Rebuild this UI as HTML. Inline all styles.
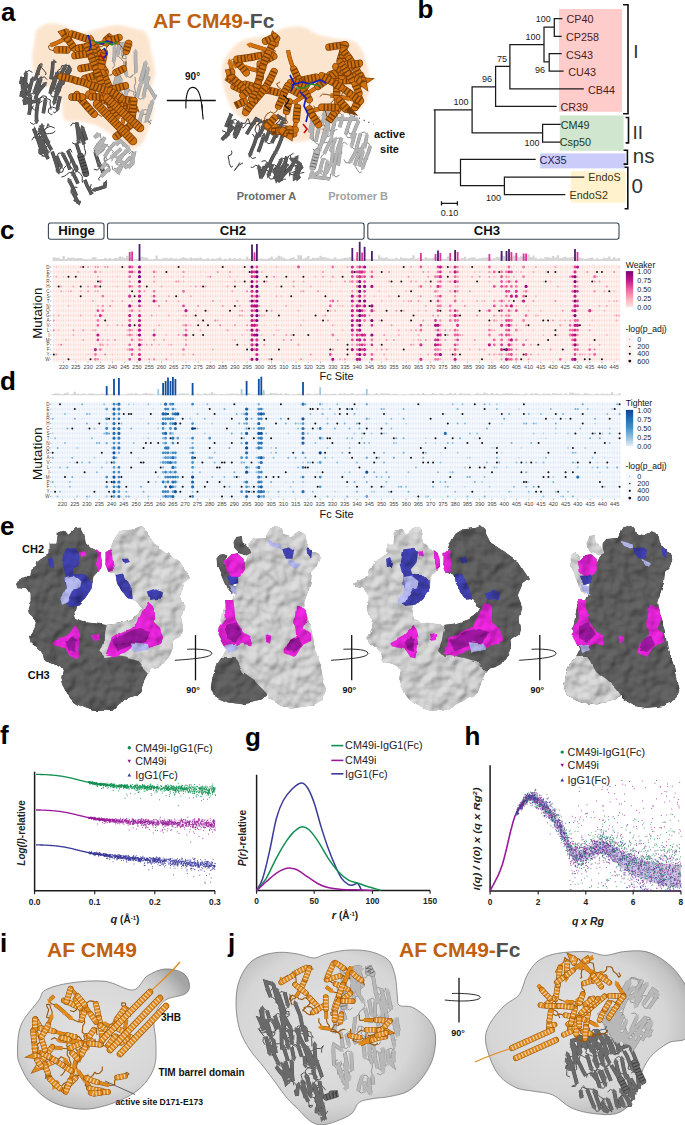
<!DOCTYPE html>
<html><head><meta charset="utf-8"><style>
html,body{margin:0;padding:0;background:#fff;}
body{width:685px;height:1125px;overflow:hidden;}
svg{display:block;}
text{font-family:"Liberation Sans", sans-serif;}
</style></head><body>
<svg width="685" height="1125" viewBox="0 0 685 1125">
<rect width="685" height="1125" fill="#fff"/>
<filter id="soft" x="-10%" y="-10%" width="120%" height="120%"><feGaussianBlur stdDeviation="1.6"/></filter>
<path d="M37.0 30.0C39.0 27.3 42.8 24.5 47.0 23.7C51.2 22.9 56.2 23.6 62.0 25.0C67.8 26.4 75.8 31.8 82.0 32.4C88.2 33.0 93.2 29.8 99.0 28.6C104.8 27.4 110.9 25.0 116.7 25.0C122.5 25.0 129.1 27.2 134.0 28.6C138.9 30.0 143.5 29.7 146.4 33.6C149.3 37.5 150.0 45.8 151.4 52.2C152.8 58.6 155.0 65.8 155.0 72.0C155.0 78.2 151.6 83.3 151.4 89.5C151.2 95.7 154.4 103.1 154.0 109.3C153.6 115.5 151.1 120.9 149.0 126.7C146.9 132.5 144.8 140.3 141.5 144.0C138.2 147.7 133.1 149.8 129.0 149.0C124.9 148.2 121.7 142.7 116.7 139.0C111.8 135.3 105.1 129.6 99.3 126.7C93.5 123.8 87.8 123.0 82.0 121.7C76.2 120.5 68.2 123.3 64.5 119.2C60.8 115.1 64.2 103.6 59.6 97.0C55.1 90.4 41.8 85.7 37.2 79.5C32.7 73.3 32.7 66.3 32.3 59.7C31.9 53.1 33.9 44.8 34.7 39.8C35.5 34.8 35.0 32.7 37.0 30.0Z" fill="#fce5cf" filter="url(#soft)"/>
<path d="M55.9 96.5 52.1 96.9 50.1 93.6M55.4 76.4 59.1 75.5 61.6 78.4M56.6 73.1 58.6 69.8 60.5 69.1M60.5 69.1 61.9 65.6 63.8 65.5 63.9 69.0 65.9 69.3M27.5 99.6 27.0 103.4 23.5 104.7M40.8 77.8 44.5 76.8 47.1 79.6M39.7 98.4 42.7 95.8 46.3 96.4 46.7 98.4M46.7 98.4 50.4 99.9 50.0 103.9 50.8 107.8 51.0 109.8M63.0 77.6 60.2 80.5 58.6 84.1M28.3 111.4 28.1 111.1 31.6 109.2 33.4 105.6M42.4 101.1 39.1 103.0 38.0 101.4M38.0 101.4 36.2 98.0 36.7 94.1M57.2 110.0 54.9 113.0 53.2 111.9M39.3 75.0 38.6 71.4 40.4 67.9 39.7 64.1 40.0 66.0M65.3 80.2 61.6 80.9 59.2 77.9M65.6 65.5 69.4 65.3 71.3 68.7M22.1 81.1 25.9 80.9 27.8 84.2M32.2 104.1 31.4 100.3 27.9 98.4 24.6 96.3M25.9 72.4 29.1 70.4 32.4 72.4M38.2 67.4 40.1 63.9 42.2 63.9M42.2 63.9 41.5 67.5 43.8 70.1 46.1 73.1 45.4 75.0M58.0 77.9 55.3 80.3 53.9 83.9 54.9 87.7 55.1 89.7M63.2 75.0 61.2 71.8 57.4 72.2M52.6 89.6 55.0 92.5 58.8 91.6M30.1 94.9 33.3 92.7 36.6 94.6M52.4 114.2 51.3 114.7 48.2 112.3 48.9 108.4M48.9 108.4 52.1 106.9 55.5 108.2M59.9 91.7 60.7 88.0 62.3 84.5M69.8 70.1 66.5 72.0 63.3 70.0M32.5 78.3 36.1 77.1 38.9 79.7M45.5 99.4 42.6 96.9 39.1 98.4M36.7 122.1 33.6 124.4 30.2 122.6M35.0 110.6 32.3 107.8 30.4 107.1" fill="none" stroke="#3a3a3a" stroke-width="1.0" stroke-linejoin="round"/>
<path d="M63.5 78.0 61.3 83.6 59.1 89.2 56.8 94.7 56.8 94.7M50.1 93.6 51.6 87.8 53.6 82.1 54.8 78.3M21.9 77.2 22.2 83.1 22.8 89.1 22.8 89.1M23.2 91.1 21.1 96.7 21.5 94.3 25.9 98.3 25.9 98.3M35.3 99.1 37.2 93.4 38.5 87.6 39.8 81.7 40.3 79.8M58.6 84.1 57.3 90.0 56.0 95.8 54.5 101.6 54.5 101.6M36.7 94.1 40.2 89.2 44.2 84.7 44.2 84.7M60.1 96.3 58.7 102.1 57.5 108.0 57.5 108.0M40.0 66.0 37.9 71.6 36.0 77.3 36.0 77.3M70.6 69.4 67.6 74.7 66.0 78.3M59.2 77.9 61.9 72.6 64.6 67.2 64.6 67.2M22.2 76.9 21.0 82.8 21.1 82.9M27.8 84.2 24.9 89.4 22.0 94.6 22.3 94.8M24.6 96.3 25.2 90.4 25.4 84.4 25.7 78.4 25.9 74.4M24.0 99.3 24.8 102.9 30.8 101.9 36.7 101.1 36.7 101.1M56.8 89.7 59.1 84.1 61.6 78.7 62.4 76.8M57.4 72.2 55.8 78.0 54.2 83.8 53.2 87.7M29.0 114.8 30.0 108.9 30.1 102.9 30.2 96.9 30.2 96.9M62.3 84.5 64.4 78.9 66.4 73.3 69.1 67.9 69.8 68.1M50.9 79.3 51.9 73.4 52.6 67.5 52.9 61.5 52.9 61.5M27.7 95.7 29.5 89.9 31.0 84.2 32.1 80.3M38.9 79.7 36.8 85.3 34.9 91.0 34.9 91.0M43.3 113.2 44.3 107.3 45.2 101.4 45.2 101.4M39.1 98.4 37.6 104.2 36.8 110.2 36.4 116.2 36.6 120.2" fill="none" stroke="#3a3a3a" stroke-width="3.6"/>
<path d="M63.5 78.0 61.3 83.6 59.1 89.2 56.8 94.7 56.8 94.7M50.1 93.6 51.6 87.8 53.6 82.1 54.8 78.3M21.9 77.2 22.2 83.1 22.8 89.1 22.8 89.1M23.2 91.1 21.1 96.7 21.5 94.3 25.9 98.3 25.9 98.3M35.3 99.1 37.2 93.4 38.5 87.6 39.8 81.7 40.3 79.8M58.6 84.1 57.3 90.0 56.0 95.8 54.5 101.6 54.5 101.6M36.7 94.1 40.2 89.2 44.2 84.7 44.2 84.7M60.1 96.3 58.7 102.1 57.5 108.0 57.5 108.0M40.0 66.0 37.9 71.6 36.0 77.3 36.0 77.3M70.6 69.4 67.6 74.7 66.0 78.3M59.2 77.9 61.9 72.6 64.6 67.2 64.6 67.2M22.2 76.9 21.0 82.8 21.1 82.9M27.8 84.2 24.9 89.4 22.0 94.6 22.3 94.8M24.6 96.3 25.2 90.4 25.4 84.4 25.7 78.4 25.9 74.4M24.0 99.3 24.8 102.9 30.8 101.9 36.7 101.1 36.7 101.1M56.8 89.7 59.1 84.1 61.6 78.7 62.4 76.8M57.4 72.2 55.8 78.0 54.2 83.8 53.2 87.7M29.0 114.8 30.0 108.9 30.1 102.9 30.2 96.9 30.2 96.9M62.3 84.5 64.4 78.9 66.4 73.3 69.1 67.9 69.8 68.1M50.9 79.3 51.9 73.4 52.6 67.5 52.9 61.5 52.9 61.5M27.7 95.7 29.5 89.9 31.0 84.2 32.1 80.3M38.9 79.7 36.8 85.3 34.9 91.0 34.9 91.0M43.3 113.2 44.3 107.3 45.2 101.4 45.2 101.4M39.1 98.4 37.6 104.2 36.8 110.2 36.4 116.2 36.6 120.2" fill="none" stroke="#5a5a5a" stroke-width="2.8"/>
<path d="M54.4 93.5L59.2 95.9L54.9 98.5ZM57.3 79.2L52.2 77.5L56.1 74.3ZM20.2 89.6L25.5 88.7L23.6 93.3ZM24.3 100.4L27.6 96.3L29.2 101.0ZM42.8 80.5L37.7 79.1L41.4 75.7ZM51.9 100.9L57.1 102.3L53.4 105.7ZM46.0 86.6L42.3 82.8L47.2 81.8ZM54.9 107.6L60.1 108.4L56.8 112.2ZM33.5 76.5L38.5 78.2L34.7 81.4ZM63.5 77.4L68.5 79.3L64.6 82.3ZM66.9 68.5L62.3 65.9L66.7 63.5ZM23.5 84.1L18.8 81.6L23.1 79.1ZM24.4 96.4L20.2 93.2L24.9 91.5ZM28.5 74.4L23.2 74.4L25.9 70.1ZM37.4 103.7L36.1 98.6L40.8 100.1ZM64.8 78.0L60.0 75.7L64.2 73.0ZM50.7 86.8L55.8 88.5L51.9 91.7ZM32.8 96.8L27.5 97.0L30.0 92.6ZM67.1 68.0L72.5 68.1L69.8 72.3ZM52.4 64.1L53.5 58.9L57.1 62.3ZM34.7 80.9L29.5 79.7L33.0 76.1ZM32.4 90.2L37.4 91.9L33.6 95.1ZM47.8 101.8L42.5 101.0L45.8 97.2ZM33.9 120.3L39.2 120.0L36.8 124.4Z" fill="#5a5a5a"/>
<path d="M34.4 126.6 35.4 130.0 38.2 132.6 39.7 136.1M39.4 150.6 41.0 147.2 44.9 147.1M55.4 131.1 52.9 133.0 49.5 133.6 45.7 133.9M45.7 133.9 44.5 130.1 46.8 127.4M46.8 127.4 48.1 123.7 48.6 124.2 49.1 126.1M71.8 190.5 73.6 187.2 77.4 187.4M80.9 142.9 77.9 142.1 76.3 143.2M72.4 173.0 74.0 169.6 77.9 169.4M54.7 128.1 51.1 126.5 49.1 126.7M49.1 126.7 45.7 128.5 43.1 131.0M48.8 143.6 46.8 146.8 43.0 146.5M62.5 153.3 58.7 153.0 56.7 156.2M61.4 167.2 59.3 170.4 55.5 170.0M58.6 172.6 62.6 172.0 63.8 168.3 66.5 165.4M71.1 160.7 73.7 163.6 77.2 165.5 78.1 169.4 77.2 171.2M77.2 171.2 80.2 173.4 82.3 176.7 82.2 180.7 82.6 182.7M40.0 144.9 37.8 142.0 36.4 138.4 39.4 136.8M47.4 153.0 45.4 156.2 41.6 155.9M61.4 177.1 64.7 176.0 66.3 174.8M66.3 174.8 69.5 172.4 73.4 173.1 72.9 169.6M72.9 169.6 70.8 166.9 69.3 165.5M69.3 165.5 70.6 161.7 70.6 159.7M77.8 156.9 79.9 155.6 83.6 157.1 84.8 155.4M84.8 155.4 85.7 152.1 84.4 148.3 84.1 144.4M76.5 123.7 72.7 123.1 70.5 126.2M72.0 152.4 70.2 148.9 67.7 150.5M76.5 170.6 74.1 173.6 70.3 172.8M37.7 137.3 33.9 137.0 31.8 140.2M37.8 139.8 35.6 137.0 37.5 134.4M37.5 134.4 41.1 133.1 44.5 133.1 44.3 131.1M104.0 183.7 105.4 187.4 105.8 184.4 106.4 180.5 105.4 182.3M93.3 190.3 90.4 187.8 91.2 184.1M95.0 153.0 94.2 150.2 95.1 152.0M100.0 167.2 97.5 170.1 93.8 169.2M103.6 172.9 100.9 175.7 98.6 178.7 99.4 180.5M41.6 151.2 41.8 155.2 43.6 156.1M34.7 136.5 36.7 139.8 40.4 138.5 42.1 139.6M45.2 151.2 48.8 152.5 51.5 149.9M39.3 129.3 40.9 125.8 44.7 125.8M78.6 142.4 75.5 144.5 72.1 142.7" fill="none" stroke="#3a3a3a" stroke-width="1.0" stroke-linejoin="round"/>
<path d="M39.7 136.1 40.4 142.1 41.0 148.1 41.5 154.0 40.4 152.3M74.3 199.1 78.5 202.2 80.3 203.1 80.3 203.1M78.3 202.9 75.6 197.5 72.7 192.3 72.7 192.3M76.3 143.2 78.1 148.9 80.0 154.6 80.0 154.6M78.0 183.6 75.5 178.2 73.6 174.7M43.1 131.0 41.2 125.3 41.0 125.3M41.3 127.3 43.5 132.9 46.1 138.3 47.9 141.8M86.5 140.1 84.6 134.4 82.7 128.7 82.7 128.7M69.9 169.6 67.9 164.0 65.2 158.6 63.4 155.1M56.7 156.2 58.9 161.8 60.6 165.4M52.2 151.6 54.1 157.3 56.0 163.0 57.7 168.7 58.1 170.7M39.4 136.8 42.0 142.2 44.8 147.6 46.5 151.2M76.4 195.7 74.0 190.2 71.5 184.8 69.6 181.3M84.1 144.4 82.3 138.6 80.2 133.0 77.9 127.5 77.2 125.6M67.7 150.5 70.1 156.0 72.8 161.3 75.1 166.9 75.8 168.7M48.2 158.9 45.5 153.6 42.9 148.1 40.2 142.8 38.6 139.1M105.4 182.3 104.8 186.7 99.1 188.5 95.2 189.6M95.1 152.0 96.9 157.7 98.6 163.4 99.3 165.3M96.4 156.5 98.4 162.1 101.1 167.5 102.7 171.2M33.6 128.6 35.8 134.2 37.9 139.8 39.8 145.5 41.0 149.3M42.1 139.6 43.7 145.4 44.8 149.2M51.5 149.9 48.4 144.7 45.3 139.6 42.3 134.4 40.3 130.9M84.8 179.9 87.0 185.5 89.8 190.8 91.7 194.3M76.7 122.5 77.4 128.5 78.2 134.4 78.6 140.4 78.6 140.4" fill="none" stroke="#3a3a3a" stroke-width="3.6"/>
<path d="M39.7 136.1 40.4 142.1 41.0 148.1 41.5 154.0 40.4 152.3M74.3 199.1 78.5 202.2 80.3 203.1 80.3 203.1M78.3 202.9 75.6 197.5 72.7 192.3 72.7 192.3M76.3 143.2 78.1 148.9 80.0 154.6 80.0 154.6M78.0 183.6 75.5 178.2 73.6 174.7M43.1 131.0 41.2 125.3 41.0 125.3M41.3 127.3 43.5 132.9 46.1 138.3 47.9 141.8M86.5 140.1 84.6 134.4 82.7 128.7 82.7 128.7M69.9 169.6 67.9 164.0 65.2 158.6 63.4 155.1M56.7 156.2 58.9 161.8 60.6 165.4M52.2 151.6 54.1 157.3 56.0 163.0 57.7 168.7 58.1 170.7M39.4 136.8 42.0 142.2 44.8 147.6 46.5 151.2M76.4 195.7 74.0 190.2 71.5 184.8 69.6 181.3M84.1 144.4 82.3 138.6 80.2 133.0 77.9 127.5 77.2 125.6M67.7 150.5 70.1 156.0 72.8 161.3 75.1 166.9 75.8 168.7M48.2 158.9 45.5 153.6 42.9 148.1 40.2 142.8 38.6 139.1M105.4 182.3 104.8 186.7 99.1 188.5 95.2 189.6M95.1 152.0 96.9 157.7 98.6 163.4 99.3 165.3M96.4 156.5 98.4 162.1 101.1 167.5 102.7 171.2M33.6 128.6 35.8 134.2 37.9 139.8 39.8 145.5 41.0 149.3M42.1 139.6 43.7 145.4 44.8 149.2M51.5 149.9 48.4 144.7 45.3 139.6 42.3 134.4 40.3 130.9M84.8 179.9 87.0 185.5 89.8 190.8 91.7 194.3M76.7 122.5 77.4 128.5 78.2 134.4 78.6 140.4 78.6 140.4" fill="none" stroke="#5a5a5a" stroke-width="2.8"/>
<path d="M42.7 150.9L38.2 153.8L38.2 148.8ZM80.7 200.5L79.9 205.8L76.1 202.5ZM75.0 191.0L70.4 193.5L70.7 188.5ZM77.5 155.5L82.5 153.7L81.5 158.6ZM75.8 173.2L71.3 176.2L71.2 171.2ZM38.4 125.7L43.6 124.9L41.6 129.5ZM45.6 143.0L50.3 140.6L49.9 145.6ZM85.2 127.9L80.2 129.6L81.3 124.7ZM65.8 153.9L61.0 156.3L61.5 151.3ZM58.2 166.6L63.0 164.3L62.4 169.3ZM55.5 171.4L60.7 169.9L59.2 174.7ZM44.1 152.4L48.9 150.0L48.4 155.0ZM72.0 180.0L67.3 182.5L67.7 177.5ZM79.7 124.6L74.8 126.6L75.6 121.7ZM73.3 169.6L78.3 167.8L77.2 172.7ZM41.0 138.0L36.2 140.3L36.7 135.3ZM94.4 187.1L96.1 192.1L91.2 191.0ZM96.8 166.1L101.9 164.5L100.7 169.3ZM100.4 172.4L105.1 170.0L104.6 174.9ZM38.5 150.1L43.5 148.5L42.3 153.3ZM42.2 149.7L47.4 148.7L45.6 153.4ZM42.6 129.5L38.1 132.4L38.1 127.4ZM94.1 193.1L89.4 195.4L89.9 190.5ZM75.9 140.5L81.2 140.3L78.7 144.6Z" fill="#5a5a5a"/>
<defs><path id="h1" d="M80.7 156.5 82.5 162.2 84.3 167.9 85.8 173.7" fill="none"/></defs>
<use href="#h1" stroke="#3a3a3a" stroke-width="6.7" stroke-linecap="round"/>
<use href="#h1" stroke="#5a5a5a" stroke-width="5.5" stroke-linecap="round"/>
<use href="#h1" stroke="#000" stroke-width="5.5" stroke-dasharray="0.9 2.3" stroke-linecap="butt" opacity="0.45"/>
<path d="M121.0 88.3 119.6 92.1 118.0 95.7 116.4 95.7M119.1 73.8 116.1 71.5 112.6 73.1M132.6 103.9 131.2 100.5 127.6 99.3 124.6 96.7 123.3 95.2M123.3 95.2 121.5 91.7 117.8 91.3 115.8 91.8M126.6 92.0 130.1 90.5 133.9 91.7 133.8 95.0M133.8 95.0 136.1 98.2 135.7 101.4 135.3 105.3 133.4 106.0M143.6 97.7 140.2 99.3 137.1 97.0M140.9 83.5 144.6 82.7 147.0 85.7M135.0 97.2 135.8 93.6 135.1 90.2 134.3 86.3M134.3 86.3 135.7 82.5 135.2 78.9 135.1 76.9M126.7 108.0 123.3 106.3 120.3 108.6M126.3 51.4 125.9 55.2 126.1 59.1M126.1 59.1 122.2 58.1 122.7 56.1M143.6 122.2 147.6 121.6 151.1 123.3 149.4 124.3M121.7 80.1 120.8 76.4 117.1 75.5M130.3 77.8 133.1 75.3 135.7 72.7M142.6 114.4 146.6 114.2 148.5 110.7 149.0 108.9M112.2 68.7 114.7 65.7 113.5 62.2M114.6 46.3 116.2 43.2 115.0 46.9 113.8 48.5M117.5 55.6 120.6 58.1 123.0 61.1 124.9 62.0M126.3 75.9 129.8 77.4 132.7 74.9M151.8 120.1 148.5 121.9 146.4 119.2M119.6 106.2 121.7 109.4 125.5 108.9M125.6 104.1 124.5 100.2 124.6 96.3 122.6 93.6M133.2 121.5 136.2 123.9 139.6 122.3M142.4 110.6 146.0 109.5 148.7 112.2" fill="none" stroke="#8a8a8a" stroke-width="1.0" stroke-linejoin="round"/>
<path d="M116.4 95.7 117.0 89.7 117.9 83.8 118.6 77.8 118.9 75.8M148.9 76.4 147.1 82.1 145.4 87.9 144.0 93.7 143.8 95.7M137.1 97.0 138.6 91.2 140.2 85.4 140.2 85.4M140.3 81.4 141.8 75.6 143.6 69.9 145.2 64.1 145.2 64.1M145.8 62.2 144.5 68.0 143.1 73.9 141.6 79.7 141.1 81.6M130.9 116.1 129.0 121.8 127.8 115.9 126.9 110.0 126.9 110.0M122.7 56.1 122.6 50.1 121.9 44.2 125.5 43.3 129.3 44.6M155.8 94.4 154.6 96.7 151.6 91.5 148.3 86.5 146.0 83.2M144.9 81.6 146.3 75.7 147.7 69.9 147.7 69.9M113.5 84.6 114.7 87.3 118.9 83.0 120.2 81.5M117.1 75.5 115.3 81.2 113.9 87.1 113.6 89.1M135.7 72.7 135.8 66.7 135.5 60.7 135.5 54.7 135.6 52.7M113.5 62.2 114.4 56.3 114.5 50.3 114.5 48.3M146.3 121.6 148.2 115.9 150.2 110.2 151.7 104.4 152.1 102.5M120.0 41.9 118.9 47.8 117.8 53.7 117.8 53.7M124.9 62.0 125.2 67.9 126.0 73.9 126.0 73.9M146.4 119.2 148.1 113.5 149.7 107.7 150.3 105.8M128.6 88.4 125.9 93.7 123.0 99.0 120.4 104.4 120.4 104.4M125.5 108.9 125.5 102.9 125.7 96.9 125.7 90.9 125.9 86.9M136.1 105.8 134.9 111.6 133.8 117.5 133.4 119.5M139.6 122.3 140.8 116.4 141.9 112.5" fill="none" stroke="#8a8a8a" stroke-width="3.6"/>
<path d="M116.4 95.7 117.0 89.7 117.9 83.8 118.6 77.8 118.9 75.8M148.9 76.4 147.1 82.1 145.4 87.9 144.0 93.7 143.8 95.7M137.1 97.0 138.6 91.2 140.2 85.4 140.2 85.4M140.3 81.4 141.8 75.6 143.6 69.9 145.2 64.1 145.2 64.1M145.8 62.2 144.5 68.0 143.1 73.9 141.6 79.7 141.1 81.6M130.9 116.1 129.0 121.8 127.8 115.9 126.9 110.0 126.9 110.0M122.7 56.1 122.6 50.1 121.9 44.2 125.5 43.3 129.3 44.6M155.8 94.4 154.6 96.7 151.6 91.5 148.3 86.5 146.0 83.2M144.9 81.6 146.3 75.7 147.7 69.9 147.7 69.9M113.5 84.6 114.7 87.3 118.9 83.0 120.2 81.5M117.1 75.5 115.3 81.2 113.9 87.1 113.6 89.1M135.7 72.7 135.8 66.7 135.5 60.7 135.5 54.7 135.6 52.7M113.5 62.2 114.4 56.3 114.5 50.3 114.5 48.3M146.3 121.6 148.2 115.9 150.2 110.2 151.7 104.4 152.1 102.5M120.0 41.9 118.9 47.8 117.8 53.7 117.8 53.7M124.9 62.0 125.2 67.9 126.0 73.9 126.0 73.9M146.4 119.2 148.1 113.5 149.7 107.7 150.3 105.8M128.6 88.4 125.9 93.7 123.0 99.0 120.4 104.4 120.4 104.4M125.5 108.9 125.5 102.9 125.7 96.9 125.7 90.9 125.9 86.9M136.1 105.8 134.9 111.6 133.8 117.5 133.4 119.5M139.6 122.3 140.8 116.4 141.9 112.5" fill="none" stroke="#b4b4b4" stroke-width="2.8"/>
<path d="M121.5 76.1L116.2 75.5L119.4 71.6ZM141.2 95.4L146.5 96.0L143.4 99.9ZM142.7 86.3L137.7 84.5L141.6 81.4ZM147.8 64.8L142.6 63.3L146.4 60.0ZM138.6 81.0L143.7 82.2L140.2 85.7ZM129.6 109.7L124.3 110.2L126.5 105.8ZM128.3 47.1L130.2 42.1L133.2 46.2ZM148.2 81.7L143.8 84.7L143.6 79.7ZM150.3 70.6L145.1 69.2L148.8 65.8ZM122.1 83.4L118.4 79.6L123.2 78.5ZM115.9 87.7L111.3 90.4L111.5 85.4ZM138.2 52.8L132.9 52.7L135.6 48.5ZM117.2 48.4L111.9 48.2L114.7 44.1ZM154.7 103.1L149.5 101.8L153.2 98.4ZM115.2 53.3L120.4 54.0L117.2 57.9ZM123.4 74.3L128.7 73.5L126.6 78.1ZM152.8 106.7L147.8 104.9L151.7 101.8ZM118.0 103.3L122.8 105.5L118.6 108.2ZM128.6 87.0L123.2 86.9L126.0 82.7ZM130.8 119.2L136.1 119.8L132.9 123.7ZM144.5 113.2L139.3 111.9L142.9 108.4Z" fill="#b4b4b4"/>
<path d="M99.1 147.8 95.5 149.3 94.3 153.1 96.3 149.7 94.7 148.5M94.7 148.5 96.3 145.0 97.1 143.2M133.0 161.6 129.7 160.5 126.3 162.1 125.0 163.6M125.0 163.6 121.3 164.8 117.3 165.0 115.9 163.5M127.3 149.6 125.8 146.1 122.0 145.8M97.1 144.1 101.0 143.7 105.0 144.1M105.0 144.1 107.8 145.9 110.4 149.0 113.4 151.5 112.2 153.1M129.0 154.1 131.7 151.2 133.1 151.6 131.5 155.3 130.4 157.0M116.1 170.8 112.5 169.4 112.1 165.6M128.9 148.6 128.2 152.3 124.6 153.4M109.3 167.5 107.7 163.9 104.5 161.8 104.1 158.1 106.0 157.3M106.0 157.3 107.2 160.0 104.1 160.7 104.5 156.8M133.7 161.9 132.6 158.2 128.8 157.6M98.1 161.3 98.7 163.3 101.8 165.8M101.8 165.8 105.8 165.7 109.3 166.6 110.0 170.3 109.4 172.2M131.3 161.5 128.0 159.6 124.8 161.7M119.0 172.2 117.6 168.6 113.8 168.3M116.3 156.7 112.6 157.6 111.8 161.3M104.9 164.3 108.6 164.9 109.8 168.5M105.2 172.3 104.3 168.6 100.6 167.7M108.1 144.2 104.8 146.2 104.2 149.9 101.7 152.7 99.7 152.8M99.7 152.8 96.0 153.8 95.3 153.4 97.1 151.6M110.7 157.9 107.5 159.9 104.3 162.2 103.1 163.8M99.5 134.4 100.2 134.4 101.1 138.3 101.8 140.2" fill="none" stroke="#8a8a8a" stroke-width="1.0" stroke-linejoin="round"/>
<path d="M104.9 137.2 102.0 142.5 100.1 146.0M115.9 163.5 119.8 158.9 123.6 154.4 126.1 151.2M130.4 157.0 126.5 161.5 122.1 165.6 117.6 169.6 117.6 169.6M116.2 145.2 120.0 140.6 124.5 144.5 127.4 147.2M105.7 144.9 101.7 149.3 97.4 153.6 96.5 151.0 96.7 149.0M104.5 156.8 107.7 151.7 111.2 146.8 113.9 143.9M133.5 161.7 132.3 163.3 128.3 167.8 132.4 163.4 132.4 163.4M131.7 154.7 134.1 153.8 132.8 159.7 131.3 165.5 131.3 163.5M124.8 161.7 121.4 166.6 118.7 172.0 117.8 173.8M129.5 165.1 125.9 166.9 121.9 162.4 117.7 158.1 117.7 158.1M102.3 167.4 101.0 168.9 103.6 165.8M109.8 168.5 105.3 172.5 101.1 176.8 103.7 173.7M121.3 148.7 116.8 152.6 112.3 156.6 112.3 156.6M98.6 133.3 94.4 137.6 97.8 135.4M101.8 140.2 98.1 144.9 94.7 149.8 99.0 145.6 100.5 144.3M119.0 157.7 123.7 153.9 128.4 150.1 129.7 148.5 129.7 148.5" fill="none" stroke="#8a8a8a" stroke-width="3.6"/>
<path d="M104.9 137.2 102.0 142.5 100.1 146.0M115.9 163.5 119.8 158.9 123.6 154.4 126.1 151.2M130.4 157.0 126.5 161.5 122.1 165.6 117.6 169.6 117.6 169.6M116.2 145.2 120.0 140.6 124.5 144.5 127.4 147.2M105.7 144.9 101.7 149.3 97.4 153.6 96.5 151.0 96.7 149.0M104.5 156.8 107.7 151.7 111.2 146.8 113.9 143.9M133.5 161.7 132.3 163.3 128.3 167.8 132.4 163.4 132.4 163.4M131.7 154.7 134.1 153.8 132.8 159.7 131.3 165.5 131.3 163.5M124.8 161.7 121.4 166.6 118.7 172.0 117.8 173.8M129.5 165.1 125.9 166.9 121.9 162.4 117.7 158.1 117.7 158.1M102.3 167.4 101.0 168.9 103.6 165.8M109.8 168.5 105.3 172.5 101.1 176.8 103.7 173.7M121.3 148.7 116.8 152.6 112.3 156.6 112.3 156.6M98.6 133.3 94.4 137.6 97.8 135.4M101.8 140.2 98.1 144.9 94.7 149.8 99.0 145.6 100.5 144.3M119.0 157.7 123.7 153.9 128.4 150.1 129.7 148.5 129.7 148.5" fill="none" stroke="#b4b4b4" stroke-width="2.8"/>
<path d="M97.8 144.7L102.4 147.3L98.0 149.7ZM128.3 152.8L124.0 149.7L128.6 147.8ZM116.0 167.5L119.3 171.7L114.3 172.2ZM125.7 149.2L129.2 145.2L130.6 150.1ZM99.3 149.4L94.0 148.7L97.2 144.8ZM115.7 145.8L112.0 142.0L116.9 140.9ZM134.4 165.1L130.4 161.6L135.2 160.2ZM134.0 163.4L128.7 163.6L131.2 159.3ZM120.0 175.4L115.7 172.2L120.3 170.4ZM119.6 156.2L115.9 160.0L114.7 155.1ZM105.6 167.5L101.6 164.1L106.3 162.6ZM105.6 175.6L101.9 171.8L106.7 170.7ZM110.6 154.6L114.0 158.7L109.0 159.3ZM99.1 137.7L96.4 133.2L101.4 133.2ZM102.2 146.4L98.8 142.3L103.8 141.6ZM128.5 146.1L130.8 150.9L125.9 150.3Z" fill="#b4b4b4"/>
<path d="M66.2 32.3 69.9 33.4 71.8 34.0M87.1 38.9 90.8 40.1 93.8 42.5 95.4 43.6M95.4 43.6 97.1 46.8 101.1 46.8 104.5 45.1M104.5 45.1 104.9 41.3 106.4 39.9M109.7 37.2 113.3 38.6 117.3 38.6 120.9 36.9 119.0 37.5M78.5 48.2 77.1 52.0 76.7 55.9 74.5 59.0M116.1 136.5 115.5 135.6 117.8 132.4 120.1 131.4M127.4 108.5 129.3 105.3 132.5 106.7 136.2 105.3M74.6 56.3 75.4 53.1 73.0 50.1 69.0 50.2 67.0 50.0M57.0 49.9 53.1 50.6 49.4 49.4 48.4 46.0 50.3 45.4M64.7 38.6 68.4 37.8 66.9 34.2M66.9 34.2 68.4 32.6 70.3 35.5 71.6 39.0M94.2 114.1 98.1 114.3 101.4 116.4M101.4 116.4 104.8 114.2 108.8 114.8 110.7 115.2M110.7 115.2 114.0 114.3 115.6 113.1M115.6 113.1 115.5 109.1 114.9 105.2M114.9 105.2 115.1 101.9 114.1 98.0M114.1 98.0 110.7 95.9 106.8 96.4 104.1 99.0 104.8 100.9M138.9 112.5 138.4 109.7 134.5 109.2M89.0 94.1 88.6 91.8 92.4 92.5 92.7 90.5M126.0 60.5 125.8 64.5 125.1 67.9 123.3 68.9M116.1 72.4 112.4 73.4 111.4 75.1M111.4 75.1 107.6 75.0 105.2 71.7M95.3 54.4 92.8 53.2 90.8 53.4M94.6 65.9 96.3 62.3 98.0 61.2M98.0 61.2 99.2 57.8 99.2 53.8 98.2 52.1M92.8 43.7 90.7 41.1 90.6 37.1 89.1 35.8M84.9 78.6 86.1 81.8 87.2 85.6 89.3 88.9 90.7 90.4M90.7 90.4 94.7 90.4 98.4 91.8 102.2 92.0M122.1 57.4 124.0 54.0 126.4 51.1M128.5 43.4 128.3 46.8 126.6 47.8M126.6 47.8 122.8 48.7 120.5 45.4 119.1 44.0M107.5 41.5 107.7 45.5 105.9 49.0 104.3 52.6M55.4 76.4 59.3 76.4 61.3 76.7M105.3 90.1 108.8 89.8 110.5 90.9" fill="none" stroke="#7e3c00" stroke-width="0.9" stroke-linejoin="round"/>
<path d="M109.5 40.5 103.7 42.2 98.0 43.8 92.1 45.2 92.1 45.2M120.1 131.4 121.7 125.6 123.4 119.8 123.4 119.8M124.1 118.0 126.4 112.4 126.9 110.5M50.3 45.4 55.9 43.3 61.3 40.7 63.0 39.6M104.5 76.1 102.7 70.4 101.2 64.5 100.7 62.6M89.1 35.8 92.0 39.0 93.1 44.9 93.2 46.9M82.0 97.0 88.0 96.7 89.9 96.8M119.1 44.0 114.8 39.8 110.1 36.1 108.4 39.7" fill="none" stroke="#7e3c00" stroke-width="4.2"/>
<path d="M109.5 40.5 103.7 42.2 98.0 43.8 92.1 45.2 92.1 45.2M120.1 131.4 121.7 125.6 123.4 119.8 123.4 119.8M124.1 118.0 126.4 112.4 126.9 110.5M50.3 45.4 55.9 43.3 61.3 40.7 63.0 39.6M104.5 76.1 102.7 70.4 101.2 64.5 100.7 62.6M89.1 35.8 92.0 39.0 93.1 44.9 93.2 46.9M82.0 97.0 88.0 96.7 89.9 96.8M119.1 44.0 114.8 39.8 110.1 36.1 108.4 39.7" fill="none" stroke="#d0700e" stroke-width="3.4"/>
<path d="M91.5 42.1L92.8 48.4L87.5 46.2ZM126.4 121.0L120.4 118.7L125.1 115.4ZM130.0 111.3L123.8 109.7L128.1 105.9ZM64.7 42.4L61.3 36.9L67.0 37.1ZM103.9 61.9L97.6 63.3L99.7 58.0ZM90.0 47.2L96.4 46.6L93.7 51.6ZM89.9 100.0L90.0 93.6L94.7 97.0ZM105.4 38.3L111.3 41.0L106.4 43.9Z" fill="#d0700e"/>
<defs><path id="h2" d="M74.0 47.8 70.5 42.9 66.9 38.1" fill="none"/></defs>
<use href="#h2" stroke="#7e3c00" stroke-width="7.4" stroke-linecap="round"/>
<use href="#h2" stroke="#d0700e" stroke-width="6.2" stroke-linecap="round"/>
<use href="#h2" stroke="#000" stroke-width="6.2" stroke-dasharray="1.4 2.2" stroke-linecap="butt" opacity="0.45"/>
<defs><path id="h3" d="M66.9 38.1 63.4 33.3 66.2 32.3" fill="none"/></defs>
<use href="#h3" stroke="#7e3c00" stroke-width="7.4" stroke-linecap="round"/>
<use href="#h3" stroke="#d0700e" stroke-width="6.2" stroke-linecap="round"/>
<use href="#h3" stroke="#000" stroke-width="6.2" stroke-dasharray="1.4 2.2" stroke-linecap="butt" opacity="0.45"/>
<defs><path id="h4" d="M71.8 34.0 77.5 35.8 83.2 37.7 87.1 38.9" fill="none"/></defs>
<use href="#h4" stroke="#7e3c00" stroke-width="7.4" stroke-linecap="round"/>
<use href="#h4" stroke="#d0700e" stroke-width="6.2" stroke-linecap="round"/>
<use href="#h4" stroke="#000" stroke-width="6.2" stroke-dasharray="1.4 2.2" stroke-linecap="butt" opacity="0.45"/>
<defs><path id="h5" d="M106.4 39.9 110.9 36.0 107.6 41.0 106.6 42.8" fill="none"/></defs>
<use href="#h5" stroke="#7e3c00" stroke-width="7.4" stroke-linecap="round"/>
<use href="#h5" stroke="#d0700e" stroke-width="6.2" stroke-linecap="round"/>
<use href="#h5" stroke="#000" stroke-width="6.2" stroke-dasharray="1.4 2.2" stroke-linecap="butt" opacity="0.45"/>
<defs><path id="h6" d="M119.0 37.5 113.3 39.4 109.5 40.5" fill="none"/></defs>
<use href="#h6" stroke="#7e3c00" stroke-width="7.4" stroke-linecap="round"/>
<use href="#h6" stroke="#d0700e" stroke-width="6.2" stroke-linecap="round"/>
<use href="#h6" stroke="#000" stroke-width="6.2" stroke-dasharray="1.4 2.2" stroke-linecap="butt" opacity="0.45"/>
<defs><path id="h7" d="M90.2 45.6 84.3 47.0 78.5 48.2" fill="none"/></defs>
<use href="#h7" stroke="#7e3c00" stroke-width="7.4" stroke-linecap="round"/>
<use href="#h7" stroke="#d0700e" stroke-width="6.2" stroke-linecap="round"/>
<use href="#h7" stroke="#000" stroke-width="6.2" stroke-dasharray="1.4 2.2" stroke-linecap="butt" opacity="0.45"/>
<defs><path id="h8" d="M131.8 124.1 127.2 127.9 125.6 129.2" fill="none"/></defs>
<use href="#h8" stroke="#7e3c00" stroke-width="7.4" stroke-linecap="round"/>
<use href="#h8" stroke="#d0700e" stroke-width="6.2" stroke-linecap="round"/>
<use href="#h8" stroke="#000" stroke-width="6.2" stroke-dasharray="1.4 2.2" stroke-linecap="butt" opacity="0.45"/>
<defs><path id="h9" d="M125.6 129.2 120.9 132.8 116.1 136.5" fill="none"/></defs>
<use href="#h9" stroke="#7e3c00" stroke-width="7.4" stroke-linecap="round"/>
<use href="#h9" stroke="#d0700e" stroke-width="6.2" stroke-linecap="round"/>
<use href="#h9" stroke="#000" stroke-width="6.2" stroke-dasharray="1.4 2.2" stroke-linecap="butt" opacity="0.45"/>
<defs><path id="h10" d="M67.0 50.0 61.0 49.7 57.0 49.9" fill="none"/></defs>
<use href="#h10" stroke="#7e3c00" stroke-width="7.4" stroke-linecap="round"/>
<use href="#h10" stroke="#d0700e" stroke-width="6.2" stroke-linecap="round"/>
<use href="#h10" stroke="#000" stroke-width="6.2" stroke-dasharray="1.4 2.2" stroke-linecap="butt" opacity="0.45"/>
<defs><path id="h11" d="M76.8 94.7 80.8 99.2 84.7 103.7 87.4 106.7" fill="none"/></defs>
<use href="#h11" stroke="#7e3c00" stroke-width="7.4" stroke-linecap="round"/>
<use href="#h11" stroke="#d0700e" stroke-width="6.2" stroke-linecap="round"/>
<use href="#h11" stroke="#000" stroke-width="6.2" stroke-dasharray="1.4 2.2" stroke-linecap="butt" opacity="0.45"/>
<defs><path id="h12" d="M87.4 106.7 91.4 111.2 94.2 114.1" fill="none"/></defs>
<use href="#h12" stroke="#7e3c00" stroke-width="7.4" stroke-linecap="round"/>
<use href="#h12" stroke="#d0700e" stroke-width="6.2" stroke-linecap="round"/>
<use href="#h12" stroke="#000" stroke-width="6.2" stroke-dasharray="1.4 2.2" stroke-linecap="butt" opacity="0.45"/>
<defs><path id="h13" d="M134.5 109.2 128.6 107.8 122.9 106.0" fill="none"/></defs>
<use href="#h13" stroke="#7e3c00" stroke-width="7.4" stroke-linecap="round"/>
<use href="#h13" stroke="#d0700e" stroke-width="6.2" stroke-linecap="round"/>
<use href="#h13" stroke="#000" stroke-width="6.2" stroke-dasharray="1.4 2.2" stroke-linecap="butt" opacity="0.45"/>
<defs><path id="h14" d="M122.9 106.0 117.1 104.5 111.3 103.0 109.4 102.3" fill="none"/></defs>
<use href="#h14" stroke="#7e3c00" stroke-width="7.4" stroke-linecap="round"/>
<use href="#h14" stroke="#d0700e" stroke-width="6.2" stroke-linecap="round"/>
<use href="#h14" stroke="#000" stroke-width="6.2" stroke-dasharray="1.4 2.2" stroke-linecap="butt" opacity="0.45"/>
<defs><path id="h15" d="M109.4 102.3 103.9 100.1 98.3 97.7" fill="none"/></defs>
<use href="#h15" stroke="#7e3c00" stroke-width="7.4" stroke-linecap="round"/>
<use href="#h15" stroke="#d0700e" stroke-width="6.2" stroke-linecap="round"/>
<use href="#h15" stroke="#000" stroke-width="6.2" stroke-dasharray="1.4 2.2" stroke-linecap="butt" opacity="0.45"/>
<defs><path id="h16" d="M98.3 97.7 92.8 95.5 89.0 94.1" fill="none"/></defs>
<use href="#h16" stroke="#7e3c00" stroke-width="7.4" stroke-linecap="round"/>
<use href="#h16" stroke="#d0700e" stroke-width="6.2" stroke-linecap="round"/>
<use href="#h16" stroke="#000" stroke-width="6.2" stroke-dasharray="1.4 2.2" stroke-linecap="butt" opacity="0.45"/>
<defs><path id="h17" d="M92.7 90.5 94.1 84.7 94.9 80.8" fill="none"/></defs>
<use href="#h17" stroke="#7e3c00" stroke-width="7.4" stroke-linecap="round"/>
<use href="#h17" stroke="#d0700e" stroke-width="6.2" stroke-linecap="round"/>
<use href="#h17" stroke="#000" stroke-width="6.2" stroke-dasharray="1.4 2.2" stroke-linecap="butt" opacity="0.45"/>
<defs><path id="h18" d="M123.3 68.9 117.9 71.5 116.1 72.4" fill="none"/></defs>
<use href="#h18" stroke="#7e3c00" stroke-width="7.4" stroke-linecap="round"/>
<use href="#h18" stroke="#d0700e" stroke-width="6.2" stroke-linecap="round"/>
<use href="#h18" stroke="#000" stroke-width="6.2" stroke-dasharray="1.4 2.2" stroke-linecap="butt" opacity="0.45"/>
<defs><path id="h19" d="M105.2 71.7 102.0 66.7 100.9 65.0" fill="none"/></defs>
<use href="#h19" stroke="#7e3c00" stroke-width="7.4" stroke-linecap="round"/>
<use href="#h19" stroke="#d0700e" stroke-width="6.2" stroke-linecap="round"/>
<use href="#h19" stroke="#000" stroke-width="6.2" stroke-dasharray="1.4 2.2" stroke-linecap="butt" opacity="0.45"/>
<defs><path id="h20" d="M100.9 65.0 97.9 59.8 95.3 54.4" fill="none"/></defs>
<use href="#h20" stroke="#7e3c00" stroke-width="7.4" stroke-linecap="round"/>
<use href="#h20" stroke="#d0700e" stroke-width="6.2" stroke-linecap="round"/>
<use href="#h20" stroke="#000" stroke-width="6.2" stroke-dasharray="1.4 2.2" stroke-linecap="butt" opacity="0.45"/>
<defs><path id="h21" d="M90.8 53.4 84.9 54.1 78.9 55.0 75.0 55.6" fill="none"/></defs>
<use href="#h21" stroke="#7e3c00" stroke-width="7.4" stroke-linecap="round"/>
<use href="#h21" stroke="#d0700e" stroke-width="6.2" stroke-linecap="round"/>
<use href="#h21" stroke="#000" stroke-width="6.2" stroke-dasharray="1.4 2.2" stroke-linecap="butt" opacity="0.45"/>
<defs><path id="h22" d="M127.4 113.4 123.6 108.7 120.1 103.9" fill="none"/></defs>
<use href="#h22" stroke="#7e3c00" stroke-width="7.4" stroke-linecap="round"/>
<use href="#h22" stroke="#d0700e" stroke-width="6.2" stroke-linecap="round"/>
<use href="#h22" stroke="#000" stroke-width="6.2" stroke-dasharray="1.4 2.2" stroke-linecap="butt" opacity="0.45"/>
<defs><path id="h23" d="M120.1 103.9 116.7 98.9 113.3 94.0 111.3 90.5" fill="none"/></defs>
<use href="#h23" stroke="#7e3c00" stroke-width="7.4" stroke-linecap="round"/>
<use href="#h23" stroke="#d0700e" stroke-width="6.2" stroke-linecap="round"/>
<use href="#h23" stroke="#000" stroke-width="6.2" stroke-dasharray="1.4 2.2" stroke-linecap="butt" opacity="0.45"/>
<defs><path id="h24" d="M111.3 90.5 108.4 85.3 106.0 79.8 104.5 76.1" fill="none"/></defs>
<use href="#h24" stroke="#7e3c00" stroke-width="7.4" stroke-linecap="round"/>
<use href="#h24" stroke="#d0700e" stroke-width="6.2" stroke-linecap="round"/>
<use href="#h24" stroke="#000" stroke-width="6.2" stroke-dasharray="1.4 2.2" stroke-linecap="butt" opacity="0.45"/>
<defs><path id="h25" d="M100.3 60.6 98.8 54.8 97.5 51.0" fill="none"/></defs>
<use href="#h25" stroke="#7e3c00" stroke-width="7.4" stroke-linecap="round"/>
<use href="#h25" stroke="#d0700e" stroke-width="6.2" stroke-linecap="round"/>
<use href="#h25" stroke="#000" stroke-width="6.2" stroke-dasharray="1.4 2.2" stroke-linecap="butt" opacity="0.45"/>
<defs><path id="h26" d="M80.9 68.5 86.8 67.5 92.7 66.4 94.6 65.9" fill="none"/></defs>
<use href="#h26" stroke="#7e3c00" stroke-width="7.4" stroke-linecap="round"/>
<use href="#h26" stroke="#d0700e" stroke-width="6.2" stroke-linecap="round"/>
<use href="#h26" stroke="#000" stroke-width="6.2" stroke-dasharray="1.4 2.2" stroke-linecap="butt" opacity="0.45"/>
<defs><path id="h27" d="M98.2 52.1 95.0 47.0 92.8 43.7" fill="none"/></defs>
<use href="#h27" stroke="#7e3c00" stroke-width="7.4" stroke-linecap="round"/>
<use href="#h27" stroke="#d0700e" stroke-width="6.2" stroke-linecap="round"/>
<use href="#h27" stroke="#000" stroke-width="6.2" stroke-dasharray="1.4 2.2" stroke-linecap="butt" opacity="0.45"/>
<defs><path id="h28" d="M93.4 48.9 94.3 54.8 95.6 60.6" fill="none"/></defs>
<use href="#h28" stroke="#7e3c00" stroke-width="7.4" stroke-linecap="round"/>
<use href="#h28" stroke="#d0700e" stroke-width="6.2" stroke-linecap="round"/>
<use href="#h28" stroke="#000" stroke-width="6.2" stroke-dasharray="1.4 2.2" stroke-linecap="butt" opacity="0.45"/>
<defs><path id="h29" d="M72.0 97.0 78.0 97.2 82.0 97.0" fill="none"/></defs>
<use href="#h29" stroke="#7e3c00" stroke-width="7.4" stroke-linecap="round"/>
<use href="#h29" stroke="#d0700e" stroke-width="6.2" stroke-linecap="round"/>
<use href="#h29" stroke="#000" stroke-width="6.2" stroke-dasharray="1.4 2.2" stroke-linecap="butt" opacity="0.45"/>
<defs><path id="h30" d="M91.9 96.9 97.9 96.9 103.9 97.0" fill="none"/></defs>
<use href="#h30" stroke="#7e3c00" stroke-width="7.4" stroke-linecap="round"/>
<use href="#h30" stroke="#d0700e" stroke-width="6.2" stroke-linecap="round"/>
<use href="#h30" stroke="#000" stroke-width="6.2" stroke-dasharray="1.4 2.2" stroke-linecap="butt" opacity="0.45"/>
<defs><path id="h31" d="M103.9 97.0 109.9 97.7 115.9 98.4 117.8 98.7" fill="none"/></defs>
<use href="#h31" stroke="#7e3c00" stroke-width="7.4" stroke-linecap="round"/>
<use href="#h31" stroke="#d0700e" stroke-width="6.2" stroke-linecap="round"/>
<use href="#h31" stroke="#000" stroke-width="6.2" stroke-dasharray="1.4 2.2" stroke-linecap="butt" opacity="0.45"/>
<defs><path id="h32" d="M117.8 98.7 123.8 99.4 129.7 100.2 133.7 100.7" fill="none"/></defs>
<use href="#h32" stroke="#7e3c00" stroke-width="7.4" stroke-linecap="round"/>
<use href="#h32" stroke="#d0700e" stroke-width="6.2" stroke-linecap="round"/>
<use href="#h32" stroke="#000" stroke-width="6.2" stroke-dasharray="1.4 2.2" stroke-linecap="butt" opacity="0.45"/>
<defs><path id="h33" d="M133.7 100.7 133.2 106.7 132.5 112.6 132.3 116.6" fill="none"/></defs>
<use href="#h33" stroke="#7e3c00" stroke-width="7.4" stroke-linecap="round"/>
<use href="#h33" stroke="#d0700e" stroke-width="6.2" stroke-linecap="round"/>
<use href="#h33" stroke="#000" stroke-width="6.2" stroke-dasharray="1.4 2.2" stroke-linecap="butt" opacity="0.45"/>
<defs><path id="h34" d="M101.9 72.6 96.3 74.8 94.4 75.5" fill="none"/></defs>
<use href="#h34" stroke="#7e3c00" stroke-width="7.4" stroke-linecap="round"/>
<use href="#h34" stroke="#d0700e" stroke-width="6.2" stroke-linecap="round"/>
<use href="#h34" stroke="#000" stroke-width="6.2" stroke-dasharray="1.4 2.2" stroke-linecap="butt" opacity="0.45"/>
<defs><path id="h35" d="M94.4 75.5 88.7 77.3 84.9 78.6" fill="none"/></defs>
<use href="#h35" stroke="#7e3c00" stroke-width="7.4" stroke-linecap="round"/>
<use href="#h35" stroke="#d0700e" stroke-width="6.2" stroke-linecap="round"/>
<use href="#h35" stroke="#000" stroke-width="6.2" stroke-dasharray="1.4 2.2" stroke-linecap="butt" opacity="0.45"/>
<defs><path id="h36" d="M102.2 92.0 108.0 90.5 113.8 88.9 115.7 88.3" fill="none"/></defs>
<use href="#h36" stroke="#7e3c00" stroke-width="7.4" stroke-linecap="round"/>
<use href="#h36" stroke="#d0700e" stroke-width="6.2" stroke-linecap="round"/>
<use href="#h36" stroke="#000" stroke-width="6.2" stroke-dasharray="1.4 2.2" stroke-linecap="butt" opacity="0.45"/>
<defs><path id="h37" d="M115.7 88.3 121.5 86.7 125.4 85.8" fill="none"/></defs>
<use href="#h37" stroke="#7e3c00" stroke-width="7.4" stroke-linecap="round"/>
<use href="#h37" stroke="#d0700e" stroke-width="6.2" stroke-linecap="round"/>
<use href="#h37" stroke="#000" stroke-width="6.2" stroke-dasharray="1.4 2.2" stroke-linecap="butt" opacity="0.45"/>
<defs><path id="h38" d="M87.2 46.5 89.6 52.0 91.7 57.6" fill="none"/></defs>
<use href="#h38" stroke="#7e3c00" stroke-width="7.4" stroke-linecap="round"/>
<use href="#h38" stroke="#d0700e" stroke-width="6.2" stroke-linecap="round"/>
<use href="#h38" stroke="#000" stroke-width="6.2" stroke-dasharray="1.4 2.2" stroke-linecap="butt" opacity="0.45"/>
<defs><path id="h39" d="M91.7 57.6 93.8 63.2 96.0 68.8" fill="none"/></defs>
<use href="#h39" stroke="#7e3c00" stroke-width="7.4" stroke-linecap="round"/>
<use href="#h39" stroke="#d0700e" stroke-width="6.2" stroke-linecap="round"/>
<use href="#h39" stroke="#000" stroke-width="6.2" stroke-dasharray="1.4 2.2" stroke-linecap="butt" opacity="0.45"/>
<defs><path id="h40" d="M96.0 68.8 98.1 74.4 100.3 80.0" fill="none"/></defs>
<use href="#h40" stroke="#7e3c00" stroke-width="7.4" stroke-linecap="round"/>
<use href="#h40" stroke="#d0700e" stroke-width="6.2" stroke-linecap="round"/>
<use href="#h40" stroke="#000" stroke-width="6.2" stroke-dasharray="1.4 2.2" stroke-linecap="butt" opacity="0.45"/>
<defs><path id="h41" d="M100.3 80.0 102.2 85.7 104.3 91.3 106.0 94.9" fill="none"/></defs>
<use href="#h41" stroke="#7e3c00" stroke-width="7.4" stroke-linecap="round"/>
<use href="#h41" stroke="#d0700e" stroke-width="6.2" stroke-linecap="round"/>
<use href="#h41" stroke="#000" stroke-width="6.2" stroke-dasharray="1.4 2.2" stroke-linecap="butt" opacity="0.45"/>
<defs><path id="h42" d="M106.0 94.9 108.5 100.4 110.9 105.9" fill="none"/></defs>
<use href="#h42" stroke="#7e3c00" stroke-width="7.4" stroke-linecap="round"/>
<use href="#h42" stroke="#d0700e" stroke-width="6.2" stroke-linecap="round"/>
<use href="#h42" stroke="#000" stroke-width="6.2" stroke-dasharray="1.4 2.2" stroke-linecap="butt" opacity="0.45"/>
<defs><path id="h43" d="M110.9 105.9 113.6 111.2 116.8 116.3" fill="none"/></defs>
<use href="#h43" stroke="#7e3c00" stroke-width="7.4" stroke-linecap="round"/>
<use href="#h43" stroke="#d0700e" stroke-width="6.2" stroke-linecap="round"/>
<use href="#h43" stroke="#000" stroke-width="6.2" stroke-dasharray="1.4 2.2" stroke-linecap="butt" opacity="0.45"/>
<defs><path id="h44" d="M126.4 51.1 128.0 45.3 128.5 43.4" fill="none"/></defs>
<use href="#h44" stroke="#7e3c00" stroke-width="7.4" stroke-linecap="round"/>
<use href="#h44" stroke="#d0700e" stroke-width="6.2" stroke-linecap="round"/>
<use href="#h44" stroke="#000" stroke-width="6.2" stroke-dasharray="1.4 2.2" stroke-linecap="butt" opacity="0.45"/>
<defs><path id="h45" d="M104.3 52.6 103.1 58.5 101.8 64.3 101.4 66.3" fill="none"/></defs>
<use href="#h45" stroke="#7e3c00" stroke-width="7.4" stroke-linecap="round"/>
<use href="#h45" stroke="#d0700e" stroke-width="6.2" stroke-linecap="round"/>
<use href="#h45" stroke="#000" stroke-width="6.2" stroke-dasharray="1.4 2.2" stroke-linecap="butt" opacity="0.45"/>
<defs><path id="h46" d="M61.3 76.7 67.2 78.0 73.0 79.5 76.8 80.7" fill="none"/></defs>
<use href="#h46" stroke="#7e3c00" stroke-width="7.4" stroke-linecap="round"/>
<use href="#h46" stroke="#d0700e" stroke-width="6.2" stroke-linecap="round"/>
<use href="#h46" stroke="#000" stroke-width="6.2" stroke-dasharray="1.4 2.2" stroke-linecap="butt" opacity="0.45"/>
<defs><path id="h47" d="M76.8 80.7 82.6 82.3 88.3 84.1 90.2 84.7" fill="none"/></defs>
<use href="#h47" stroke="#7e3c00" stroke-width="7.4" stroke-linecap="round"/>
<use href="#h47" stroke="#d0700e" stroke-width="6.2" stroke-linecap="round"/>
<use href="#h47" stroke="#000" stroke-width="6.2" stroke-dasharray="1.4 2.2" stroke-linecap="butt" opacity="0.45"/>
<defs><path id="h48" d="M90.2 84.7 95.9 86.7 101.5 88.8 105.3 90.1" fill="none"/></defs>
<use href="#h48" stroke="#7e3c00" stroke-width="7.4" stroke-linecap="round"/>
<use href="#h48" stroke="#d0700e" stroke-width="6.2" stroke-linecap="round"/>
<use href="#h48" stroke="#000" stroke-width="6.2" stroke-dasharray="1.4 2.2" stroke-linecap="butt" opacity="0.45"/>
<defs><path id="h49" d="M110.5 90.9 115.6 94.0 120.6 97.4" fill="none"/></defs>
<use href="#h49" stroke="#7e3c00" stroke-width="7.4" stroke-linecap="round"/>
<use href="#h49" stroke="#d0700e" stroke-width="6.2" stroke-linecap="round"/>
<use href="#h49" stroke="#000" stroke-width="6.2" stroke-dasharray="1.4 2.2" stroke-linecap="butt" opacity="0.45"/>
<line x1="97" y1="104" x2="133" y2="141" stroke="#7e3c00" stroke-width="8.5" stroke-linecap="round"/>
<line x1="97" y1="104" x2="133" y2="141" stroke="#d0700e" stroke-width="7" stroke-linecap="round"/>
<line x1="97" y1="104" x2="133" y2="141" stroke="#000" stroke-width="7" stroke-dasharray="0.9 2.2" opacity="0.45"/>
<line x1="107" y1="98" x2="140" y2="128" stroke="#7e3c00" stroke-width="8.5" stroke-linecap="round"/>
<line x1="107" y1="98" x2="140" y2="128" stroke="#d0700e" stroke-width="7" stroke-linecap="round"/>
<line x1="107" y1="98" x2="140" y2="128" stroke="#000" stroke-width="7" stroke-dasharray="0.9 2.2" opacity="0.45"/>
<path d="M88 35l3 10l-2 6M96 42l6 2l5-3l6 2M104 48l3 6l-4 5" fill="none" stroke="#1520c0" stroke-width="1.6" />
<path d="M92 40l5 3l8-1l7 3l6-3" fill="none" stroke="#2a8a2a" stroke-width="1.4" />
<path d="M100 54l4 6" fill="none" stroke="#c01010" stroke-width="1.6" />
<text x="192.6" y="79.5" font-size="10" font-weight="bold" fill="#111" text-anchor="middle" >90°</text>
<line x1="166.8" y1="100.6" x2="215.8" y2="100.6" stroke="#111" stroke-width="1.5" />
<path d="M185.9 108.4C185.5 96 187.5 87.4 192.7 87.4C198 87.4 200.5 95 201.6 104L203.2 119.5" fill="none" stroke="#111" stroke-width="1.1" />
<polygon points="201.2,104.0 203.2,119.5 202.6,104.5" fill="#111" />
<path d="M222.2 67.2C223.1 60.3 226.8 55.1 230.5 50.5C234.2 45.9 237.9 41.9 244.4 39.4C250.9 36.9 262.8 37.1 269.3 35.3C275.8 33.4 277.6 29.7 283.2 28.3C288.8 26.9 297.1 26.0 302.6 26.9C308.2 27.8 311.4 32.0 316.5 33.9C321.6 35.8 326.6 36.6 333.1 38.0C339.6 39.4 349.8 38.3 355.3 42.2C360.9 46.1 364.1 53.8 366.4 61.6C368.7 69.5 370.1 81.4 369.2 89.3C368.3 97.2 365.1 104.6 360.9 108.8C356.7 113.0 349.3 111.5 344.2 114.3C339.1 117.1 335.0 121.7 330.4 125.4C325.8 129.1 322.1 133.7 316.5 136.5C310.9 139.3 304.0 142.0 297.1 142.0C290.2 142.0 281.8 139.3 274.9 136.5C268.0 133.7 262.0 129.1 255.5 125.4C249.0 121.7 241.2 119.8 236.1 114.3C231.0 108.8 227.3 99.9 225.0 92.1C222.7 84.2 221.3 74.1 222.2 67.2Z" fill="#fce5cf" filter="url(#soft)"/>
<path d="M264.2 134.9 261.7 132.1 258.0 133.0M249.7 155.6 252.2 158.5 255.9 157.6M258.7 131.6 259.8 127.7 258.4 124.0 260.8 121.6 262.8 122.1M278.4 133.3 277.6 137.1 274.0 138.1M294.3 175.1 290.5 174.4 289.5 170.7M285.0 120.1 285.2 123.1 281.5 123.7 279.7 124.7M279.7 124.7 276.0 123.8 278.9 121.5 280.7 118.0 281.7 116.2M239.9 162.4 237.8 165.7 235.6 169.0 234.5 170.6M234.5 170.6 236.7 167.4 239.6 164.8 243.0 162.9M241.4 123.7 245.3 123.2 247.1 119.6 247.9 118.5 248.9 120.2M248.9 120.2 249.6 124.1 253.1 125.9 254.7 122.4 256.3 121.3M296.9 174.4 299.2 177.6 299.2 177.2 298.4 173.4 300.4 173.2M300.4 173.2 304.3 172.4 304.3 172.4M260.8 128.1 262.5 124.6 265.0 121.8 268.3 119.5M258.3 136.9 254.5 137.2 252.5 134.0M291.4 172.8 294.9 171.3 298.7 171.7M290.8 158.9 290.4 155.2 293.6 153.1M239.8 121.7 239.9 125.4 242.6 128.1 244.3 127.0M244.3 127.0 246.5 123.7 248.5 123.5M248.5 123.5 252.5 122.9 254.3 123.8M254.3 123.8 256.8 121.1 256.0 117.5 254.8 119.1M254.8 119.1 254.8 122.7 255.2 124.7M268.3 175.0 268.3 171.1 265.5 169.5 264.2 170.9M267.6 163.7 265.4 160.6 261.6 161.3M238.2 122.3 235.7 119.4 232.0 120.4M268.7 126.0 270.9 124.9 274.3 126.4 278.2 126.9M278.2 126.9 281.9 126.2 284.7 125.7 288.5 126.5M288.5 126.5 284.8 127.5 284.4 129.5M260.4 134.4 256.8 133.8 255.0 130.2 255.9 126.8 256.8 125.1M256.8 125.1 260.3 123.1 261.6 121.6M261.6 121.6 265.2 120.8 269.0 119.7M262.9 166.2 266.8 166.5 268.7 167.2M284.2 130.4 287.9 129.5 290.4 132.4M296.2 169.4 296.0 165.5 292.1 166.4 288.5 167.7M288.5 167.7 286.7 170.3 289.5 172.7 289.6 176.4M285.4 166.7 284.0 170.3 282.1 170.7M282.1 170.7 278.1 171.0 277.9 167.1 274.7 164.9M274.7 164.9 271.2 164.7 267.5 163.2M268.2 176.1 270.4 179.2 274.2 178.5M284.8 164.0 288.6 164.6 289.7 168.3M276.2 180.5 276.6 176.7 280.1 175.3M232.9 166.0 231.2 167.3 229.4 163.8 228.9 160.0M228.9 160.0 228.0 156.1 231.2 154.8 231.9 152.5 231.4 150.6M289.6 155.1 287.2 158.3 285.8 162.0 287.0 163.6M280.3 175.9 282.1 179.2 285.9 179.2M281.0 175.7 277.3 176.5 274.9 173.6M281.4 159.0 285.2 158.3 287.4 161.4M273.6 169.9 275.6 166.7 279.4 167.0M276.8 178.7 279.5 181.4 283.1 180.1M230.1 115.6 230.9 119.5 233.7 122.3 234.3 124.2M258.8 166.5 255.8 165.1 252.7 167.5 250.8 167.1M226.3 135.6 225.7 131.9 222.0 130.7M265.6 140.8 268.0 143.7 271.8 142.9M282.8 121.6 281.1 118.2 277.2 118.3" fill="none" stroke="#3a3a3a" stroke-width="1.0" stroke-linejoin="round"/>
<path d="M258.3 151.9 260.4 146.3 262.3 140.6 263.6 136.8M258.0 133.0 256.0 138.7 254.1 144.4 251.8 149.9 250.4 153.7M262.8 122.1 266.5 122.7 271.1 126.5 275.5 130.6 277.0 132.0M302.3 166.2 298.3 170.7 295.6 173.7M289.5 170.7 292.1 165.3 295.1 160.1 296.1 158.4M274.6 118.7 278.0 116.2 283.2 119.2 283.2 119.2M234.6 138.1 237.5 132.9 239.8 127.4 240.6 125.5M268.3 119.5 267.2 121.2 264.2 126.4 261.1 131.6 259.2 135.1M298.7 171.7 300.9 166.2 298.0 162.5 292.6 159.8 292.6 159.8M264.2 170.9 261.8 176.5 262.8 174.7 265.2 169.2 266.9 165.6M234.3 135.7 235.9 129.9 237.6 124.2 237.6 124.2M232.0 120.4 230.0 126.0 228.6 131.9 228.1 133.8M269.0 119.7 270.4 121.9 271.1 127.9 271.7 131.9M246.6 134.2 249.6 129.1 252.9 124.1 256.2 119.0 259.7 120.9M268.7 167.2 270.6 161.5 273.2 156.1 275.3 152.6M276.3 150.9 278.8 145.5 281.0 139.9 282.9 134.2 283.6 132.3M272.3 164.8 270.4 170.5 268.9 174.2M274.2 178.5 277.8 173.7 281.0 168.7 283.5 165.5M289.7 168.3 285.6 172.6 281.7 177.2 277.8 181.7 277.8 181.7M287.0 163.6 284.2 168.9 281.3 174.2 281.3 174.2M286.9 156.6 285.1 162.3 283.7 168.2 281.7 173.8 281.7 173.8M274.9 173.6 277.2 168.1 279.9 162.7 280.7 160.9M283.5 172.0 280.6 177.3 278.0 178.9 275.4 173.5 274.5 171.7M279.4 167.0 278.1 172.9 277.2 176.8M225.9 126.9 228.2 121.3 230.5 115.8 231.3 113.9M299.8 176.1 298.0 177.8 297.4 171.8 297.1 169.8M296.9 167.8 300.1 162.8 299.6 166.8M299.4 168.7 297.0 174.2 295.0 177.7M264.3 166.7 262.3 172.4 261.0 178.2 260.0 172.3 259.3 168.4M233.8 126.3 230.0 130.9 226.0 135.3 221.8 139.7 224.8 136.9M270.6 127.7 268.3 133.2 266.3 138.9 266.3 138.9M271.8 142.9 274.4 137.5 277.2 132.2 279.9 126.8 281.8 123.3" fill="none" stroke="#3a3a3a" stroke-width="3.6"/>
<path d="M258.3 151.9 260.4 146.3 262.3 140.6 263.6 136.8M258.0 133.0 256.0 138.7 254.1 144.4 251.8 149.9 250.4 153.7M262.8 122.1 266.5 122.7 271.1 126.5 275.5 130.6 277.0 132.0M302.3 166.2 298.3 170.7 295.6 173.7M289.5 170.7 292.1 165.3 295.1 160.1 296.1 158.4M274.6 118.7 278.0 116.2 283.2 119.2 283.2 119.2M234.6 138.1 237.5 132.9 239.8 127.4 240.6 125.5M268.3 119.5 267.2 121.2 264.2 126.4 261.1 131.6 259.2 135.1M298.7 171.7 300.9 166.2 298.0 162.5 292.6 159.8 292.6 159.8M264.2 170.9 261.8 176.5 262.8 174.7 265.2 169.2 266.9 165.6M234.3 135.7 235.9 129.9 237.6 124.2 237.6 124.2M232.0 120.4 230.0 126.0 228.6 131.9 228.1 133.8M269.0 119.7 270.4 121.9 271.1 127.9 271.7 131.9M246.6 134.2 249.6 129.1 252.9 124.1 256.2 119.0 259.7 120.9M268.7 167.2 270.6 161.5 273.2 156.1 275.3 152.6M276.3 150.9 278.8 145.5 281.0 139.9 282.9 134.2 283.6 132.3M272.3 164.8 270.4 170.5 268.9 174.2M274.2 178.5 277.8 173.7 281.0 168.7 283.5 165.5M289.7 168.3 285.6 172.6 281.7 177.2 277.8 181.7 277.8 181.7M287.0 163.6 284.2 168.9 281.3 174.2 281.3 174.2M286.9 156.6 285.1 162.3 283.7 168.2 281.7 173.8 281.7 173.8M274.9 173.6 277.2 168.1 279.9 162.7 280.7 160.9M283.5 172.0 280.6 177.3 278.0 178.9 275.4 173.5 274.5 171.7M279.4 167.0 278.1 172.9 277.2 176.8M225.9 126.9 228.2 121.3 230.5 115.8 231.3 113.9M299.8 176.1 298.0 177.8 297.4 171.8 297.1 169.8M296.9 167.8 300.1 162.8 299.6 166.8M299.4 168.7 297.0 174.2 295.0 177.7M264.3 166.7 262.3 172.4 261.0 178.2 260.0 172.3 259.3 168.4M233.8 126.3 230.0 130.9 226.0 135.3 221.8 139.7 224.8 136.9M270.6 127.7 268.3 133.2 266.3 138.9 266.3 138.9M271.8 142.9 274.4 137.5 277.2 132.2 279.9 126.8 281.8 123.3" fill="none" stroke="#5a5a5a" stroke-width="2.8"/>
<path d="M266.2 137.6L261.1 136.1L264.9 132.8ZM247.8 152.8L252.9 154.5L249.0 157.7ZM275.1 133.9L278.8 130.0L280.0 134.9ZM293.7 171.8L297.6 175.5L292.7 176.8ZM298.3 159.9L294.0 156.9L298.6 154.9ZM282.0 121.6L284.4 116.9L287.0 121.2ZM243.1 126.6L238.1 124.5L242.2 121.6ZM256.8 133.9L261.6 136.3L257.3 138.9ZM293.8 157.4L291.5 162.2L288.8 158.0ZM269.4 166.6L264.4 164.6L268.5 161.6ZM240.2 124.9L235.1 123.4L238.9 120.1ZM225.5 133.1L230.6 134.5L226.9 137.9ZM269.1 132.4L274.3 131.3L272.6 136.0ZM258.4 123.2L261.1 118.6L263.4 123.1ZM277.5 154.0L273.0 151.3L277.5 149.0ZM286.1 133.1L281.1 131.5L284.9 128.3ZM266.4 173.2L271.4 175.2L267.3 178.2ZM285.5 167.3L281.5 163.8L286.3 162.3ZM279.4 179.6L276.1 183.8L274.4 179.1ZM279.0 172.8L283.6 175.5L279.2 177.8ZM279.1 173.0L284.2 174.7L280.3 177.8ZM283.1 161.8L278.2 159.9L282.2 156.9ZM276.9 170.5L272.1 172.9L272.6 167.9ZM274.6 176.2L279.8 177.4L276.3 180.9ZM229.1 112.5L233.5 115.4L228.9 117.5ZM299.7 169.5L294.4 170.1L296.6 165.6ZM296.9 166.5L302.2 167.1L299.1 171.0ZM292.7 176.4L297.4 179.1L292.9 181.4ZM261.9 167.8L256.7 169.0L258.3 164.3ZM226.5 139.0L223.0 134.9L228.0 134.2ZM263.8 138.0L268.8 139.7L264.9 142.9ZM284.1 124.7L279.5 122.0L284.0 119.7Z" fill="#5a5a5a"/>
<path d="M320.6 158.4 322.5 154.9 324.1 153.7M332.2 137.7 332.9 134.4 334.3 130.7 337.3 129.2M336.8 153.0 333.2 154.2 330.5 151.5M335.7 138.5 339.4 138.0 341.6 141.1M316.1 132.7 317.0 136.3 315.9 140.2 312.4 140.4 311.2 138.7M313.1 122.8 315.5 120.3 316.3 116.5 319.8 117.5M324.4 121.2 320.7 122.2 318.2 119.3M349.1 127.1 347.9 130.9 349.9 134.2 353.4 132.2 355.2 133.0M351.5 146.5 354.2 149.2 357.9 147.9M319.3 126.3 323.0 125.2 325.6 127.9M319.1 151.0 315.3 151.8 312.9 148.8M342.8 115.7 340.1 113.0 336.5 114.1M331.2 135.4 327.6 136.6 324.9 133.9M361.6 171.9 359.4 172.7 357.3 169.6 355.1 166.3M355.1 166.3 355.3 162.3 355.1 160.4M355.1 160.4 358.2 158.1 359.5 156.5M359.5 156.5 362.7 158.8 366.6 160.0 368.0 158.6M321.4 171.0 324.7 173.0 324.4 176.8M327.5 161.1 324.8 158.5 321.2 159.7M341.1 143.8 344.6 142.3 347.5 144.7M363.4 150.9 361.1 147.9 357.4 148.6M349.7 162.6 345.9 162.8 344.0 159.4M318.7 148.7 319.4 144.9 315.9 143.0 313.3 140.5M313.3 140.5 313.3 136.5 311.5 133.0 309.6 132.4M351.5 137.4 347.7 137.7 345.7 134.5M341.7 153.9 341.6 150.2 337.8 151.4 336.8 153.1M333.0 174.7 336.1 176.9 339.5 175.1M367.1 134.4 364.1 131.9 360.6 133.4M355.9 150.8 358.6 153.5 362.3 152.2M330.5 173.6 330.5 177.2 329.9 179.1M327.5 132.3 325.6 129.0 321.8 129.3M319.3 145.3 321.7 142.8 325.6 142.7 327.5 142.2M327.5 142.2 331.2 141.6 335.2 141.6M333.3 122.1 332.3 118.5 331.4 114.8M331.4 114.8 331.4 110.8 330.3 107.4 330.5 106.4 332.4 105.7M326.1 128.8 329.1 131.2 332.6 129.6M353.8 131.0 355.9 127.8 358.1 124.5 358.9 120.6 357.5 119.2M335.6 119.1 333.6 122.4 335.6 125.6M314.1 129.7 312.1 127.4 311.5 124.1 315.1 125.5M364.4 143.3 368.2 142.9 370.3 146.1M325.8 116.8 325.1 120.7 321.4 121.1M321.4 121.1 318.6 118.6 315.1 116.8 316.9 115.8M319.7 172.3 322.6 174.9 326.1 173.4M328.6 126.3 324.7 125.8 322.5 122.5M330.3 106.1 331.3 109.8 328.4 112.4" fill="none" stroke="#8a8a8a" stroke-width="1.0" stroke-linejoin="round"/>
<path d="M324.1 153.7 326.8 148.3 329.4 143.0 331.2 139.4M341.8 137.8 339.5 143.3 337.8 149.1 337.3 151.0M330.5 151.5 332.7 145.9 334.8 140.3 334.8 140.3M311.2 138.7 312.1 132.8 312.7 126.8 312.9 124.8M323.1 116.4 325.5 111.0 328.0 105.5 328.0 105.5M329.9 106.2 327.9 111.9 325.7 117.5 325.0 119.3M355.2 133.0 353.6 138.8 352.0 144.5 352.0 144.5M315.8 141.9 317.1 136.0 318.4 130.2 318.8 128.2M325.6 127.9 323.9 133.7 322.3 139.4 320.8 145.2 319.7 149.1M328.4 131.0 328.3 125.0 327.7 119.0 326.6 113.1 326.3 111.1M339.6 127.3 341.4 121.6 342.3 117.7M336.5 114.1 335.0 119.9 333.7 125.7 332.1 131.5 331.7 133.5M312.6 170.8 310.8 176.5 316.1 173.8 319.6 171.9M324.4 176.8 323.8 178.7 325.3 172.9 326.3 167.0 327.1 163.1M338.1 165.6 339.1 159.7 339.8 153.7 340.5 147.8 340.8 145.8M359.1 166.3 360.5 160.5 362.1 154.7 362.7 152.8M357.4 148.6 354.6 153.9 351.7 159.2 350.7 160.9M309.6 132.4 310.9 126.6 312.3 120.7 312.3 120.7M358.7 120.9 356.2 126.3 354.0 131.9 352.4 135.6M345.7 134.5 347.3 128.7 349.3 123.0 351.3 117.4 351.9 115.5M336.8 153.1 335.6 158.9 334.3 164.8 333.4 170.7 333.1 172.7M364.4 148.1 365.6 142.2 366.8 136.4 366.8 136.4M360.6 133.4 358.9 139.2 357.3 145.0 356.4 148.9M329.9 179.1 324.0 178.1 318.1 177.4 312.1 176.6 311.2 174.5M317.0 151.7 319.8 146.3 322.9 141.2 325.7 135.9 326.6 134.1M332.4 105.7 330.5 111.4 328.5 117.1 327.0 122.8 326.4 126.8M357.5 119.2 351.5 119.2 345.5 119.2 339.6 119.1 337.6 119.1M354.7 165.2 356.5 159.4 359.1 154.0 361.8 148.7 363.5 145.1M370.3 146.1 368.5 151.8 366.3 157.4 364.2 163.0 363.0 166.8M323.2 158.8 321.4 164.5 320.1 170.4 320.1 170.4M326.1 173.4 328.7 168.0 330.5 164.4M331.3 162.6 332.3 156.7 332.6 150.7 332.7 146.7M322.5 122.5 324.4 116.9 326.5 111.3 328.4 105.6 328.4 105.6" fill="none" stroke="#8a8a8a" stroke-width="3.6"/>
<path d="M324.1 153.7 326.8 148.3 329.4 143.0 331.2 139.4M341.8 137.8 339.5 143.3 337.8 149.1 337.3 151.0M330.5 151.5 332.7 145.9 334.8 140.3 334.8 140.3M311.2 138.7 312.1 132.8 312.7 126.8 312.9 124.8M323.1 116.4 325.5 111.0 328.0 105.5 328.0 105.5M329.9 106.2 327.9 111.9 325.7 117.5 325.0 119.3M355.2 133.0 353.6 138.8 352.0 144.5 352.0 144.5M315.8 141.9 317.1 136.0 318.4 130.2 318.8 128.2M325.6 127.9 323.9 133.7 322.3 139.4 320.8 145.2 319.7 149.1M328.4 131.0 328.3 125.0 327.7 119.0 326.6 113.1 326.3 111.1M339.6 127.3 341.4 121.6 342.3 117.7M336.5 114.1 335.0 119.9 333.7 125.7 332.1 131.5 331.7 133.5M312.6 170.8 310.8 176.5 316.1 173.8 319.6 171.9M324.4 176.8 323.8 178.7 325.3 172.9 326.3 167.0 327.1 163.1M338.1 165.6 339.1 159.7 339.8 153.7 340.5 147.8 340.8 145.8M359.1 166.3 360.5 160.5 362.1 154.7 362.7 152.8M357.4 148.6 354.6 153.9 351.7 159.2 350.7 160.9M309.6 132.4 310.9 126.6 312.3 120.7 312.3 120.7M358.7 120.9 356.2 126.3 354.0 131.9 352.4 135.6M345.7 134.5 347.3 128.7 349.3 123.0 351.3 117.4 351.9 115.5M336.8 153.1 335.6 158.9 334.3 164.8 333.4 170.7 333.1 172.7M364.4 148.1 365.6 142.2 366.8 136.4 366.8 136.4M360.6 133.4 358.9 139.2 357.3 145.0 356.4 148.9M329.9 179.1 324.0 178.1 318.1 177.4 312.1 176.6 311.2 174.5M317.0 151.7 319.8 146.3 322.9 141.2 325.7 135.9 326.6 134.1M332.4 105.7 330.5 111.4 328.5 117.1 327.0 122.8 326.4 126.8M357.5 119.2 351.5 119.2 345.5 119.2 339.6 119.1 337.6 119.1M354.7 165.2 356.5 159.4 359.1 154.0 361.8 148.7 363.5 145.1M370.3 146.1 368.5 151.8 366.3 157.4 364.2 163.0 363.0 166.8M323.2 158.8 321.4 164.5 320.1 170.4 320.1 170.4M326.1 173.4 328.7 168.0 330.5 164.4M331.3 162.6 332.3 156.7 332.6 150.7 332.7 146.7M322.5 122.5 324.4 116.9 326.5 111.3 328.4 105.6 328.4 105.6" fill="none" stroke="#b4b4b4" stroke-width="2.8"/>
<path d="M333.5 140.7L328.9 138.1L333.4 135.7ZM334.7 150.4L339.9 151.6L336.3 155.2ZM337.3 141.4L332.4 139.2L336.6 136.4ZM315.6 125.0L310.3 124.6L313.2 120.6ZM327.0 108.0L329.0 103.0L332.0 107.1ZM322.4 118.5L327.5 120.1L323.7 123.4ZM349.4 143.9L354.6 145.1L351.0 148.7ZM321.4 128.9L316.3 127.6L319.9 124.1ZM317.2 148.2L322.2 150.0L318.3 153.1ZM328.9 110.8L323.6 111.4L325.8 106.9ZM344.8 118.4L339.7 117.0L343.3 113.6ZM329.1 132.8L334.3 134.1L330.7 137.6ZM320.8 174.3L318.4 169.6L323.4 170.0ZM329.7 163.7L324.5 162.5L328.0 159.0ZM343.5 146.1L338.2 145.4L341.4 141.6ZM365.2 153.8L360.2 151.8L364.2 148.9ZM348.4 159.6L353.0 162.2L348.6 164.6ZM314.8 121.5L309.8 119.9L313.6 116.7ZM350.0 134.4L354.8 136.8L350.5 139.4ZM349.3 114.9L354.5 116.0L351.0 119.6ZM330.5 172.6L335.8 172.9L332.9 176.9ZM369.4 136.7L364.1 136.0L367.4 132.2ZM353.8 148.3L358.9 149.4L355.4 153.0ZM313.5 175.9L308.9 173.2L313.3 170.9ZM328.9 135.4L324.2 132.9L328.6 130.4ZM323.7 126.5L329.0 127.1L325.8 131.0ZM337.5 116.5L337.6 121.8L333.3 119.2ZM365.9 146.2L361.1 143.9L365.3 141.3ZM360.5 165.9L365.5 167.7L361.5 170.8ZM317.4 169.9L322.7 170.8L319.3 174.5ZM332.9 165.6L328.1 163.3L332.3 160.6ZM335.4 146.8L330.1 146.6L332.9 142.5ZM327.6 108.1L329.2 103.0L332.4 106.8Z" fill="#b4b4b4"/>
<defs><path id="h50" d="M312.8 167.1 314.3 161.3 316.0 155.5 317.0 151.7" fill="none"/></defs>
<use href="#h50" stroke="#8a8a8a" stroke-width="6.7" stroke-linecap="round"/>
<use href="#h50" stroke="#b4b4b4" stroke-width="5.5" stroke-linecap="round"/>
<use href="#h50" stroke="#000" stroke-width="5.5" stroke-dasharray="0.9 2.3" stroke-linecap="butt" opacity="0.45"/>
<path d="M302.1 84.9 299.0 85.9 295.9 85.8 294.2 86.8M294.2 86.8 292.0 89.9 288.7 92.1M288.7 92.1 285.5 90.5 281.6 89.5M281.6 89.5 278.4 87.2 276.6 83.9 280.1 81.9M342.9 92.2 341.2 95.7 339.4 96.6M339.4 96.6 340.8 100.3 343.6 102.7 342.2 104.2M329.4 119.6 329.5 119.2 326.7 116.4 326.1 112.9M326.1 112.9 324.5 109.2 322.9 108.0M322.9 108.0 319.2 107.8 315.3 108.4 313.6 105.6M233.8 75.1 233.2 79.0 236.0 81.9M245.6 94.7 246.7 92.8 245.0 91.8M234.2 86.5 233.4 82.9 233.2 80.9M229.7 61.2 232.4 59.4 236.3 60.2 237.5 61.8M336.9 72.7 335.1 75.9 337.4 79.1 340.1 80.8 342.1 80.7M357.3 85.4 353.7 84.4 352.1 86.9 355.6 88.6 357.4 89.5M357.4 89.5 360.4 86.9 363.0 83.9 363.2 80.0M288.3 87.9 285.4 90.7 282.0 92.2 278.2 92.6M260.2 64.0 263.2 61.9 264.9 60.9M273.7 56.2 274.0 52.5 275.6 51.3M275.6 51.3 272.3 49.3 271.9 45.6M274.9 43.8 278.6 43.1 278.1 39.9 276.5 38.6M285.2 108.4 287.5 105.1 289.6 104.3 293.3 103.2M337.0 71.7 339.9 68.9 340.8 67.1M340.8 67.1 344.6 65.9 348.5 65.0 349.9 61.3 350.7 59.4M319.7 96.7 322.6 94.1 326.6 94.4 330.5 95.3M359.1 98.2 361.5 95.5 358.9 93.1M321.7 75.8 318.0 76.7 316.1 77.2M334.7 102.5 335.0 98.6 336.8 95.0 337.4 91.2M337.4 91.2 336.7 87.3 336.4 83.4 337.5 81.6 339.4 82.0M339.4 82.0 342.5 80.0 341.8 76.2M347.2 45.2 348.1 48.0 345.0 47.5 341.1 47.1M309.1 99.6 310.1 103.4 308.7 107.2 309.4 109.0M339.1 50.9 342.3 49.0 343.5 50.6M234.5 65.3 233.1 62.0 235.1 59.4 237.1 59.2M270.6 53.4 269.8 51.2 266.1 49.7M245.7 112.4 244.6 112.5 242.9 109.1 244.5 105.5M244.5 105.5 247.2 103.0 251.2 103.4 255.2 103.3 257.2 103.4M359.4 63.3 361.1 65.5 359.3 69.1 360.9 72.7M365.5 81.6 361.7 82.7 357.7 82.6M357.7 82.6 354.0 81.9 351.2 79.1M325.4 107.4 329.2 108.4 331.0 106.6 331.3 102.6M331.3 102.6 333.7 99.9 335.5 96.9 335.1 95.0M335.1 95.0 336.5 98.3 339.6 100.5M299.2 113.0 296.9 116.2 296.5 118.2M268.7 127.2 271.8 124.9 274.8 127.4M267.6 125.5 264.5 123.2 264.4 123.1 264.5 121.1M264.5 121.1 264.9 117.2 267.1 113.9 270.5 111.9M270.5 111.9 273.8 113.4 276.7 111.2 277.8 107.8 278.7 106.0M287.7 85.9 288.9 82.1 292.8 81.1 294.7 81.6M282.5 122.8 286.0 123.6 287.6 122.5M287.6 122.5 285.9 119.2 285.8 115.2 286.6 111.3M288.9 101.6 292.8 101.0 296.6 101.6 297.7 105.5 297.5 107.5M296.3 119.4 296.3 123.3 293.6 126.0 289.8 127.2 289.7 129.2M243.0 95.6 241.1 98.6 238.8 101.7 237.0 104.8M244.4 101.7 245.5 97.9 246.3 95.6 245.5 91.7M245.5 91.7 243.6 88.2 242.2 86.8" fill="none" stroke="#7e3c00" stroke-width="0.9" stroke-linejoin="round"/>
<path d="M340.2 60.2 339.0 66.1 338.1 72.0 338.1 72.0M336.5 95.9 336.4 101.9 336.1 107.9 336.1 107.9M330.2 74.7 324.4 76.3 318.6 77.9 313.0 80.0 313.0 80.0M236.0 81.9 239.9 86.5 243.5 91.3 244.5 93.0M233.2 80.9 232.4 74.9 231.7 69.0 230.3 63.1 230.3 63.1M245.3 84.2 239.6 82.4 234.1 80.0 234.1 80.0M293.3 103.2 298.2 99.8 303.1 96.4 306.4 94.1M308.1 93.0 313.1 89.7 316.4 87.4M330.5 95.3 336.4 96.2 342.3 97.3 348.2 98.4 348.2 98.4M350.2 98.7 356.0 100.1 358.0 100.6M342.9 54.2 343.0 48.2 345.3 44.6 345.3 44.6M288.0 50.2 289.2 56.1 290.9 61.8 293.0 67.4 293.0 67.4M257.8 70.7 252.0 69.2 246.2 67.6 246.2 67.6M244.3 67.1 238.4 66.0 236.4 65.7M266.1 49.7 260.4 48.0 254.6 46.2 250.8 45.1M360.9 72.7 363.5 78.1 364.5 79.8M313.8 110.3 319.6 108.9 323.5 107.9M345.7 108.9 339.8 107.8 337.8 107.6M296.5 118.2 295.4 124.1 294.4 130.0 294.0 131.9M278.5 41.0 274.8 36.3 274.9 39.0 273.3 42.7" fill="none" stroke="#7e3c00" stroke-width="4.2"/>
<path d="M340.2 60.2 339.0 66.1 338.1 72.0 338.1 72.0M336.5 95.9 336.4 101.9 336.1 107.9 336.1 107.9M330.2 74.7 324.4 76.3 318.6 77.9 313.0 80.0 313.0 80.0M236.0 81.9 239.9 86.5 243.5 91.3 244.5 93.0M233.2 80.9 232.4 74.9 231.7 69.0 230.3 63.1 230.3 63.1M245.3 84.2 239.6 82.4 234.1 80.0 234.1 80.0M293.3 103.2 298.2 99.8 303.1 96.4 306.4 94.1M308.1 93.0 313.1 89.7 316.4 87.4M330.5 95.3 336.4 96.2 342.3 97.3 348.2 98.4 348.2 98.4M350.2 98.7 356.0 100.1 358.0 100.6M342.9 54.2 343.0 48.2 345.3 44.6 345.3 44.6M288.0 50.2 289.2 56.1 290.9 61.8 293.0 67.4 293.0 67.4M257.8 70.7 252.0 69.2 246.2 67.6 246.2 67.6M244.3 67.1 238.4 66.0 236.4 65.7M266.1 49.7 260.4 48.0 254.6 46.2 250.8 45.1M360.9 72.7 363.5 78.1 364.5 79.8M313.8 110.3 319.6 108.9 323.5 107.9M345.7 108.9 339.8 107.8 337.8 107.6M296.5 118.2 295.4 124.1 294.4 130.0 294.0 131.9M278.5 41.0 274.8 36.3 274.9 39.0 273.3 42.7" fill="none" stroke="#d0700e" stroke-width="3.4"/>
<path d="M334.8 71.9L341.3 72.1L337.9 76.7ZM332.9 107.6L339.4 108.2L335.7 112.6ZM311.8 77.1L314.3 83.0L308.7 81.9ZM241.8 94.6L247.3 91.3L247.0 97.0ZM233.4 62.2L227.2 64.0L229.0 58.6ZM235.3 77.0L232.9 83.0L229.7 78.2ZM308.3 96.8L304.6 91.5L310.3 91.4ZM318.2 90.1L314.6 84.7L320.3 84.8ZM347.7 101.6L348.7 95.2L352.9 99.2ZM357.4 103.8L358.5 97.4L362.6 101.4ZM344.4 47.8L346.1 41.5L349.8 45.9ZM290.1 68.7L296.0 66.2L294.8 71.8ZM247.1 64.5L245.4 70.8L241.7 66.5ZM237.1 62.5L235.8 68.9L231.8 64.7ZM251.4 42.0L250.1 48.3L246.2 44.2ZM361.7 81.4L367.4 78.3L366.8 84.0ZM324.4 111.1L322.7 104.8L328.1 106.7ZM338.1 104.4L337.6 110.8L333.1 107.3ZM290.8 131.3L297.1 132.6L293.0 136.5ZM270.4 41.3L276.2 44.1L271.3 47.0Z" fill="#d0700e"/>
<defs><path id="h51" d="M329.0 47.1 335.0 46.2 340.9 45.4 344.9 44.9" fill="none"/></defs>
<use href="#h51" stroke="#7e3c00" stroke-width="7.4" stroke-linecap="round"/>
<use href="#h51" stroke="#d0700e" stroke-width="6.2" stroke-linecap="round"/>
<use href="#h51" stroke="#000" stroke-width="6.2" stroke-dasharray="1.4 2.2" stroke-linecap="butt" opacity="0.45"/>
<defs><path id="h52" d="M344.9 44.9 343.2 50.6 341.4 56.4 340.2 60.2" fill="none"/></defs>
<use href="#h52" stroke="#7e3c00" stroke-width="7.4" stroke-linecap="round"/>
<use href="#h52" stroke="#d0700e" stroke-width="6.2" stroke-linecap="round"/>
<use href="#h52" stroke="#000" stroke-width="6.2" stroke-dasharray="1.4 2.2" stroke-linecap="butt" opacity="0.45"/>
<defs><path id="h53" d="M338.0 74.0 337.6 80.0 337.2 83.9" fill="none"/></defs>
<use href="#h53" stroke="#7e3c00" stroke-width="7.4" stroke-linecap="round"/>
<use href="#h53" stroke="#d0700e" stroke-width="6.2" stroke-linecap="round"/>
<use href="#h53" stroke="#000" stroke-width="6.2" stroke-dasharray="1.4 2.2" stroke-linecap="butt" opacity="0.45"/>
<defs><path id="h54" d="M337.2 83.9 336.8 89.9 336.5 95.9" fill="none"/></defs>
<use href="#h54" stroke="#7e3c00" stroke-width="7.4" stroke-linecap="round"/>
<use href="#h54" stroke="#d0700e" stroke-width="6.2" stroke-linecap="round"/>
<use href="#h54" stroke="#000" stroke-width="6.2" stroke-dasharray="1.4 2.2" stroke-linecap="butt" opacity="0.45"/>
<defs><path id="h55" d="M352.7 66.3 347.1 68.6 341.6 70.9 337.8 72.2" fill="none"/></defs>
<use href="#h55" stroke="#7e3c00" stroke-width="7.4" stroke-linecap="round"/>
<use href="#h55" stroke="#d0700e" stroke-width="6.2" stroke-linecap="round"/>
<use href="#h55" stroke="#000" stroke-width="6.2" stroke-dasharray="1.4 2.2" stroke-linecap="butt" opacity="0.45"/>
<defs><path id="h56" d="M337.8 72.2 332.1 74.1 330.2 74.7" fill="none"/></defs>
<use href="#h56" stroke="#7e3c00" stroke-width="7.4" stroke-linecap="round"/>
<use href="#h56" stroke="#d0700e" stroke-width="6.2" stroke-linecap="round"/>
<use href="#h56" stroke="#000" stroke-width="6.2" stroke-dasharray="1.4 2.2" stroke-linecap="butt" opacity="0.45"/>
<defs><path id="h57" d="M311.2 80.8 305.7 83.2 302.1 84.9" fill="none"/></defs>
<use href="#h57" stroke="#7e3c00" stroke-width="7.4" stroke-linecap="round"/>
<use href="#h57" stroke="#d0700e" stroke-width="6.2" stroke-linecap="round"/>
<use href="#h57" stroke="#000" stroke-width="6.2" stroke-dasharray="1.4 2.2" stroke-linecap="butt" opacity="0.45"/>
<defs><path id="h58" d="M342.2 104.2 338.1 108.6 334.3 113.2 333.1 114.8" fill="none"/></defs>
<use href="#h58" stroke="#7e3c00" stroke-width="7.4" stroke-linecap="round"/>
<use href="#h58" stroke="#d0700e" stroke-width="6.2" stroke-linecap="round"/>
<use href="#h58" stroke="#000" stroke-width="6.2" stroke-dasharray="1.4 2.2" stroke-linecap="butt" opacity="0.45"/>
<defs><path id="h59" d="M333.1 114.8 329.6 119.7 328.4 121.3 329.4 119.6" fill="none"/></defs>
<use href="#h59" stroke="#7e3c00" stroke-width="7.4" stroke-linecap="round"/>
<use href="#h59" stroke="#d0700e" stroke-width="6.2" stroke-linecap="round"/>
<use href="#h59" stroke="#000" stroke-width="6.2" stroke-dasharray="1.4 2.2" stroke-linecap="butt" opacity="0.45"/>
<defs><path id="h60" d="M245.0 91.8 239.6 89.0 234.2 86.5" fill="none"/></defs>
<use href="#h60" stroke="#7e3c00" stroke-width="7.4" stroke-linecap="round"/>
<use href="#h60" stroke="#d0700e" stroke-width="6.2" stroke-linecap="round"/>
<use href="#h60" stroke="#000" stroke-width="6.2" stroke-dasharray="1.4 2.2" stroke-linecap="butt" opacity="0.45"/>
<defs><path id="h61" d="M237.5 61.8 241.3 66.5 245.1 71.1 246.2 72.8" fill="none"/></defs>
<use href="#h61" stroke="#7e3c00" stroke-width="7.4" stroke-linecap="round"/>
<use href="#h61" stroke="#d0700e" stroke-width="6.2" stroke-linecap="round"/>
<use href="#h61" stroke="#000" stroke-width="6.2" stroke-dasharray="1.4 2.2" stroke-linecap="butt" opacity="0.45"/>
<defs><path id="h62" d="M342.1 80.7 348.1 80.5 354.1 80.4 358.0 80.6" fill="none"/></defs>
<use href="#h62" stroke="#7e3c00" stroke-width="7.4" stroke-linecap="round"/>
<use href="#h62" stroke="#d0700e" stroke-width="6.2" stroke-linecap="round"/>
<use href="#h62" stroke="#000" stroke-width="6.2" stroke-dasharray="1.4 2.2" stroke-linecap="butt" opacity="0.45"/>
<defs><path id="h63" d="M358.0 80.6 364.0 81.1 359.0 84.4 357.3 85.4" fill="none"/></defs>
<use href="#h63" stroke="#7e3c00" stroke-width="7.4" stroke-linecap="round"/>
<use href="#h63" stroke="#d0700e" stroke-width="6.2" stroke-linecap="round"/>
<use href="#h63" stroke="#000" stroke-width="6.2" stroke-dasharray="1.4 2.2" stroke-linecap="butt" opacity="0.45"/>
<defs><path id="h64" d="M298.8 93.7 293.6 90.7 288.3 87.9" fill="none"/></defs>
<use href="#h64" stroke="#7e3c00" stroke-width="7.4" stroke-linecap="round"/>
<use href="#h64" stroke="#d0700e" stroke-width="6.2" stroke-linecap="round"/>
<use href="#h64" stroke="#000" stroke-width="6.2" stroke-dasharray="1.4 2.2" stroke-linecap="butt" opacity="0.45"/>
<defs><path id="h65" d="M278.2 92.6 272.4 91.1 266.5 89.9" fill="none"/></defs>
<use href="#h65" stroke="#7e3c00" stroke-width="7.4" stroke-linecap="round"/>
<use href="#h65" stroke="#d0700e" stroke-width="6.2" stroke-linecap="round"/>
<use href="#h65" stroke="#000" stroke-width="6.2" stroke-dasharray="1.4 2.2" stroke-linecap="butt" opacity="0.45"/>
<defs><path id="h66" d="M266.5 89.9 260.7 88.6 256.8 87.5" fill="none"/></defs>
<use href="#h66" stroke="#7e3c00" stroke-width="7.4" stroke-linecap="round"/>
<use href="#h66" stroke="#d0700e" stroke-width="6.2" stroke-linecap="round"/>
<use href="#h66" stroke="#000" stroke-width="6.2" stroke-dasharray="1.4 2.2" stroke-linecap="butt" opacity="0.45"/>
<defs><path id="h67" d="M256.8 87.5 251.1 85.8 245.3 84.2" fill="none"/></defs>
<use href="#h67" stroke="#7e3c00" stroke-width="7.4" stroke-linecap="round"/>
<use href="#h67" stroke="#d0700e" stroke-width="6.2" stroke-linecap="round"/>
<use href="#h67" stroke="#000" stroke-width="6.2" stroke-dasharray="1.4 2.2" stroke-linecap="butt" opacity="0.45"/>
<defs><path id="h68" d="M232.3 79.2 226.7 76.9 231.6 80.4 234.9 82.6" fill="none"/></defs>
<use href="#h68" stroke="#7e3c00" stroke-width="7.4" stroke-linecap="round"/>
<use href="#h68" stroke="#d0700e" stroke-width="6.2" stroke-linecap="round"/>
<use href="#h68" stroke="#000" stroke-width="6.2" stroke-dasharray="1.4 2.2" stroke-linecap="butt" opacity="0.45"/>
<defs><path id="h69" d="M260.1 77.9 260.2 71.9 260.3 65.9 260.2 64.0" fill="none"/></defs>
<use href="#h69" stroke="#7e3c00" stroke-width="7.4" stroke-linecap="round"/>
<use href="#h69" stroke="#d0700e" stroke-width="6.2" stroke-linecap="round"/>
<use href="#h69" stroke="#000" stroke-width="6.2" stroke-dasharray="1.4 2.2" stroke-linecap="butt" opacity="0.45"/>
<defs><path id="h70" d="M264.9 60.9 270.2 58.1 273.7 56.2" fill="none"/></defs>
<use href="#h70" stroke="#7e3c00" stroke-width="7.4" stroke-linecap="round"/>
<use href="#h70" stroke="#d0700e" stroke-width="6.2" stroke-linecap="round"/>
<use href="#h70" stroke="#000" stroke-width="6.2" stroke-dasharray="1.4 2.2" stroke-linecap="butt" opacity="0.45"/>
<defs><path id="h71" d="M271.9 45.6 273.4 39.8 274.6 41.8 274.9 43.8" fill="none"/></defs>
<use href="#h71" stroke="#7e3c00" stroke-width="7.4" stroke-linecap="round"/>
<use href="#h71" stroke="#d0700e" stroke-width="6.2" stroke-linecap="round"/>
<use href="#h71" stroke="#000" stroke-width="6.2" stroke-dasharray="1.4 2.2" stroke-linecap="butt" opacity="0.45"/>
<defs><path id="h72" d="M276.5 38.6 274.5 36.8 269.1 39.5 265.5 41.2" fill="none"/></defs>
<use href="#h72" stroke="#7e3c00" stroke-width="7.4" stroke-linecap="round"/>
<use href="#h72" stroke="#d0700e" stroke-width="6.2" stroke-linecap="round"/>
<use href="#h72" stroke="#000" stroke-width="6.2" stroke-dasharray="1.4 2.2" stroke-linecap="butt" opacity="0.45"/>
<defs><path id="h73" d="M318.1 86.3 322.9 82.8 327.7 79.2" fill="none"/></defs>
<use href="#h73" stroke="#7e3c00" stroke-width="7.4" stroke-linecap="round"/>
<use href="#h73" stroke="#d0700e" stroke-width="6.2" stroke-linecap="round"/>
<use href="#h73" stroke="#000" stroke-width="6.2" stroke-dasharray="1.4 2.2" stroke-linecap="butt" opacity="0.45"/>
<defs><path id="h74" d="M327.7 79.2 332.4 75.5 337.0 71.7" fill="none"/></defs>
<use href="#h74" stroke="#7e3c00" stroke-width="7.4" stroke-linecap="round"/>
<use href="#h74" stroke="#d0700e" stroke-width="6.2" stroke-linecap="round"/>
<use href="#h74" stroke="#000" stroke-width="6.2" stroke-dasharray="1.4 2.2" stroke-linecap="butt" opacity="0.45"/>
<defs><path id="h75" d="M359.9 100.9 356.3 105.8 355.1 107.4" fill="none"/></defs>
<use href="#h75" stroke="#7e3c00" stroke-width="7.4" stroke-linecap="round"/>
<use href="#h75" stroke="#d0700e" stroke-width="6.2" stroke-linecap="round"/>
<use href="#h75" stroke="#000" stroke-width="6.2" stroke-dasharray="1.4 2.2" stroke-linecap="butt" opacity="0.45"/>
<defs><path id="h76" d="M355.1 107.4 357.4 101.8 359.1 98.2" fill="none"/></defs>
<use href="#h76" stroke="#7e3c00" stroke-width="7.4" stroke-linecap="round"/>
<use href="#h76" stroke="#d0700e" stroke-width="6.2" stroke-linecap="round"/>
<use href="#h76" stroke="#000" stroke-width="6.2" stroke-dasharray="1.4 2.2" stroke-linecap="butt" opacity="0.45"/>
<defs><path id="h77" d="M358.9 93.1 356.7 87.5 355.2 83.8" fill="none"/></defs>
<use href="#h77" stroke="#7e3c00" stroke-width="7.4" stroke-linecap="round"/>
<use href="#h77" stroke="#d0700e" stroke-width="6.2" stroke-linecap="round"/>
<use href="#h77" stroke="#000" stroke-width="6.2" stroke-dasharray="1.4 2.2" stroke-linecap="butt" opacity="0.45"/>
<defs><path id="h78" d="M360.3 100.9 355.3 97.5 350.5 93.9 348.9 92.7" fill="none"/></defs>
<use href="#h78" stroke="#7e3c00" stroke-width="7.4" stroke-linecap="round"/>
<use href="#h78" stroke="#d0700e" stroke-width="6.2" stroke-linecap="round"/>
<use href="#h78" stroke="#000" stroke-width="6.2" stroke-dasharray="1.4 2.2" stroke-linecap="butt" opacity="0.45"/>
<defs><path id="h79" d="M348.9 92.7 344.0 89.3 340.7 87.0" fill="none"/></defs>
<use href="#h79" stroke="#7e3c00" stroke-width="7.4" stroke-linecap="round"/>
<use href="#h79" stroke="#d0700e" stroke-width="6.2" stroke-linecap="round"/>
<use href="#h79" stroke="#000" stroke-width="6.2" stroke-dasharray="1.4 2.2" stroke-linecap="butt" opacity="0.45"/>
<defs><path id="h80" d="M340.7 87.0 335.6 83.8 330.4 80.8" fill="none"/></defs>
<use href="#h80" stroke="#7e3c00" stroke-width="7.4" stroke-linecap="round"/>
<use href="#h80" stroke="#d0700e" stroke-width="6.2" stroke-linecap="round"/>
<use href="#h80" stroke="#000" stroke-width="6.2" stroke-dasharray="1.4 2.2" stroke-linecap="butt" opacity="0.45"/>
<defs><path id="h81" d="M330.4 80.8 325.2 77.8 321.7 75.8" fill="none"/></defs>
<use href="#h81" stroke="#7e3c00" stroke-width="7.4" stroke-linecap="round"/>
<use href="#h81" stroke="#d0700e" stroke-width="6.2" stroke-linecap="round"/>
<use href="#h81" stroke="#000" stroke-width="6.2" stroke-dasharray="1.4 2.2" stroke-linecap="butt" opacity="0.45"/>
<defs><path id="h82" d="M316.1 77.2 310.2 78.4 304.3 79.6 300.4 80.3" fill="none"/></defs>
<use href="#h82" stroke="#7e3c00" stroke-width="7.4" stroke-linecap="round"/>
<use href="#h82" stroke="#d0700e" stroke-width="6.2" stroke-linecap="round"/>
<use href="#h82" stroke="#000" stroke-width="6.2" stroke-dasharray="1.4 2.2" stroke-linecap="butt" opacity="0.45"/>
<defs><path id="h83" d="M300.4 80.3 294.6 81.7 290.7 82.5" fill="none"/></defs>
<use href="#h83" stroke="#7e3c00" stroke-width="7.4" stroke-linecap="round"/>
<use href="#h83" stroke="#d0700e" stroke-width="6.2" stroke-linecap="round"/>
<use href="#h83" stroke="#000" stroke-width="6.2" stroke-dasharray="1.4 2.2" stroke-linecap="butt" opacity="0.45"/>
<defs><path id="h84" d="M341.8 76.2 342.0 70.2 342.1 66.2" fill="none"/></defs>
<use href="#h84" stroke="#7e3c00" stroke-width="7.4" stroke-linecap="round"/>
<use href="#h84" stroke="#d0700e" stroke-width="6.2" stroke-linecap="round"/>
<use href="#h84" stroke="#000" stroke-width="6.2" stroke-dasharray="1.4 2.2" stroke-linecap="butt" opacity="0.45"/>
<defs><path id="h85" d="M342.1 66.2 342.5 60.2 342.9 54.2" fill="none"/></defs>
<use href="#h85" stroke="#7e3c00" stroke-width="7.4" stroke-linecap="round"/>
<use href="#h85" stroke="#d0700e" stroke-width="6.2" stroke-linecap="round"/>
<use href="#h85" stroke="#000" stroke-width="6.2" stroke-dasharray="1.4 2.2" stroke-linecap="butt" opacity="0.45"/>
<defs><path id="h86" d="M293.8 69.3 296.3 74.7 298.8 80.2 299.7 82.0" fill="none"/></defs>
<use href="#h86" stroke="#7e3c00" stroke-width="7.4" stroke-linecap="round"/>
<use href="#h86" stroke="#d0700e" stroke-width="6.2" stroke-linecap="round"/>
<use href="#h86" stroke="#000" stroke-width="6.2" stroke-dasharray="1.4 2.2" stroke-linecap="butt" opacity="0.45"/>
<defs><path id="h87" d="M299.7 82.0 302.4 87.3 304.2 90.9" fill="none"/></defs>
<use href="#h87" stroke="#7e3c00" stroke-width="7.4" stroke-linecap="round"/>
<use href="#h87" stroke="#d0700e" stroke-width="6.2" stroke-linecap="round"/>
<use href="#h87" stroke="#000" stroke-width="6.2" stroke-dasharray="1.4 2.2" stroke-linecap="butt" opacity="0.45"/>
<defs><path id="h88" d="M304.2 90.9 307.2 96.1 309.1 99.6" fill="none"/></defs>
<use href="#h88" stroke="#7e3c00" stroke-width="7.4" stroke-linecap="round"/>
<use href="#h88" stroke="#d0700e" stroke-width="6.2" stroke-linecap="round"/>
<use href="#h88" stroke="#000" stroke-width="6.2" stroke-dasharray="1.4 2.2" stroke-linecap="butt" opacity="0.45"/>
<defs><path id="h89" d="M309.4 109.0 312.0 114.5 313.0 116.2" fill="none"/></defs>
<use href="#h89" stroke="#7e3c00" stroke-width="7.4" stroke-linecap="round"/>
<use href="#h89" stroke="#d0700e" stroke-width="6.2" stroke-linecap="round"/>
<use href="#h89" stroke="#000" stroke-width="6.2" stroke-dasharray="1.4 2.2" stroke-linecap="butt" opacity="0.45"/>
<defs><path id="h90" d="M313.0 116.2 316.3 121.2 318.5 124.5" fill="none"/></defs>
<use href="#h90" stroke="#7e3c00" stroke-width="7.4" stroke-linecap="round"/>
<use href="#h90" stroke="#d0700e" stroke-width="6.2" stroke-linecap="round"/>
<use href="#h90" stroke="#000" stroke-width="6.2" stroke-dasharray="1.4 2.2" stroke-linecap="butt" opacity="0.45"/>
<defs><path id="h91" d="M343.5 50.6 347.1 55.4 349.4 58.7" fill="none"/></defs>
<use href="#h91" stroke="#7e3c00" stroke-width="7.4" stroke-linecap="round"/>
<use href="#h91" stroke="#d0700e" stroke-width="6.2" stroke-linecap="round"/>
<use href="#h91" stroke="#000" stroke-width="6.2" stroke-dasharray="1.4 2.2" stroke-linecap="butt" opacity="0.45"/>
<defs><path id="h92" d="M349.4 58.7 352.8 63.7 354.8 67.1" fill="none"/></defs>
<use href="#h92" stroke="#7e3c00" stroke-width="7.4" stroke-linecap="round"/>
<use href="#h92" stroke="#d0700e" stroke-width="6.2" stroke-linecap="round"/>
<use href="#h92" stroke="#000" stroke-width="6.2" stroke-dasharray="1.4 2.2" stroke-linecap="butt" opacity="0.45"/>
<defs><path id="h93" d="M354.8 67.1 357.8 72.3 360.7 77.5 362.7 81.0" fill="none"/></defs>
<use href="#h93" stroke="#7e3c00" stroke-width="7.4" stroke-linecap="round"/>
<use href="#h93" stroke="#d0700e" stroke-width="6.2" stroke-linecap="round"/>
<use href="#h93" stroke="#000" stroke-width="6.2" stroke-dasharray="1.4 2.2" stroke-linecap="butt" opacity="0.45"/>
<defs><path id="h94" d="M362.7 81.0 363.1 83.3 358.3 79.7" fill="none"/></defs>
<use href="#h94" stroke="#7e3c00" stroke-width="7.4" stroke-linecap="round"/>
<use href="#h94" stroke="#d0700e" stroke-width="6.2" stroke-linecap="round"/>
<use href="#h94" stroke="#000" stroke-width="6.2" stroke-dasharray="1.4 2.2" stroke-linecap="butt" opacity="0.45"/>
<defs><path id="h95" d="M358.3 79.7 353.3 76.4 348.1 73.4" fill="none"/></defs>
<use href="#h95" stroke="#7e3c00" stroke-width="7.4" stroke-linecap="round"/>
<use href="#h95" stroke="#d0700e" stroke-width="6.2" stroke-linecap="round"/>
<use href="#h95" stroke="#000" stroke-width="6.2" stroke-dasharray="1.4 2.2" stroke-linecap="butt" opacity="0.45"/>
<defs><path id="h96" d="M348.1 73.4 342.9 70.5 337.7 67.5 335.9 66.6" fill="none"/></defs>
<use href="#h96" stroke="#7e3c00" stroke-width="7.4" stroke-linecap="round"/>
<use href="#h96" stroke="#d0700e" stroke-width="6.2" stroke-linecap="round"/>
<use href="#h96" stroke="#000" stroke-width="6.2" stroke-dasharray="1.4 2.2" stroke-linecap="butt" opacity="0.45"/>
<defs><path id="h97" d="M237.1 59.2 243.1 58.5 249.0 57.7 251.0 57.4" fill="none"/></defs>
<use href="#h97" stroke="#7e3c00" stroke-width="7.4" stroke-linecap="round"/>
<use href="#h97" stroke="#d0700e" stroke-width="6.2" stroke-linecap="round"/>
<use href="#h97" stroke="#000" stroke-width="6.2" stroke-dasharray="1.4 2.2" stroke-linecap="butt" opacity="0.45"/>
<defs><path id="h98" d="M251.0 57.4 256.9 56.2 260.8 55.6" fill="none"/></defs>
<use href="#h98" stroke="#7e3c00" stroke-width="7.4" stroke-linecap="round"/>
<use href="#h98" stroke="#d0700e" stroke-width="6.2" stroke-linecap="round"/>
<use href="#h98" stroke="#000" stroke-width="6.2" stroke-dasharray="1.4 2.2" stroke-linecap="butt" opacity="0.45"/>
<defs><path id="h99" d="M260.8 55.6 266.7 54.4 270.6 53.4" fill="none"/></defs>
<use href="#h99" stroke="#7e3c00" stroke-width="7.4" stroke-linecap="round"/>
<use href="#h99" stroke="#d0700e" stroke-width="6.2" stroke-linecap="round"/>
<use href="#h99" stroke="#000" stroke-width="6.2" stroke-dasharray="1.4 2.2" stroke-linecap="butt" opacity="0.45"/>
<defs><path id="h100" d="M274.0 71.5 271.4 76.9 269.6 80.5" fill="none"/></defs>
<use href="#h100" stroke="#7e3c00" stroke-width="7.4" stroke-linecap="round"/>
<use href="#h100" stroke="#d0700e" stroke-width="6.2" stroke-linecap="round"/>
<use href="#h100" stroke="#000" stroke-width="6.2" stroke-dasharray="1.4 2.2" stroke-linecap="butt" opacity="0.45"/>
<defs><path id="h101" d="M269.6 80.5 266.6 85.7 264.4 89.0" fill="none"/></defs>
<use href="#h101" stroke="#7e3c00" stroke-width="7.4" stroke-linecap="round"/>
<use href="#h101" stroke="#d0700e" stroke-width="6.2" stroke-linecap="round"/>
<use href="#h101" stroke="#000" stroke-width="6.2" stroke-dasharray="1.4 2.2" stroke-linecap="butt" opacity="0.45"/>
<defs><path id="h102" d="M264.4 89.0 260.7 93.7 256.7 98.2 254.0 101.2" fill="none"/></defs>
<use href="#h102" stroke="#7e3c00" stroke-width="7.4" stroke-linecap="round"/>
<use href="#h102" stroke="#d0700e" stroke-width="6.2" stroke-linecap="round"/>
<use href="#h102" stroke="#000" stroke-width="6.2" stroke-dasharray="1.4 2.2" stroke-linecap="butt" opacity="0.45"/>
<defs><path id="h103" d="M254.0 101.2 250.3 105.9 246.8 110.8 245.7 112.4" fill="none"/></defs>
<use href="#h103" stroke="#7e3c00" stroke-width="7.4" stroke-linecap="round"/>
<use href="#h103" stroke="#d0700e" stroke-width="6.2" stroke-linecap="round"/>
<use href="#h103" stroke="#000" stroke-width="6.2" stroke-dasharray="1.4 2.2" stroke-linecap="butt" opacity="0.45"/>
<defs><path id="h104" d="M343.6 65.3 349.5 64.6 355.5 63.8 359.4 63.3" fill="none"/></defs>
<use href="#h104" stroke="#7e3c00" stroke-width="7.4" stroke-linecap="round"/>
<use href="#h104" stroke="#d0700e" stroke-width="6.2" stroke-linecap="round"/>
<use href="#h104" stroke="#000" stroke-width="6.2" stroke-dasharray="1.4 2.2" stroke-linecap="butt" opacity="0.45"/>
<defs><path id="h105" d="M351.2 79.1 348.0 74.0 347.0 72.3" fill="none"/></defs>
<use href="#h105" stroke="#7e3c00" stroke-width="7.4" stroke-linecap="round"/>
<use href="#h105" stroke="#d0700e" stroke-width="6.2" stroke-linecap="round"/>
<use href="#h105" stroke="#000" stroke-width="6.2" stroke-dasharray="1.4 2.2" stroke-linecap="butt" opacity="0.45"/>
<defs><path id="h106" d="M347.0 72.3 343.7 67.3 340.4 62.3" fill="none"/></defs>
<use href="#h106" stroke="#7e3c00" stroke-width="7.4" stroke-linecap="round"/>
<use href="#h106" stroke="#d0700e" stroke-width="6.2" stroke-linecap="round"/>
<use href="#h106" stroke="#000" stroke-width="6.2" stroke-dasharray="1.4 2.2" stroke-linecap="butt" opacity="0.45"/>
<defs><path id="h107" d="M339.6 100.5 343.7 105.0 347.6 109.4 345.7 108.9" fill="none"/></defs>
<use href="#h107" stroke="#7e3c00" stroke-width="7.4" stroke-linecap="round"/>
<use href="#h107" stroke="#d0700e" stroke-width="6.2" stroke-linecap="round"/>
<use href="#h107" stroke="#000" stroke-width="6.2" stroke-dasharray="1.4 2.2" stroke-linecap="butt" opacity="0.45"/>
<defs><path id="h108" d="M335.8 107.5 329.8 107.3 323.8 107.3 321.8 107.3" fill="none"/></defs>
<use href="#h108" stroke="#7e3c00" stroke-width="7.4" stroke-linecap="round"/>
<use href="#h108" stroke="#d0700e" stroke-width="6.2" stroke-linecap="round"/>
<use href="#h108" stroke="#000" stroke-width="6.2" stroke-dasharray="1.4 2.2" stroke-linecap="butt" opacity="0.45"/>
<defs><path id="h109" d="M293.6 133.9 289.4 134.6 283.8 132.5" fill="none"/></defs>
<use href="#h109" stroke="#7e3c00" stroke-width="7.4" stroke-linecap="round"/>
<use href="#h109" stroke="#d0700e" stroke-width="6.2" stroke-linecap="round"/>
<use href="#h109" stroke="#000" stroke-width="6.2" stroke-dasharray="1.4 2.2" stroke-linecap="butt" opacity="0.45"/>
<defs><path id="h110" d="M283.8 132.5 278.2 130.2 272.5 128.3 268.7 127.2" fill="none"/></defs>
<use href="#h110" stroke="#7e3c00" stroke-width="7.4" stroke-linecap="round"/>
<use href="#h110" stroke="#d0700e" stroke-width="6.2" stroke-linecap="round"/>
<use href="#h110" stroke="#000" stroke-width="6.2" stroke-dasharray="1.4 2.2" stroke-linecap="butt" opacity="0.45"/>
<defs><path id="h111" d="M274.8 127.4 275.2 131.1 281.2 130.6" fill="none"/></defs>
<use href="#h111" stroke="#7e3c00" stroke-width="7.4" stroke-linecap="round"/>
<use href="#h111" stroke="#d0700e" stroke-width="6.2" stroke-linecap="round"/>
<use href="#h111" stroke="#000" stroke-width="6.2" stroke-dasharray="1.4 2.2" stroke-linecap="butt" opacity="0.45"/>
<defs><path id="h112" d="M281.2 130.6 287.1 130.2 293.1 129.7 295.1 129.6" fill="none"/></defs>
<use href="#h112" stroke="#7e3c00" stroke-width="7.4" stroke-linecap="round"/>
<use href="#h112" stroke="#d0700e" stroke-width="6.2" stroke-linecap="round"/>
<use href="#h112" stroke="#000" stroke-width="6.2" stroke-dasharray="1.4 2.2" stroke-linecap="butt" opacity="0.45"/>
<defs><path id="h113" d="M274.3 118.1 270.3 122.6 267.6 125.5" fill="none"/></defs>
<use href="#h113" stroke="#7e3c00" stroke-width="7.4" stroke-linecap="round"/>
<use href="#h113" stroke="#d0700e" stroke-width="6.2" stroke-linecap="round"/>
<use href="#h113" stroke="#000" stroke-width="6.2" stroke-dasharray="1.4 2.2" stroke-linecap="butt" opacity="0.45"/>
<defs><path id="h114" d="M278.7 106.0 281.2 100.5 283.3 94.9 284.1 93.1" fill="none"/></defs>
<use href="#h114" stroke="#7e3c00" stroke-width="7.4" stroke-linecap="round"/>
<use href="#h114" stroke="#d0700e" stroke-width="6.2" stroke-linecap="round"/>
<use href="#h114" stroke="#000" stroke-width="6.2" stroke-dasharray="1.4 2.2" stroke-linecap="butt" opacity="0.45"/>
<defs><path id="h115" d="M284.1 93.1 286.8 87.7 287.7 85.9" fill="none"/></defs>
<use href="#h115" stroke="#7e3c00" stroke-width="7.4" stroke-linecap="round"/>
<use href="#h115" stroke="#d0700e" stroke-width="6.2" stroke-linecap="round"/>
<use href="#h115" stroke="#000" stroke-width="6.2" stroke-dasharray="1.4 2.2" stroke-linecap="butt" opacity="0.45"/>
<defs><path id="h116" d="M294.7 81.6 300.4 83.4 306.1 85.5" fill="none"/></defs>
<use href="#h116" stroke="#7e3c00" stroke-width="7.4" stroke-linecap="round"/>
<use href="#h116" stroke="#d0700e" stroke-width="6.2" stroke-linecap="round"/>
<use href="#h116" stroke="#000" stroke-width="6.2" stroke-dasharray="1.4 2.2" stroke-linecap="butt" opacity="0.45"/>
<defs><path id="h117" d="M286.6 111.3 287.9 105.5 288.9 101.6" fill="none"/></defs>
<use href="#h117" stroke="#7e3c00" stroke-width="7.4" stroke-linecap="round"/>
<use href="#h117" stroke="#d0700e" stroke-width="6.2" stroke-linecap="round"/>
<use href="#h117" stroke="#000" stroke-width="6.2" stroke-dasharray="1.4 2.2" stroke-linecap="butt" opacity="0.45"/>
<defs><path id="h118" d="M297.5 107.5 296.8 113.4 296.3 119.4" fill="none"/></defs>
<use href="#h118" stroke="#7e3c00" stroke-width="7.4" stroke-linecap="round"/>
<use href="#h118" stroke="#d0700e" stroke-width="6.2" stroke-linecap="round"/>
<use href="#h118" stroke="#000" stroke-width="6.2" stroke-dasharray="1.4 2.2" stroke-linecap="butt" opacity="0.45"/>
<defs><path id="h119" d="M289.7 129.2 289.3 135.1 284.2 131.9 282.6 130.8" fill="none"/></defs>
<use href="#h119" stroke="#7e3c00" stroke-width="7.4" stroke-linecap="round"/>
<use href="#h119" stroke="#d0700e" stroke-width="6.2" stroke-linecap="round"/>
<use href="#h119" stroke="#000" stroke-width="6.2" stroke-dasharray="1.4 2.2" stroke-linecap="butt" opacity="0.45"/>
<defs><path id="h120" d="M272.5 44.5 269.9 49.9 268.1 53.5" fill="none"/></defs>
<use href="#h120" stroke="#7e3c00" stroke-width="7.4" stroke-linecap="round"/>
<use href="#h120" stroke="#d0700e" stroke-width="6.2" stroke-linecap="round"/>
<use href="#h120" stroke="#000" stroke-width="6.2" stroke-dasharray="1.4 2.2" stroke-linecap="butt" opacity="0.45"/>
<defs><path id="h121" d="M268.1 53.5 265.5 58.9 263.4 64.6 262.4 68.4" fill="none"/></defs>
<use href="#h121" stroke="#7e3c00" stroke-width="7.4" stroke-linecap="round"/>
<use href="#h121" stroke="#d0700e" stroke-width="6.2" stroke-linecap="round"/>
<use href="#h121" stroke="#000" stroke-width="6.2" stroke-dasharray="1.4 2.2" stroke-linecap="butt" opacity="0.45"/>
<defs><path id="h122" d="M262.4 68.4 260.4 74.1 258.8 79.9 257.8 83.7" fill="none"/></defs>
<use href="#h122" stroke="#7e3c00" stroke-width="7.4" stroke-linecap="round"/>
<use href="#h122" stroke="#d0700e" stroke-width="6.2" stroke-linecap="round"/>
<use href="#h122" stroke="#000" stroke-width="6.2" stroke-dasharray="1.4 2.2" stroke-linecap="butt" opacity="0.45"/>
<defs><path id="h123" d="M257.8 83.7 255.7 89.4 253.4 94.9 251.7 98.5" fill="none"/></defs>
<use href="#h123" stroke="#7e3c00" stroke-width="7.4" stroke-linecap="round"/>
<use href="#h123" stroke="#d0700e" stroke-width="6.2" stroke-linecap="round"/>
<use href="#h123" stroke="#000" stroke-width="6.2" stroke-dasharray="1.4 2.2" stroke-linecap="butt" opacity="0.45"/>
<defs><path id="h124" d="M250.6 89.1 246.0 93.0 243.0 95.6" fill="none"/></defs>
<use href="#h124" stroke="#7e3c00" stroke-width="7.4" stroke-linecap="round"/>
<use href="#h124" stroke="#d0700e" stroke-width="6.2" stroke-linecap="round"/>
<use href="#h124" stroke="#000" stroke-width="6.2" stroke-dasharray="1.4 2.2" stroke-linecap="butt" opacity="0.45"/>
<defs><path id="h125" d="M237.0 104.8 235.3 105.7 240.7 103.2 244.4 101.7" fill="none"/></defs>
<use href="#h125" stroke="#7e3c00" stroke-width="7.4" stroke-linecap="round"/>
<use href="#h125" stroke="#d0700e" stroke-width="6.2" stroke-linecap="round"/>
<use href="#h125" stroke="#000" stroke-width="6.2" stroke-dasharray="1.4 2.2" stroke-linecap="butt" opacity="0.45"/>
<defs><path id="h126" d="M242.2 86.8 237.7 82.8 233.4 78.6 230.6 75.7" fill="none"/></defs>
<use href="#h126" stroke="#7e3c00" stroke-width="7.4" stroke-linecap="round"/>
<use href="#h126" stroke="#d0700e" stroke-width="6.2" stroke-linecap="round"/>
<use href="#h126" stroke="#000" stroke-width="6.2" stroke-dasharray="1.4 2.2" stroke-linecap="butt" opacity="0.45"/>
<defs><path id="h127" d="M230.6 75.7 229.6 72.6 231.6 72.2" fill="none"/></defs>
<use href="#h127" stroke="#7e3c00" stroke-width="7.4" stroke-linecap="round"/>
<use href="#h127" stroke="#d0700e" stroke-width="6.2" stroke-linecap="round"/>
<use href="#h127" stroke="#000" stroke-width="6.2" stroke-dasharray="1.4 2.2" stroke-linecap="butt" opacity="0.45"/>
<path d="M290 75l4 8l-3 8M292 85l10-3l8 2l10-4l6 3M300 92l6 6l-2 8l4 8l-2 8" fill="none" stroke="#1520c0" stroke-width="1.7" />
<path d="M296 88l8 0l7 -4l10 2" fill="none" stroke="#2a8a2a" stroke-width="1.6" />
<path d="M303 124l4 5l-3 4" fill="none" stroke="#c01010" stroke-width="1.6" />
<path d="M283 95l6 5l-4 6l5 4" fill="none" stroke="#111" stroke-width="1.2" />
<text x="266.5" y="200.3" font-size="11" font-weight="bold" fill="#6a6a6a" text-anchor="middle" >Protomer A</text>
<text x="358.1" y="200.3" font-size="11" font-weight="bold" fill="#a2a2a2" text-anchor="middle" >Protomer B</text>
<path d="M344.5 111.8L373.4 124.3" fill="none" stroke="#555" stroke-width="1.3" stroke-dasharray="1.2 4"/>
<text x="389.5" y="138.4" font-size="11" font-weight="bold" fill="#111" text-anchor="middle" >active</text>
<text x="389.5" y="152.6" font-size="11" font-weight="bold" fill="#111" text-anchor="middle" >site</text>
<text x="153" y="28" font-size="21" font-weight="bold" fill="#c0600c">AF CM49-<tspan fill="#505050">Fc</tspan></text>
<rect x="559.00" y="9.00" width="63.00" height="102.80" fill="#ffcccc" />
<rect x="559.80" y="115.50" width="63.80" height="35.30" fill="#d0e6ce" />
<rect x="540.20" y="153.40" width="85.40" height="15.00" fill="#ccccfa" />
<rect x="570.90" y="171.20" width="54.70" height="31.50" fill="#fff2cc" />
<path d="M434.9 109.8L434.9 172.8 M434.3 109.8L472.1 109.8 M472.1 86.9L472.1 132.9 M472.1 132.9L542.6 132.9 M542.6 124.3L542.6 142.1 M542.6 124.3L560.0 124.3 M542.6 142.1L560.0 142.1 M472.1 86.9L495.6 86.9 M495.6 66.4L495.6 106.3 M495.6 106.3L556.0 106.3 M495.6 66.4L509.9 66.4 M509.9 44.6L509.9 88.9 M509.9 88.9L583.2 88.9 M509.9 44.6L544.0 44.6 M544.0 27.2L544.0 61.9 M544.0 27.2L554.3 27.2 M554.3 18.6L554.3 36.4 M554.3 18.6L561.8 18.6 M554.3 36.4L561.0 36.4 M544.0 61.9L549.2 61.9 M549.2 53.5L549.2 71.1 M549.2 53.5L561.0 53.5 M549.2 71.1L563.0 71.1 M434.3 172.8L460.5 172.8 M460.5 159.5L460.5 185.6 M460.5 159.4L535.1 159.4 M460.5 185.6L504.4 185.6 M504.4 177.0L504.4 194.6 M504.4 177.0L583.7 177.0 M504.4 194.6L564.7 194.6" fill="none" stroke="#1a1a1a" stroke-width="1.25" stroke-linecap="square"/>
<path d="M441.5 203.4L457.4 203.4M441.5 201.2L441.5 205.6M457.4 201.2L457.4 205.6" fill="none" stroke="#1a1a1a" stroke-width="1.3" />
<text x="449.5" y="216.3" font-size="9" font-weight="normal" fill="#222" text-anchor="middle" >0.10</text>
<text x="550.8" y="22.2" font-size="9" font-weight="normal" fill="#1a1a1a" text-anchor="end" >100</text>
<text x="540.6" y="39.6" font-size="9" font-weight="normal" fill="#1a1a1a" text-anchor="end" >100</text>
<text x="506.9" y="62.1" font-size="9" font-weight="normal" fill="#1a1a1a" text-anchor="end" >75</text>
<text x="545.0" y="72.7" font-size="9" font-weight="normal" fill="#1a1a1a" text-anchor="end" >96</text>
<text x="492.0" y="81.5" font-size="9" font-weight="normal" fill="#1a1a1a" text-anchor="end" >96</text>
<text x="468.6" y="104.6" font-size="9" font-weight="normal" fill="#1a1a1a" text-anchor="end" >100</text>
<text x="539.6" y="145.9" font-size="9" font-weight="normal" fill="#1a1a1a" text-anchor="end" >100</text>
<text x="501.0" y="200.5" font-size="9" font-weight="normal" fill="#1a1a1a" text-anchor="end" >100</text>
<text x="566.5" y="23.4" font-size="10.8" font-weight="normal" fill="#4a1c1c" text-anchor="start" >CP40</text>
<text x="566.0" y="40.9" font-size="10.8" font-weight="normal" fill="#4a1c1c" text-anchor="start" >CP258</text>
<text x="566.0" y="58.5" font-size="10.8" font-weight="normal" fill="#4a1c1c" text-anchor="start" >CS43</text>
<text x="568.3" y="75.9" font-size="10.8" font-weight="normal" fill="#4a1c1c" text-anchor="start" >CU43</text>
<text x="588.0" y="93.9" font-size="10.8" font-weight="normal" fill="#4a1c1c" text-anchor="start" >CB44</text>
<text x="560.5" y="110.9" font-size="10.8" font-weight="normal" fill="#4a1c1c" text-anchor="start" >CR39</text>
<text x="560.8" y="128.9" font-size="10.8" font-weight="normal" fill="#1c3a1c" text-anchor="start" >CM49</text>
<text x="559.8" y="146.2" font-size="10.8" font-weight="normal" fill="#1c3a1c" text-anchor="start" >Csp50</text>
<text x="539.6" y="163.8" font-size="10.8" font-weight="normal" fill="#1e1e55" text-anchor="start" >CX35</text>
<text x="588.2" y="181.1" font-size="10.8" font-weight="normal" fill="#3d3418" text-anchor="start" >EndoS</text>
<text x="569.5" y="198.7" font-size="10.8" font-weight="normal" fill="#3d3418" text-anchor="start" >EndoS2</text>
<path d="M623.1 4.7L628.0 4.7L628.0 113.8L623.1 113.8M625.6 117.5L628.5 117.5L628.5 142.9L625.6 142.9M623.6 150.3L627.4 150.3L627.4 164.1L623.6 164.1M624.6 167.3L627.8 167.3L627.8 208.8L624.6 208.8" fill="none" stroke="#111" stroke-width="1.6" />
<text x="633.3" y="58.0" font-size="19" font-weight="normal" fill="#333" text-anchor="start" >I</text>
<text x="632.5" y="139.0" font-size="19" font-weight="normal" fill="#333" text-anchor="start" >II</text>
<text x="632.8" y="163.0" font-size="20.5" font-weight="normal" fill="#333" text-anchor="start" >ns</text>
<text x="631.5" y="192.6" font-size="20.5" font-weight="normal" fill="#333" text-anchor="start" >0</text>
<rect x="48.4" y="223.0" width="55.6" height="16.3" rx="2.2" fill="#fff" stroke="#3a4752" stroke-width="1.1"/>
<text x="76.5" y="234.7" font-size="13.2" font-weight="bold" fill="#111" text-anchor="middle" >Hinge</text>
<rect x="107.5" y="223.0" width="256.6" height="16.3" rx="2.2" fill="#fff" stroke="#3a4752" stroke-width="1.1"/>
<text x="233.0" y="234.7" font-size="13.2" font-weight="bold" fill="#111" text-anchor="middle" >CH2</text>
<rect x="367.8" y="223.0" width="251.2" height="16.3" rx="2.2" fill="#fff" stroke="#3a4752" stroke-width="1.1"/>
<text x="487.0" y="234.7" font-size="13.2" font-weight="bold" fill="#111" text-anchor="middle" >CH3</text>
<rect x="51.50" y="263.80" width="569.00" height="98.74" fill="#ffffff" />
<pattern id="tilec" x="52.588" y="264.570" width="2.447" height="4.86" patternUnits="userSpaceOnUse"><rect x="0.35" y="0.3" width="1.747" height="4.26" fill="#fde4df"/><circle cx="1.224" cy="2.43" r="0.5" fill="#f9cdc6"/></pattern>
<rect x="52.59" y="264.57" width="567.70" height="97.20" fill="url(#tilec)" />
<path d="M56.3 267.0h0M63.6 276.7h0M66.0 339.9h0M68.5 291.3h0M88.1 354.5h0M105.2 330.2h0M112.5 354.5h0M117.4 276.7h0M137.0 330.2h0M151.7 296.2h0M156.6 271.9h0M156.6 315.6h0M178.6 310.7h0M190.8 286.4h0M200.6 286.4h0M208.0 310.7h0M220.2 301.0h0M222.7 315.6h0M232.4 339.9h0M237.3 276.7h0M239.8 281.6h0M244.7 344.8h0M249.6 339.9h0M249.6 359.3h0M264.3 325.3h0M276.5 276.7h0M276.5 325.3h0M278.9 330.2h0M323.0 315.6h0M332.8 354.5h0M337.7 305.9h0M340.1 291.3h0M340.1 305.9h0M352.3 286.4h0M354.8 301.0h0M367.0 344.8h0M367.0 349.6h0M371.9 267.0h0M374.4 354.5h0M391.5 286.4h0M391.5 301.0h0M406.2 330.2h0M411.1 271.9h0M413.5 339.9h0M420.9 301.0h0M428.2 267.0h0M428.2 325.3h0M445.3 349.6h0M450.2 354.5h0M474.7 344.8h0M496.7 315.6h0M496.7 354.5h0M501.6 291.3h0M516.3 271.9h0M521.2 330.2h0M533.4 330.2h0M543.2 281.6h0M543.2 330.2h0M543.2 349.6h0M545.7 271.9h0M555.4 315.6h0M614.2 315.6h0M619.1 267.0h0" stroke="#fabec6" stroke-width="1.6" stroke-linecap="round"/>
<path d="M58.7 349.6h0M66.0 291.3h0M68.5 339.9h0M78.3 354.5h0M112.5 281.6h0M112.5 305.9h0M115.0 344.8h0M122.3 310.7h0M144.4 330.2h0M154.1 310.7h0M171.3 276.7h0M181.1 310.7h0M190.8 281.6h0M195.7 291.3h0M200.6 271.9h0M203.1 296.2h0M220.2 281.6h0M234.9 344.8h0M259.4 335.0h0M298.5 286.4h0M301.0 305.9h0M303.4 267.0h0M315.6 359.3h0M323.0 291.3h0M332.8 291.3h0M335.2 325.3h0M337.7 354.5h0M340.1 271.9h0M374.4 276.7h0M374.4 330.2h0M379.3 339.9h0M381.7 310.7h0M393.9 354.5h0M396.4 349.6h0M416.0 315.6h0M433.1 301.0h0M467.4 276.7h0M474.7 296.2h0M474.7 320.5h0M479.6 315.6h0M489.4 296.2h0M499.2 330.2h0M513.8 335.0h0M535.9 344.8h0M572.6 267.0h0M582.4 267.0h0M587.3 310.7h0M594.6 335.0h0M616.6 359.3h0" stroke="#fcd2d3" stroke-width="1.6" stroke-linecap="round"/>
<path d="M53.8 315.6h0M58.7 330.2h0M58.7 344.8h0M68.5 305.9h0M102.8 315.6h0M117.4 286.4h0M127.2 330.2h0M132.1 301.0h0M141.9 305.9h0M159.0 344.8h0M166.4 335.0h0M168.8 344.8h0M171.3 354.5h0M178.6 320.5h0M183.5 281.6h0M190.8 325.3h0M193.3 315.6h0M195.7 310.7h0M198.2 320.5h0M208.0 276.7h0M230.0 276.7h0M239.8 310.7h0M242.2 335.0h0M249.6 330.2h0M261.8 335.0h0M276.5 267.0h0M276.5 286.4h0M276.5 330.2h0M281.4 296.2h0M303.4 320.5h0M315.6 276.7h0M330.3 281.6h0M342.6 305.9h0M342.6 330.2h0M362.1 354.5h0M369.5 320.5h0M374.4 296.2h0M376.8 349.6h0M379.3 291.3h0M379.3 320.5h0M381.7 301.0h0M389.1 296.2h0M403.7 301.0h0M406.2 291.3h0M418.4 286.4h0M418.4 296.2h0M418.4 310.7h0M420.9 354.5h0M447.8 281.6h0M450.2 267.0h0M462.5 267.0h0M462.5 301.0h0M469.8 349.6h0M474.7 271.9h0M479.6 271.9h0M482.0 301.0h0M489.4 291.3h0M516.3 344.8h0M521.2 301.0h0M526.1 305.9h0M535.9 296.2h0M538.3 315.6h0M538.3 354.5h0M540.8 310.7h0M543.2 335.0h0M550.6 281.6h0M557.9 335.0h0M560.3 320.5h0M584.8 354.5h0M589.7 325.3h0M592.2 310.7h0M592.2 320.5h0M604.4 310.7h0M606.8 335.0h0M609.3 301.0h0M614.2 291.3h0M614.2 301.0h0" stroke="#fabec6" stroke-width="2.0" stroke-linecap="round"/>
<path d="M53.8 320.5h0M56.3 354.5h0M73.4 330.2h0M80.7 267.0h0M83.2 330.2h0M88.1 286.4h0M88.1 291.3h0M95.4 267.0h0M105.2 267.0h0M107.6 267.0h0M110.1 305.9h0M115.0 339.9h0M117.4 325.3h0M132.1 330.2h0M141.9 339.9h0M141.9 344.8h0M144.4 291.3h0M149.2 359.3h0M151.7 315.6h0M151.7 344.8h0M154.1 276.7h0M156.6 301.0h0M166.4 301.0h0M166.4 359.3h0M176.2 281.6h0M178.6 281.6h0M178.6 335.0h0M193.3 354.5h0M195.7 286.4h0M198.2 305.9h0M205.5 286.4h0M212.9 301.0h0M217.8 271.9h0M222.7 305.9h0M227.5 330.2h0M230.0 271.9h0M234.9 325.3h0M237.3 301.0h0M239.8 315.6h0M242.2 310.7h0M247.1 325.3h0M249.6 301.0h0M259.4 296.2h0M259.4 305.9h0M264.3 344.8h0M266.7 281.6h0M269.1 359.3h0M271.6 310.7h0M274.0 276.7h0M283.8 339.9h0M286.3 335.0h0M293.6 281.6h0M293.6 286.4h0M301.0 359.3h0M303.4 291.3h0M310.7 354.5h0M318.1 291.3h0M323.0 271.9h0M323.0 276.7h0M325.4 315.6h0M327.9 320.5h0M337.7 301.0h0M337.7 339.9h0M345.0 281.6h0M345.0 359.3h0M349.9 281.6h0M369.5 315.6h0M381.7 349.6h0M384.2 335.0h0M386.6 339.9h0M386.6 349.6h0M389.1 271.9h0M391.5 325.3h0M393.9 339.9h0M396.4 310.7h0M408.6 276.7h0M411.1 281.6h0M411.1 301.0h0M411.1 344.8h0M416.0 330.2h0M418.4 301.0h0M420.9 296.2h0M423.3 271.9h0M423.3 320.5h0M425.8 339.9h0M428.2 276.7h0M430.7 286.4h0M433.1 315.6h0M445.3 339.9h0M447.8 335.0h0M460.0 335.0h0M464.9 305.9h0M469.8 291.3h0M474.7 339.9h0M477.1 315.6h0M479.6 276.7h0M489.4 276.7h0M489.4 354.5h0M499.2 335.0h0M499.2 354.5h0M501.6 359.3h0M504.1 286.4h0M516.3 349.6h0M526.1 339.9h0M528.5 359.3h0M531.0 354.5h0M533.4 301.0h0M550.6 349.6h0M553.0 320.5h0M555.4 267.0h0M555.4 301.0h0M562.8 310.7h0M570.1 320.5h0M572.6 301.0h0M579.9 354.5h0M587.3 271.9h0M589.7 330.2h0M594.6 281.6h0M599.5 281.6h0M606.8 286.4h0M614.2 271.9h0M616.6 315.6h0" stroke="#f691b1" stroke-width="2.0" stroke-linecap="round"/>
<path d="M53.8 330.2h0M61.2 344.8h0M105.2 354.5h0M159.0 305.9h0M210.4 276.7h0M215.3 320.5h0M220.2 325.3h0M247.1 291.3h0M259.4 315.6h0M291.2 339.9h0M330.3 301.0h0M445.3 330.2h0M594.6 349.6h0" stroke="#f379a8" stroke-width="2.0" stroke-linecap="round"/>
<path d="M56.3 276.7h0M58.7 315.6h0M61.2 286.4h0M61.2 291.3h0M70.9 291.3h0M73.4 286.4h0M73.4 335.0h0M78.3 271.9h0M80.7 291.3h0M80.7 315.6h0M83.2 339.9h0M88.1 267.0h0M93.0 301.0h0M93.0 330.2h0M95.4 291.3h0M97.9 276.7h0M97.9 291.3h0M107.6 325.3h0M107.6 339.9h0M107.6 344.8h0M112.5 301.0h0M122.3 301.0h0M122.3 325.3h0M127.2 335.0h0M127.2 349.6h0M132.1 305.9h0M134.6 271.9h0M137.0 335.0h0M146.8 344.8h0M159.0 325.3h0M161.5 286.4h0M163.9 339.9h0M168.8 296.2h0M168.8 315.6h0M171.3 344.8h0M178.6 301.0h0M183.5 276.7h0M190.8 296.2h0M200.6 330.2h0M212.9 349.6h0M217.8 320.5h0M227.5 286.4h0M232.4 291.3h0M234.9 281.6h0M234.9 339.9h0M239.8 305.9h0M242.2 315.6h0M247.1 330.2h0M259.4 310.7h0M259.4 330.2h0M261.8 271.9h0M261.8 315.6h0M264.3 315.6h0M274.0 335.0h0M276.5 296.2h0M286.3 305.9h0M291.2 335.0h0M298.5 310.7h0M301.0 291.3h0M301.0 325.3h0M303.4 281.6h0M310.7 286.4h0M330.3 310.7h0M332.8 325.3h0M335.2 310.7h0M340.1 359.3h0M347.5 267.0h0M374.4 310.7h0M384.2 354.5h0M386.6 359.3h0M389.1 281.6h0M398.8 330.2h0M398.8 335.0h0M403.7 310.7h0M408.6 301.0h0M411.1 267.0h0M411.1 330.2h0M413.5 344.8h0M416.0 281.6h0M418.4 335.0h0M418.4 339.9h0M420.9 339.9h0M425.8 281.6h0M425.8 305.9h0M425.8 310.7h0M428.2 271.9h0M428.2 354.5h0M442.9 267.0h0M452.7 315.6h0M462.5 335.0h0M472.2 276.7h0M477.1 301.0h0M479.6 349.6h0M484.5 301.0h0M484.5 349.6h0M486.9 310.7h0M491.8 330.2h0M494.3 330.2h0M496.7 320.5h0M499.2 301.0h0M501.6 320.5h0M504.1 301.0h0M511.4 335.0h0M513.8 276.7h0M516.3 305.9h0M516.3 325.3h0M516.3 354.5h0M521.2 271.9h0M523.6 291.3h0M528.5 310.7h0M531.0 344.8h0M533.4 271.9h0M535.9 267.0h0M535.9 315.6h0M557.9 286.4h0M565.2 320.5h0M572.6 315.6h0M577.5 276.7h0M582.4 354.5h0M589.7 344.8h0M597.0 276.7h0M599.5 305.9h0M599.5 344.8h0M604.4 291.3h0M606.8 305.9h0M616.6 301.0h0M616.6 320.5h0M619.1 315.6h0" stroke="#f9aab9" stroke-width="2.0" stroke-linecap="round"/>
<path d="M95.4 315.6h0M95.4 330.2h0M97.9 267.0h0M97.9 286.4h0M102.8 344.8h0M129.7 310.7h0M132.1 335.0h0M154.1 281.6h0M154.1 330.2h0M154.1 339.9h0M183.5 325.3h0M186.0 315.6h0M186.0 339.9h0M254.5 344.8h0M298.5 344.8h0M332.8 276.7h0M352.3 344.8h0M357.2 291.3h0M357.2 301.0h0M362.1 305.9h0M435.5 330.2h0M440.4 339.9h0M450.2 291.3h0M455.1 286.4h0M455.1 339.9h0M457.6 276.7h0M457.6 286.4h0M457.6 349.6h0M494.3 354.5h0M509.0 276.7h0M526.1 325.3h0M560.3 325.3h0M589.7 354.5h0" stroke="#f9aab9" stroke-width="2.4" stroke-linecap="round"/>
<path d="M97.9 305.9h0M100.3 271.9h0M102.8 339.9h0M183.5 315.6h0M183.5 354.5h0M362.1 325.3h0M435.5 296.2h0M438.0 291.3h0M440.4 301.0h0M440.4 330.2h0M440.4 359.3h0M450.2 330.2h0M450.2 349.6h0M489.4 281.6h0M489.4 325.3h0M494.3 276.7h0M509.0 305.9h0M511.4 281.6h0M511.4 310.7h0M577.5 310.7h0" stroke="#fabec6" stroke-width="2.4" stroke-linecap="round"/>
<path d="M97.9 359.3h0M100.3 344.8h0M102.8 305.9h0M129.7 281.6h0M132.1 286.4h0M139.5 310.7h0M154.1 359.3h0M183.5 271.9h0M183.5 335.0h0M186.0 344.8h0M254.5 296.2h0M332.8 349.6h0M352.3 291.3h0M357.2 267.0h0M357.2 296.2h0M357.2 315.6h0M357.2 325.3h0M362.1 267.0h0M364.6 310.7h0M438.0 281.6h0M438.0 296.2h0M438.0 315.6h0M440.4 320.5h0M440.4 325.3h0M440.4 349.6h0M450.2 271.9h0M450.2 281.6h0M450.2 315.6h0M455.1 296.2h0M457.6 267.0h0M457.6 291.3h0M457.6 310.7h0M457.6 330.2h0M457.6 344.8h0M489.4 271.9h0M494.3 301.0h0M494.3 315.6h0M494.3 320.5h0M501.6 305.9h0M501.6 315.6h0M501.6 354.5h0M506.5 276.7h0M506.5 281.6h0M506.5 354.5h0M509.0 301.0h0M511.4 325.3h0M570.1 276.7h0M572.6 344.8h0M577.5 281.6h0M577.5 286.4h0M577.5 335.0h0M594.6 291.3h0" stroke="#f691b1" stroke-width="2.4" stroke-linecap="round"/>
<path d="M95.4 271.9h0M95.4 354.5h0M95.4 359.3h0M97.9 320.5h0M100.3 349.6h0M102.8 296.2h0M102.8 310.7h0M129.7 330.2h0M129.7 335.0h0M129.7 349.6h0M132.1 310.7h0M132.1 339.9h0M139.5 349.6h0M154.1 271.9h0M154.1 291.3h0M183.5 349.6h0M186.0 325.3h0M186.0 330.2h0M254.5 349.6h0M332.8 267.0h0M332.8 335.0h0M352.3 281.6h0M357.2 281.6h0M357.2 286.4h0M357.2 344.8h0M362.1 276.7h0M364.6 296.2h0M364.6 320.5h0M371.9 271.9h0M371.9 339.9h0M435.5 276.7h0M435.5 291.3h0M435.5 359.3h0M438.0 271.9h0M438.0 276.7h0M438.0 305.9h0M438.0 349.6h0M438.0 354.5h0M438.0 359.3h0M440.4 286.4h0M440.4 305.9h0M450.2 305.9h0M450.2 310.7h0M450.2 320.5h0M457.6 271.9h0M457.6 281.6h0M457.6 315.6h0M457.6 320.5h0M489.4 330.2h0M489.4 335.0h0M501.6 271.9h0M506.5 271.9h0M506.5 296.2h0M509.0 315.6h0M509.0 339.9h0M509.0 354.5h0M511.4 320.5h0M516.3 286.4h0M516.3 330.2h0M516.3 339.9h0M516.3 359.3h0M523.6 267.0h0M523.6 276.7h0M523.6 320.5h0M526.1 291.3h0M570.1 330.2h0M570.1 335.0h0M577.5 344.8h0" stroke="#f379a8" stroke-width="2.8" stroke-linecap="round"/>
<path d="M95.4 286.4h0M97.9 325.3h0M100.3 281.6h0M129.7 276.7h0M129.7 286.4h0M129.7 320.5h0M129.7 344.8h0M132.1 267.0h0M132.1 354.5h0M139.5 339.9h0M183.5 291.3h0M254.5 301.0h0M254.5 310.7h0M254.5 320.5h0M330.3 305.9h0M332.8 301.0h0M352.3 305.9h0M352.3 335.0h0M357.2 276.7h0M357.2 349.6h0M357.2 354.5h0M359.7 335.0h0M364.6 271.9h0M364.6 344.8h0M371.9 354.5h0M420.9 267.0h0M420.9 286.4h0M420.9 330.2h0M435.5 349.6h0M440.4 281.6h0M440.4 344.8h0M455.1 276.7h0M455.1 301.0h0M455.1 320.5h0M455.1 330.2h0M455.1 335.0h0M455.1 354.5h0M457.6 335.0h0M489.4 267.0h0M494.3 271.9h0M494.3 339.9h0M494.3 344.8h0M501.6 301.0h0M501.6 335.0h0M501.6 339.9h0M506.5 286.4h0M506.5 305.9h0M506.5 325.3h0M506.5 330.2h0M509.0 267.0h0M509.0 310.7h0M509.0 335.0h0M509.0 359.3h0M511.4 286.4h0M511.4 349.6h0M511.4 359.3h0M523.6 296.2h0M526.1 315.6h0M560.3 359.3h0M570.1 325.3h0M572.6 291.3h0M572.6 330.2h0M572.6 339.9h0M575.0 320.5h0M577.5 320.5h0M577.5 330.2h0M577.5 349.6h0M589.7 349.6h0M594.6 276.7h0M594.6 354.5h0" stroke="#f060a0" stroke-width="2.8" stroke-linecap="round"/>
<path d="M97.9 310.7h0M97.9 339.9h0M129.7 271.9h0M129.7 359.3h0M132.1 271.9h0M132.1 349.6h0M139.5 286.4h0M139.5 291.3h0M154.1 296.2h0M183.5 305.9h0M254.5 276.7h0M256.9 267.0h0M256.9 281.6h0M256.9 325.3h0M298.5 267.0h0M330.3 354.5h0M352.3 276.7h0M352.3 339.9h0M357.2 271.9h0M357.2 330.2h0M359.7 344.8h0M362.1 349.6h0M364.6 276.7h0M364.6 281.6h0M371.9 276.7h0M371.9 359.3h0M420.9 325.3h0M435.5 354.5h0M438.0 267.0h0M438.0 301.0h0M438.0 310.7h0M438.0 330.2h0M440.4 296.2h0M455.1 344.8h0M455.1 349.6h0M457.6 339.9h0M489.4 310.7h0M494.3 286.4h0M494.3 305.9h0M501.6 276.7h0M501.6 281.6h0M501.6 286.4h0M501.6 310.7h0M506.5 320.5h0M506.5 335.0h0M509.0 281.6h0M509.0 291.3h0M509.0 320.5h0M509.0 330.2h0M509.0 349.6h0M511.4 271.9h0M511.4 354.5h0M516.3 281.6h0M516.3 310.7h0M523.6 344.8h0M526.1 354.5h0M572.6 310.7h0M575.0 267.0h0M575.0 349.6h0M575.0 354.5h0M577.5 301.0h0" stroke="#e04799" stroke-width="2.8" stroke-linecap="round"/>
<path d="M129.7 267.0h0M139.5 305.9h0M252.0 276.7h0M252.0 296.2h0M252.0 310.7h0M252.0 335.0h0M254.5 271.9h0M357.2 310.7h0M357.2 339.9h0M359.7 267.0h0M359.7 305.9h0M362.1 310.7h0M362.1 315.6h0M362.1 344.8h0M364.6 291.3h0M364.6 339.9h0M371.9 325.3h0M371.9 344.8h0M435.5 320.5h0M435.5 339.9h0M438.0 339.9h0M438.0 344.8h0M440.4 271.9h0M440.4 335.0h0M455.1 291.3h0M455.1 310.7h0M501.6 344.8h0M506.5 291.3h0M509.0 271.9h0M572.6 276.7h0M575.0 286.4h0M575.0 330.2h0M577.5 291.3h0M577.5 305.9h0" stroke="#d02f91" stroke-width="2.8" stroke-linecap="round"/>
<path d="M506.5 315.6h0M511.4 344.8h0" stroke="#f691b1" stroke-width="2.8" stroke-linecap="round"/>
<path d="M95.4 349.6h0M97.9 335.0h0M129.7 315.6h0M139.5 296.2h0M139.5 315.6h0M139.5 320.5h0M139.5 325.3h0M139.5 330.2h0M154.1 301.0h0M154.1 335.0h0M186.0 310.7h0M252.0 271.9h0M252.0 305.9h0M252.0 320.5h0M252.0 325.3h0M254.5 325.3h0M256.9 330.2h0M256.9 349.6h0M352.3 296.2h0M352.3 301.0h0M352.3 310.7h0M352.3 325.3h0M352.3 330.2h0M357.2 305.9h0M357.2 320.5h0M357.2 359.3h0M359.7 296.2h0M359.7 339.9h0M359.7 359.3h0M362.1 335.0h0M364.6 305.9h0M364.6 349.6h0M435.5 344.8h0M440.4 267.0h0M455.1 271.9h0M455.1 281.6h0M455.1 315.6h0M455.1 359.3h0M489.4 344.8h0M506.5 359.3h0M509.0 325.3h0M511.4 296.2h0M511.4 305.9h0M511.4 339.9h0M516.3 296.2h0M523.6 301.0h0M575.0 296.2h0M575.0 305.9h0M575.0 325.3h0M575.0 339.9h0M577.5 267.0h0M577.5 325.3h0" stroke="#c0168a" stroke-width="3.2" stroke-linecap="round"/>
<path d="M100.3 315.6h0M129.7 296.2h0M139.5 354.5h0M186.0 335.0h0M252.0 291.3h0M252.0 344.8h0M256.9 339.9h0M256.9 354.5h0M352.3 267.0h0M352.3 271.9h0M352.3 315.6h0M357.2 335.0h0M359.7 271.9h0M359.7 276.7h0M362.1 271.9h0M364.6 315.6h0M364.6 335.0h0M364.6 354.5h0M371.9 310.7h0M420.9 344.8h0M420.9 359.3h0M438.0 286.4h0M440.4 276.7h0M455.1 267.0h0M457.6 325.3h0M501.6 325.3h0M501.6 349.6h0M509.0 344.8h0M516.3 291.3h0M572.6 335.0h0M572.6 359.3h0M575.0 271.9h0M589.7 310.7h0" stroke="#d02f91" stroke-width="3.2" stroke-linecap="round"/>
<path d="M129.7 305.9h0M129.7 325.3h0M139.5 267.0h0M139.5 344.8h0M139.5 359.3h0M252.0 315.6h0M252.0 339.9h0M252.0 359.3h0M254.5 305.9h0M254.5 335.0h0M256.9 296.2h0M256.9 305.9h0M332.8 359.3h0M352.3 320.5h0M352.3 349.6h0M359.7 320.5h0M359.7 330.2h0M364.6 267.0h0M371.9 286.4h0M435.5 325.3h0M438.0 325.3h0M438.0 335.0h0M575.0 310.7h0M575.0 335.0h0" stroke="#a90f84" stroke-width="3.2" stroke-linecap="round"/>
<path d="M139.5 271.9h0M139.5 335.0h0M252.0 281.6h0M252.0 330.2h0M256.9 291.3h0M256.9 301.0h0M256.9 359.3h0M359.7 281.6h0M359.7 349.6h0M359.7 354.5h0M364.6 286.4h0M364.6 301.0h0M371.9 305.9h0M371.9 335.0h0M440.4 354.5h0M506.5 349.6h0M526.1 286.4h0M575.0 276.7h0M575.0 291.3h0M575.0 344.8h0M575.0 359.3h0" stroke="#91087d" stroke-width="3.2" stroke-linecap="round"/>
<path d="M139.5 276.7h0M139.5 281.6h0M139.5 301.0h0M252.0 267.0h0M252.0 286.4h0M252.0 301.0h0M252.0 349.6h0M256.9 271.9h0M256.9 276.7h0M256.9 286.4h0M256.9 310.7h0M256.9 315.6h0M256.9 320.5h0M256.9 335.0h0M256.9 344.8h0M359.7 286.4h0M359.7 291.3h0M359.7 301.0h0M359.7 310.7h0M359.7 315.6h0M359.7 325.3h0M371.9 320.5h0M575.0 281.6h0M575.0 301.0h0M575.0 315.6h0" stroke="#7a0177" stroke-width="3.2" stroke-linecap="round"/>
<path d="M53.8 354.5h0M58.7 286.4h0M68.5 276.7h0M68.5 359.3h0M75.8 276.7h0M80.7 286.4h0M80.7 296.2h0M83.2 267.0h0M90.5 359.3h0M97.9 281.6h0M100.3 286.4h0M105.2 320.5h0M122.3 267.0h0M132.1 291.3h0M134.6 296.2h0M134.6 325.3h0M146.8 286.4h0M166.4 271.9h0M176.2 296.2h0M178.6 267.0h0M193.3 335.0h0M195.7 315.6h0M198.2 325.3h0M203.1 286.4h0M203.1 320.5h0M203.1 335.0h0M205.5 310.7h0M208.0 325.3h0M222.7 267.0h0M230.0 310.7h0M234.9 286.4h0M234.9 305.9h0M237.3 344.8h0M244.7 267.0h0M244.7 281.6h0M247.1 349.6h0M249.6 271.9h0M264.3 281.6h0M264.3 339.9h0M266.7 276.7h0M266.7 310.7h0M271.6 359.3h0M278.9 315.6h0M278.9 349.6h0M281.4 286.4h0M286.3 276.7h0M291.2 296.2h0M293.6 335.0h0M303.4 276.7h0M308.3 335.0h0M315.6 315.6h0M323.0 320.5h0M325.4 296.2h0M327.9 310.7h0M330.3 349.6h0M342.6 276.7h0M347.5 344.8h0M347.5 349.6h0M347.5 354.5h0M354.8 271.9h0M369.5 305.9h0M381.7 271.9h0M381.7 320.5h0M381.7 344.8h0M386.6 310.7h0M391.5 281.6h0M398.8 296.2h0M401.3 281.6h0M401.3 310.7h0M403.7 267.0h0M403.7 349.6h0M411.1 291.3h0M411.1 320.5h0M413.5 315.6h0M430.7 281.6h0M430.7 301.0h0M440.4 310.7h0M445.3 335.0h0M447.8 267.0h0M447.8 276.7h0M452.7 354.5h0M460.0 315.6h0M460.0 354.5h0M472.2 267.0h0M477.1 281.6h0M479.6 310.7h0M482.0 359.3h0M489.4 320.5h0M499.2 271.9h0M499.2 310.7h0M504.1 349.6h0M513.8 301.0h0M521.2 359.3h0M523.6 354.5h0M526.1 296.2h0M528.5 325.3h0M538.3 344.8h0M543.2 320.5h0M545.7 281.6h0M548.1 271.9h0M548.1 320.5h0M548.1 339.9h0M555.4 271.9h0M555.4 330.2h0M555.4 335.0h0M562.8 349.6h0M579.9 325.3h0M584.8 359.3h0M589.7 359.3h0M592.2 281.6h0M594.6 339.9h0M597.0 271.9h0M601.9 271.9h0M601.9 359.3h0M609.3 291.3h0" stroke="#111" stroke-width="2.0" stroke-linecap="round"/>
<path d="M53.81 260.90V257.35M56.26 260.90V257.70M58.71 260.90V257.72M61.15 260.90V258.98M63.60 260.90V256.12M66.05 260.90V259.12M68.49 260.90V257.47M70.94 260.90V257.66M73.39 260.90V257.73M75.84 260.90V258.22M78.28 260.90V257.89M80.73 260.90V257.99M83.18 260.90V258.89M85.62 260.90V259.08M88.07 260.90V259.16M90.52 260.90V259.03M92.96 260.90V257.34M95.41 260.90V257.19M97.86 260.90V259.18M100.31 260.90V259.08M102.75 260.90V259.10M105.20 260.90V258.03M107.65 260.90V258.74M110.09 260.90V258.25M112.54 260.90V259.12M114.99 260.90V258.08M117.43 260.90V258.00M119.88 260.90V256.55M122.33 260.90V256.88M124.78 260.90V258.07M127.22 260.90V255.84M129.67 260.90V258.19M132.12 260.90V257.33M134.56 260.90V259.13M137.01 260.90V259.34M139.46 260.90V257.65M141.90 260.90V256.78M144.35 260.90V257.62M146.80 260.90V257.45M149.25 260.90V259.18M151.69 260.90V259.37M154.14 260.90V258.96M156.59 260.90V255.44M159.03 260.90V258.96M161.48 260.90V258.66M163.93 260.90V258.22M166.37 260.90V257.80M168.82 260.90V258.45M171.27 260.90V257.72M173.72 260.90V258.43M176.16 260.90V258.42M178.61 260.90V259.06M181.06 260.90V258.08M183.50 260.90V257.31M185.95 260.90V258.05M188.40 260.90V258.83M190.84 260.90V257.59M193.29 260.90V258.21M195.74 260.90V257.92M198.19 260.90V258.30M200.63 260.90V257.60M203.08 260.90V259.05M205.53 260.90V259.06M207.97 260.90V258.37M210.42 260.90V259.18M212.87 260.90V258.41M215.31 260.90V259.03M217.76 260.90V258.21M220.21 260.90V257.40M222.66 260.90V259.21M225.10 260.90V258.83M227.55 260.90V259.24M230.00 260.90V258.02M232.44 260.90V258.92M234.89 260.90V258.24M237.34 260.90V258.88M239.78 260.90V257.89M242.23 260.90V259.16M244.68 260.90V259.35M247.12 260.90V256.74M249.57 260.90V258.68M252.02 260.90V259.05M254.47 260.90V256.37M256.91 260.90V259.25M259.36 260.90V258.72M261.81 260.90V258.48M264.25 260.90V258.71M266.70 260.90V259.06M269.15 260.90V257.95M271.60 260.90V256.45M274.04 260.90V258.77M276.49 260.90V257.62M278.94 260.90V255.65M281.38 260.90V256.58M283.83 260.90V257.65M286.28 260.90V259.03M288.72 260.90V258.95M291.17 260.90V257.94M293.62 260.90V257.36M296.06 260.90V258.95M298.51 260.90V255.21M300.96 260.90V255.23M303.41 260.90V258.74M305.85 260.90V257.74M308.30 260.90V256.03M310.75 260.90V259.09M313.19 260.90V257.77M315.64 260.90V258.05M318.09 260.90V257.66M320.54 260.90V255.64M322.98 260.90V257.28M325.43 260.90V257.32M327.88 260.90V258.06M330.32 260.90V258.64M332.77 260.90V258.84M335.22 260.90V257.30M337.66 260.90V258.99M340.11 260.90V259.06M342.56 260.90V258.35M345.01 260.90V257.75M347.45 260.90V257.71M349.90 260.90V257.28M352.35 260.90V257.71M354.79 260.90V258.90M357.24 260.90V257.81M359.69 260.90V259.11M362.13 260.90V259.27M364.58 260.90V258.65M367.03 260.90V259.05M369.48 260.90V258.83M371.92 260.90V258.16M374.37 260.90V259.00M376.82 260.90V259.29M379.26 260.90V255.33M381.71 260.90V257.53M384.16 260.90V257.92M386.60 260.90V257.35M389.05 260.90V258.63M391.50 260.90V258.84M393.95 260.90V258.64M396.39 260.90V257.65M398.84 260.90V259.01M401.29 260.90V257.32M403.73 260.90V258.23M406.18 260.90V257.89M408.63 260.90V258.60M411.07 260.90V258.09M413.52 260.90V255.35M415.97 260.90V259.06M418.42 260.90V257.67M420.86 260.90V259.19M423.31 260.90V258.96M425.76 260.90V257.18M428.20 260.90V258.23M430.65 260.90V258.24M433.10 260.90V257.64M435.54 260.90V257.37M437.99 260.90V258.41M440.44 260.90V258.90M442.89 260.90V258.81M445.33 260.90V258.86M447.78 260.90V256.39M450.23 260.90V258.48M452.67 260.90V259.13M455.12 260.90V259.37M457.57 260.90V259.31M460.01 260.90V258.38M462.46 260.90V257.92M464.91 260.90V256.69M467.36 260.90V258.82M469.80 260.90V257.70M472.25 260.90V257.15M474.70 260.90V257.38M477.14 260.90V258.98M479.59 260.90V258.36M482.04 260.90V257.71M484.48 260.90V257.65M486.93 260.90V257.46M489.38 260.90V257.87M491.83 260.90V258.84M494.27 260.90V258.33M496.72 260.90V256.85M499.17 260.90V257.57M501.61 260.90V254.81M504.06 260.90V255.92M506.51 260.90V258.96M508.95 260.90V254.91M511.40 260.90V256.92M513.85 260.90V255.84M516.29 260.90V255.63M518.74 260.90V257.34M521.19 260.90V256.31M523.64 260.90V256.63M526.08 260.90V256.44M528.53 260.90V254.21M530.98 260.90V257.19M533.42 260.90V255.59M535.87 260.90V257.68M538.32 260.90V259.01M540.76 260.90V258.28M543.21 260.90V258.66M545.66 260.90V257.08M548.11 260.90V257.30M550.55 260.90V257.76M553.00 260.90V256.10M555.45 260.90V257.44M557.89 260.90V255.16M560.34 260.90V258.12M562.79 260.90V257.42M565.24 260.90V256.72M567.68 260.90V257.83M570.13 260.90V257.48M572.58 260.90V256.74M575.02 260.90V257.84M577.47 260.90V258.91M579.92 260.90V257.80M582.36 260.90V258.24M584.81 260.90V258.91M587.26 260.90V258.39M589.71 260.90V258.02M592.15 260.90V257.47M594.60 260.90V259.16M597.05 260.90V258.21M599.49 260.90V259.13M601.94 260.90V258.91M604.39 260.90V257.75M606.83 260.90V258.25M609.28 260.90V256.51M611.73 260.90V258.97M614.18 260.90V257.35M616.62 260.90V258.72M619.07 260.90V258.02" fill="none" stroke="#d4d4d4" stroke-width="2.3" />
<line x1="129.7" y1="260.9" x2="129.7" y2="252.0" stroke="#e0339b" stroke-width="1.8" />
<line x1="132.1" y1="260.9" x2="132.1" y2="251.5" stroke="#e0339b" stroke-width="1.8" />
<line x1="139.5" y1="260.9" x2="139.5" y2="244.0" stroke="#4b1d6b" stroke-width="1.8" />
<line x1="252.0" y1="260.9" x2="252.0" y2="244.4" stroke="#4b1d6b" stroke-width="1.8" />
<line x1="254.5" y1="260.9" x2="254.5" y2="252.3" stroke="#e0339b" stroke-width="1.8" />
<line x1="256.9" y1="260.9" x2="256.9" y2="243.9" stroke="#4b1d6b" stroke-width="1.8" />
<line x1="352.3" y1="260.9" x2="352.3" y2="248.0" stroke="#4b1d6b" stroke-width="1.8" />
<line x1="357.2" y1="260.9" x2="357.2" y2="252.2" stroke="#e0339b" stroke-width="1.8" />
<line x1="359.7" y1="260.9" x2="359.7" y2="241.8" stroke="#4b1d6b" stroke-width="1.8" />
<line x1="362.1" y1="260.9" x2="362.1" y2="252.5" stroke="#e0339b" stroke-width="1.8" />
<line x1="364.6" y1="260.9" x2="364.6" y2="246.8" stroke="#4b1d6b" stroke-width="1.8" />
<line x1="371.9" y1="260.9" x2="371.9" y2="251.0" stroke="#4b1d6b" stroke-width="1.8" />
<line x1="420.9" y1="260.9" x2="420.9" y2="253.1" stroke="#e0339b" stroke-width="1.8" />
<line x1="435.5" y1="260.9" x2="435.5" y2="254.0" stroke="#e0339b" stroke-width="1.8" />
<line x1="438.0" y1="260.9" x2="438.0" y2="250.5" stroke="#4b1d6b" stroke-width="1.8" />
<line x1="440.4" y1="260.9" x2="440.4" y2="253.0" stroke="#e0339b" stroke-width="1.8" />
<line x1="450.2" y1="260.9" x2="450.2" y2="253.0" stroke="#e0339b" stroke-width="1.8" />
<line x1="455.1" y1="260.9" x2="455.1" y2="250.0" stroke="#4b1d6b" stroke-width="1.8" />
<line x1="457.6" y1="260.9" x2="457.6" y2="252.0" stroke="#e0339b" stroke-width="1.8" />
<line x1="489.4" y1="260.9" x2="489.4" y2="254.0" stroke="#e0339b" stroke-width="1.8" />
<line x1="501.6" y1="260.9" x2="501.6" y2="251.0" stroke="#4b1d6b" stroke-width="1.8" />
<line x1="506.5" y1="260.9" x2="506.5" y2="251.0" stroke="#4b1d6b" stroke-width="1.8" />
<line x1="509.0" y1="260.9" x2="509.0" y2="249.1" stroke="#4b1d6b" stroke-width="1.8" />
<line x1="511.4" y1="260.9" x2="511.4" y2="252.0" stroke="#e0339b" stroke-width="1.8" />
<line x1="516.3" y1="260.9" x2="516.3" y2="253.0" stroke="#e0339b" stroke-width="1.8" />
<line x1="523.6" y1="260.9" x2="523.6" y2="253.5" stroke="#e0339b" stroke-width="1.8" />
<line x1="526.1" y1="260.9" x2="526.1" y2="253.5" stroke="#e0339b" stroke-width="1.8" />
<line x1="575.0" y1="260.9" x2="575.0" y2="249.1" stroke="#4b1d6b" stroke-width="1.8" />
<line x1="577.5" y1="260.9" x2="577.5" y2="252.0" stroke="#e0339b" stroke-width="1.8" />
<path d="M63.60 361.54V363.14M75.84 361.54V363.14M88.07 361.54V363.14M100.31 361.54V363.14M112.54 361.54V363.14M124.78 361.54V363.14M137.01 361.54V363.14M149.25 361.54V363.14M161.48 361.54V363.14M173.72 361.54V363.14M185.95 361.54V363.14M198.19 361.54V363.14M210.42 361.54V363.14M222.66 361.54V363.14M234.89 361.54V363.14M247.12 361.54V363.14M259.36 361.54V363.14M271.60 361.54V363.14M283.83 361.54V363.14M296.06 361.54V363.14M308.30 361.54V363.14M320.54 361.54V363.14M332.77 361.54V363.14M345.01 361.54V363.14M357.24 361.54V363.14M369.48 361.54V363.14M381.71 361.54V363.14M393.95 361.54V363.14M406.18 361.54V363.14M418.42 361.54V363.14M430.65 361.54V363.14M442.89 361.54V363.14M455.12 361.54V363.14M467.36 361.54V363.14M479.59 361.54V363.14M491.83 361.54V363.14M504.06 361.54V363.14M516.29 361.54V363.14M528.53 361.54V363.14M540.76 361.54V363.14M553.00 361.54V363.14M565.24 361.54V363.14M577.47 361.54V363.14M589.71 361.54V363.14M601.94 361.54V363.14M614.18 361.54V363.14" fill="none" stroke="#777" stroke-width="0.5" />
<text x="63.6" y="368.6" font-size="5.6" font-weight="normal" fill="#444" text-anchor="middle" >220</text>
<text x="75.8" y="368.6" font-size="5.6" font-weight="normal" fill="#444" text-anchor="middle" >225</text>
<text x="88.1" y="368.6" font-size="5.6" font-weight="normal" fill="#444" text-anchor="middle" >230</text>
<text x="100.3" y="368.6" font-size="5.6" font-weight="normal" fill="#444" text-anchor="middle" >235</text>
<text x="112.5" y="368.6" font-size="5.6" font-weight="normal" fill="#444" text-anchor="middle" >240</text>
<text x="124.8" y="368.6" font-size="5.6" font-weight="normal" fill="#444" text-anchor="middle" >245</text>
<text x="137.0" y="368.6" font-size="5.6" font-weight="normal" fill="#444" text-anchor="middle" >250</text>
<text x="149.2" y="368.6" font-size="5.6" font-weight="normal" fill="#444" text-anchor="middle" >255</text>
<text x="161.5" y="368.6" font-size="5.6" font-weight="normal" fill="#444" text-anchor="middle" >260</text>
<text x="173.7" y="368.6" font-size="5.6" font-weight="normal" fill="#444" text-anchor="middle" >265</text>
<text x="186.0" y="368.6" font-size="5.6" font-weight="normal" fill="#444" text-anchor="middle" >270</text>
<text x="198.2" y="368.6" font-size="5.6" font-weight="normal" fill="#444" text-anchor="middle" >275</text>
<text x="210.4" y="368.6" font-size="5.6" font-weight="normal" fill="#444" text-anchor="middle" >280</text>
<text x="222.7" y="368.6" font-size="5.6" font-weight="normal" fill="#444" text-anchor="middle" >285</text>
<text x="234.9" y="368.6" font-size="5.6" font-weight="normal" fill="#444" text-anchor="middle" >290</text>
<text x="247.1" y="368.6" font-size="5.6" font-weight="normal" fill="#444" text-anchor="middle" >295</text>
<text x="259.4" y="368.6" font-size="5.6" font-weight="normal" fill="#444" text-anchor="middle" >300</text>
<text x="271.6" y="368.6" font-size="5.6" font-weight="normal" fill="#444" text-anchor="middle" >305</text>
<text x="283.8" y="368.6" font-size="5.6" font-weight="normal" fill="#444" text-anchor="middle" >310</text>
<text x="296.1" y="368.6" font-size="5.6" font-weight="normal" fill="#444" text-anchor="middle" >315</text>
<text x="308.3" y="368.6" font-size="5.6" font-weight="normal" fill="#444" text-anchor="middle" >320</text>
<text x="320.5" y="368.6" font-size="5.6" font-weight="normal" fill="#444" text-anchor="middle" >325</text>
<text x="332.8" y="368.6" font-size="5.6" font-weight="normal" fill="#444" text-anchor="middle" >330</text>
<text x="345.0" y="368.6" font-size="5.6" font-weight="normal" fill="#444" text-anchor="middle" >335</text>
<text x="357.2" y="368.6" font-size="5.6" font-weight="normal" fill="#444" text-anchor="middle" >340</text>
<text x="369.5" y="368.6" font-size="5.6" font-weight="normal" fill="#444" text-anchor="middle" >345</text>
<text x="381.7" y="368.6" font-size="5.6" font-weight="normal" fill="#444" text-anchor="middle" >350</text>
<text x="393.9" y="368.6" font-size="5.6" font-weight="normal" fill="#444" text-anchor="middle" >355</text>
<text x="406.2" y="368.6" font-size="5.6" font-weight="normal" fill="#444" text-anchor="middle" >360</text>
<text x="418.4" y="368.6" font-size="5.6" font-weight="normal" fill="#444" text-anchor="middle" >365</text>
<text x="430.7" y="368.6" font-size="5.6" font-weight="normal" fill="#444" text-anchor="middle" >370</text>
<text x="442.9" y="368.6" font-size="5.6" font-weight="normal" fill="#444" text-anchor="middle" >375</text>
<text x="455.1" y="368.6" font-size="5.6" font-weight="normal" fill="#444" text-anchor="middle" >380</text>
<text x="467.4" y="368.6" font-size="5.6" font-weight="normal" fill="#444" text-anchor="middle" >385</text>
<text x="479.6" y="368.6" font-size="5.6" font-weight="normal" fill="#444" text-anchor="middle" >390</text>
<text x="491.8" y="368.6" font-size="5.6" font-weight="normal" fill="#444" text-anchor="middle" >395</text>
<text x="504.1" y="368.6" font-size="5.6" font-weight="normal" fill="#444" text-anchor="middle" >400</text>
<text x="516.3" y="368.6" font-size="5.6" font-weight="normal" fill="#444" text-anchor="middle" >405</text>
<text x="528.5" y="368.6" font-size="5.6" font-weight="normal" fill="#444" text-anchor="middle" >410</text>
<text x="540.8" y="368.6" font-size="5.6" font-weight="normal" fill="#444" text-anchor="middle" >415</text>
<text x="553.0" y="368.6" font-size="5.6" font-weight="normal" fill="#444" text-anchor="middle" >420</text>
<text x="565.2" y="368.6" font-size="5.6" font-weight="normal" fill="#444" text-anchor="middle" >425</text>
<text x="577.5" y="368.6" font-size="5.6" font-weight="normal" fill="#444" text-anchor="middle" >430</text>
<text x="589.7" y="368.6" font-size="5.6" font-weight="normal" fill="#444" text-anchor="middle" >435</text>
<text x="601.9" y="368.6" font-size="5.6" font-weight="normal" fill="#444" text-anchor="middle" >440</text>
<text x="614.2" y="368.6" font-size="5.6" font-weight="normal" fill="#444" text-anchor="middle" >445</text>
<text x="49.6" y="268.6" font-size="4.6" font-weight="normal" fill="#444" text-anchor="end" >D</text>
<text x="49.6" y="273.5" font-size="4.6" font-weight="normal" fill="#444" text-anchor="end" >E</text>
<text x="49.6" y="278.3" font-size="4.6" font-weight="normal" fill="#444" text-anchor="end" >K</text>
<text x="49.6" y="283.2" font-size="4.6" font-weight="normal" fill="#444" text-anchor="end" >R</text>
<text x="49.6" y="288.0" font-size="4.6" font-weight="normal" fill="#444" text-anchor="end" >H</text>
<text x="49.6" y="292.9" font-size="4.6" font-weight="normal" fill="#444" text-anchor="end" >C</text>
<text x="49.6" y="297.8" font-size="4.6" font-weight="normal" fill="#444" text-anchor="end" >S</text>
<text x="49.6" y="302.6" font-size="4.6" font-weight="normal" fill="#444" text-anchor="end" >T</text>
<text x="49.6" y="307.5" font-size="4.6" font-weight="normal" fill="#444" text-anchor="end" >N</text>
<text x="49.6" y="312.3" font-size="4.6" font-weight="normal" fill="#444" text-anchor="end" >Q</text>
<text x="49.6" y="317.2" font-size="4.6" font-weight="normal" fill="#444" text-anchor="end" >G</text>
<text x="49.6" y="322.1" font-size="4.6" font-weight="normal" fill="#444" text-anchor="end" >A</text>
<text x="49.6" y="326.9" font-size="4.6" font-weight="normal" fill="#444" text-anchor="end" >V</text>
<text x="49.6" y="331.8" font-size="4.6" font-weight="normal" fill="#444" text-anchor="end" >L</text>
<text x="49.6" y="336.6" font-size="4.6" font-weight="normal" fill="#444" text-anchor="end" >I</text>
<text x="49.6" y="341.5" font-size="4.6" font-weight="normal" fill="#444" text-anchor="end" >M</text>
<text x="49.6" y="346.4" font-size="4.6" font-weight="normal" fill="#444" text-anchor="end" >P</text>
<text x="49.6" y="351.2" font-size="4.6" font-weight="normal" fill="#444" text-anchor="end" >F</text>
<text x="49.6" y="356.1" font-size="4.6" font-weight="normal" fill="#444" text-anchor="end" >Y</text>
<text x="49.6" y="360.9" font-size="4.6" font-weight="normal" fill="#444" text-anchor="end" >W</text>
<path d="M50.0 267.00H51.3M50.0 271.86H51.3M50.0 276.72H51.3M50.0 281.58H51.3M50.0 286.44H51.3M50.0 291.30H51.3M50.0 296.16H51.3M50.0 301.02H51.3M50.0 305.88H51.3M50.0 310.74H51.3M50.0 315.60H51.3M50.0 320.46H51.3M50.0 325.32H51.3M50.0 330.18H51.3M50.0 335.04H51.3M50.0 339.90H51.3M50.0 344.76H51.3M50.0 349.62H51.3M50.0 354.48H51.3M50.0 359.34H51.3" fill="none" stroke="#666" stroke-width="0.5" />
<text x="336.6" y="379.6" font-size="11" font-weight="normal" fill="#111" text-anchor="middle" >Fc Site</text>
<text transform="translate(42.2,313.2) rotate(-90)" font-size="13" fill="#111" text-anchor="middle" textLength="51" lengthAdjust="spacingAndGlyphs">Mutation</text>
<text x="625.8" y="267.5" font-size="8.6" font-weight="normal" fill="#111" text-anchor="start" >Weaker</text>
<linearGradient id="lgc" x1="0" y1="1" x2="0" y2="0"><stop offset="0" stop-color="#fde6e0"/><stop offset="0.25" stop-color="#f9aab9"/><stop offset="0.5" stop-color="#f060a0"/><stop offset="0.75" stop-color="#c0168a"/><stop offset="1" stop-color="#7a0177"/></linearGradient>
<rect x="625.90" y="271.10" width="7.30" height="36.20" fill="url(#lgc)" />
<text x="637.2" y="273.7" font-size="7.2" font-weight="normal" fill="#222" text-anchor="start" >1.00</text>
<text x="637.2" y="282.8" font-size="7.2" font-weight="normal" fill="#222" text-anchor="start" >0.75</text>
<text x="637.2" y="291.9" font-size="7.2" font-weight="normal" fill="#222" text-anchor="start" >0.50</text>
<text x="637.2" y="301.0" font-size="7.2" font-weight="normal" fill="#222" text-anchor="start" >0.25</text>
<text x="637.2" y="310.1" font-size="7.2" font-weight="normal" fill="#222" text-anchor="start" >0.00</text>
<text x="625.6" y="331.7" font-size="8.6" font-weight="normal" fill="#111" text-anchor="start" >-log(p_adj)</text>
<rect x="626.00" y="335.30" width="7.30" height="29.80" fill="#fdf3f3" />
<circle cx="629.8" cy="339.2" r="0.35" fill="#111"/>
<text x="637.2" y="341.7" font-size="7.2" font-weight="normal" fill="#222" text-anchor="start" >0</text>
<circle cx="629.8" cy="346.5" r="0.8" fill="#111"/>
<text x="637.2" y="349.0" font-size="7.2" font-weight="normal" fill="#222" text-anchor="start" >200</text>
<circle cx="629.8" cy="353.8" r="1.1" fill="#111"/>
<text x="637.2" y="356.3" font-size="7.2" font-weight="normal" fill="#222" text-anchor="start" >400</text>
<circle cx="629.8" cy="361.1" r="1.4" fill="#111"/>
<text x="637.2" y="363.6" font-size="7.2" font-weight="normal" fill="#222" text-anchor="start" >600</text>
<rect x="51.50" y="401.00" width="569.00" height="98.74" fill="#ffffff" />
<pattern id="tiled" x="51.457" y="401.770" width="2.454" height="4.86" patternUnits="userSpaceOnUse"><rect x="0.35" y="0.3" width="1.754" height="4.26" fill="#e8f0fa"/><circle cx="1.227" cy="2.43" r="0.5" fill="#d2e2f3"/></pattern>
<rect x="51.46" y="401.77" width="569.33" height="97.20" fill="url(#tiled)" />
<path d="M52.7 433.4h0M55.1 486.8h0M69.9 462.5h0M74.8 462.5h0M109.1 482.0h0M111.6 447.9h0M133.7 404.2h0M138.6 457.7h0M148.4 433.4h0M158.2 423.6h0M160.7 404.2h0M177.8 482.0h0M190.1 438.2h0M195.0 452.8h0M249.0 409.1h0M251.5 428.5h0M263.7 409.1h0M271.1 447.9h0M278.5 496.5h0M285.8 491.7h0M288.3 433.4h0M300.5 477.1h0M317.7 472.2h0M322.6 404.2h0M332.4 457.7h0M334.9 491.7h0M344.7 472.2h0M347.2 486.8h0M349.6 443.1h0M357.0 409.1h0M386.4 433.4h0M406.1 423.6h0M425.7 438.2h0M435.5 443.1h0M440.4 452.8h0M465.0 486.8h0M467.4 457.7h0M474.8 438.2h0M492.0 447.9h0M501.8 423.6h0M501.8 452.8h0M506.7 467.4h0M511.6 491.7h0M518.9 409.1h0M518.9 457.7h0M521.4 447.9h0M528.8 482.0h0M543.5 433.4h0M545.9 438.2h0M553.3 418.8h0M555.8 433.4h0M560.7 496.5h0M565.6 418.8h0M575.4 462.5h0M595.0 423.6h0M597.5 462.5h0M599.9 472.2h0" stroke="#aacee9" stroke-width="1.6" stroke-linecap="round"/>
<path d="M82.1 418.8h0M82.1 477.1h0M87.0 428.5h0M106.7 413.9h0M138.6 462.5h0M141.0 418.8h0M143.5 438.2h0M153.3 409.1h0M165.6 428.5h0M168.0 404.2h0M187.7 438.2h0M195.0 467.4h0M197.5 462.5h0M219.6 462.5h0M244.1 428.5h0M244.1 496.5h0M251.5 486.8h0M253.9 423.6h0M256.4 491.7h0M271.1 486.8h0M285.8 482.0h0M300.5 418.8h0M303.0 486.8h0M305.4 428.5h0M334.9 496.5h0M347.2 457.7h0M354.5 496.5h0M364.3 447.9h0M366.8 423.6h0M374.2 486.8h0M398.7 413.9h0M398.7 452.8h0M406.1 477.1h0M445.3 413.9h0M445.3 491.7h0M484.6 491.7h0M492.0 418.8h0M492.0 491.7h0M494.4 447.9h0M499.3 491.7h0M511.6 496.5h0M541.0 438.2h0M543.5 457.7h0M575.4 491.7h0M604.8 457.7h0" stroke="#c8def0" stroke-width="1.6" stroke-linecap="round"/>
<path d="M52.7 418.8h0M55.1 438.2h0M57.6 496.5h0M60.0 467.4h0M60.0 491.7h0M65.0 413.9h0M65.0 443.1h0M69.9 482.0h0M69.9 486.8h0M82.1 462.5h0M89.5 413.9h0M91.9 438.2h0M94.4 428.5h0M96.9 472.2h0M101.8 467.4h0M104.2 404.2h0M104.2 433.4h0M116.5 486.8h0M121.4 423.6h0M133.7 443.1h0M148.4 404.2h0M148.4 423.6h0M148.4 496.5h0M160.7 462.5h0M190.1 447.9h0M190.1 452.8h0M192.6 472.2h0M192.6 491.7h0M197.5 413.9h0M197.5 428.5h0M199.9 472.2h0M204.8 418.8h0M207.3 404.2h0M212.2 457.7h0M212.2 477.1h0M214.6 452.8h0M224.5 477.1h0M244.1 438.2h0M244.1 482.0h0M249.0 467.4h0M251.5 491.7h0M256.4 447.9h0M256.4 457.7h0M256.4 472.2h0M266.2 433.4h0M273.5 457.7h0M293.2 482.0h0M298.1 428.5h0M298.1 467.4h0M307.9 433.4h0M310.4 413.9h0M310.4 462.5h0M312.8 491.7h0M315.3 443.1h0M327.5 496.5h0M330.0 409.1h0M337.3 404.2h0M337.3 462.5h0M342.3 452.8h0M347.2 438.2h0M349.6 447.9h0M349.6 472.2h0M352.1 438.2h0M361.9 433.4h0M364.3 477.1h0M369.2 443.1h0M379.1 457.7h0M381.5 477.1h0M384.0 409.1h0M384.0 452.8h0M386.4 423.6h0M386.4 482.0h0M388.9 491.7h0M391.3 418.8h0M391.3 428.5h0M393.8 443.1h0M398.7 486.8h0M406.1 486.8h0M408.5 472.2h0M415.9 467.4h0M425.7 443.1h0M428.1 496.5h0M438.0 472.2h0M440.4 462.5h0M440.4 482.0h0M447.8 486.8h0M447.8 496.5h0M452.7 404.2h0M452.7 443.1h0M455.1 491.7h0M462.5 404.2h0M465.0 423.6h0M467.4 496.5h0M469.9 433.4h0M477.2 433.4h0M484.6 477.1h0M487.0 462.5h0M494.4 467.4h0M496.9 409.1h0M509.1 491.7h0M514.0 486.8h0M516.5 462.5h0M523.9 423.6h0M526.3 462.5h0M526.3 486.8h0M528.8 413.9h0M528.8 491.7h0M541.0 413.9h0M543.5 462.5h0M543.5 496.5h0M545.9 457.7h0M550.8 409.1h0M555.8 491.7h0M563.1 496.5h0M568.0 491.7h0M575.4 452.8h0M580.3 428.5h0M587.7 409.1h0M592.6 457.7h0M607.3 413.9h0M609.7 443.1h0" stroke="#8cbee1" stroke-width="2.0" stroke-linecap="round"/>
<path d="M52.7 457.7h0M52.7 482.0h0M57.6 447.9h0M67.4 428.5h0M67.4 467.4h0M72.3 457.7h0M72.3 477.1h0M74.8 418.8h0M82.1 404.2h0M87.0 413.9h0M87.0 423.6h0M87.0 496.5h0M89.5 462.5h0M96.9 443.1h0M99.3 443.1h0M116.5 404.2h0M116.5 457.7h0M126.3 491.7h0M126.3 496.5h0M128.8 496.5h0M131.2 428.5h0M141.0 486.8h0M143.5 491.7h0M214.6 462.5h0M224.5 409.1h0M229.4 447.9h0M229.4 486.8h0M231.8 433.4h0M234.3 472.2h0M234.3 477.1h0M236.7 413.9h0M239.2 423.6h0M244.1 413.9h0M244.1 423.6h0M244.1 462.5h0M249.0 486.8h0M251.5 418.8h0M253.9 428.5h0M256.4 467.4h0M258.8 462.5h0M271.1 482.0h0M276.0 447.9h0M276.0 452.8h0M278.5 491.7h0M280.9 418.8h0M285.8 423.6h0M288.3 457.7h0M293.2 491.7h0M295.6 423.6h0M295.6 457.7h0M305.4 404.2h0M305.4 457.7h0M307.9 462.5h0M325.1 457.7h0M327.5 423.6h0M334.9 428.5h0M344.7 423.6h0M347.2 496.5h0M349.6 409.1h0M349.6 428.5h0M354.5 413.9h0M354.5 482.0h0M357.0 423.6h0M357.0 462.5h0M357.0 491.7h0M359.4 428.5h0M364.3 443.1h0M366.8 482.0h0M374.2 472.2h0M376.6 477.1h0M381.5 409.1h0M384.0 462.5h0M386.4 472.2h0M388.9 477.1h0M396.2 438.2h0M401.2 486.8h0M403.6 409.1h0M403.6 418.8h0M403.6 438.2h0M403.6 452.8h0M408.5 491.7h0M423.2 457.7h0M425.7 452.8h0M433.1 486.8h0M445.3 482.0h0M447.8 443.1h0M452.7 472.2h0M457.6 409.1h0M457.6 423.6h0M460.0 438.2h0M467.4 477.1h0M469.9 477.1h0M474.8 482.0h0M484.6 404.2h0M484.6 496.5h0M487.0 428.5h0M496.9 457.7h0M499.3 462.5h0M504.2 418.8h0M509.1 413.9h0M511.6 443.1h0M526.3 423.6h0M526.3 472.2h0M531.2 443.1h0M533.7 423.6h0M533.7 486.8h0M553.3 482.0h0M555.8 423.6h0M563.1 413.9h0M572.9 452.8h0M572.9 462.5h0M572.9 496.5h0M575.4 409.1h0M577.8 409.1h0M590.1 438.2h0M595.0 418.8h0M595.0 433.4h0M597.5 467.4h0M599.9 438.2h0M607.3 467.4h0M609.7 433.4h0M617.1 404.2h0M617.1 467.4h0M619.6 413.9h0" stroke="#75afd9" stroke-width="2.0" stroke-linecap="round"/>
<path d="M77.2 447.9h0M77.2 496.5h0M89.5 496.5h0M94.4 457.7h0M128.8 404.2h0M148.4 438.2h0M155.8 482.0h0M158.2 428.5h0M158.2 477.1h0M175.4 418.8h0M190.1 418.8h0M204.8 433.4h0M212.2 423.6h0M239.2 477.1h0M241.6 413.9h0M249.0 472.2h0M268.6 491.7h0M271.1 452.8h0M290.7 486.8h0M298.1 423.6h0M300.5 423.6h0M303.0 462.5h0M317.7 428.5h0M317.7 462.5h0M322.6 409.1h0M327.5 418.8h0M327.5 447.9h0M334.9 413.9h0M354.5 433.4h0M361.9 438.2h0M369.2 418.8h0M371.7 433.4h0M371.7 491.7h0M374.2 491.7h0M384.0 433.4h0M384.0 486.8h0M396.2 443.1h0M425.7 496.5h0M445.3 486.8h0M450.2 472.2h0M457.6 452.8h0M465.0 467.4h0M469.9 457.7h0M482.1 482.0h0M489.5 404.2h0M489.5 486.8h0M496.9 404.2h0M496.9 467.4h0M533.7 433.4h0M536.1 423.6h0M536.1 462.5h0M553.3 477.1h0M555.8 428.5h0M568.0 433.4h0M568.0 447.9h0M585.2 447.9h0M592.6 467.4h0M602.4 433.4h0M604.8 486.8h0M609.7 428.5h0M612.2 409.1h0" stroke="#aacee9" stroke-width="2.0" stroke-linecap="round"/>
<path d="M109.1 433.4h0M393.8 457.7h0M582.7 404.2h0" stroke="#5da0d0" stroke-width="2.0" stroke-linecap="round"/>
<path d="M106.7 423.6h0M106.7 462.5h0M106.7 496.5h0M163.1 457.7h0M168.0 472.2h0M175.4 409.1h0M303.0 482.0h0M322.6 438.2h0M577.8 467.4h0" stroke="#aacee9" stroke-width="2.4" stroke-linecap="round"/>
<path d="M106.7 443.1h0M118.9 452.8h0M163.1 472.2h0M172.9 462.5h0M175.4 467.4h0M192.6 443.1h0M241.6 443.1h0M246.6 428.5h0M258.8 404.2h0M261.3 477.1h0M261.3 496.5h0M263.7 457.7h0M320.2 404.2h0M366.8 404.2h0M366.8 418.8h0M366.8 457.7h0" stroke="#75afd9" stroke-width="2.4" stroke-linecap="round"/>
<path d="M163.1 438.2h0M163.1 443.1h0M163.1 467.4h0M163.1 496.5h0M165.6 482.0h0M170.5 452.8h0M172.9 433.4h0M172.9 472.2h0M175.4 486.8h0M209.7 457.7h0M241.6 433.4h0M241.6 462.5h0M322.6 413.9h0" stroke="#8cbee1" stroke-width="2.4" stroke-linecap="round"/>
<path d="M106.7 409.1h0M106.7 433.4h0M106.7 486.8h0M114.0 462.5h0M114.0 467.4h0M114.0 496.5h0M163.1 462.5h0M165.6 462.5h0M168.0 457.7h0M168.0 496.5h0M170.5 423.6h0M170.5 433.4h0M170.5 457.7h0M170.5 496.5h0M172.9 491.7h0M175.4 462.5h0M177.8 438.2h0M177.8 477.1h0M192.6 447.9h0M246.6 423.6h0M258.8 472.2h0M263.7 428.5h0M263.7 496.5h0M320.2 462.5h0M320.2 486.8h0M366.8 496.5h0" stroke="#5da0d0" stroke-width="2.8" stroke-linecap="round"/>
<path d="M106.7 418.8h0M114.0 404.2h0M114.0 418.8h0M114.0 472.2h0M114.0 486.8h0M118.9 467.4h0M118.9 477.1h0M163.1 491.7h0M165.6 472.2h0M165.6 491.7h0M168.0 418.8h0M168.0 452.8h0M168.0 462.5h0M168.0 477.1h0M168.0 482.0h0M170.5 477.1h0M172.9 404.2h0M172.9 413.9h0M172.9 423.6h0M172.9 486.8h0M175.4 452.8h0M175.4 472.2h0M175.4 482.0h0M192.6 404.2h0M192.6 438.2h0M192.6 496.5h0M241.6 491.7h0M246.6 457.7h0M246.6 467.4h0M258.8 418.8h0M258.8 428.5h0M258.8 438.2h0M258.8 457.7h0M261.3 409.1h0M261.3 418.8h0M261.3 428.5h0M261.3 472.2h0M261.3 482.0h0M263.7 491.7h0M303.0 477.1h0M320.2 438.2h0M320.2 477.1h0" stroke="#3a85c1" stroke-width="2.8" stroke-linecap="round"/>
<path d="M106.7 428.5h0M118.9 418.8h0M163.1 482.0h0M165.6 409.1h0M165.6 486.8h0M165.6 496.5h0M170.5 418.8h0M172.9 477.1h0M175.4 477.1h0M192.6 452.8h0M246.6 491.7h0M263.7 413.9h0M303.0 467.4h0M320.2 428.5h0" stroke="#2f7abb" stroke-width="2.8" stroke-linecap="round"/>
<path d="M106.7 477.1h0M114.0 443.1h0M118.9 413.9h0M118.9 443.1h0M118.9 472.2h0M118.9 491.7h0M163.1 418.8h0M163.1 428.5h0M163.1 433.4h0M163.1 452.8h0M165.6 418.8h0M165.6 423.6h0M165.6 438.2h0M165.6 443.1h0M165.6 452.8h0M165.6 457.7h0M165.6 477.1h0M168.0 409.1h0M168.0 491.7h0M170.5 404.2h0M170.5 428.5h0M170.5 472.2h0M172.9 409.1h0M172.9 418.8h0M172.9 443.1h0M172.9 452.8h0M192.6 423.6h0M192.6 462.5h0M192.6 467.4h0M209.7 438.2h0M241.6 457.7h0M246.6 486.8h0M258.8 409.1h0M258.8 486.8h0M261.3 447.9h0M303.0 423.6h0M303.0 452.8h0" stroke="#4691c8" stroke-width="2.8" stroke-linecap="round"/>
<path d="M175.4 457.7h0" stroke="#75afd9" stroke-width="2.8" stroke-linecap="round"/>
<path d="M114.0 409.1h0M114.0 491.7h0M118.9 433.4h0M163.1 413.9h0M165.6 433.4h0M172.9 496.5h0M192.6 482.0h0M246.6 409.1h0M246.6 433.4h0M246.6 443.1h0M258.8 423.6h0M258.8 496.5h0M261.3 457.7h0M261.3 486.8h0M303.0 438.2h0M303.0 443.1h0" stroke="#1b61aa" stroke-width="3.2" stroke-linecap="round"/>
<path d="M114.0 413.9h0M114.0 423.6h0M114.0 428.5h0M114.0 433.4h0M114.0 438.2h0M114.0 457.7h0M118.9 404.2h0M118.9 428.5h0M118.9 447.9h0M118.9 486.8h0M163.1 423.6h0M165.6 404.2h0M165.6 413.9h0M170.5 462.5h0M172.9 457.7h0M172.9 467.4h0M172.9 482.0h0M175.4 413.9h0M175.4 428.5h0M192.6 486.8h0M246.6 413.9h0M246.6 418.8h0M246.6 452.8h0M246.6 496.5h0M258.8 467.4h0M261.3 443.1h0M261.3 462.5h0M261.3 491.7h0M303.0 428.5h0M303.0 491.7h0M445.3 433.4h0M577.8 477.1h0" stroke="#236eb4" stroke-width="3.2" stroke-linecap="round"/>
<path d="M114.0 447.9h0M118.9 409.1h0M118.9 438.2h0M118.9 482.0h0M118.9 496.5h0M165.6 447.9h0M168.0 447.9h0M172.9 438.2h0M192.6 457.7h0M246.6 482.0h0M258.8 413.9h0M258.8 443.1h0M258.8 447.9h0M258.8 477.1h0M258.8 482.0h0M258.8 491.7h0M261.3 438.2h0M303.0 404.2h0M303.0 433.4h0" stroke="#2f7abb" stroke-width="3.2" stroke-linecap="round"/>
<path d="M114.0 452.8h0M114.0 477.1h0M114.0 482.0h0M175.4 491.7h0M177.8 413.9h0M246.6 472.2h0M258.8 433.4h0M261.3 413.9h0M261.3 433.4h0M303.0 418.8h0M366.8 472.2h0" stroke="#1253a0" stroke-width="3.2" stroke-linecap="round"/>
<path d="M170.5 486.8h0M175.4 423.6h0M192.6 428.5h0M192.6 477.1h0M246.6 447.9h0M320.2 452.8h0" stroke="#0a4696" stroke-width="3.2" stroke-linecap="round"/>
<path d="M52.7 452.8h0M55.1 491.7h0M60.0 404.2h0M65.0 477.1h0M72.3 428.5h0M74.8 409.1h0M77.2 462.5h0M84.6 472.2h0M89.5 428.5h0M94.4 491.7h0M99.3 423.6h0M101.8 452.8h0M106.7 482.0h0M109.1 418.8h0M109.1 491.7h0M111.6 462.5h0M111.6 482.0h0M111.6 496.5h0M118.9 423.6h0M121.4 477.1h0M123.8 413.9h0M126.3 486.8h0M128.8 413.9h0M131.2 413.9h0M131.2 452.8h0M131.2 467.4h0M141.0 462.5h0M143.5 447.9h0M143.5 462.5h0M145.9 443.1h0M148.4 482.0h0M150.8 413.9h0M150.8 443.1h0M155.8 472.2h0M158.2 443.1h0M160.7 467.4h0M168.0 413.9h0M170.5 438.2h0M177.8 443.1h0M180.3 423.6h0M180.3 491.7h0M182.7 418.8h0M182.7 477.1h0M182.7 486.8h0M190.1 496.5h0M195.0 428.5h0M195.0 457.7h0M197.5 491.7h0M202.4 462.5h0M204.8 486.8h0M207.3 482.0h0M209.7 409.1h0M209.7 447.9h0M214.6 413.9h0M214.6 443.1h0M217.1 467.4h0M219.6 467.4h0M219.6 482.0h0M222.0 462.5h0M222.0 496.5h0M224.5 462.5h0M224.5 486.8h0M226.9 428.5h0M231.8 418.8h0M231.8 443.1h0M231.8 462.5h0M231.8 496.5h0M234.3 404.2h0M236.7 477.1h0M241.6 438.2h0M241.6 486.8h0M249.0 428.5h0M249.0 491.7h0M251.5 462.5h0M253.9 438.2h0M253.9 486.8h0M253.9 491.7h0M266.2 418.8h0M266.2 477.1h0M271.1 438.2h0M273.5 477.1h0M276.0 423.6h0M278.5 477.1h0M280.9 404.2h0M285.8 472.2h0M288.3 418.8h0M293.2 452.8h0M305.4 467.4h0M307.9 467.4h0M310.4 409.1h0M312.8 409.1h0M312.8 428.5h0M312.8 462.5h0M315.3 423.6h0M315.3 477.1h0M315.3 496.5h0M317.7 409.1h0M317.7 486.8h0M322.6 472.2h0M325.1 452.8h0M327.5 438.2h0M330.0 438.2h0M332.4 443.1h0M337.3 423.6h0M339.8 409.1h0M339.8 413.9h0M342.3 477.1h0M347.2 409.1h0M347.2 413.9h0M347.2 482.0h0M349.6 452.8h0M352.1 409.1h0M352.1 457.7h0M354.5 404.2h0M357.0 486.8h0M359.4 423.6h0M359.4 443.1h0M359.4 467.4h0M364.3 433.4h0M366.8 428.5h0M371.7 486.8h0M374.2 452.8h0M374.2 462.5h0M376.6 457.7h0M381.5 428.5h0M381.5 433.4h0M381.5 486.8h0M384.0 413.9h0M391.3 491.7h0M393.8 438.2h0M411.0 457.7h0M418.3 404.2h0M418.3 496.5h0M420.8 447.9h0M423.2 452.8h0M423.2 462.5h0M428.1 462.5h0M430.6 418.8h0M433.1 462.5h0M433.1 482.0h0M435.5 438.2h0M442.9 413.9h0M445.3 447.9h0M447.8 423.6h0M450.2 477.1h0M452.7 438.2h0M462.5 413.9h0M467.4 443.1h0M469.9 467.4h0M472.3 491.7h0M474.8 404.2h0M479.7 438.2h0M479.7 467.4h0M482.1 443.1h0M484.6 409.1h0M484.6 467.4h0M489.5 423.6h0M492.0 472.2h0M496.9 447.9h0M496.9 452.8h0M496.9 462.5h0M501.8 413.9h0M521.4 462.5h0M521.4 472.2h0M523.9 404.2h0M523.9 413.9h0M523.9 482.0h0M526.3 482.0h0M531.2 462.5h0M536.1 491.7h0M538.6 443.1h0M538.6 486.8h0M541.0 491.7h0M543.5 477.1h0M545.9 418.8h0M548.4 452.8h0M548.4 472.2h0M548.4 477.1h0M555.8 413.9h0M558.2 491.7h0M560.7 418.8h0M565.6 472.2h0M565.6 477.1h0M570.5 418.8h0M572.9 447.9h0M572.9 472.2h0M575.4 433.4h0M577.8 462.5h0M582.7 413.9h0M582.7 423.6h0M590.1 462.5h0M592.6 433.4h0M595.0 452.8h0M599.9 433.4h0M599.9 482.0h0M602.4 486.8h0M604.8 443.1h0M607.3 462.5h0M609.7 418.8h0M614.7 409.1h0M619.6 404.2h0M619.6 433.4h0M619.6 438.2h0M619.6 486.8h0" stroke="#111" stroke-width="2.0" stroke-linecap="round"/>
<path d="M52.68 395.30V394.12M55.14 395.30V393.40M57.59 395.30V393.37M60.05 395.30V394.02M62.50 395.30V393.96M64.95 395.30V393.16M67.41 395.30V392.55M69.86 395.30V394.50M72.32 395.30V393.91M74.77 395.30V391.77M77.22 395.30V393.84M79.68 395.30V394.02M82.13 395.30V393.67M84.59 395.30V393.40M87.04 395.30V394.28M89.49 395.30V393.42M91.95 395.30V393.51M94.40 395.30V393.86M96.86 395.30V393.94M99.31 395.30V394.08M101.76 395.30V393.45M104.22 395.30V394.00M106.67 395.30V394.45M109.13 395.30V393.66M111.58 395.30V393.63M114.03 395.30V392.62M116.49 395.30V394.01M118.94 395.30V394.41M121.40 395.30V394.34M123.85 395.30V394.46M126.30 395.30V394.00M128.76 395.30V393.49M131.21 395.30V393.56M133.67 395.30V393.71M136.12 395.30V393.26M138.57 395.30V394.10M141.03 395.30V394.18M143.48 395.30V393.45M145.94 395.30V392.95M148.39 395.30V393.45M150.84 395.30V393.47M153.30 395.30V393.67M155.75 395.30V394.45M158.21 395.30V393.40M160.66 395.30V393.74M163.11 395.30V394.09M165.57 395.30V393.83M168.02 395.30V393.31M170.48 395.30V394.08M172.93 395.30V394.11M175.38 395.30V394.15M177.84 395.30V394.27M180.29 395.30V393.39M182.75 395.30V393.32M185.20 395.30V393.55M187.65 395.30V393.55M190.11 395.30V394.45M192.56 395.30V393.18M195.02 395.30V394.42M197.47 395.30V393.54M199.92 395.30V394.34M202.38 395.30V394.16M204.83 395.30V393.30M207.29 395.30V393.94M209.74 395.30V393.42M212.19 395.30V392.16M214.65 395.30V393.69M217.10 395.30V394.14M219.56 395.30V394.28M222.01 395.30V393.89M224.46 395.30V394.30M226.92 395.30V393.80M229.37 395.30V393.85M231.83 395.30V393.45M234.28 395.30V393.72M236.73 395.30V393.61M239.19 395.30V393.93M241.64 395.30V394.01M244.10 395.30V393.44M246.55 395.30V393.68M249.00 395.30V393.34M251.46 395.30V394.16M253.91 395.30V394.50M256.37 395.30V394.13M258.82 395.30V393.60M261.27 395.30V393.10M263.73 395.30V392.33M266.18 395.30V393.89M268.64 395.30V394.05M271.09 395.30V393.09M273.54 395.30V393.35M276.00 395.30V393.32M278.45 395.30V393.84M280.91 395.30V393.48M283.36 395.30V394.32M285.81 395.30V393.32M288.27 395.30V393.72M290.72 395.30V394.47M293.18 395.30V394.13M295.63 395.30V394.16M298.08 395.30V393.68M300.54 395.30V393.61M302.99 395.30V394.32M305.45 395.30V394.25M307.90 395.30V393.50M310.35 395.30V393.75M312.81 395.30V394.27M315.26 395.30V393.75M317.72 395.30V393.53M320.17 395.30V394.39M322.62 395.30V394.26M325.08 395.30V393.75M327.53 395.30V394.08M329.99 395.30V394.02M332.44 395.30V393.74M334.89 395.30V393.77M337.35 395.30V394.43M339.80 395.30V393.54M342.26 395.30V393.77M344.71 395.30V393.33M347.16 395.30V394.02M349.62 395.30V394.10M352.07 395.30V393.10M354.53 395.30V394.27M356.98 395.30V394.00M359.43 395.30V394.12M361.89 395.30V393.80M364.34 395.30V393.54M366.80 395.30V393.68M369.25 395.30V393.66M371.70 395.30V394.16M374.16 395.30V394.02M376.61 395.30V393.37M379.07 395.30V394.32M381.52 395.30V393.23M383.97 395.30V393.52M386.43 395.30V393.50M388.88 395.30V393.40M391.34 395.30V394.22M393.79 395.30V393.68M396.24 395.30V393.88M398.70 395.30V394.35M401.15 395.30V394.40M403.61 395.30V393.98M406.06 395.30V394.25M408.51 395.30V394.28M410.97 395.30V393.73M413.42 395.30V393.75M415.88 395.30V394.15M418.33 395.30V393.51M420.78 395.30V394.27M423.24 395.30V393.12M425.69 395.30V394.07M428.15 395.30V394.18M430.60 395.30V394.09M433.05 395.30V392.91M435.51 395.30V393.87M437.96 395.30V394.20M440.42 395.30V393.31M442.87 395.30V393.72M445.32 395.30V394.17M447.78 395.30V393.79M450.23 395.30V392.94M452.69 395.30V394.05M455.14 395.30V393.34M457.59 395.30V394.43M460.05 395.30V393.35M462.50 395.30V393.49M464.96 395.30V393.80M467.41 395.30V393.49M469.86 395.30V393.73M472.32 395.30V394.39M474.77 395.30V394.13M477.23 395.30V393.30M479.68 395.30V393.80M482.13 395.30V394.06M484.59 395.30V392.47M487.04 395.30V393.44M489.50 395.30V394.30M491.95 395.30V393.09M494.40 395.30V394.03M496.86 395.30V393.57M499.31 395.30V394.03M501.77 395.30V393.97M504.22 395.30V393.62M506.67 395.30V393.31M509.13 395.30V393.87M511.58 395.30V393.32M514.04 395.30V393.98M516.49 395.30V393.84M518.94 395.30V394.11M521.40 395.30V394.29M523.85 395.30V394.02M526.31 395.30V393.59M528.76 395.30V394.49M531.21 395.30V393.55M533.67 395.30V393.76M536.12 395.30V393.33M538.58 395.30V394.04M541.03 395.30V394.38M543.48 395.30V393.58M545.94 395.30V393.90M548.39 395.30V393.53M550.85 395.30V394.27M553.30 395.30V393.30M555.75 395.30V393.32M558.21 395.30V393.87M560.66 395.30V393.60M563.12 395.30V394.41M565.57 395.30V393.36M568.02 395.30V394.42M570.48 395.30V392.47M572.93 395.30V392.83M575.39 395.30V393.51M577.84 395.30V393.57M580.29 395.30V394.23M582.75 395.30V394.36M585.20 395.30V393.37M587.66 395.30V393.55M590.11 395.30V394.06M592.56 395.30V394.50M595.02 395.30V393.94M597.47 395.30V393.48M599.93 395.30V394.27M602.38 395.30V393.55M604.83 395.30V393.91M607.29 395.30V393.82M609.74 395.30V393.93M612.20 395.30V392.22M614.65 395.30V394.49M617.10 395.30V394.43M619.56 395.30V393.34" fill="none" stroke="#d4d4d4" stroke-width="2.3" />
<line x1="106.7" y1="395.3" x2="106.7" y2="386.1" stroke="#1150a0" stroke-width="1.8" />
<line x1="114.0" y1="395.3" x2="114.0" y2="378.7" stroke="#1150a0" stroke-width="1.8" />
<line x1="118.9" y1="395.3" x2="118.9" y2="377.9" stroke="#1150a0" stroke-width="1.8" />
<line x1="158.2" y1="395.3" x2="158.2" y2="389.0" stroke="#9ecae1" stroke-width="1.8" />
<line x1="163.1" y1="395.3" x2="163.1" y2="383.0" stroke="#1150a0" stroke-width="1.8" />
<line x1="165.6" y1="395.3" x2="165.6" y2="381.0" stroke="#1150a0" stroke-width="1.8" />
<line x1="168.0" y1="395.3" x2="168.0" y2="377.5" stroke="#1150a0" stroke-width="1.8" />
<line x1="170.5" y1="395.3" x2="170.5" y2="381.0" stroke="#1150a0" stroke-width="1.8" />
<line x1="172.9" y1="395.3" x2="172.9" y2="377.0" stroke="#1150a0" stroke-width="1.8" />
<line x1="175.4" y1="395.3" x2="175.4" y2="379.0" stroke="#1150a0" stroke-width="1.8" />
<line x1="192.6" y1="395.3" x2="192.6" y2="383.0" stroke="#1150a0" stroke-width="1.8" />
<line x1="241.6" y1="395.3" x2="241.6" y2="389.0" stroke="#9ecae1" stroke-width="1.8" />
<line x1="246.6" y1="395.3" x2="246.6" y2="380.9" stroke="#1150a0" stroke-width="1.8" />
<line x1="258.8" y1="395.3" x2="258.8" y2="378.8" stroke="#1150a0" stroke-width="1.8" />
<line x1="261.3" y1="395.3" x2="261.3" y2="376.7" stroke="#1150a0" stroke-width="1.8" />
<line x1="263.7" y1="395.3" x2="263.7" y2="390.0" stroke="#9ecae1" stroke-width="1.8" />
<line x1="303.0" y1="395.3" x2="303.0" y2="381.9" stroke="#1150a0" stroke-width="1.8" />
<line x1="320.2" y1="395.3" x2="320.2" y2="387.2" stroke="#9ecae1" stroke-width="1.8" />
<line x1="366.8" y1="395.3" x2="366.8" y2="389.0" stroke="#9ecae1" stroke-width="1.8" />
<path d="M62.50 498.74V500.34M74.77 498.74V500.34M87.04 498.74V500.34M99.31 498.74V500.34M111.58 498.74V500.34M123.85 498.74V500.34M136.12 498.74V500.34M148.39 498.74V500.34M160.66 498.74V500.34M172.93 498.74V500.34M185.20 498.74V500.34M197.47 498.74V500.34M209.74 498.74V500.34M222.01 498.74V500.34M234.28 498.74V500.34M246.55 498.74V500.34M258.82 498.74V500.34M271.09 498.74V500.34M283.36 498.74V500.34M295.63 498.74V500.34M307.90 498.74V500.34M320.17 498.74V500.34M332.44 498.74V500.34M344.71 498.74V500.34M356.98 498.74V500.34M369.25 498.74V500.34M381.52 498.74V500.34M393.79 498.74V500.34M406.06 498.74V500.34M418.33 498.74V500.34M430.60 498.74V500.34M442.87 498.74V500.34M455.14 498.74V500.34M467.41 498.74V500.34M479.68 498.74V500.34M491.95 498.74V500.34M504.22 498.74V500.34M516.49 498.74V500.34M528.76 498.74V500.34M541.03 498.74V500.34M553.30 498.74V500.34M565.57 498.74V500.34M577.84 498.74V500.34M590.11 498.74V500.34M602.38 498.74V500.34M614.65 498.74V500.34" fill="none" stroke="#777" stroke-width="0.5" />
<text x="62.5" y="505.8" font-size="5.6" font-weight="normal" fill="#444" text-anchor="middle" >220</text>
<text x="74.8" y="505.8" font-size="5.6" font-weight="normal" fill="#444" text-anchor="middle" >225</text>
<text x="87.0" y="505.8" font-size="5.6" font-weight="normal" fill="#444" text-anchor="middle" >230</text>
<text x="99.3" y="505.8" font-size="5.6" font-weight="normal" fill="#444" text-anchor="middle" >235</text>
<text x="111.6" y="505.8" font-size="5.6" font-weight="normal" fill="#444" text-anchor="middle" >240</text>
<text x="123.8" y="505.8" font-size="5.6" font-weight="normal" fill="#444" text-anchor="middle" >245</text>
<text x="136.1" y="505.8" font-size="5.6" font-weight="normal" fill="#444" text-anchor="middle" >250</text>
<text x="148.4" y="505.8" font-size="5.6" font-weight="normal" fill="#444" text-anchor="middle" >255</text>
<text x="160.7" y="505.8" font-size="5.6" font-weight="normal" fill="#444" text-anchor="middle" >260</text>
<text x="172.9" y="505.8" font-size="5.6" font-weight="normal" fill="#444" text-anchor="middle" >265</text>
<text x="185.2" y="505.8" font-size="5.6" font-weight="normal" fill="#444" text-anchor="middle" >270</text>
<text x="197.5" y="505.8" font-size="5.6" font-weight="normal" fill="#444" text-anchor="middle" >275</text>
<text x="209.7" y="505.8" font-size="5.6" font-weight="normal" fill="#444" text-anchor="middle" >280</text>
<text x="222.0" y="505.8" font-size="5.6" font-weight="normal" fill="#444" text-anchor="middle" >285</text>
<text x="234.3" y="505.8" font-size="5.6" font-weight="normal" fill="#444" text-anchor="middle" >290</text>
<text x="246.6" y="505.8" font-size="5.6" font-weight="normal" fill="#444" text-anchor="middle" >295</text>
<text x="258.8" y="505.8" font-size="5.6" font-weight="normal" fill="#444" text-anchor="middle" >300</text>
<text x="271.1" y="505.8" font-size="5.6" font-weight="normal" fill="#444" text-anchor="middle" >305</text>
<text x="283.4" y="505.8" font-size="5.6" font-weight="normal" fill="#444" text-anchor="middle" >310</text>
<text x="295.6" y="505.8" font-size="5.6" font-weight="normal" fill="#444" text-anchor="middle" >315</text>
<text x="307.9" y="505.8" font-size="5.6" font-weight="normal" fill="#444" text-anchor="middle" >320</text>
<text x="320.2" y="505.8" font-size="5.6" font-weight="normal" fill="#444" text-anchor="middle" >325</text>
<text x="332.4" y="505.8" font-size="5.6" font-weight="normal" fill="#444" text-anchor="middle" >330</text>
<text x="344.7" y="505.8" font-size="5.6" font-weight="normal" fill="#444" text-anchor="middle" >335</text>
<text x="357.0" y="505.8" font-size="5.6" font-weight="normal" fill="#444" text-anchor="middle" >340</text>
<text x="369.2" y="505.8" font-size="5.6" font-weight="normal" fill="#444" text-anchor="middle" >345</text>
<text x="381.5" y="505.8" font-size="5.6" font-weight="normal" fill="#444" text-anchor="middle" >350</text>
<text x="393.8" y="505.8" font-size="5.6" font-weight="normal" fill="#444" text-anchor="middle" >355</text>
<text x="406.1" y="505.8" font-size="5.6" font-weight="normal" fill="#444" text-anchor="middle" >360</text>
<text x="418.3" y="505.8" font-size="5.6" font-weight="normal" fill="#444" text-anchor="middle" >365</text>
<text x="430.6" y="505.8" font-size="5.6" font-weight="normal" fill="#444" text-anchor="middle" >370</text>
<text x="442.9" y="505.8" font-size="5.6" font-weight="normal" fill="#444" text-anchor="middle" >375</text>
<text x="455.1" y="505.8" font-size="5.6" font-weight="normal" fill="#444" text-anchor="middle" >380</text>
<text x="467.4" y="505.8" font-size="5.6" font-weight="normal" fill="#444" text-anchor="middle" >385</text>
<text x="479.7" y="505.8" font-size="5.6" font-weight="normal" fill="#444" text-anchor="middle" >390</text>
<text x="492.0" y="505.8" font-size="5.6" font-weight="normal" fill="#444" text-anchor="middle" >395</text>
<text x="504.2" y="505.8" font-size="5.6" font-weight="normal" fill="#444" text-anchor="middle" >400</text>
<text x="516.5" y="505.8" font-size="5.6" font-weight="normal" fill="#444" text-anchor="middle" >405</text>
<text x="528.8" y="505.8" font-size="5.6" font-weight="normal" fill="#444" text-anchor="middle" >410</text>
<text x="541.0" y="505.8" font-size="5.6" font-weight="normal" fill="#444" text-anchor="middle" >415</text>
<text x="553.3" y="505.8" font-size="5.6" font-weight="normal" fill="#444" text-anchor="middle" >420</text>
<text x="565.6" y="505.8" font-size="5.6" font-weight="normal" fill="#444" text-anchor="middle" >425</text>
<text x="577.8" y="505.8" font-size="5.6" font-weight="normal" fill="#444" text-anchor="middle" >430</text>
<text x="590.1" y="505.8" font-size="5.6" font-weight="normal" fill="#444" text-anchor="middle" >435</text>
<text x="602.4" y="505.8" font-size="5.6" font-weight="normal" fill="#444" text-anchor="middle" >440</text>
<text x="614.7" y="505.8" font-size="5.6" font-weight="normal" fill="#444" text-anchor="middle" >445</text>
<text x="49.6" y="405.8" font-size="4.6" font-weight="normal" fill="#444" text-anchor="end" >D</text>
<text x="49.6" y="410.7" font-size="4.6" font-weight="normal" fill="#444" text-anchor="end" >E</text>
<text x="49.6" y="415.5" font-size="4.6" font-weight="normal" fill="#444" text-anchor="end" >K</text>
<text x="49.6" y="420.4" font-size="4.6" font-weight="normal" fill="#444" text-anchor="end" >R</text>
<text x="49.6" y="425.2" font-size="4.6" font-weight="normal" fill="#444" text-anchor="end" >H</text>
<text x="49.6" y="430.1" font-size="4.6" font-weight="normal" fill="#444" text-anchor="end" >C</text>
<text x="49.6" y="435.0" font-size="4.6" font-weight="normal" fill="#444" text-anchor="end" >S</text>
<text x="49.6" y="439.8" font-size="4.6" font-weight="normal" fill="#444" text-anchor="end" >T</text>
<text x="49.6" y="444.7" font-size="4.6" font-weight="normal" fill="#444" text-anchor="end" >N</text>
<text x="49.6" y="449.5" font-size="4.6" font-weight="normal" fill="#444" text-anchor="end" >Q</text>
<text x="49.6" y="454.4" font-size="4.6" font-weight="normal" fill="#444" text-anchor="end" >G</text>
<text x="49.6" y="459.3" font-size="4.6" font-weight="normal" fill="#444" text-anchor="end" >A</text>
<text x="49.6" y="464.1" font-size="4.6" font-weight="normal" fill="#444" text-anchor="end" >V</text>
<text x="49.6" y="469.0" font-size="4.6" font-weight="normal" fill="#444" text-anchor="end" >L</text>
<text x="49.6" y="473.8" font-size="4.6" font-weight="normal" fill="#444" text-anchor="end" >I</text>
<text x="49.6" y="478.7" font-size="4.6" font-weight="normal" fill="#444" text-anchor="end" >M</text>
<text x="49.6" y="483.6" font-size="4.6" font-weight="normal" fill="#444" text-anchor="end" >P</text>
<text x="49.6" y="488.4" font-size="4.6" font-weight="normal" fill="#444" text-anchor="end" >F</text>
<text x="49.6" y="493.3" font-size="4.6" font-weight="normal" fill="#444" text-anchor="end" >Y</text>
<text x="49.6" y="498.1" font-size="4.6" font-weight="normal" fill="#444" text-anchor="end" >W</text>
<path d="M50.0 404.20H51.3M50.0 409.06H51.3M50.0 413.92H51.3M50.0 418.78H51.3M50.0 423.64H51.3M50.0 428.50H51.3M50.0 433.36H51.3M50.0 438.22H51.3M50.0 443.08H51.3M50.0 447.94H51.3M50.0 452.80H51.3M50.0 457.66H51.3M50.0 462.52H51.3M50.0 467.38H51.3M50.0 472.24H51.3M50.0 477.10H51.3M50.0 481.96H51.3M50.0 486.82H51.3M50.0 491.68H51.3M50.0 496.54H51.3" fill="none" stroke="#666" stroke-width="0.5" />
<text x="336.6" y="518.1" font-size="11" font-weight="normal" fill="#111" text-anchor="middle" >Fc Site</text>
<text transform="translate(42.2,453.7) rotate(-90)" font-size="13" fill="#111" text-anchor="middle" textLength="53" lengthAdjust="spacingAndGlyphs">Mutation</text>
<text x="625.8" y="406.3" font-size="8.6" font-weight="normal" fill="#111" text-anchor="start" >Tighter</text>
<linearGradient id="lgd" x1="0" y1="1" x2="0" y2="0"><stop offset="0" stop-color="#e6eef8"/><stop offset="0.25" stop-color="#8cbee1"/><stop offset="0.5" stop-color="#4691c8"/><stop offset="0.75" stop-color="#236eb4"/><stop offset="1" stop-color="#0a4696"/></linearGradient>
<rect x="625.90" y="409.90" width="7.30" height="36.20" fill="url(#lgd)" />
<text x="637.2" y="412.5" font-size="7.2" font-weight="normal" fill="#222" text-anchor="start" >1.00</text>
<text x="637.2" y="421.6" font-size="7.2" font-weight="normal" fill="#222" text-anchor="start" >0.75</text>
<text x="637.2" y="430.7" font-size="7.2" font-weight="normal" fill="#222" text-anchor="start" >0.50</text>
<text x="637.2" y="439.8" font-size="7.2" font-weight="normal" fill="#222" text-anchor="start" >0.25</text>
<text x="637.2" y="448.9" font-size="7.2" font-weight="normal" fill="#222" text-anchor="start" >0.00</text>
<text x="625.6" y="468.7" font-size="8.6" font-weight="normal" fill="#111" text-anchor="start" >-log(p_adj)</text>
<rect x="626.00" y="472.30" width="7.30" height="29.80" fill="#f5f8fc" />
<circle cx="629.8" cy="476.2" r="0.35" fill="#111"/>
<text x="637.2" y="478.7" font-size="7.2" font-weight="normal" fill="#222" text-anchor="start" >0</text>
<circle cx="629.8" cy="483.5" r="0.8" fill="#111"/>
<text x="637.2" y="486.0" font-size="7.2" font-weight="normal" fill="#222" text-anchor="start" >200</text>
<circle cx="629.8" cy="490.8" r="1.1" fill="#111"/>
<text x="637.2" y="493.3" font-size="7.2" font-weight="normal" fill="#222" text-anchor="start" >400</text>
<circle cx="629.8" cy="498.1" r="1.4" fill="#111"/>
<text x="637.2" y="500.6" font-size="7.2" font-weight="normal" fill="#222" text-anchor="start" >600</text>
<filter id="bump3" x="-5%" y="-5%" width="110%" height="110%">
<feTurbulence type="fractalNoise" baseFrequency="0.075" numOctaves="2" seed="3" result="n"/>
<feDisplacementMap in="SourceGraphic" in2="n" scale="4.5" xChannelSelector="R" yChannelSelector="G" result="d"/>
<feDiffuseLighting in="n" surfaceScale="3.5" lighting-color="#fff" result="l"><feDistantLight azimuth="235" elevation="55"/></feDiffuseLighting>
<feComposite in="d" in2="l" operator="arithmetic" k1="1.25" k2="0" k3="0" k4="0" result="lit"/>
<feComposite in="lit" in2="d" operator="in"/>
</filter>
<g filter="url(#bump3)">
<polygon points="56.7,531.7 64.0,529.5 68.4,534.6 75.7,528.0 81.5,527.3 84.5,533.1 85.9,541.9 91.8,547.7 97.6,550.7 100.5,558.0 101.6,566.3 97.0,573.0 93.6,576.5 92.1,586.7 83.4,598.4 76.1,605.7 74.6,613.0 76.1,618.8 83.4,621.8 96.5,623.2 106.7,624.7 118.4,623.2 130.1,619.6 138.0,640.0 148.2,673.0 143.8,681.8 140.9,690.5 136.5,696.4 129.2,699.3 117.5,705.1 111.7,711.0 91.8,711.0 83.0,708.0 74.2,702.2 66.9,693.4 64.0,687.6 61.1,678.8 62.6,670.1 53.8,664.2 45.0,661.3 43.6,655.5 39.2,649.6 30.4,643.8 29.0,636.5 33.4,629.2 34.8,620.4 29.0,614.6 27.5,608.8 30.4,600.0 30.4,594.5 26.1,588.6 17.3,587.2 15.8,582.8 21.7,578.4 29.0,575.5 30.4,569.6 34.8,566.7 36.3,562.3 42.1,558.0 49.4,553.6 49.4,543.4 55.3,543.4" fill="#5b5b5b" />
<polygon points="105.3,564.8 107.7,553.5 112.0,542.0 117.3,532.7 122.1,529.5 136.6,527.8 141.4,525.4 146.2,529.5 152.6,542.3 167.1,552.0 180.0,561.6 189.6,576.0 191.2,579.2 184.7,584.0 180.0,595.3 181.8,600.0 184.7,607.3 181.8,617.5 183.2,629.2 181.8,635.0 173.0,640.9 173.0,648.2 170.0,655.5 164.2,664.2 158.4,667.2 151.1,668.6 148.2,673.0 143.8,668.6 138.0,661.3 129.2,658.4 114.6,655.5 105.8,657.0 100.0,651.0 104.0,640.0 106.7,624.7 118.4,623.2 130.1,619.6 138.8,613.0 141.8,608.6 135.9,601.3 128.6,598.4 122.8,591.1 116.9,582.3 115.5,575.0 109.6,572.1" fill="#c9c9c9" />
<polygon points="65.5,549.2 75.7,547.7 80.1,553.6 78.6,562.3 72.8,569.6 74.2,574.0 84.5,574.0 91.8,581.3 91.8,588.6 85.9,597.4 78.6,604.7 68.4,606.1 62.6,601.8 68.4,593.0 65.5,584.2 65.5,575.5 62.6,563.8 64.0,555.0" fill="#3c3ca8" />
<polygon points="48.0,559.0 52.0,557.0 55.0,563.0 53.8,567.0 49.0,566.0" fill="#3c3ca8" />
<polygon points="65.5,577.0 74.2,575.5 81.5,581.3 80.1,587.2 74.2,588.6 71.3,594.5 68.4,601.8 61.1,604.7 59.6,600.3 66.9,588.6" fill="#aaaee2" />
<polygon points="96.1,549.0 100.0,552.0 102.0,560.0 101.6,568.0 98.0,572.6 96.0,565.0" fill="#dd22d0" />
<polygon points="80.0,552.0 85.0,551.0 86.0,556.0 81.0,557.0" fill="#dd22d0" />
<polygon points="105.3,551.7 111.1,550.2 112.6,559.0 114.0,570.7 108.2,572.1 105.3,564.8" fill="#dd22d0" />
<polygon points="115.5,575.0 122.8,573.6 127.2,580.9 131.5,588.2 133.0,598.4 128.6,599.9 122.8,592.6 116.9,583.8" fill="#3c3ca8" />
<polygon points="121.3,558.0 128.0,557.5 130.0,562.0 124.0,563.4" fill="#3c3ca8" />
<polygon points="147.6,592.6 156.4,589.6 162.0,592.6 161.0,598.4 150.5,599.9" fill="#3c3ca8" />
<polygon points="52.3,642.3 65.5,635.0 71.3,629.2 75.7,624.8 78.6,633.6 80.1,643.8 78.6,658.4 71.3,656.9 65.5,648.2 53.8,645.3" fill="#dd22d0" />
<polygon points="66.0,643.0 72.0,636.0 77.0,640.0 76.0,652.0 70.0,650.0" fill="#96189a" />
<polygon points="148.2,601.5 154.0,607.3 154.0,621.9 159.9,627.7 164.2,638.0 161.3,643.8 148.2,648.2 136.5,646.7 126.3,652.6 116.0,657.0 105.8,654.0 111.7,638.0 119.0,633.6 135.0,626.3 140.9,614.6" fill="#dd22d0" />
<polygon points="112.0,641.0 125.0,633.0 140.0,629.0 150.0,632.0 146.0,642.0 130.0,646.0 118.0,651.0" fill="#96189a" />
<polygon points="130.7,642.3 146.7,643.8 148.2,649.6 133.6,652.6" fill="#aaaee2" />
<polygon points="92.0,635.0 99.0,634.0 99.0,639.0 93.0,640.0" fill="#dd22d0" />
</g>
<filter id="bump5" x="-5%" y="-5%" width="110%" height="110%">
<feTurbulence type="fractalNoise" baseFrequency="0.075" numOctaves="2" seed="5" result="n"/>
<feDisplacementMap in="SourceGraphic" in2="n" scale="4.5" xChannelSelector="R" yChannelSelector="G" result="d"/>
<feDiffuseLighting in="n" surfaceScale="3.5" lighting-color="#fff" result="l"><feDistantLight azimuth="235" elevation="55"/></feDiffuseLighting>
<feComposite in="d" in2="l" operator="arithmetic" k1="1.25" k2="0" k3="0" k4="0" result="lit"/>
<feComposite in="lit" in2="d" operator="in"/>
</filter>
<g filter="url(#bump5)">
<polygon points="249.4,543.5 253.2,538.7 264.6,537.8 270.3,528.3 276.0,525.4 281.7,528.3 283.6,534.0 291.2,535.9 298.8,531.1 305.4,534.0 307.3,543.5 312.1,551.1 317.8,553.0 320.6,558.7 317.8,566.2 312.1,571.9 311.1,583.3 308.3,590.9 304.5,602.3 305.0,610.0 307.5,617.1 311.3,628.5 313.2,638.0 315.1,649.3 320.8,664.5 322.7,675.9 326.5,691.1 322.7,700.6 309.4,706.3 294.2,708.2 280.9,706.3 269.5,698.7 267.6,694.9 262.0,700.6 243.0,704.4 227.8,702.5 214.5,696.8 210.7,687.3 212.6,675.9 216.4,664.5 222.1,656.9 225.9,649.3 222.1,638.0 218.3,628.5 220.2,626.6 224.0,605.0 232.0,600.0 235.2,590.9 239.0,571.9 245.7,558.7 249.4,550.0" fill="#c9c9c9" />
<polygon points="222.1,656.9 235.4,656.9 243.0,672.1 254.3,679.7 263.8,689.2 267.6,694.9 262.0,700.6 243.0,704.4 227.8,702.5 214.5,696.8 210.7,687.3 212.6,675.9 216.4,664.5" fill="#5b5b5b" />
<polygon points="233.3,543.5 236.2,536.8 241.9,535.9 242.8,543.5 249.4,547.3 251.3,553.0 245.7,555.8 238.1,553.0 234.3,549.2" fill="#5b5b5b" />
<polygon points="217.2,555.8 221.0,553.0 226.7,555.8 224.8,562.4 228.6,571.9 234.3,577.6 232.4,594.7 228.6,590.9 222.9,577.6 218.1,566.2" fill="#5b5b5b" />
<polygon points="224.8,560.5 230.5,554.9 238.1,553.9 243.8,558.7 243.8,570.0 240.0,575.7 232.4,577.6 226.7,571.9" fill="#dd22d0" />
<polygon points="226.7,575.7 238.1,575.7 238.1,583.3 230.5,585.2" fill="#3c3ca8" />
<polygon points="228.6,585.2 236.2,586.0 236.2,594.7 231.0,592.0" fill="#aaaee2" />
<polygon points="280.9,549.2 288.5,547.3 294.2,551.1 292.3,558.7 286.6,558.7 282.8,554.9" fill="#3c3ca8" />
<polygon points="307.5,547.3 313.2,549.2 312.2,558.7 308.4,554.9" fill="#3c3ca8" />
<polygon points="267.6,539.7 280.9,543.5 280.9,549.2 269.5,545.4" fill="#aaaee2" />
<polygon points="288.5,558.7 299.9,564.3 296.1,568.1 290.4,564.3" fill="#aaaee2" />
<polygon points="224.0,600.0 233.5,600.0 235.4,619.0 243.0,632.3 251.5,636.1 250.5,645.5 243.0,643.7 237.3,645.5 229.7,649.3 224.0,645.5 218.3,634.2 220.2,626.6 225.9,619.0" fill="#dd22d0" />
<polygon points="226.0,625.0 236.0,622.0 242.0,634.0 234.0,642.0 226.0,638.0" fill="#96189a" />
<polygon points="225.9,645.0 235.0,643.7 237.3,650.0 228.0,653.1" fill="#aaaee2" />
<polygon points="296.1,605.7 305.6,607.6 307.5,619.0 303.7,628.5 311.3,634.2 311.3,641.8 299.9,647.5 294.2,656.9 284.7,653.1 284.7,647.5 290.4,641.8 296.1,634.2 294.2,622.8" fill="#dd22d0" />
<polygon points="290.0,640.0 298.0,636.0 302.0,645.0 294.0,652.0 287.0,650.0" fill="#96189a" />
<polygon points="265.7,634.2 271.4,636.0 270.0,643.7 266.0,642.0" fill="#dd22d0" />
</g>
<filter id="bump7" x="-5%" y="-5%" width="110%" height="110%">
<feTurbulence type="fractalNoise" baseFrequency="0.075" numOctaves="2" seed="7" result="n"/>
<feDisplacementMap in="SourceGraphic" in2="n" scale="4.5" xChannelSelector="R" yChannelSelector="G" result="d"/>
<feDiffuseLighting in="n" surfaceScale="3.5" lighting-color="#fff" result="l"><feDistantLight azimuth="235" elevation="55"/></feDiffuseLighting>
<feComposite in="d" in2="l" operator="arithmetic" k1="1.25" k2="0" k3="0" k4="0" result="lit"/>
<feComposite in="lit" in2="d" operator="in"/>
</filter>
<g filter="url(#bump7)">
<polygon points="394.7,531.7 402.0,529.5 406.4,534.6 413.7,528.0 419.5,527.3 422.5,533.1 423.9,541.9 429.8,547.7 435.6,550.7 438.5,558.0 439.6,566.3 435.0,573.0 431.6,576.5 430.1,586.7 421.4,598.4 414.1,605.7 412.6,613.0 414.1,618.8 421.4,621.8 434.5,623.2 444.7,624.7 456.4,623.2 468.1,619.6 476.0,640.0 486.2,673.0 481.8,681.8 478.9,690.5 474.5,696.4 467.2,699.3 455.5,705.1 449.7,711.0 429.8,711.0 421.0,708.0 412.2,702.2 404.9,693.4 402.0,687.6 399.1,678.8 400.6,670.1 391.8,664.2 383.0,661.3 381.6,655.5 377.2,649.6 368.4,643.8 367.0,636.5 371.4,629.2 372.8,620.4 367.0,614.6 365.5,608.8 368.4,600.0 368.4,594.5 364.1,588.6 355.3,587.2 353.8,582.8 359.7,578.4 367.0,575.5 368.4,569.6 372.8,566.7 374.3,562.3 380.1,558.0 387.4,553.6 387.4,543.4 393.3,543.4" fill="#c9c9c9" />
<polygon points="443.3,564.8 445.7,553.5 450.0,542.0 455.3,532.7 460.1,529.5 474.6,527.8 479.4,525.4 484.2,529.5 490.6,542.3 505.1,552.0 518.0,561.6 527.6,576.0 529.2,579.2 522.7,584.0 518.0,595.3 519.8,600.0 522.7,607.3 519.8,617.5 521.2,629.2 519.8,635.0 511.0,640.9 511.0,648.2 508.0,655.5 502.2,664.2 496.4,667.2 489.1,668.6 486.2,673.0 481.8,668.6 476.0,661.3 467.2,658.4 452.6,655.5 443.8,657.0 438.0,651.0 442.0,640.0 444.7,624.7 456.4,623.2 468.1,619.6 476.8,613.0 479.8,608.6 473.9,601.3 466.6,598.4 460.8,591.1 454.9,582.3 453.5,575.0 447.6,572.1" fill="#5b5b5b" />
<polygon points="403.5,549.2 413.7,547.7 418.1,553.6 416.6,562.3 410.8,569.6 412.2,574.0 422.5,574.0 429.8,581.3 429.8,588.6 423.9,597.4 416.6,604.7 406.4,606.1 400.6,601.8 406.4,593.0 403.5,584.2 403.5,575.5 400.6,563.8 402.0,555.0" fill="#3c3ca8" />
<polygon points="386.0,559.0 390.0,557.0 393.0,563.0 391.8,567.0 387.0,566.0" fill="#3c3ca8" />
<polygon points="403.5,577.0 412.2,575.5 419.5,581.3 418.1,587.2 412.2,588.6 409.3,594.5 406.4,601.8 399.1,604.7 397.6,600.3 404.9,588.6" fill="#aaaee2" />
<polygon points="434.1,549.0 438.0,552.0 440.0,560.0 439.6,568.0 436.0,572.6 434.0,565.0" fill="#dd22d0" />
<polygon points="418.0,552.0 423.0,551.0 424.0,556.0 419.0,557.0" fill="#dd22d0" />
<polygon points="443.3,551.7 449.1,550.2 450.6,559.0 452.0,570.7 446.2,572.1 443.3,564.8" fill="#dd22d0" />
<polygon points="453.5,575.0 460.8,573.6 465.2,580.9 469.5,588.2 471.0,598.4 466.6,599.9 460.8,592.6 454.9,583.8" fill="#3c3ca8" />
<polygon points="459.3,558.0 466.0,557.5 468.0,562.0 462.0,563.4" fill="#3c3ca8" />
<polygon points="485.6,592.6 494.4,589.6 500.0,592.6 499.0,598.4 488.5,599.9" fill="#3c3ca8" />
<polygon points="390.3,642.3 403.5,635.0 409.3,629.2 413.7,624.8 416.6,633.6 418.1,643.8 416.6,658.4 409.3,656.9 403.5,648.2 391.8,645.3" fill="#dd22d0" />
<polygon points="404.0,643.0 410.0,636.0 415.0,640.0 414.0,652.0 408.0,650.0" fill="#96189a" />
<polygon points="486.2,601.5 492.0,607.3 492.0,621.9 497.9,627.7 502.2,638.0 499.3,643.8 486.2,648.2 474.5,646.7 464.3,652.6 454.0,657.0 443.8,654.0 449.7,638.0 457.0,633.6 473.0,626.3 478.9,614.6" fill="#dd22d0" />
<polygon points="450.0,641.0 463.0,633.0 478.0,629.0 488.0,632.0 484.0,642.0 468.0,646.0 456.0,651.0" fill="#96189a" />
<polygon points="468.7,642.3 484.7,643.8 486.2,649.6 471.6,652.6" fill="#aaaee2" />
<polygon points="430.0,635.0 437.0,634.0 437.0,639.0 431.0,640.0" fill="#dd22d0" />
</g>
<filter id="bump9" x="-5%" y="-5%" width="110%" height="110%">
<feTurbulence type="fractalNoise" baseFrequency="0.075" numOctaves="2" seed="9" result="n"/>
<feDisplacementMap in="SourceGraphic" in2="n" scale="4.5" xChannelSelector="R" yChannelSelector="G" result="d"/>
<feDiffuseLighting in="n" surfaceScale="3.5" lighting-color="#fff" result="l"><feDistantLight azimuth="235" elevation="55"/></feDiffuseLighting>
<feComposite in="d" in2="l" operator="arithmetic" k1="1.25" k2="0" k3="0" k4="0" result="lit"/>
<feComposite in="lit" in2="d" operator="in"/>
</filter>
<g filter="url(#bump9)">
<polygon points="602.4,543.5 606.2,538.7 617.6,537.8 623.3,528.3 629.0,525.4 634.7,528.3 636.6,534.0 644.2,535.9 651.8,531.1 658.4,534.0 660.3,543.5 665.1,551.1 670.8,553.0 673.6,558.7 670.8,566.2 665.1,571.9 664.1,583.3 661.3,590.9 657.5,602.3 658.0,610.0 660.5,617.1 664.3,628.5 666.2,638.0 668.1,649.3 673.8,664.5 675.7,675.9 679.5,691.1 675.7,700.6 662.4,706.3 647.2,708.2 633.9,706.3 622.5,698.7 620.6,694.9 615.0,700.6 596.0,704.4 580.8,702.5 567.5,696.8 563.7,687.3 565.6,675.9 569.4,664.5 575.1,656.9 578.9,649.3 575.1,638.0 571.3,628.5 573.2,626.6 577.0,605.0 585.0,600.0 588.2,590.9 592.0,571.9 598.7,558.7 602.4,550.0" fill="#5b5b5b" />
<polygon points="575.1,656.9 588.4,656.9 596.0,672.1 607.3,679.7 616.8,689.2 620.6,694.9 615.0,700.6 596.0,704.4 580.8,702.5 567.5,696.8 563.7,687.3 565.6,675.9 569.4,664.5" fill="#c9c9c9" />
<polygon points="586.3,543.5 589.2,536.8 594.9,535.9 595.8,543.5 602.4,547.3 604.3,553.0 598.7,555.8 591.1,553.0 587.3,549.2" fill="#c9c9c9" />
<polygon points="570.2,555.8 574.0,553.0 579.7,555.8 577.8,562.4 581.6,571.9 587.3,577.6 585.4,594.7 581.6,590.9 575.9,577.6 571.1,566.2" fill="#c9c9c9" />
<polygon points="577.8,560.5 583.5,554.9 591.1,553.9 596.8,558.7 596.8,570.0 593.0,575.7 585.4,577.6 579.7,571.9" fill="#dd22d0" />
<polygon points="579.7,575.7 591.1,575.7 591.1,583.3 583.5,585.2" fill="#3c3ca8" />
<polygon points="581.6,585.2 589.2,586.0 589.2,594.7 584.0,592.0" fill="#aaaee2" />
<polygon points="633.9,549.2 641.5,547.3 647.2,551.1 645.3,558.7 639.6,558.7 635.8,554.9" fill="#3c3ca8" />
<polygon points="660.5,547.3 666.2,549.2 665.2,558.7 661.4,554.9" fill="#3c3ca8" />
<polygon points="620.6,539.7 633.9,543.5 633.9,549.2 622.5,545.4" fill="#aaaee2" />
<polygon points="641.5,558.7 652.9,564.3 649.1,568.1 643.4,564.3" fill="#aaaee2" />
<polygon points="577.0,600.0 586.5,600.0 588.4,619.0 596.0,632.3 604.5,636.1 603.5,645.5 596.0,643.7 590.3,645.5 582.7,649.3 577.0,645.5 571.3,634.2 573.2,626.6 578.9,619.0" fill="#dd22d0" />
<polygon points="579.0,625.0 589.0,622.0 595.0,634.0 587.0,642.0 579.0,638.0" fill="#96189a" />
<polygon points="578.9,645.0 588.0,643.7 590.3,650.0 581.0,653.1" fill="#aaaee2" />
<polygon points="649.1,605.7 658.6,607.6 660.5,619.0 656.7,628.5 664.3,634.2 664.3,641.8 652.9,647.5 647.2,656.9 637.7,653.1 637.7,647.5 643.4,641.8 649.1,634.2 647.2,622.8" fill="#dd22d0" />
<polygon points="643.0,640.0 651.0,636.0 655.0,645.0 647.0,652.0 640.0,650.0" fill="#96189a" />
<polygon points="618.7,634.2 624.4,636.0 623.0,643.7 619.0,642.0" fill="#dd22d0" />
</g>
<line x1="195.5" y1="635.1" x2="195.5" y2="680.3" stroke="#111" stroke-width="1.3" />
<path d="M187.2 649.3C199.5 648.5 212.5 650 211.7 653.7C210.5 657.5 195.5 658.8 174.9 660.3" fill="none" stroke="#111" stroke-width="0.9" />
<text x="193.1" y="692.8" font-size="9" font-weight="bold" fill="#111" text-anchor="middle" >90°</text>
<line x1="351.7" y1="635.1" x2="351.7" y2="680.3" stroke="#111" stroke-width="1.3" />
<path d="M343.4 649.3C355.7 648.5 368.7 650 367.9 653.7C366.7 657.5 351.7 658.8 331.1 660.3" fill="none" stroke="#111" stroke-width="0.9" />
<text x="349.3" y="692.8" font-size="9" font-weight="bold" fill="#111" text-anchor="middle" >90°</text>
<line x1="539.8" y1="635.1" x2="539.8" y2="680.3" stroke="#111" stroke-width="1.3" />
<path d="M531.5 649.3C543.8 648.5 556.8 650 556.0 653.7C554.8 657.5 539.8 658.8 519.2 660.3" fill="none" stroke="#111" stroke-width="0.9" />
<text x="537.4" y="692.8" font-size="9" font-weight="bold" fill="#111" text-anchor="middle" >90°</text>
<text x="22.0" y="553.3" font-size="11" font-weight="bold" fill="#111" text-anchor="start" >CH2</text>
<text x="27.7" y="679.0" font-size="11" font-weight="bold" fill="#111" text-anchor="start" >CH3</text>
<path d="M34.6 771.8V890.8H215" fill="none" stroke="#1a1a1a" stroke-width="1.5" />
<path d="M34.6 890.8V894.1999999999999M94.7 890.8V894.1999999999999M154.8 890.8V894.1999999999999M214.9 890.8V894.1999999999999" fill="none" stroke="#1a1a1a" stroke-width="1.1" />
<text x="34.6" y="904.9" font-size="8.4" font-weight="bold" fill="#222" text-anchor="middle" >0.0</text>
<text x="94.7" y="904.9" font-size="8.4" font-weight="bold" fill="#222" text-anchor="middle" >0.1</text>
<text x="154.8" y="904.9" font-size="8.4" font-weight="bold" fill="#222" text-anchor="middle" >0.2</text>
<text x="214.9" y="904.9" font-size="8.4" font-weight="bold" fill="#222" text-anchor="middle" >0.3</text>
<text x="125" y="923" font-size="10" font-weight="bold" text-anchor="middle" fill="#222"><tspan font-style="italic" font-size="11">q</tspan> (Å<tspan font-size="6" dy="-3.5">-1</tspan><tspan dy="3.5">)</tspan></text>
<text transform="translate(25.4,832.9) rotate(-90)" font-size="10.4" font-weight="bold" text-anchor="middle" fill="#222" textLength="65.5" lengthAdjust="spacingAndGlyphs"><tspan font-style="italic">Log(I)</tspan>-relative</text>
<circle cx="129.3" cy="747.8" r="1.7" fill="#109050"/>
<text x="135.2" y="751.6" font-size="10.8" font-weight="normal" fill="#222" text-anchor="start" >CM49i-IgG1(Fc)</text>
<polygon points="127.5,759.7 131.1,759.7 129.3,763.0" fill="#9a1a9a" />
<text x="135.2" y="765.0" font-size="10.8" font-weight="normal" fill="#222" text-anchor="start" >CM49i</text>
<polygon points="127.5,776.5 131.1,776.5 129.3,773.2" fill="#3a3a9a" />
<text x="135.2" y="778.8" font-size="10.8" font-weight="normal" fill="#222" text-anchor="start" >IgG1(Fc)</text>
<path d="M36.0 774.3L36.5 774.4L37.0 774.4L37.5 774.4L38.0 774.4L38.5 774.4L39.0 774.4L39.5 774.4L40.0 774.4L40.5 774.5L41.0 774.5L41.5 774.5L42.0 774.5L42.5 774.5L43.0 774.6L43.5 774.6L44.0 774.6L44.5 774.6L45.0 774.6L45.5 774.7L46.0 774.7L46.5 774.7L47.0 774.7L47.5 774.8L48.0 774.8L48.5 774.8L49.0 774.9L49.5 774.9L50.0 774.9L50.5 775.0L51.0 775.0L51.5 775.0L52.0 775.1L52.5 775.1L53.0 775.2L53.5 775.2L54.0 775.3L54.5 775.3L55.0 775.4L55.5 775.4L56.0 775.5L56.5 775.5L57.0 775.6L57.5 775.6L58.0 775.7L58.5 775.8L59.0 775.8L59.5 775.9L60.0 776.0L60.5 776.0L61.0 776.1L61.5 776.2L62.0 776.3L62.5 776.3L63.0 776.4L63.5 776.5L64.0 776.6L64.5 776.7L65.0 776.8L65.5 776.9L66.0 777.0L66.5 777.1L67.0 777.2L67.5 777.3L68.0 777.4L68.5 777.5L69.0 777.6L69.5 777.7L70.0 777.8L70.5 777.9L71.0 778.0L71.5 778.2L72.0 778.3L72.5 778.4L73.0 778.5L73.5 778.7L74.0 778.8L74.5 778.9L75.0 779.0L75.5 779.2L76.0 779.3L76.5 779.4L77.0 779.5L77.5 779.7L78.0 779.8L78.5 779.9L79.0 780.1L79.5 780.2L80.0 780.3L80.5 780.4L81.0 780.6L81.5 780.7L82.0 780.8L82.5 780.9L83.0 781.1L83.5 781.2L84.0 781.3L84.5 781.4L85.0 781.6L85.5 781.7L86.0 781.8L86.5 781.9L87.0 782.0L87.5 782.1L88.0 782.2L88.5 782.3L89.0 782.4L89.5 782.5L90.0 782.6L90.5 782.7L91.0 782.8L91.5 782.9L92.0 783.0L92.5 783.1L93.0 783.2L93.5 783.3L94.0 783.3L94.5 783.4L95.0 783.5L95.5 783.6L96.0 783.6L96.5 783.7L97.0 783.8L97.5 783.8L98.0 783.9L98.5 784.0L99.0 784.0L99.5 784.1L100.0 784.1L100.5 784.2L101.0 784.3L101.5 784.4L102.0 784.4L102.5 784.5L103.0 784.6L103.5 784.6L104.0 784.7L104.5 784.8L105.0 784.8L105.5 784.9L106.0 784.9L106.5 785.0L107.0 785.0L107.5 785.1L108.0 785.1L108.5 785.2L109.0 785.2L109.5 785.3L110.0 785.3L110.5 785.4" fill="none" stroke="#109050" stroke-width="1.3" />
<path d="M167.1 788.3h.8M182.0 785.5h.8M91.7 781.6h.8M202.4 791.1h.8M147.6 787.6h.8M89.7 783.2h.8M123.5 787.9h.8M189.2 787.6h.8M166.4 788.5h.8M114.6 785.8h.8M212.8 791.8h.8M156.5 787.0h.8M114.0 787.0h.8M201.5 788.6h.8M133.9 789.0h.8M126.3 786.4h.8M130.9 786.7h.8M192.0 787.6h.8M177.5 790.3h.8M183.2 789.1h.8M90.3 782.8h.8M89.2 783.1h.8M113.0 787.6h.8M206.1 792.1h.8M154.6 787.4h.8M101.7 784.4h.8M92.7 782.1h.8M99.6 783.6h.8M131.2 788.1h.8M157.2 787.4h.8M97.9 784.4h.8M175.5 790.0h.8M213.3 788.0h.8M163.4 787.9h.8M145.9 787.0h.8M92.2 783.1h.8M194.5 792.0h.8M168.1 790.5h.8M101.5 784.0h.8M125.4 786.7h.8M214.9 794.6h.8M150.0 784.4h.8M148.8 787.2h.8M135.9 788.2h.8M209.9 788.3h.8M99.3 783.5h.8M187.3 790.6h.8M186.4 787.8h.8M172.3 788.7h.8M123.7 785.3h.8M185.8 788.6h.8M170.5 787.2h.8M89.5 782.1h.8M146.8 787.2h.8M170.2 789.0h.8M181.7 787.3h.8M132.5 788.2h.8M212.0 786.2h.8M153.8 786.9h.8M207.0 789.9h.8M175.8 788.2h.8M187.1 786.0h.8M172.5 786.4h.8M168.9 789.7h.8M91.5 783.2h.8M115.8 786.7h.8M168.1 790.4h.8M94.9 783.7h.8M128.3 788.8h.8M147.1 786.1h.8M118.2 786.9h.8M88.1 781.9h.8M102.6 784.8h.8M135.5 789.8h.8M157.2 786.9h.8M192.0 791.9h.8M191.2 788.2h.8M163.7 787.0h.8M209.6 793.5h.8M201.5 796.6h.8M166.1 789.8h.8M167.9 789.8h.8M116.7 785.3h.8M211.5 785.8h.8M163.7 791.2h.8M212.6 787.8h.8M213.0 790.5h.8M124.4 785.9h.8M144.3 787.5h.8M187.3 789.5h.8M122.8 786.1h.8M187.3 789.3h.8M213.6 792.4h.8M165.2 785.9h.8M182.4 789.5h.8M184.6 788.4h.8M125.7 787.8h.8M147.0 786.0h.8M92.6 783.8h.8M145.9 790.0h.8M89.8 782.0h.8M142.3 785.4h.8M149.2 786.6h.8M137.0 785.1h.8M125.6 787.8h.8M96.4 784.2h.8M124.4 785.0h.8M203.7 791.7h.8M151.2 789.0h.8M107.5 785.8h.8M117.2 786.7h.8M91.2 782.0h.8M212.3 794.3h.8M194.9 790.2h.8M178.5 791.6h.8M125.1 787.0h.8M140.6 786.9h.8M167.0 789.2h.8M97.1 786.1h.8M199.6 788.1h.8M142.8 786.6h.8M207.2 793.1h.8M95.1 783.4h.8M152.2 786.9h.8M158.5 787.1h.8M120.3 785.6h.8M153.7 788.6h.8M181.6 790.1h.8M178.6 788.5h.8M99.6 783.9h.8M163.4 788.5h.8M129.1 789.0h.8M91.7 782.9h.8M208.9 789.4h.8M116.3 787.8h.8M192.2 793.3h.8M167.3 787.6h.8M165.9 789.4h.8M137.0 788.6h.8M190.2 792.4h.8M196.2 786.7h.8M182.0 788.8h.8M100.3 784.9h.8M200.9 787.5h.8M147.7 789.1h.8M147.1 787.7h.8M135.6 787.6h.8M199.8 790.8h.8M108.5 785.7h.8M117.9 785.7h.8M134.9 787.0h.8M175.3 787.8h.8M103.0 783.8h.8M125.0 785.6h.8M113.5 784.5h.8M138.9 787.7h.8M134.3 786.4h.8M181.0 791.1h.8M108.7 785.3h.8M170.0 791.2h.8M211.9 791.2h.8M140.1 798.4h.8M153.9 786.4h.8M99.9 785.5h.8M206.8 792.4h.8M138.5 787.7h.8M126.9 795.8h.8M110.8 786.0h.8M139.1 786.6h.8M101.7 784.3h.8M205.0 786.3h.8M90.2 782.1h.8M149.8 786.4h.8M180.2 788.2h.8M127.1 784.6h.8M102.7 785.0h.8M99.1 784.2h.8M104.5 783.4h.8M142.4 787.9h.8M119.2 789.1h.8M113.4 787.7h.8M141.4 786.4h.8M201.8 793.5h.8M184.5 787.2h.8M171.2 787.7h.8M180.5 788.5h.8M136.6 786.1h.8M96.4 783.9h.8M124.3 787.4h.8M91.5 783.0h.8M197.2 791.2h.8M165.7 788.6h.8M130.0 793.3h.8M180.3 790.8h.8M178.1 788.7h.8M207.2 790.5h.8M204.2 788.9h.8M143.1 785.2h.8M155.6 788.9h.8M163.7 790.7h.8M94.6 784.1h.8M92.2 782.5h.8M137.9 786.4h.8M123.2 786.7h.8M183.4 791.6h.8M132.7 786.9h.8M195.9 795.9h.8M138.9 788.7h.8M92.8 784.0h.8M100.5 783.9h.8M189.2 785.0h.8M174.7 790.4h.8M135.8 790.5h.8M111.5 785.4h.8M128.3 787.6h.8M148.5 787.8h.8M138.7 789.5h.8M176.0 788.4h.8M156.2 788.4h.8M174.3 787.0h.8M124.1 786.8h.8M161.7 788.5h.8M178.7 787.4h.8M178.9 793.3h.8M209.5 786.7h.8M175.3 790.4h.8M114.5 784.5h.8M201.8 790.4h.8M138.0 792.4h.8M170.9 789.3h.8M203.6 788.3h.8M175.5 787.6h.8M178.8 786.1h.8M126.8 788.2h.8M167.0 789.3h.8M185.3 788.5h.8M96.0 782.6h.8M180.5 787.5h.8M142.0 784.4h.8M123.7 785.9h.8M210.8 790.5h.8M159.4 788.5h.8M111.4 785.9h.8M175.7 791.1h.8M95.8 782.4h.8M128.4 786.8h.8M169.9 789.7h.8M194.8 788.9h.8M100.8 785.3h.8M107.3 784.8h.8M181.5 788.4h.8M190.1 788.3h.8M167.4 784.6h.8M101.1 784.5h.8M135.6 787.3h.8M174.4 788.7h.8M157.0 787.3h.8M102.9 784.0h.8M150.9 786.9h.8M208.0 793.8h.8M125.6 787.3h.8M148.8 786.2h.8M136.5 788.7h.8M151.3 786.9h.8M125.6 784.6h.8M195.7 789.0h.8M118.2 786.0h.8M97.3 783.8h.8M213.0 791.5h.8M137.1 787.6h.8M191.0 789.7h.8M90.1 782.1h.8M146.2 789.6h.8M115.8 786.8h.8M98.8 783.9h.8M209.3 797.6h.8M137.9 787.3h.8M202.6 787.5h.8M168.8 788.9h.8M140.5 787.3h.8M192.9 791.3h.8M184.0 788.2h.8M106.8 785.2h.8M214.3 787.9h.8M141.5 787.1h.8M172.6 790.7h.8M109.5 785.0h.8M202.0 790.2h.8M113.0 787.3h.8M164.1 788.7h.8M118.0 791.0h.8M111.5 784.9h.8M135.4 787.4h.8M107.3 782.9h.8M99.4 783.9h.8M169.7 787.3h.8M161.9 789.3h.8M118.6 785.3h.8M180.9 788.4h.8M149.1 787.6h.8M141.2 787.1h.8M165.5 788.5h.8M92.9 783.0h.8M131.9 787.8h.8M171.2 788.8h.8M135.0 785.0h.8M208.6 789.5h.8M126.3 794.0h.8M145.0 787.3h.8M205.4 787.2h.8M158.1 788.4h.8M150.8 787.0h.8M114.3 785.7h.8M131.4 788.7h.8M123.0 788.5h.8M182.1 788.8h.8M137.4 789.5h.8M119.2 785.9h.8M202.0 794.6h.8M105.4 786.1h.8M89.2 783.3h.8M198.7 790.5h.8M179.6 788.4h.8M165.7 789.1h.8M96.1 785.2h.8M99.8 784.8h.8M201.3 790.9h.8M96.8 783.0h.8M183.8 786.1h.8M125.9 788.3h.8M202.5 790.0h.8M107.7 785.3h.8M114.1 787.0h.8M142.0 787.7h.8M170.6 789.0h.8M175.3 789.7h.8M160.8 788.9h.8M150.7 787.3h.8M202.3 786.8h.8M187.6 788.3h.8M125.3 787.1h.8M201.0 791.0h.8M167.9 785.7h.8M185.8 785.3h.8M101.1 783.4h.8M94.3 782.5h.8M136.8 785.7h.8M139.9 785.6h.8M100.2 785.2h.8M198.4 792.6h.8M207.8 791.6h.8M201.8 788.9h.8M116.7 787.8h.8M101.7 784.2h.8M206.5 792.6h.8M185.6 788.5h.8M156.2 792.0h.8M143.6 789.4h.8M158.0 789.7h.8M153.4 787.5h.8M136.5 785.1h.8M191.0 785.9h.8M105.7 786.6h.8M144.3 788.5h.8M160.9 786.8h.8M120.5 786.2h.8M184.3 788.3h.8M176.3 788.2h.8M101.0 784.7h.8M99.4 784.1h.8M166.7 789.0h.8M101.4 784.0h.8M120.0 785.9h.8M103.5 784.8h.8M130.7 785.3h.8M199.0 788.1h.8M123.8 785.3h.8M141.3 789.6h.8M212.0 792.8h.8M180.5 796.0h.8M196.3 789.0h.8M141.4 788.3h.8M180.9 786.5h.8M178.4 786.3h.8M150.8 787.9h.8M194.3 793.6h.8M103.2 784.4h.8M211.7 791.4h.8M170.7 787.5h.8M169.9 793.1h.8M171.4 786.0h.8M143.2 786.2h.8M181.4 787.2h.8M144.5 788.7h.8M95.8 783.5h.8M95.2 784.8h.8M146.2 786.8h.8M190.0 788.1h.8M189.0 789.7h.8M166.0 786.0h.8M196.1 789.3h.8M213.7 790.1h.8M96.4 783.5h.8M99.3 784.3h.8M88.4 781.9h.8M137.4 787.5h.8M209.1 793.1h.8M139.1 785.9h.8M139.9 788.6h.8M176.1 789.1h.8M174.7 789.0h.8M188.7 785.2h.8M171.8 786.6h.8M144.3 785.0h.8M129.6 786.7h.8M112.4 786.9h.8M194.7 789.0h.8M134.0 787.3h.8M124.6 787.0h.8M101.3 788.5h.8M193.9 787.9h.8M205.4 793.3h.8M95.4 782.7h.8M190.0 787.3h.8M204.7 787.8h.8M142.2 786.2h.8M192.5 789.8h.8M97.0 784.3h.8M115.9 788.1h.8M180.7 787.6h.8M186.9 790.3h.8M174.1 795.2h.8M169.4 794.6h.8M153.2 786.2h.8M123.3 786.6h.8M97.0 783.6h.8M99.5 783.6h.8M206.3 789.8h.8M208.0 794.1h.8M174.6 789.8h.8M100.5 784.6h.8M145.5 786.5h.8M95.4 783.6h.8M192.4 791.3h.8M132.0 784.5h.8M145.3 787.3h.8M166.1 786.9h.8M143.8 788.2h.8M126.9 785.5h.8M110.3 786.2h.8M181.2 789.9h.8M203.0 799.2h.8M124.1 787.1h.8M92.3 782.7h.8M176.1 789.1h.8M196.4 791.4h.8M110.5 784.4h.8M128.6 786.2h.8M135.1 786.5h.8M207.7 792.4h.8M214.6 789.6h.8M182.9 788.8h.8M110.0 784.4h.8M206.3 788.6h.8M143.5 788.0h.8M145.7 787.4h.8M171.7 789.1h.8M151.4 786.2h.8M186.9 788.1h.8M131.0 786.2h.8M93.8 783.1h.8M122.7 786.0h.8M213.6 790.3h.8M116.1 785.6h.8M112.4 785.6h.8M127.6 786.6h.8M214.4 791.4h.8M204.9 792.2h.8M109.5 784.0h.8M96.3 784.1h.8M89.3 783.2h.8M195.9 791.8h.8M203.8 787.0h.8M136.7 787.4h.8M121.0 786.1h.8M119.4 784.4h.8M194.3 793.6h.8M163.2 787.5h.8M168.6 790.1h.8M188.4 792.6h.8M162.2 788.2h.8M117.0 786.0h.8M172.4 787.4h.8M114.2 785.3h.8M103.1 783.6h.8M149.9 786.4h.8M167.9 788.2h.8M147.2 787.0h.8M100.1 784.1h.8M154.3 786.4h.8M126.4 785.1h.8M127.6 786.0h.8M147.7 785.9h.8M144.7 786.2h.8M112.7 790.5h.8M151.3 787.6h.8M108.5 785.4h.8M203.5 791.9h.8M167.4 789.8h.8M201.7 791.8h.8M120.7 785.0h.8M172.7 788.9h.8M148.6 785.2h.8M165.8 795.5h.8M130.0 786.7h.8M134.7 785.7h.8M205.5 787.9h.8M178.1 788.5h.8M166.8 787.3h.8M150.5 786.6h.8M179.7 789.2h.8M144.3 785.8h.8M213.9 788.7h.8M98.7 784.9h.8M170.8 785.5h.8M106.6 784.7h.8M166.2 787.0h.8M193.2 797.8h.8M208.2 792.6h.8M130.4 786.9h.8M169.0 786.3h.8M178.7 791.1h.8M171.5 788.2h.8M94.2 783.9h.8M93.4 783.1h.8M205.9 789.8h.8M118.7 786.9h.8M160.2 789.6h.8M120.9 785.5h.8M88.0 782.4h.8M185.6 790.0h.8M133.0 786.9h.8M148.8 788.8h.8M154.5 787.8h.8M101.4 784.7h.8M185.3 785.2h.8M208.2 795.2h.8M88.4 782.0h.8M213.6 789.6h.8M88.8 781.6h.8M147.1 790.2h.8M213.4 787.5h.8M126.7 787.5h.8M145.6 788.2h.8M208.4 788.2h.8M119.0 786.2h.8M101.2 784.5h.8M154.5 793.1h.8M173.4 786.9h.8M91.7 782.9h.8M139.5 789.1h.8M117.7 786.1h.8M150.6 788.4h.8M96.7 786.4h.8M125.0 785.5h.8M93.8 784.4h.8M94.4 782.5h.8M194.3 788.4h.8M96.1 783.4h.8M111.0 783.7h.8M150.5 788.7h.8M105.0 786.3h.8M200.5 788.4h.8M212.5 787.9h.8M206.7 795.0h.8M97.3 783.6h.8M174.5 794.5h.8M109.7 786.0h.8M153.6 787.0h.8M208.3 791.6h.8M183.5 789.6h.8M100.1 784.1h.8M181.9 789.1h.8M179.7 786.3h.8M112.7 786.8h.8M208.9 792.4h.8M123.4 786.0h.8M150.5 789.2h.8M93.9 784.4h.8M116.1 785.3h.8M126.4 785.7h.8M151.9 785.5h.8M208.2 790.5h.8M188.5 792.0h.8M188.3 788.1h.8M112.6 785.8h.8M175.3 792.0h.8M90.9 782.6h.8M173.8 787.2h.8M177.0 789.9h.8M161.8 793.1h.8M124.5 787.5h.8M105.6 784.2h.8M124.5 785.1h.8M121.7 785.1h.8M212.2 788.9h.8M171.3 786.9h.8M97.6 784.5h.8M212.2 792.4h.8M196.3 792.3h.8M147.8 787.4h.8M184.5 788.3h.8M154.9 787.5h.8M157.5 786.2h.8M104.6 784.2h.8M132.4 788.3h.8M185.0 791.9h.8M104.7 784.8h.8M176.4 787.5h.8M88.3 781.5h.8M213.0 788.1h.8M180.8 786.6h.8M117.3 786.4h.8M165.1 790.3h.8M170.7 787.3h.8M139.8 787.0h.8M92.7 784.0h.8M133.6 786.2h.8M191.7 786.6h.8M132.6 786.9h.8M201.0 800.4h.8M199.6 788.8h.8M190.5 784.6h.8M172.4 787.8h.8M213.8 789.1h.8M174.8 792.2h.8M112.2 785.1h.8M151.3 787.8h.8M134.8 785.8h.8M112.4 787.1h.8M121.7 785.0h.8M202.9 788.6h.8M209.5 789.3h.8M107.0 788.1h.8M88.2 782.0h.8M97.3 784.2h.8M173.8 787.7h.8M188.2 791.8h.8M169.0 789.4h.8M102.5 788.0h.8M201.6 786.4h.8M135.8 785.4h.8M185.1 788.6h.8M134.2 785.6h.8M146.8 788.6h.8M110.5 787.8h.8M180.7 787.3h.8M122.7 787.1h.8M113.9 785.9h.8M201.6 792.7h.8M204.4 789.9h.8M128.1 787.6h.8M134.0 788.6h.8M111.4 783.4h.8M109.2 785.3h.8M174.3 790.4h.8M124.9 786.4h.8M143.7 791.2h.8M186.1 789.0h.8M196.7 794.5h.8M206.0 788.3h.8M200.3 787.1h.8M184.2 789.7h.8M200.2 796.6h.8M122.1 785.4h.8M88.7 782.6h.8M201.4 793.2h.8M164.6 787.5h.8M188.3 787.0h.8M158.1 788.5h.8M127.1 785.9h.8M215.0 788.0h.8M208.7 791.1h.8M193.0 789.8h.8M120.6 786.8h.8M106.2 785.3h.8M112.5 786.2h.8M193.8 792.2h.8M199.5 789.3h.8M141.7 785.1h.8M137.8 788.3h.8M168.1 789.2h.8M188.2 792.0h.8M119.7 785.3h.8M205.5 791.9h.8M123.3 785.6h.8M137.8 792.5h.8M202.1 786.1h.8M136.9 785.5h.8M156.6 787.2h.8M113.1 784.0h.8M129.8 787.5h.8M168.0 787.1h.8M139.7 786.8h.8M199.6 787.9h.8M172.7 790.3h.8M119.4 786.6h.8M121.0 785.9h.8M145.3 787.5h.8M92.9 783.5h.8M181.8 788.2h.8M212.7 791.6h.8M177.8 783.6h.8M201.6 794.8h.8M104.7 783.7h.8M99.2 784.4h.8M205.3 789.6h.8M213.6 789.7h.8M178.8 786.4h.8M151.4 795.3h.8M178.1 792.6h.8M106.8 786.0h.8M146.8 788.8h.8M184.9 789.8h.8M150.3 785.3h.8M147.1 786.8h.8M189.8 791.5h.8M173.2 789.4h.8M207.4 793.4h.8M147.2 786.5h.8M197.2 786.6h.8M189.2 786.2h.8M111.2 785.8h.8M201.5 787.1h.8M173.6 790.3h.8M157.4 787.9h.8M155.8 790.3h.8M174.8 788.1h.8M134.8 786.4h.8M137.3 786.0h.8M125.7 786.9h.8M199.1 791.6h.8M140.9 787.4h.8M119.0 788.1h.8M151.2 788.4h.8M103.2 785.0h.8M164.8 787.1h.8M173.1 792.6h.8M184.5 787.0h.8M175.9 792.0h.8M177.2 788.9h.8M134.8 785.8h.8M92.7 783.0h.8M198.6 791.7h.8M101.2 785.0h.8M145.5 787.6h.8M153.1 790.4h.8M208.9 790.1h.8M187.5 788.4h.8M183.1 789.1h.8M113.6 785.2h.8M182.9 789.8h.8M181.2 787.5h.8M144.5 788.1h.8M200.7 789.8h.8M119.1 786.4h.8M205.4 792.5h.8M194.9 787.1h.8M103.9 784.7h.8M196.8 786.4h.8M186.0 787.3h.8M183.4 787.7h.8M205.4 789.8h.8M92.1 781.9h.8M150.5 784.0h.8M168.1 786.9h.8M200.6 788.1h.8M180.1 788.7h.8M121.9 785.6h.8M208.7 790.8h.8M139.4 792.0h.8M178.1 791.4h.8M164.1 789.6h.8M187.4 791.9h.8M160.8 789.4h.8M97.2 786.0h.8M159.4 787.4h.8M198.3 788.2h.8M211.3 788.4h.8M107.3 785.6h.8M176.2 786.3h.8M182.7 789.6h.8M202.7 793.7h.8M179.8 788.1h.8M157.4 787.0h.8M97.0 784.4h.8M118.2 786.4h.8M90.8 783.2h.8M95.0 784.0h.8M142.5 786.4h.8M95.1 783.4h.8M178.3 788.8h.8M110.6 783.7h.8M103.0 785.6h.8M197.9 787.9h.8M166.9 790.5h.8M149.1 786.9h.8M212.0 792.9h.8M152.6 788.4h.8M173.1 786.6h.8M115.0 786.8h.8M133.8 788.3h.8M146.0 787.1h.8M151.9 786.1h.8M174.7 790.1h.8M177.6 787.3h.8M149.6 789.4h.8M89.9 783.0h.8M191.1 791.1h.8M190.4 790.8h.8M105.6 784.8h.8M112.1 785.3h.8M114.6 786.2h.8M163.5 788.1h.8M155.3 787.5h.8M153.5 788.7h.8M130.0 785.4h.8M168.8 788.6h.8M182.8 790.7h.8M130.3 785.1h.8M169.2 789.2h.8M155.4 791.0h.8M193.6 786.1h.8M153.9 788.2h.8M146.8 787.7h.8M92.4 784.6h.8M143.7 787.5h.8M118.6 786.2h.8M112.7 784.4h.8M166.4 788.6h.8M137.0 785.7h.8M210.8 787.6h.8M142.4 785.2h.8M193.9 789.2h.8M180.9 787.1h.8M121.6 786.2h.8M207.0 793.8h.8M149.4 788.2h.8M213.4 789.5h.8M107.3 785.2h.8M140.4 787.4h.8M194.1 791.4h.8M121.5 786.4h.8M145.5 788.7h.8M213.1 791.4h.8M124.5 786.8h.8M126.7 788.6h.8M99.9 783.2h.8M177.4 787.4h.8M95.8 783.4h.8M192.7 787.7h.8M178.5 790.3h.8M136.9 790.3h.8M169.5 788.5h.8M200.5 789.1h.8M139.7 787.9h.8M204.2 791.4h.8M211.0 789.6h.8M134.5 794.0h.8M201.7 792.4h.8M98.4 784.4h.8M116.7 785.8h.8M92.0 782.6h.8M150.4 789.4h.8M199.1 792.7h.8M106.0 784.9h.8M126.1 786.1h.8M124.2 786.3h.8M150.4 785.9h.8M107.8 784.2h.8M131.1 786.3h.8M113.2 785.0h.8M112.2 785.5h.8M96.9 783.5h.8M103.3 785.5h.8M127.4 786.8h.8M182.8 791.1h.8M157.3 791.9h.8M174.7 790.9h.8M170.2 785.2h.8M125.0 785.8h.8M153.1 787.4h.8M213.0 789.2h.8M167.5 787.6h.8M199.5 789.1h.8M113.8 786.3h.8M148.6 787.8h.8M161.2 789.0h.8M189.2 790.9h.8M130.0 785.5h.8M202.8 789.8h.8M94.6 784.3h.8M189.2 791.1h.8M92.8 782.8h.8M174.5 789.5h.8M192.8 787.4h.8M111.3 785.5h.8M157.4 784.7h.8M127.5 787.1h.8M140.4 786.3h.8M210.2 793.8h.8M132.5 787.5h.8M120.3 786.2h.8M115.1 785.9h.8M209.1 790.3h.8M119.7 787.5h.8M110.9 785.8h.8M178.3 787.6h.8M159.0 799.8h.8M161.1 786.4h.8M138.4 787.1h.8M144.3 785.6h.8M179.8 789.7h.8M114.1 786.5h.8M127.6 786.5h.8M147.5 787.1h.8M101.5 783.3h.8M99.8 783.4h.8M185.7 789.3h.8M204.3 789.2h.8M98.9 784.9h.8M176.5 786.2h.8M194.3 790.9h.8M188.2 792.5h.8M138.0 791.1h.8M152.3 787.1h.8M199.1 788.6h.8M105.1 784.8h.8M160.2 785.8h.8M208.5 790.2h.8M209.2 789.3h.8M211.9 792.4h.8M189.1 790.2h.8M207.2 799.2h.8M159.9 790.4h.8M188.7 788.3h.8M184.6 789.6h.8M150.9 793.8h.8M123.3 787.0h.8M136.5 784.1h.8M172.9 785.8h.8M156.3 786.6h.8M186.7 790.0h.8M93.9 783.5h.8M112.5 784.9h.8M166.3 788.7h.8M157.1 788.9h.8M112.8 785.5h.8M89.6 784.6h.8M193.8 788.3h.8M102.8 784.3h.8M173.4 788.3h.8M168.1 787.2h.8M164.9 788.3h.8M212.3 789.8h.8M161.0 786.5h.8M100.7 785.5h.8M144.4 786.6h.8M155.9 787.5h.8M182.9 793.5h.8M120.6 786.7h.8M93.0 783.6h.8M212.3 784.0h.8M198.2 792.6h.8M152.6 786.8h.8M161.8 788.0h.8M110.1 786.4h.8M138.8 785.6h.8M208.4 792.8h.8M120.5 785.0h.8M105.8 784.1h.8M166.0 786.8h.8M177.9 805.6h.8M210.6 786.4h.8M193.8 790.9h.8M172.4 789.1h.8M171.8 788.6h.8M106.1 784.0h.8M202.3 789.8h.8M109.1 784.4h.8M212.6 788.1h.8M94.9 783.2h.8M98.5 784.1h.8M166.2 785.8h.8M181.0 785.3h.8M157.4 787.6h.8M175.5 788.7h.8M145.3 788.2h.8M190.1 787.7h.8M117.8 785.1h.8M99.0 783.6h.8M119.2 786.4h.8M164.9 785.4h.8M156.2 787.8h.8M200.4 791.9h.8M103.1 785.1h.8M164.6 786.9h.8M203.1 792.6h.8M97.6 784.9h.8M153.4 788.5h.8M112.0 784.4h.8M160.9 786.0h.8M100.8 783.7h.8M188.9 798.0h.8M174.9 791.0h.8M120.7 785.3h.8M109.8 784.6h.8M126.5 787.2h.8M108.2 787.3h.8M184.2 788.9h.8M152.9 787.7h.8M209.9 796.1h.8M197.7 795.1h.8M161.6 791.0h.8M144.6 791.2h.8M106.0 784.3h.8M176.9 790.5h.8M103.3 786.0h.8M174.4 793.6h.8M194.2 784.4h.8M134.0 788.6h.8M142.6 788.0h.8M105.3 785.2h.8M120.5 787.2h.8M156.7 787.7h.8M192.9 793.4h.8M199.3 787.8h.8M165.2 786.4h.8M215.0 795.5h.8M131.2 786.7h.8M104.1 783.7h.8M114.3 784.0h.8M148.6 787.4h.8M206.9 787.3h.8M178.4 787.2h.8M110.7 784.5h.8M153.3 789.8h.8M206.7 786.3h.8M198.8 784.8h.8M160.5 789.0h.8M92.0 783.4h.8M144.2 786.5h.8M181.6 787.1h.8M207.8 792.6h.8M203.8 788.7h.8M113.3 785.5h.8M121.0 787.4h.8M201.3 792.9h.8M169.6 792.0h.8M169.1 796.4h.8M148.2 789.2h.8M136.6 788.8h.8M102.3 784.6h.8M173.1 788.6h.8M167.5 786.6h.8M149.4 789.0h.8M91.8 782.9h.8M112.7 785.8h.8M204.8 791.4h.8M150.2 786.5h.8M181.4 788.4h.8M90.8 782.9h.8M91.9 783.0h.8M153.8 786.9h.8M209.2 791.7h.8M156.2 790.3h.8M105.8 784.5h.8M101.2 783.6h.8M98.3 784.5h.8M146.1 789.6h.8M121.0 784.7h.8M123.7 785.2h.8M156.7 787.0h.8M189.2 789.7h.8M89.1 783.4h.8M200.0 788.7h.8M130.1 786.0h.8M124.6 798.2h.8M105.3 784.6h.8M150.9 788.9h.8M193.4 789.2h.8M102.2 784.0h.8M168.8 788.2h.8M202.5 788.3h.8M103.2 787.7h.8M167.3 788.3h.8M118.6 785.8h.8M196.0 796.9h.8M156.7 788.4h.8M124.6 787.2h.8" fill="none" stroke="#109050" stroke-width="0.95" />
<path d="M36.0 809.9L36.5 809.9L37.0 810.0L37.5 810.0L38.0 810.0L38.5 810.0L39.0 810.0L39.5 810.0L40.0 810.0L40.5 810.0L41.0 810.1L41.5 810.1L42.0 810.1L42.5 810.1L43.0 810.1L43.5 810.2L44.0 810.2L44.5 810.2L45.0 810.2L45.5 810.2L46.0 810.3L46.5 810.3L47.0 810.3L47.5 810.3L48.0 810.4L48.5 810.4L49.0 810.4L49.5 810.5L50.0 810.5L50.5 810.5L51.0 810.6L51.5 810.6L52.0 810.6L52.5 810.7L53.0 810.7L53.5 810.8L54.0 810.8L54.5 810.9L55.0 810.9L55.5 810.9L56.0 811.0L56.5 811.1L57.0 811.1L57.5 811.2L58.0 811.2L58.5 811.3L59.0 811.3L59.5 811.4L60.0 811.5L60.5 811.5L61.0 811.6L61.5 811.7L62.0 811.8L62.5 811.8L63.0 811.9L63.5 812.0L64.0 812.1L64.5 812.2L65.0 812.3L65.5 812.3L66.0 812.4L66.5 812.5L67.0 812.6L67.5 812.7L68.0 812.8L68.5 812.9L69.0 813.0L69.5 813.1L70.0 813.3L70.5 813.4L71.0 813.5L71.5 813.6L72.0 813.7L72.5 813.8L73.0 813.9L73.5 814.1L74.0 814.2L74.5 814.3L75.0 814.4L75.5 814.5L76.0 814.7L76.5 814.8L77.0 814.9L77.5 815.0L78.0 815.2L78.5 815.3L79.0 815.4L79.5 815.5L80.0 815.6L80.5 815.8L81.0 815.9L81.5 816.0L82.0 816.1L82.5 816.2L83.0 816.4L83.5 816.5L84.0 816.6L84.5 816.7L85.0 816.8L85.5 816.9L86.0 817.0L86.5 817.2L87.0 817.3L87.5 817.4L88.0 817.5L88.5 817.6L89.0 817.7L89.5 817.8L90.0 817.9L90.5 818.0L91.0 818.0L91.5 818.1L92.0 818.2L92.5 818.3L93.0 818.4L93.5 818.5L94.0 818.5L94.5 818.6L95.0 818.7L95.5 818.8L96.0 818.8L96.5 818.9L97.0 819.0L97.5 819.0L98.0 819.1L98.5 819.1L99.0 819.2L99.5 819.2L100.0 819.3L100.5 819.4L101.0 819.4L101.5 819.5L102.0 819.6L102.5 819.6L103.0 819.7L103.5 819.7L104.0 819.8L104.5 819.9L105.0 819.9L105.5 820.0L106.0 820.0L106.5 820.1L107.0 820.1L107.5 820.2L108.0 820.2L108.5 820.2L109.0 820.3L109.5 820.3L110.0 820.4L110.5 820.4" fill="none" stroke="#9a1a9a" stroke-width="1.3" />
<path d="M173.4 823.7h.8M172.1 822.8h.8M100.9 819.1h.8M211.0 826.4h.8M142.6 825.4h.8M147.7 822.1h.8M101.4 818.8h.8M162.2 820.5h.8M167.0 821.4h.8M146.1 819.2h.8M208.2 834.2h.8M199.7 829.2h.8M187.2 822.5h.8M103.4 820.3h.8M109.5 820.8h.8M213.3 821.4h.8M110.4 820.8h.8M195.3 823.1h.8M122.0 820.9h.8M182.9 822.6h.8M186.8 826.3h.8M136.7 823.8h.8M146.1 826.1h.8M159.5 823.0h.8M176.7 825.3h.8M132.7 827.9h.8M162.1 829.4h.8M98.5 818.4h.8M213.1 820.8h.8M142.1 823.0h.8M137.6 825.8h.8M112.0 820.1h.8M147.6 821.3h.8M174.8 827.4h.8M112.8 820.0h.8M154.2 822.3h.8M140.6 822.5h.8M213.2 827.6h.8M153.0 819.6h.8M91.7 818.0h.8M165.4 824.5h.8M146.2 821.5h.8M198.6 826.3h.8M124.4 820.9h.8M166.7 823.1h.8M211.1 829.3h.8M102.7 819.1h.8M210.3 825.0h.8M101.9 822.3h.8M92.8 817.9h.8M185.5 822.2h.8M116.0 820.4h.8M158.0 824.4h.8M207.6 822.5h.8M127.8 825.2h.8M197.1 822.3h.8M114.7 820.8h.8M98.3 819.3h.8M189.0 824.7h.8M98.5 819.1h.8M195.4 826.3h.8M149.3 824.2h.8M201.7 819.4h.8M144.7 824.3h.8M105.6 819.1h.8M122.3 821.2h.8M147.4 821.7h.8M203.9 820.3h.8M119.7 821.3h.8M89.9 817.0h.8M109.9 821.8h.8M155.1 827.6h.8M167.2 824.6h.8M112.4 822.0h.8M94.8 819.1h.8M127.9 822.2h.8M154.7 824.3h.8M156.7 822.3h.8M114.8 821.9h.8M146.7 820.8h.8M206.5 824.9h.8M144.8 822.2h.8M134.7 821.7h.8M180.3 823.3h.8M213.4 825.4h.8M206.8 820.4h.8M185.4 823.2h.8M175.1 822.8h.8M165.4 821.5h.8M168.2 822.1h.8M114.9 821.3h.8M163.1 821.9h.8M185.3 823.5h.8M149.2 822.7h.8M143.8 822.4h.8M97.3 819.4h.8M207.1 826.8h.8M153.0 822.9h.8M126.9 823.6h.8M181.9 824.9h.8M204.4 822.7h.8M203.3 821.9h.8M198.7 825.2h.8M168.3 825.7h.8M172.8 822.3h.8M175.5 822.9h.8M109.2 821.4h.8M178.7 833.4h.8M137.5 820.2h.8M129.7 823.6h.8M144.4 821.9h.8M200.9 824.4h.8M145.3 824.8h.8M182.8 819.7h.8M134.0 820.4h.8M192.0 827.2h.8M116.8 821.8h.8M142.3 821.9h.8M88.6 818.0h.8M132.7 819.0h.8M114.8 820.9h.8M183.5 819.6h.8M185.7 826.5h.8M178.5 825.3h.8M99.2 820.7h.8M179.2 826.0h.8M115.5 822.3h.8M174.3 821.2h.8M128.4 820.3h.8M210.6 826.0h.8M151.6 821.0h.8M172.7 826.9h.8M103.6 819.4h.8M135.5 823.3h.8M151.1 823.7h.8M108.5 820.0h.8M163.2 824.7h.8M108.9 820.0h.8M97.3 824.0h.8M209.7 825.3h.8M188.7 823.6h.8M156.7 824.0h.8M96.8 818.5h.8M114.7 822.6h.8M145.1 827.2h.8M142.9 822.3h.8M181.9 825.4h.8M142.3 821.5h.8M118.4 822.3h.8M177.3 822.9h.8M99.8 820.5h.8M206.4 826.1h.8M214.1 821.1h.8M198.9 818.8h.8M207.8 824.3h.8M192.1 827.1h.8M102.2 819.3h.8M99.1 820.2h.8M182.0 821.1h.8M164.4 819.1h.8M140.1 822.1h.8M187.0 822.1h.8M160.5 821.4h.8M122.4 822.0h.8M185.1 825.6h.8M105.4 822.8h.8M181.2 818.9h.8M166.5 823.5h.8M111.8 820.4h.8M145.3 819.8h.8M136.2 822.8h.8M166.8 825.2h.8M124.5 819.7h.8M110.3 819.4h.8M127.5 820.7h.8M114.3 822.0h.8M161.7 824.3h.8M97.0 818.6h.8M91.4 818.8h.8M93.0 818.7h.8M162.6 823.6h.8M152.2 823.7h.8M162.8 832.3h.8M100.6 819.7h.8M197.6 821.4h.8M148.9 829.5h.8M121.1 822.1h.8M202.0 821.5h.8M199.9 823.5h.8M88.5 818.3h.8M153.4 821.7h.8M168.4 824.4h.8M180.4 826.8h.8M107.7 820.4h.8M213.8 823.4h.8M150.2 823.1h.8M88.8 818.6h.8M205.2 827.4h.8M147.1 820.1h.8M139.7 822.7h.8M189.2 831.9h.8M151.8 824.6h.8M206.3 824.5h.8M109.2 820.3h.8M180.3 821.2h.8M155.1 825.1h.8M151.1 821.2h.8M89.3 817.8h.8M198.1 821.2h.8M152.7 827.0h.8M177.1 824.9h.8M198.9 820.2h.8M188.6 824.3h.8M174.0 823.0h.8M105.8 821.8h.8M203.8 825.1h.8M134.8 820.3h.8M178.2 824.4h.8M94.3 817.7h.8M210.5 826.3h.8M201.6 821.2h.8M168.5 822.4h.8M157.5 820.6h.8M152.5 822.9h.8M127.7 823.7h.8M123.6 824.3h.8M187.6 822.7h.8M90.2 818.3h.8M203.7 827.6h.8M94.6 818.5h.8M211.3 824.3h.8M165.3 823.2h.8M98.5 819.6h.8M127.9 822.0h.8M107.9 819.6h.8M99.7 820.1h.8M112.2 820.9h.8M111.8 819.9h.8M162.0 824.1h.8M118.2 821.4h.8M138.4 822.3h.8M126.0 821.4h.8M201.6 820.8h.8M211.7 827.0h.8M176.9 831.8h.8M193.9 833.3h.8M98.3 820.0h.8M100.9 819.5h.8M139.9 823.1h.8M115.3 821.7h.8M188.1 824.9h.8M172.6 823.9h.8M142.4 822.2h.8M164.5 829.5h.8M113.9 819.3h.8M109.4 819.5h.8M149.0 822.9h.8M179.7 822.8h.8M130.1 822.9h.8M108.8 822.2h.8M214.2 824.0h.8M184.5 821.1h.8M92.2 818.4h.8M120.2 822.4h.8M194.3 822.2h.8M168.7 822.7h.8M198.2 820.0h.8M184.4 823.4h.8M180.3 821.8h.8M124.1 820.4h.8M176.7 827.1h.8M124.6 821.1h.8M159.9 822.6h.8M175.6 824.2h.8M115.8 820.4h.8M171.5 823.0h.8M96.2 818.9h.8M101.1 817.9h.8M113.9 820.6h.8M204.5 820.1h.8M90.5 818.1h.8M163.8 823.0h.8M125.8 820.7h.8M132.6 821.6h.8M171.0 821.2h.8M162.8 824.4h.8M113.4 820.5h.8M132.6 823.3h.8M132.7 819.4h.8M159.9 817.3h.8M133.7 822.7h.8M147.0 823.1h.8M124.0 821.1h.8M93.1 818.4h.8M168.5 824.6h.8M126.8 820.0h.8M110.0 820.1h.8M185.8 825.1h.8M199.8 826.5h.8M163.5 822.7h.8M93.4 819.6h.8M101.7 819.7h.8M88.2 817.8h.8M153.2 824.9h.8M163.6 822.6h.8M117.7 821.9h.8M204.4 823.1h.8M162.7 821.9h.8M138.0 823.2h.8M102.4 819.7h.8M186.3 825.1h.8M179.3 822.9h.8M163.5 822.3h.8M120.1 819.7h.8M128.8 820.2h.8M95.2 818.7h.8M133.3 823.7h.8M111.8 819.2h.8M88.4 817.7h.8M110.0 821.6h.8M169.7 822.5h.8M99.0 818.2h.8M180.1 820.2h.8M186.1 824.6h.8M142.0 823.7h.8M192.7 821.7h.8M131.8 818.7h.8M124.9 819.5h.8M170.6 820.8h.8M134.6 821.9h.8M108.2 819.7h.8M151.0 822.4h.8M128.0 821.7h.8M210.6 822.5h.8M141.4 821.3h.8M200.7 821.4h.8M151.8 820.6h.8M112.3 820.7h.8M119.2 820.2h.8M208.2 825.2h.8M128.1 822.8h.8M160.5 831.1h.8M159.8 820.7h.8M133.0 820.9h.8M182.5 824.5h.8M152.8 833.0h.8M159.7 821.5h.8M162.3 825.7h.8M114.1 821.7h.8M91.5 818.1h.8M176.6 823.3h.8M176.5 823.4h.8M111.8 819.0h.8M168.9 820.8h.8M116.9 820.7h.8M177.2 825.8h.8M167.2 823.6h.8M201.2 827.7h.8M205.7 825.8h.8M137.5 826.1h.8M183.3 825.7h.8M205.2 822.3h.8M133.2 819.8h.8M149.2 821.7h.8M94.2 819.4h.8M209.2 830.4h.8M206.2 825.5h.8M145.8 821.4h.8M171.4 821.7h.8M91.2 817.8h.8M105.0 821.5h.8M164.2 824.3h.8M171.6 826.2h.8M139.4 821.9h.8M181.4 826.5h.8M214.7 827.9h.8M109.9 819.6h.8M187.5 817.2h.8M133.8 820.5h.8M196.0 824.2h.8M122.2 819.4h.8M102.5 819.4h.8M198.7 820.7h.8M167.9 824.0h.8M153.1 823.2h.8M116.5 820.2h.8M173.8 824.6h.8M138.8 822.0h.8M150.9 821.7h.8M143.9 822.4h.8M129.1 822.0h.8M113.6 819.7h.8M91.1 817.4h.8M140.7 823.0h.8M195.1 827.3h.8M118.6 821.2h.8M134.1 821.4h.8M169.1 821.5h.8M93.2 819.8h.8M172.7 822.7h.8M213.2 822.6h.8M134.3 820.7h.8M141.3 818.4h.8M162.0 830.7h.8M101.8 820.1h.8M179.0 823.9h.8M164.3 820.8h.8M205.5 825.3h.8M95.4 817.6h.8M104.3 820.4h.8M157.7 822.2h.8M143.2 820.5h.8M153.6 821.0h.8M122.5 820.0h.8M94.6 817.3h.8M207.5 825.6h.8M97.2 818.7h.8M96.7 819.5h.8M131.5 821.2h.8M133.4 821.7h.8M193.9 824.4h.8M157.0 823.9h.8M146.6 823.3h.8M112.8 819.6h.8M96.9 818.8h.8M201.5 825.1h.8M197.0 828.6h.8M95.2 819.4h.8M116.1 819.9h.8M122.9 823.0h.8M102.9 820.5h.8M127.3 821.3h.8M167.6 819.7h.8M194.7 823.0h.8M164.9 824.1h.8M199.0 825.2h.8M177.2 825.7h.8M97.9 818.5h.8M100.2 819.5h.8M127.2 822.3h.8M148.7 824.8h.8M102.7 818.6h.8M192.2 821.4h.8M112.6 820.9h.8M157.3 822.2h.8M169.2 820.7h.8M93.5 817.8h.8M161.5 822.3h.8M196.3 821.5h.8M148.8 821.6h.8M211.7 825.1h.8M146.7 821.6h.8M119.0 820.4h.8M152.5 823.2h.8M213.8 820.1h.8M137.3 821.9h.8M165.8 823.1h.8M104.4 819.4h.8M151.3 822.5h.8M131.1 821.2h.8M189.0 821.8h.8M171.4 829.6h.8M107.0 819.7h.8M181.0 825.8h.8M150.2 821.2h.8M91.3 817.2h.8M205.1 823.3h.8M94.1 818.5h.8M197.7 823.5h.8M126.3 819.0h.8M163.3 827.5h.8M109.8 820.3h.8M198.4 819.8h.8M119.6 823.0h.8M165.5 823.7h.8M156.9 822.4h.8M144.5 822.8h.8M156.7 825.2h.8M129.3 822.1h.8M93.5 818.4h.8M148.0 819.9h.8M139.4 819.4h.8M147.7 821.6h.8M95.0 819.9h.8M89.6 817.6h.8M104.3 821.5h.8M184.3 827.4h.8M193.2 831.8h.8M165.4 824.8h.8M104.0 818.4h.8M196.0 822.1h.8M191.7 821.1h.8M192.1 823.6h.8M122.8 821.6h.8M189.4 822.2h.8M104.3 820.7h.8M170.7 823.6h.8M149.6 823.4h.8M213.5 826.0h.8M170.3 821.5h.8M102.0 818.7h.8M113.6 819.9h.8M99.9 819.6h.8M94.3 818.4h.8M137.7 820.0h.8M205.5 824.2h.8M145.4 821.4h.8M196.0 824.9h.8M108.5 821.0h.8M169.1 823.9h.8M211.1 825.0h.8M211.5 827.2h.8M131.9 823.2h.8M127.3 821.0h.8M180.1 827.4h.8M98.2 819.0h.8M103.8 821.5h.8M101.4 818.7h.8M168.6 823.7h.8M113.2 821.5h.8M163.7 822.5h.8M111.9 819.9h.8M182.2 826.1h.8M162.0 821.0h.8M192.6 823.1h.8M158.2 821.6h.8M141.4 821.3h.8M194.2 821.2h.8M93.0 818.2h.8M185.8 822.9h.8M199.5 823.2h.8M183.9 822.6h.8M141.0 825.0h.8M195.4 829.6h.8M193.0 825.3h.8M125.2 819.9h.8M163.3 820.8h.8M157.9 821.4h.8M206.2 822.1h.8M165.9 823.5h.8M130.7 821.1h.8M186.7 821.1h.8M133.6 820.8h.8M185.6 822.1h.8M166.3 822.4h.8M153.8 819.9h.8M178.3 824.2h.8M172.7 824.4h.8M168.3 823.1h.8M101.6 819.9h.8M150.2 823.4h.8M129.6 821.9h.8M112.2 820.6h.8M142.1 827.4h.8M119.2 821.6h.8M170.9 822.9h.8M109.3 822.5h.8M190.3 826.6h.8M138.7 820.1h.8M154.9 825.1h.8M106.1 819.4h.8M214.0 826.4h.8M207.3 820.4h.8M161.8 822.2h.8M166.4 825.9h.8M123.5 822.5h.8M107.7 820.5h.8M212.0 832.1h.8M189.1 823.8h.8M194.4 821.3h.8M135.1 821.7h.8M161.5 823.0h.8M130.5 821.7h.8M94.2 817.6h.8M174.4 823.5h.8M116.0 822.0h.8M158.6 823.6h.8M100.8 820.1h.8M164.9 826.1h.8M118.7 823.8h.8M142.7 823.8h.8M143.8 824.2h.8M140.0 823.2h.8M174.3 819.2h.8M165.5 824.4h.8M182.0 825.9h.8M187.6 825.0h.8M182.5 824.7h.8M213.1 819.7h.8M99.9 819.2h.8M106.5 820.4h.8M133.0 820.7h.8M88.2 817.3h.8M136.6 822.6h.8M155.9 820.0h.8M199.4 819.7h.8M135.6 821.2h.8M189.1 823.2h.8M165.2 822.3h.8M167.4 828.7h.8M164.4 826.0h.8M102.7 819.1h.8M211.0 824.3h.8M209.6 824.5h.8M173.5 821.7h.8M204.1 827.1h.8M88.5 818.2h.8M152.5 822.4h.8M155.1 830.6h.8M161.8 820.5h.8M137.2 824.1h.8M91.7 817.9h.8M152.9 822.8h.8M99.5 819.6h.8M102.8 820.0h.8M157.1 820.8h.8M95.2 818.7h.8M171.8 825.9h.8M211.8 824.9h.8M128.2 822.5h.8M172.5 822.5h.8M195.2 823.9h.8M138.9 821.7h.8M213.5 825.2h.8M109.4 820.4h.8M135.4 821.5h.8M191.5 824.6h.8M169.5 819.8h.8M190.3 842.1h.8M143.0 819.6h.8M145.7 821.9h.8M166.8 823.3h.8M111.2 819.5h.8M161.8 823.3h.8M198.1 818.8h.8M113.3 819.6h.8M175.4 824.1h.8M93.7 818.8h.8M132.7 823.3h.8M157.7 823.6h.8M195.2 827.5h.8M188.9 823.8h.8M206.1 824.7h.8M174.6 824.2h.8M144.1 824.9h.8M190.1 821.2h.8M107.4 820.4h.8M122.4 820.6h.8M122.5 822.1h.8M133.2 822.8h.8M190.5 826.7h.8M176.8 826.2h.8M177.9 822.5h.8M213.9 823.5h.8M175.1 822.3h.8M202.0 826.0h.8M107.8 819.7h.8M177.5 822.4h.8M208.2 822.8h.8M146.4 827.2h.8M142.5 819.1h.8M103.6 820.6h.8M170.4 830.4h.8M181.1 819.4h.8M125.9 822.4h.8M182.0 820.7h.8M139.7 822.6h.8M102.6 818.7h.8M125.8 823.4h.8M115.2 823.9h.8M99.5 819.0h.8M135.4 820.0h.8M176.2 823.6h.8M181.3 820.6h.8M202.5 824.5h.8M89.8 817.7h.8M117.9 819.7h.8M141.0 819.3h.8M144.9 825.4h.8M137.7 822.7h.8M125.1 820.6h.8M169.1 824.7h.8M148.2 820.6h.8M133.3 822.4h.8M190.5 824.4h.8M166.5 822.0h.8M145.2 828.1h.8M211.6 826.6h.8M113.9 820.2h.8M169.4 820.1h.8M110.8 821.5h.8M180.3 826.4h.8M154.4 822.8h.8M181.3 820.3h.8M208.5 826.8h.8M109.1 819.4h.8M129.2 824.1h.8M175.5 822.9h.8M191.5 822.5h.8M210.4 823.1h.8M179.3 822.5h.8M127.5 822.8h.8M104.5 821.0h.8M209.2 824.6h.8M212.8 822.1h.8M207.7 826.6h.8M170.6 824.3h.8M194.2 819.8h.8M131.8 820.0h.8M173.6 823.2h.8M193.2 824.7h.8M109.1 819.9h.8M184.4 829.2h.8M196.4 825.1h.8M156.1 823.9h.8M182.1 822.6h.8M148.4 822.4h.8M132.7 821.2h.8M205.6 823.5h.8M212.4 823.1h.8M125.8 821.5h.8M178.7 822.2h.8M129.2 819.9h.8M124.7 820.7h.8M209.3 825.6h.8M158.0 822.2h.8M162.4 824.3h.8M109.7 820.3h.8M117.8 821.0h.8M130.3 824.3h.8M120.7 821.5h.8M133.0 824.3h.8M166.3 823.2h.8M175.6 820.2h.8M192.9 825.1h.8M192.4 824.4h.8M137.5 823.0h.8M128.0 822.9h.8M102.3 820.0h.8M194.3 818.6h.8M150.4 822.1h.8M176.8 823.6h.8M171.3 824.5h.8M143.2 822.5h.8M172.2 822.1h.8M129.9 822.5h.8M170.9 822.6h.8M91.7 818.4h.8M91.2 818.2h.8M169.5 821.6h.8M206.8 823.5h.8M125.6 819.9h.8M154.9 823.0h.8M98.2 819.9h.8M115.4 819.4h.8M150.5 822.2h.8M187.9 823.0h.8M189.2 822.1h.8M203.3 824.9h.8M154.7 822.7h.8M112.1 820.5h.8M142.4 821.4h.8M194.7 822.3h.8M143.8 822.3h.8M138.1 819.9h.8M96.8 819.8h.8M155.5 819.5h.8M132.3 819.9h.8M173.8 824.2h.8M178.2 824.9h.8M147.8 824.0h.8M153.2 822.9h.8M97.3 819.7h.8M167.7 825.2h.8M91.8 818.1h.8M99.0 818.3h.8M149.1 823.6h.8M148.1 824.5h.8M196.7 822.8h.8M113.5 821.4h.8M172.2 822.0h.8M158.3 825.2h.8M166.7 822.1h.8M199.5 824.8h.8M132.2 824.4h.8M188.1 821.6h.8M109.4 818.8h.8M152.7 822.4h.8M149.5 820.8h.8M192.2 826.5h.8M112.9 822.0h.8M119.0 821.1h.8M193.2 826.9h.8M212.8 820.7h.8M122.9 818.9h.8M132.0 824.0h.8M189.8 829.2h.8M188.0 826.3h.8M147.3 823.0h.8M117.5 820.3h.8M166.9 821.2h.8M171.3 820.0h.8M203.4 823.5h.8M201.8 823.4h.8M109.1 820.4h.8M106.2 818.7h.8M116.6 822.8h.8M210.1 824.9h.8M210.1 828.3h.8M152.7 823.6h.8M180.7 821.2h.8M155.8 826.2h.8M88.6 817.6h.8M176.7 823.2h.8M153.0 821.6h.8M116.0 821.3h.8M208.2 826.2h.8M91.5 817.9h.8M194.5 821.9h.8M89.5 817.8h.8M214.5 829.4h.8M192.1 825.1h.8M106.7 818.8h.8M98.3 818.1h.8M121.9 823.1h.8M171.9 825.3h.8M203.1 830.6h.8M168.4 822.7h.8M110.3 820.9h.8M94.3 818.8h.8M197.7 822.7h.8M200.7 824.5h.8M144.8 822.0h.8M209.0 829.5h.8M135.0 822.3h.8M128.2 822.2h.8M213.0 826.7h.8M203.5 827.4h.8M107.2 822.6h.8M140.5 819.9h.8M195.1 824.7h.8M194.9 829.3h.8M178.7 822.6h.8M196.3 822.0h.8M211.2 823.8h.8M103.8 823.4h.8M182.8 826.8h.8M201.6 821.4h.8M107.4 818.8h.8M198.7 836.4h.8M206.4 822.2h.8M104.9 819.4h.8M171.7 823.1h.8M120.0 818.3h.8M119.3 820.1h.8M145.4 821.8h.8M214.0 822.2h.8M161.1 822.2h.8M120.6 821.6h.8M116.5 820.3h.8M158.8 824.0h.8M90.1 818.1h.8M157.2 824.7h.8M126.3 818.4h.8M193.1 824.7h.8M212.0 824.6h.8M121.1 821.9h.8M119.7 820.1h.8M167.2 824.6h.8M90.9 817.4h.8M209.5 827.0h.8M194.7 822.3h.8M214.1 824.6h.8M168.8 820.2h.8M145.5 820.8h.8M145.5 821.9h.8M117.4 823.6h.8M140.4 821.0h.8M94.9 819.2h.8M203.1 827.0h.8M204.4 828.1h.8M121.3 820.2h.8M192.6 819.8h.8M179.1 824.9h.8M166.7 824.7h.8M111.7 820.0h.8M144.4 822.7h.8M111.7 821.1h.8M140.8 821.9h.8M194.1 827.8h.8M99.5 820.2h.8M189.5 820.7h.8M196.8 827.5h.8M182.4 824.1h.8M93.5 817.3h.8M213.6 821.2h.8M189.5 825.4h.8M194.5 823.7h.8M195.3 827.6h.8M100.7 818.8h.8M211.7 825.3h.8M173.4 824.1h.8M148.4 820.2h.8M90.7 818.3h.8M144.4 820.3h.8M188.2 822.2h.8M193.5 820.1h.8M152.6 821.9h.8M99.3 820.8h.8M206.0 823.9h.8M208.0 822.1h.8M119.7 821.9h.8M132.9 821.0h.8M90.5 818.0h.8M119.4 822.2h.8M147.6 827.4h.8M214.7 830.6h.8M144.2 821.8h.8M168.2 821.6h.8M165.0 821.4h.8M206.1 822.0h.8M137.6 821.6h.8M141.2 825.1h.8M196.5 825.2h.8M202.4 838.4h.8M210.0 824.5h.8M170.4 824.0h.8M152.4 825.4h.8M125.5 821.6h.8M193.0 826.7h.8M97.6 818.2h.8M92.7 817.8h.8M159.5 819.1h.8M181.6 820.7h.8M182.0 822.1h.8M161.0 822.9h.8M105.7 818.9h.8M94.1 819.8h.8M138.7 822.8h.8M114.1 820.5h.8M145.3 820.0h.8M136.7 823.3h.8M96.2 820.0h.8M165.6 823.4h.8M156.5 821.4h.8M99.8 819.0h.8M177.2 822.3h.8M98.4 818.9h.8M212.6 821.3h.8M121.6 821.7h.8M145.0 822.2h.8M132.1 823.0h.8M202.6 819.9h.8M193.9 823.0h.8M206.9 823.2h.8M214.0 825.1h.8M118.1 821.4h.8M160.9 823.5h.8M185.6 825.0h.8M140.1 820.9h.8M140.5 823.5h.8M200.3 822.3h.8M152.8 823.0h.8M196.6 826.0h.8M89.3 818.0h.8M120.9 821.8h.8M197.9 824.7h.8M116.8 821.4h.8M95.2 819.2h.8M200.4 822.6h.8M182.7 821.0h.8M131.5 821.8h.8M94.2 819.0h.8M135.0 821.5h.8M136.7 821.0h.8M108.0 820.0h.8M164.4 823.6h.8M163.1 822.9h.8M94.9 818.4h.8M198.0 829.5h.8M94.7 818.3h.8M198.2 823.3h.8M130.8 821.5h.8M189.3 822.1h.8M135.5 822.7h.8M157.1 830.6h.8M214.6 821.3h.8M113.5 820.7h.8M96.6 818.9h.8M179.9 824.8h.8M212.9 822.1h.8M133.5 824.0h.8M156.2 824.0h.8M106.0 820.9h.8M135.9 829.1h.8M186.2 823.4h.8M110.6 822.0h.8M141.0 820.9h.8M210.1 820.2h.8M143.0 825.3h.8M178.3 824.0h.8M143.8 820.4h.8M201.0 821.1h.8M185.9 822.3h.8M93.9 819.0h.8M165.1 823.4h.8M209.1 822.7h.8M192.7 827.9h.8M154.5 824.2h.8M207.6 820.0h.8M100.4 820.0h.8M138.2 821.9h.8M91.8 817.8h.8M160.5 821.0h.8M125.3 821.9h.8M103.6 820.5h.8M166.2 824.2h.8M170.7 823.8h.8M141.0 821.5h.8M101.1 819.8h.8M164.4 823.3h.8M178.7 823.0h.8M184.9 819.4h.8M122.2 819.7h.8M104.9 820.0h.8M167.5 823.8h.8M174.6 821.8h.8M162.5 822.4h.8M208.7 823.7h.8M204.5 824.4h.8M149.7 823.2h.8M183.4 824.5h.8M196.4 820.8h.8M105.2 820.6h.8M156.3 822.7h.8M162.9 823.9h.8M190.8 824.5h.8M206.9 823.0h.8M115.5 818.5h.8M208.4 823.6h.8M189.0 822.5h.8M141.2 822.4h.8M178.7 820.3h.8M127.9 822.5h.8M145.9 824.3h.8M121.3 821.1h.8M201.2 823.6h.8M173.7 822.3h.8M197.2 821.3h.8M129.9 823.9h.8M108.6 821.2h.8M116.9 819.7h.8M126.1 820.6h.8M94.2 818.5h.8M152.6 823.5h.8M130.2 822.4h.8M133.3 821.9h.8M212.6 821.2h.8M210.6 825.7h.8M91.2 818.9h.8M140.4 820.1h.8M93.9 818.2h.8M206.4 822.2h.8M128.8 830.1h.8M110.0 821.6h.8M118.4 820.2h.8M213.4 823.4h.8M185.4 820.4h.8M128.1 821.6h.8M115.8 820.2h.8M97.8 819.2h.8M144.5 823.0h.8M162.2 820.5h.8M97.5 818.3h.8M140.0 821.1h.8M209.8 818.4h.8M134.3 823.4h.8M213.7 829.6h.8M189.2 824.3h.8M163.8 823.4h.8M187.3 820.8h.8M142.5 820.9h.8M166.8 830.8h.8M157.8 823.4h.8M102.2 820.1h.8M177.2 824.0h.8M102.2 819.3h.8M141.7 823.5h.8M91.1 818.8h.8M181.6 824.9h.8M186.5 834.9h.8M164.2 820.9h.8M185.5 823.7h.8M162.8 824.3h.8M138.9 821.7h.8M97.0 819.4h.8M152.1 824.4h.8M91.6 817.7h.8M210.5 824.9h.8M120.8 820.9h.8" fill="none" stroke="#9a1a9a" stroke-width="0.95" />
<path d="M36.0 844.8L36.5 844.8L37.0 844.9L37.5 844.9L38.0 844.9L38.5 844.9L39.0 844.9L39.5 844.9L40.0 844.9L40.5 845.0L41.0 845.0L41.5 845.0L42.0 845.0L42.5 845.0L43.0 845.0L43.5 845.1L44.0 845.1L44.5 845.1L45.0 845.1L45.5 845.1L46.0 845.2L46.5 845.2L47.0 845.2L47.5 845.3L48.0 845.3L48.5 845.3L49.0 845.3L49.5 845.4L50.0 845.4L50.5 845.4L51.0 845.5L51.5 845.5L52.0 845.6L52.5 845.6L53.0 845.6L53.5 845.7L54.0 845.7L54.5 845.8L55.0 845.8L55.5 845.9L56.0 845.9L56.5 846.0L57.0 846.0L57.5 846.1L58.0 846.2L58.5 846.2L59.0 846.3L59.5 846.3L60.0 846.4L60.5 846.5L61.0 846.6L61.5 846.6L62.0 846.7L62.5 846.8L63.0 846.9L63.5 846.9L64.0 847.0L64.5 847.1L65.0 847.2L65.5 847.3L66.0 847.4L66.5 847.5L67.0 847.6L67.5 847.7L68.0 847.8L68.5 847.9L69.0 848.0L69.5 848.1L70.0 848.2L70.5 848.3L71.0 848.4L71.5 848.6L72.0 848.7L72.5 848.8L73.0 848.9L73.5 849.0L74.0 849.2L74.5 849.3L75.0 849.4L75.5 849.5L76.0 849.6L76.5 849.8L77.0 849.9L77.5 850.0L78.0 850.2L78.5 850.3L79.0 850.4L79.5 850.5L80.0 850.7L80.5 850.8L81.0 850.9L81.5 851.0L82.0 851.1L82.5 851.3L83.0 851.4L83.5 851.5L84.0 851.6L84.5 851.7L85.0 851.9L85.5 852.0L86.0 852.1L86.5 852.2L87.0 852.3L87.5 852.4L88.0 852.5L88.5 852.6L89.0 852.7L89.5 852.8L90.0 852.9L90.5 853.0L91.0 853.1L91.5 853.2L92.0 853.3L92.5 853.4L93.0 853.4L93.5 853.5L94.0 853.6L94.5 853.7L95.0 853.7L95.5 853.8L96.0 853.9L96.5 854.0L97.0 854.0L97.5 854.1L98.0 854.1L98.5 854.2L99.0 854.3L99.5 854.3L100.0 854.4L100.5 854.5L101.0 854.6L101.5 854.7L102.0 854.7L102.5 854.8L103.0 854.9L103.5 855.0L104.0 855.1L104.5 855.2L105.0 855.2L105.5 855.3L106.0 855.4L106.5 855.5L107.0 855.6L107.5 855.6L108.0 855.7L108.5 855.8L109.0 855.8L109.5 855.9L110.0 856.0L110.5 856.0" fill="none" stroke="#3a3a9a" stroke-width="1.3" />
<path d="M108.6 855.8h.8M209.4 866.2h.8M186.6 864.2h.8M123.0 856.9h.8M93.4 853.4h.8M153.7 858.8h.8M113.9 857.8h.8M106.5 855.3h.8M213.8 866.9h.8M109.6 856.8h.8M125.6 856.7h.8M141.4 858.9h.8M107.0 855.5h.8M206.1 864.5h.8M117.9 854.9h.8M204.8 859.5h.8M123.2 860.7h.8M153.0 860.7h.8M117.4 856.2h.8M165.5 860.8h.8M144.3 865.6h.8M108.6 856.0h.8M195.5 863.9h.8M151.9 861.1h.8M206.4 863.5h.8M163.4 859.8h.8M125.4 856.8h.8M125.8 858.2h.8M91.1 853.3h.8M95.2 854.2h.8M203.1 866.4h.8M104.6 854.7h.8M114.4 856.8h.8M150.1 861.5h.8M181.2 858.1h.8M141.6 858.2h.8M89.6 852.8h.8M159.7 858.7h.8M120.9 858.0h.8M188.3 863.6h.8M119.5 858.9h.8M161.8 859.8h.8M106.5 856.2h.8M94.9 855.0h.8M185.3 864.5h.8M168.7 864.0h.8M194.3 858.6h.8M197.0 862.4h.8M193.4 876.7h.8M186.3 866.5h.8M147.2 860.6h.8M103.4 854.4h.8M91.1 853.4h.8M176.9 864.9h.8M169.2 859.9h.8M132.3 858.6h.8M110.0 855.0h.8M210.7 862.8h.8M127.4 857.1h.8M140.1 858.7h.8M164.1 859.5h.8M100.3 854.2h.8M198.4 866.9h.8M94.9 853.0h.8M194.4 862.8h.8M144.9 859.9h.8M91.2 853.0h.8M144.6 860.2h.8M160.2 861.1h.8M198.6 865.4h.8M133.2 856.1h.8M127.3 858.3h.8M128.0 858.0h.8M176.1 862.2h.8M214.4 869.4h.8M128.1 860.5h.8M100.6 854.0h.8M159.9 865.6h.8M189.5 862.0h.8M208.7 868.2h.8M138.7 858.5h.8M185.2 859.9h.8M148.2 858.9h.8M145.1 859.7h.8M170.3 863.7h.8M105.9 853.8h.8M195.9 864.6h.8M174.7 862.1h.8M198.5 864.2h.8M198.3 866.8h.8M107.6 858.3h.8M140.7 860.0h.8M100.4 854.3h.8M128.0 859.6h.8M92.4 854.0h.8M159.4 865.5h.8M156.0 861.7h.8M111.6 854.9h.8M156.3 862.7h.8M149.3 861.7h.8M126.1 860.9h.8M211.3 865.7h.8M154.4 861.2h.8M117.4 858.1h.8M175.5 860.4h.8M209.0 874.1h.8M126.0 858.0h.8M181.2 866.4h.8M142.8 857.9h.8M153.4 857.8h.8M177.2 858.8h.8M132.3 857.6h.8M146.5 859.0h.8M95.1 853.1h.8M107.2 858.1h.8M123.5 859.0h.8M100.4 854.7h.8M146.1 860.3h.8M116.2 858.9h.8M161.8 861.1h.8M152.8 857.9h.8M203.9 871.3h.8M95.6 852.6h.8M207.4 866.7h.8M206.9 864.7h.8M166.2 859.8h.8M189.0 863.9h.8M133.6 857.6h.8M109.6 854.7h.8M104.7 855.7h.8M176.7 865.3h.8M155.6 859.3h.8M186.7 863.2h.8M156.9 861.7h.8M154.2 859.1h.8M182.9 864.2h.8M172.8 863.6h.8M175.5 860.9h.8M177.4 862.6h.8M150.4 863.1h.8M152.4 866.4h.8M104.5 855.3h.8M169.9 862.0h.8M99.7 853.3h.8M141.3 859.3h.8M157.7 858.6h.8M118.9 857.4h.8M118.9 856.3h.8M103.9 853.5h.8M95.8 854.2h.8M123.1 856.0h.8M187.8 860.1h.8M110.4 854.9h.8M115.3 856.4h.8M190.3 860.1h.8M160.7 859.7h.8M170.4 865.7h.8M155.8 859.4h.8M93.2 854.5h.8M138.0 859.3h.8M204.5 882.0h.8M133.7 859.6h.8M172.3 861.8h.8M202.4 865.1h.8M118.3 858.0h.8M124.7 857.0h.8M158.5 861.1h.8M155.3 859.5h.8M126.7 857.7h.8M193.0 862.3h.8M120.7 855.7h.8M167.6 861.9h.8M154.3 860.2h.8M157.4 860.6h.8M204.3 861.8h.8M191.1 862.5h.8M178.1 861.6h.8M116.5 859.9h.8M130.7 857.4h.8M195.0 865.5h.8M138.4 858.5h.8M120.5 857.7h.8M186.7 869.7h.8M157.3 859.4h.8M114.0 857.1h.8M124.8 857.4h.8M154.1 860.1h.8M157.0 859.8h.8M164.4 860.7h.8M122.2 857.7h.8M193.1 859.3h.8M180.4 860.2h.8M133.6 856.8h.8M177.6 864.9h.8M176.0 863.9h.8M124.1 856.5h.8M130.8 858.9h.8M207.0 861.6h.8M123.0 857.8h.8M118.1 858.3h.8M175.8 861.5h.8M98.0 854.1h.8M90.7 852.4h.8M136.1 859.2h.8M199.8 869.9h.8M165.2 860.9h.8M214.4 865.5h.8M139.5 859.5h.8M131.7 857.6h.8M197.4 865.1h.8M105.5 855.7h.8M212.1 862.7h.8M181.9 861.8h.8M178.8 862.1h.8M118.5 858.4h.8M211.4 865.7h.8M190.3 862.0h.8M94.4 854.3h.8M120.3 855.7h.8M201.5 869.9h.8M159.4 858.9h.8M141.6 860.3h.8M193.0 866.0h.8M94.1 854.3h.8M98.4 855.0h.8M140.0 856.9h.8M207.8 867.6h.8M190.7 868.2h.8M97.8 853.7h.8M162.1 861.6h.8M159.2 857.6h.8M147.8 859.8h.8M206.2 875.4h.8M174.3 860.8h.8M149.8 859.4h.8M111.6 857.2h.8M94.6 855.7h.8M115.0 856.1h.8M171.9 864.2h.8M115.4 857.4h.8M105.0 853.7h.8M108.3 856.2h.8M127.5 859.9h.8M141.6 860.2h.8M157.8 860.2h.8M197.1 864.2h.8M183.4 861.7h.8M135.1 858.4h.8M134.8 857.7h.8M155.9 861.2h.8M148.2 862.7h.8M197.6 865.5h.8M127.5 857.7h.8M181.1 862.2h.8M145.0 860.7h.8M163.7 861.2h.8M148.4 869.8h.8M122.7 857.4h.8M191.3 868.4h.8M103.1 854.6h.8M146.9 860.0h.8M171.1 864.5h.8M115.2 856.2h.8M120.4 856.0h.8M119.9 856.5h.8M192.7 862.4h.8M98.8 852.4h.8M93.2 853.5h.8M157.9 858.2h.8M152.7 858.9h.8M96.0 853.7h.8M135.1 856.9h.8M132.6 858.2h.8M159.8 862.3h.8M178.2 861.3h.8M104.3 856.0h.8M198.6 866.4h.8M160.1 861.8h.8M160.1 861.8h.8M192.7 868.6h.8M162.6 864.6h.8M171.9 858.6h.8M184.6 863.0h.8M128.5 859.3h.8M145.1 859.8h.8M158.2 858.4h.8M114.1 856.8h.8M105.7 855.5h.8M194.5 860.8h.8M205.1 866.6h.8M121.5 858.5h.8M122.9 856.4h.8M130.2 859.6h.8M152.7 862.9h.8M157.6 864.9h.8M179.0 859.5h.8M150.2 860.6h.8M115.0 857.3h.8M189.5 860.0h.8M117.1 855.2h.8M182.8 863.6h.8M147.0 858.2h.8M198.3 867.1h.8M155.7 861.4h.8M139.1 858.9h.8M194.0 861.7h.8M106.4 854.7h.8M185.2 860.9h.8M194.5 869.6h.8M103.3 855.2h.8M204.3 865.4h.8M203.2 864.6h.8M96.4 853.4h.8M116.5 856.3h.8M141.0 859.4h.8M108.5 855.6h.8M128.1 857.4h.8M138.2 857.9h.8M106.5 855.7h.8M210.6 865.9h.8M164.5 863.5h.8M204.9 867.2h.8M93.7 855.1h.8M97.9 853.1h.8M99.7 855.5h.8M146.9 862.7h.8M117.4 857.1h.8M153.3 858.4h.8M185.6 863.5h.8M212.7 859.6h.8M109.5 855.8h.8M139.6 860.6h.8M191.2 868.6h.8M109.5 855.4h.8M123.4 857.2h.8M184.6 861.7h.8M139.1 859.9h.8M129.2 858.2h.8M162.1 860.9h.8M89.9 853.0h.8M139.3 861.3h.8M142.0 858.0h.8M130.6 860.3h.8M125.3 855.6h.8M97.3 854.4h.8M111.9 857.3h.8M140.5 858.2h.8M140.3 861.9h.8M192.4 858.1h.8M104.2 856.1h.8M122.1 858.6h.8M183.0 865.8h.8M146.6 858.6h.8M131.6 859.6h.8M175.2 864.7h.8M106.1 854.6h.8M103.5 854.8h.8M108.3 855.2h.8M146.3 859.6h.8M170.4 862.0h.8M102.6 854.7h.8M93.5 853.1h.8M119.9 857.1h.8M191.5 862.7h.8M138.7 858.9h.8M130.1 860.2h.8M88.8 851.9h.8M181.1 862.0h.8M109.3 856.6h.8M92.6 853.7h.8M210.3 865.9h.8M208.6 865.4h.8M118.2 857.9h.8M177.7 863.5h.8M97.6 853.5h.8M187.8 862.0h.8M190.5 864.6h.8M151.9 862.0h.8M111.2 857.2h.8M141.1 859.7h.8M146.3 858.4h.8M158.7 861.8h.8M191.4 870.3h.8M153.0 861.4h.8M103.4 853.4h.8M132.1 857.2h.8M105.9 855.9h.8M89.0 853.2h.8M117.6 856.5h.8M143.9 863.2h.8M106.4 856.2h.8M191.0 865.1h.8M202.7 864.4h.8M157.7 862.8h.8M192.3 862.5h.8M176.3 859.7h.8M114.1 858.9h.8M94.1 852.9h.8M148.4 860.6h.8M132.3 860.2h.8M163.3 863.8h.8M103.1 854.8h.8M99.3 854.3h.8M157.0 861.5h.8M120.9 856.6h.8M168.1 859.3h.8M207.3 865.8h.8M161.9 863.9h.8M199.9 864.8h.8M125.4 857.4h.8M214.0 865.3h.8M133.7 864.0h.8M96.6 853.2h.8M202.1 862.6h.8M120.3 856.9h.8M184.6 861.1h.8M191.8 864.1h.8M182.8 861.1h.8M153.3 859.1h.8M122.5 857.5h.8M120.3 858.4h.8M194.2 869.6h.8M157.2 860.8h.8M157.6 860.0h.8M189.3 865.4h.8M106.6 854.6h.8M202.9 863.2h.8M152.6 860.4h.8M168.3 864.0h.8M96.3 854.1h.8M206.7 861.9h.8M133.4 855.9h.8M212.7 865.6h.8M136.2 858.1h.8M202.3 862.0h.8M195.6 863.0h.8M119.7 857.5h.8M141.6 858.0h.8M155.5 859.6h.8M192.9 866.5h.8M163.9 861.9h.8M173.5 860.8h.8M117.0 859.2h.8M192.7 865.3h.8M139.2 860.8h.8M214.8 866.2h.8M153.6 858.8h.8M111.6 856.4h.8M164.0 866.9h.8M102.5 855.5h.8M96.1 854.3h.8M153.8 860.0h.8M180.9 863.9h.8M180.5 864.3h.8M162.8 858.0h.8M123.5 857.1h.8M198.4 863.0h.8M135.3 860.1h.8M105.1 855.6h.8M124.4 856.7h.8M129.5 857.3h.8M187.4 864.4h.8M201.2 864.4h.8M205.0 866.8h.8M129.4 859.8h.8M91.8 853.5h.8M122.4 857.5h.8M89.2 852.3h.8M160.2 860.1h.8M112.7 855.8h.8M111.4 856.5h.8M135.2 859.0h.8M101.3 855.2h.8M106.5 856.5h.8M138.0 859.2h.8M90.2 853.1h.8M135.0 858.1h.8M112.7 858.3h.8M155.4 860.5h.8M117.5 857.4h.8M152.6 860.3h.8M117.0 857.7h.8M182.0 865.4h.8M120.0 856.8h.8M100.6 854.9h.8M128.2 855.8h.8M155.4 860.1h.8M102.7 854.2h.8M92.5 853.0h.8M184.4 863.6h.8M192.1 862.6h.8M114.4 854.9h.8M149.0 862.1h.8M154.0 858.5h.8M152.0 860.8h.8M138.8 860.1h.8M113.9 855.6h.8M104.8 856.3h.8M140.3 860.2h.8M181.9 858.4h.8M181.9 859.0h.8M93.4 853.3h.8M182.7 862.2h.8M172.4 864.7h.8M106.2 855.3h.8M158.0 859.6h.8M139.9 861.7h.8M206.7 862.0h.8M197.7 865.2h.8M110.1 856.9h.8M204.5 864.3h.8M152.1 859.1h.8M205.5 863.6h.8M97.3 854.6h.8M162.9 864.9h.8M201.6 865.5h.8M169.5 860.4h.8M123.5 856.4h.8M164.7 859.1h.8M117.6 857.9h.8M185.4 867.8h.8M137.3 857.5h.8M146.6 859.1h.8M197.7 861.8h.8M174.2 864.8h.8M188.4 862.5h.8M159.5 862.3h.8M105.8 855.2h.8M143.5 858.2h.8M108.6 856.5h.8M191.8 862.9h.8M115.5 856.2h.8M206.2 866.4h.8M204.6 865.6h.8M165.4 865.7h.8M174.5 864.9h.8M132.3 858.4h.8M146.8 859.4h.8M194.9 865.9h.8M200.1 864.5h.8M165.2 859.9h.8M169.8 859.8h.8M138.3 860.1h.8M125.1 858.7h.8M180.1 861.5h.8M214.7 863.5h.8M94.5 853.7h.8M182.8 865.3h.8M88.8 852.6h.8M180.3 863.2h.8M100.2 855.2h.8M130.6 858.0h.8M102.3 854.4h.8M109.0 854.5h.8M129.1 858.8h.8M125.2 857.5h.8M89.3 853.5h.8M132.0 858.3h.8M137.7 861.3h.8M162.9 861.5h.8M197.2 862.8h.8M177.4 861.8h.8M187.6 864.3h.8M103.6 855.5h.8M175.7 860.8h.8M152.3 868.2h.8M186.4 862.4h.8M185.5 865.3h.8M111.9 857.6h.8M208.6 863.2h.8M152.7 861.0h.8M207.3 863.9h.8M190.4 861.0h.8M129.2 856.5h.8M98.4 855.5h.8M124.8 856.7h.8M117.2 857.0h.8M185.4 865.4h.8M155.9 859.5h.8M214.5 863.4h.8M112.6 855.5h.8M130.1 858.6h.8M113.7 855.1h.8M110.8 854.8h.8M212.5 868.4h.8M116.0 856.3h.8M152.5 858.3h.8M141.0 857.7h.8M213.0 868.7h.8M164.0 860.5h.8M169.8 862.1h.8M168.1 859.6h.8M133.0 855.9h.8M124.4 856.0h.8M173.0 874.8h.8M198.4 865.5h.8M117.6 858.4h.8M213.8 867.0h.8M160.0 863.0h.8M176.5 860.9h.8M148.7 860.3h.8M172.9 860.3h.8M116.0 855.8h.8M170.7 864.2h.8M139.0 860.0h.8M205.5 861.9h.8M147.9 859.1h.8M134.3 859.0h.8M129.1 859.3h.8M117.6 856.5h.8M149.4 857.6h.8M117.9 856.0h.8M170.2 859.2h.8M129.2 859.4h.8M201.1 862.8h.8M92.2 853.6h.8M161.1 864.2h.8M213.7 865.8h.8M212.1 862.3h.8M109.4 856.0h.8M179.4 862.8h.8M137.5 859.4h.8M186.5 871.0h.8M120.4 856.0h.8M195.4 866.1h.8M107.2 855.2h.8M174.6 868.2h.8M140.1 860.3h.8M210.8 877.9h.8M130.2 858.4h.8M166.4 859.0h.8M179.3 860.9h.8M197.8 862.8h.8M122.5 855.8h.8M188.6 864.0h.8M143.1 860.1h.8M186.5 863.3h.8M209.2 865.6h.8M144.8 860.0h.8M149.1 860.5h.8M206.2 863.1h.8M190.5 866.2h.8M105.7 855.6h.8M182.5 861.2h.8M144.3 863.0h.8M91.1 852.8h.8M139.5 859.2h.8M90.9 853.9h.8M105.4 854.6h.8M197.1 867.1h.8M201.9 863.5h.8M150.6 860.8h.8M154.4 859.0h.8M211.6 863.7h.8M191.8 866.3h.8M95.5 853.9h.8M155.8 858.3h.8M128.2 858.4h.8M126.4 856.1h.8M182.5 861.5h.8M153.9 863.2h.8M147.4 863.2h.8M206.7 866.3h.8M196.4 863.8h.8M200.1 865.1h.8M117.5 856.0h.8M150.1 858.0h.8M133.4 858.4h.8M185.5 863.5h.8M209.4 866.6h.8M186.3 860.8h.8M119.0 857.7h.8M118.7 857.1h.8M158.7 860.5h.8M121.0 860.3h.8M124.7 858.6h.8M123.8 858.4h.8M109.3 859.4h.8M193.9 864.1h.8M185.0 859.2h.8M162.3 862.0h.8M199.8 865.6h.8M178.7 862.2h.8M190.1 869.0h.8M134.8 857.5h.8M115.2 856.5h.8M133.2 860.1h.8M174.5 863.4h.8M113.2 855.9h.8M208.4 866.7h.8M179.5 862.2h.8M116.3 856.6h.8M90.7 853.3h.8M104.6 855.9h.8M114.7 855.2h.8M132.5 859.2h.8M99.7 854.6h.8M135.5 858.0h.8M137.7 860.1h.8M138.6 861.5h.8M137.3 858.0h.8M172.8 862.8h.8M162.7 861.4h.8M197.8 864.7h.8M104.9 855.0h.8M210.1 864.7h.8M89.6 853.7h.8M139.4 858.7h.8M163.9 859.0h.8M138.4 861.3h.8M176.9 864.6h.8M145.9 859.0h.8M98.2 855.0h.8M207.4 863.1h.8M136.8 858.3h.8M200.8 863.1h.8M118.6 856.7h.8M89.4 852.3h.8M192.6 866.2h.8M187.2 865.9h.8M204.7 883.4h.8M164.8 863.7h.8M159.6 857.6h.8M121.5 857.7h.8M131.7 857.9h.8M170.3 861.5h.8M150.5 858.2h.8M157.4 859.8h.8M124.6 856.7h.8M146.9 861.1h.8M109.0 855.9h.8M119.6 855.4h.8M153.8 861.6h.8M116.9 858.3h.8M109.5 857.1h.8M152.7 859.0h.8M189.3 861.8h.8M163.5 860.5h.8M111.0 857.1h.8M145.9 859.9h.8M96.3 852.1h.8M138.2 860.2h.8M142.5 858.5h.8M144.6 865.4h.8M90.8 852.9h.8M115.1 855.1h.8M184.7 865.8h.8M153.3 861.0h.8M118.1 857.1h.8M168.6 860.0h.8M211.9 869.3h.8M153.7 859.8h.8M90.1 853.5h.8M209.2 865.1h.8M172.7 863.1h.8M205.7 864.1h.8M125.5 858.7h.8M198.5 865.8h.8M151.1 864.1h.8M183.3 863.6h.8M146.3 860.4h.8M160.9 862.2h.8M151.3 858.4h.8M203.6 866.8h.8M145.3 860.3h.8M98.5 854.0h.8M193.8 859.5h.8M138.1 859.1h.8M174.7 862.6h.8M212.2 865.0h.8M193.7 862.9h.8M150.7 863.0h.8M112.6 861.8h.8M194.0 863.8h.8M132.7 859.6h.8M125.8 859.2h.8M155.1 861.7h.8M154.2 861.2h.8M181.5 868.1h.8M101.7 854.1h.8M107.4 854.5h.8M173.6 864.4h.8M121.1 857.8h.8M100.5 853.2h.8M134.0 858.6h.8M208.0 864.8h.8M127.0 858.1h.8M115.2 856.7h.8M157.8 860.3h.8M97.3 853.0h.8M213.2 866.0h.8M174.1 862.1h.8M163.8 862.2h.8M122.7 858.2h.8M169.4 858.7h.8M169.7 868.0h.8M205.3 863.3h.8M205.0 866.5h.8M148.0 859.8h.8M144.0 859.4h.8M94.1 852.9h.8M144.4 859.5h.8M212.2 862.8h.8M91.3 851.3h.8M99.3 853.5h.8M214.3 866.3h.8M173.5 866.2h.8M202.4 868.4h.8M176.7 861.6h.8M154.9 860.3h.8M116.9 856.5h.8M89.8 854.1h.8M137.9 858.2h.8M205.3 863.5h.8M206.3 865.4h.8M106.1 858.4h.8M204.6 866.2h.8M149.0 861.1h.8M183.1 865.7h.8M129.5 860.6h.8M93.3 854.0h.8M127.5 856.2h.8M143.7 865.3h.8M190.5 862.2h.8M133.1 857.6h.8M135.5 859.0h.8M181.5 859.9h.8M155.3 858.6h.8M126.8 858.6h.8M117.9 856.4h.8M210.3 866.2h.8M158.0 862.5h.8M168.6 862.9h.8M115.8 855.9h.8M136.3 860.4h.8M198.6 866.9h.8M171.5 861.3h.8M194.6 858.6h.8M208.8 865.6h.8M141.2 859.0h.8M186.9 873.6h.8M128.0 857.1h.8M214.1 867.9h.8M194.1 865.2h.8M158.7 859.7h.8M118.9 857.2h.8M96.4 853.6h.8M171.5 861.1h.8M186.3 862.5h.8M119.3 855.6h.8M197.0 865.9h.8M203.5 864.4h.8M208.7 867.3h.8M139.9 858.4h.8M159.6 860.9h.8M98.2 856.2h.8M188.8 862.9h.8M99.1 854.1h.8M210.5 863.7h.8M133.9 859.1h.8M187.2 860.3h.8M208.1 861.9h.8M134.3 857.9h.8M157.6 859.4h.8M199.4 875.2h.8M175.0 862.6h.8M196.0 865.6h.8M200.1 862.7h.8M99.2 853.7h.8M177.2 862.0h.8M155.4 859.6h.8M133.3 858.1h.8M115.5 857.5h.8M125.7 859.5h.8M152.9 858.2h.8M142.9 860.3h.8M118.7 854.6h.8M93.8 853.1h.8M189.8 863.0h.8M172.1 863.2h.8M151.4 859.7h.8M151.6 862.8h.8M116.0 856.6h.8M121.7 858.1h.8M194.3 864.6h.8M195.1 862.7h.8M166.2 861.1h.8M162.7 861.6h.8M161.0 860.6h.8M106.9 856.2h.8M144.2 858.4h.8M127.0 858.4h.8M213.3 866.1h.8M142.7 856.3h.8M99.9 855.7h.8M126.4 859.6h.8M181.2 863.3h.8M178.3 864.1h.8M173.9 861.1h.8M201.4 867.6h.8M197.1 860.4h.8M192.4 863.1h.8M140.6 861.1h.8M134.9 858.0h.8M184.3 861.9h.8M118.0 857.8h.8M135.9 855.7h.8M212.3 867.3h.8M115.4 855.7h.8M108.5 855.2h.8M134.3 858.6h.8M197.8 864.1h.8M203.8 862.9h.8M172.0 860.6h.8M174.4 860.0h.8M96.5 854.4h.8M120.7 858.0h.8M119.0 857.4h.8M177.5 862.4h.8M210.4 882.2h.8M141.8 857.0h.8M178.2 860.6h.8M182.4 864.7h.8M209.2 862.8h.8M189.9 865.3h.8M122.9 857.7h.8M199.9 863.2h.8M169.9 859.4h.8M176.9 864.9h.8M113.5 856.1h.8M103.0 853.9h.8M149.3 859.9h.8M93.6 854.4h.8M163.1 860.6h.8M118.4 857.7h.8M91.1 852.3h.8M103.5 856.2h.8M185.1 861.0h.8M117.0 856.3h.8M108.6 854.1h.8M120.1 855.7h.8M137.5 858.5h.8M186.2 865.8h.8M159.7 860.4h.8M104.0 856.4h.8M96.3 853.7h.8M103.0 853.8h.8M173.9 861.5h.8M162.0 863.1h.8M130.4 857.6h.8M136.4 857.5h.8M210.1 870.4h.8M181.0 863.4h.8M200.2 859.7h.8M213.4 865.4h.8M206.8 862.0h.8M170.4 858.5h.8M175.1 863.7h.8M195.2 863.3h.8M191.6 865.4h.8M166.8 859.3h.8M97.8 853.8h.8M204.0 864.1h.8M140.4 859.2h.8M175.5 859.6h.8M211.1 865.1h.8M127.9 858.0h.8M121.8 857.6h.8M105.3 854.7h.8M173.2 861.9h.8M186.7 862.2h.8M206.6 868.9h.8M158.4 863.0h.8M131.8 857.8h.8M130.5 858.4h.8M138.0 859.9h.8M155.7 857.5h.8M164.5 861.8h.8M211.1 869.9h.8M200.1 863.6h.8M178.2 860.6h.8M165.6 860.2h.8M196.8 863.4h.8M206.5 866.3h.8M170.1 865.6h.8M181.4 861.6h.8M210.6 863.8h.8M173.1 860.2h.8M144.5 858.2h.8M98.5 853.9h.8M120.0 856.8h.8M142.5 861.0h.8M132.2 857.3h.8M133.2 860.8h.8M183.0 863.7h.8M129.3 858.9h.8M207.9 866.9h.8M155.9 861.6h.8M92.8 853.6h.8M108.7 856.1h.8M137.0 858.0h.8M127.8 855.3h.8M150.0 862.5h.8M124.6 857.3h.8M195.1 865.8h.8M96.6 854.0h.8M207.6 861.3h.8M112.1 854.5h.8M109.5 857.8h.8M210.1 866.4h.8M205.5 861.4h.8M187.4 864.2h.8M129.0 858.0h.8M122.1 858.1h.8M115.3 857.2h.8M89.4 853.4h.8M131.5 857.6h.8M189.5 863.6h.8M153.8 861.6h.8M155.1 862.5h.8M141.8 858.5h.8M175.3 862.6h.8M209.7 866.4h.8M198.2 870.7h.8M128.5 857.2h.8M147.2 858.9h.8M107.1 855.8h.8M121.5 855.4h.8M181.1 863.1h.8M206.1 864.3h.8M148.2 859.8h.8M135.7 860.5h.8M155.8 859.1h.8M190.2 865.6h.8M190.8 865.9h.8M110.3 856.7h.8M144.0 858.0h.8M90.6 852.3h.8M175.3 863.1h.8M210.9 861.8h.8M139.3 859.1h.8M139.4 860.2h.8M188.0 864.6h.8M195.0 865.2h.8M126.3 862.0h.8M201.5 861.2h.8M214.2 866.6h.8M126.0 858.6h.8M173.2 863.2h.8M109.8 855.3h.8M177.1 863.4h.8M170.3 863.5h.8M181.1 862.1h.8M184.9 863.8h.8M130.5 858.0h.8M118.9 855.2h.8M146.3 858.2h.8M137.9 860.3h.8M190.2 864.4h.8M191.3 863.8h.8M95.6 854.2h.8M156.8 857.6h.8M159.2 859.4h.8M149.2 857.5h.8M100.6 855.3h.8M126.3 855.9h.8M206.8 861.7h.8M124.6 856.4h.8M188.2 864.1h.8M193.7 863.2h.8M89.3 852.6h.8M133.9 859.3h.8M164.8 860.9h.8M105.1 854.2h.8M156.3 856.8h.8M120.1 856.7h.8M171.0 860.7h.8M88.5 853.0h.8M199.0 867.2h.8M134.8 860.3h.8M135.1 857.3h.8M197.9 864.5h.8M109.1 856.7h.8M132.9 858.0h.8M136.7 858.0h.8M186.8 863.2h.8M104.3 856.0h.8M184.5 862.7h.8M128.3 859.2h.8M195.2 863.4h.8M131.8 857.2h.8M177.5 866.1h.8M101.0 854.5h.8M99.0 852.9h.8M151.3 858.5h.8M105.3 854.9h.8M159.1 858.7h.8M196.9 860.9h.8M210.9 864.7h.8M106.9 854.9h.8" fill="none" stroke="#3a3a9a" stroke-width="0.95" />
<path d="M256.6 774.8V890.4H430.1" fill="none" stroke="#1a1a1a" stroke-width="1.5" />
<path d="M256.6 890.4V893.8M314.2 890.4V893.8M372.5 890.4V893.8M430.1 890.4V893.8" fill="none" stroke="#1a1a1a" stroke-width="1.1" />
<text x="256.6" y="903.7" font-size="8.4" font-weight="bold" fill="#222" text-anchor="middle" >0</text>
<text x="314.2" y="903.7" font-size="8.4" font-weight="bold" fill="#222" text-anchor="middle" >50</text>
<text x="372.5" y="903.7" font-size="8.4" font-weight="bold" fill="#222" text-anchor="middle" >100</text>
<text x="430.1" y="903.7" font-size="8.4" font-weight="bold" fill="#222" text-anchor="middle" >150</text>
<text x="345" y="919" font-size="10" font-weight="bold" text-anchor="middle" fill="#222"><tspan font-style="italic" font-size="11">r</tspan> (Å<tspan font-size="6" dy="-3.5">-1</tspan><tspan dy="3.5">)</tspan></text>
<text transform="translate(245.6,838.1) rotate(-90)" font-size="10.6" font-weight="bold" text-anchor="middle" fill="#222" textLength="56.5" lengthAdjust="spacingAndGlyphs"><tspan font-style="italic">P(r)</tspan>-relative</text>
<line x1="331.3" y1="745.6" x2="343.4" y2="745.6" stroke="#109050" stroke-width="1.6" />
<text x="345.1" y="749.4" font-size="10.8" font-weight="normal" fill="#222" text-anchor="start" >CM49i-IgG1(Fc)</text>
<line x1="331.3" y1="760.4" x2="343.4" y2="760.4" stroke="#9a1a9a" stroke-width="1.6" />
<text x="345.1" y="764.2" font-size="10.8" font-weight="normal" fill="#222" text-anchor="start" >CM49i</text>
<line x1="331.3" y1="773.8" x2="343.4" y2="773.8" stroke="#3a3a9a" stroke-width="1.6" />
<text x="345.1" y="777.6" font-size="10.8" font-weight="normal" fill="#222" text-anchor="start" >IgG1(Fc)</text>
<path d="M256.6 890.4C257.6 888.4 260.5 885.0 262.7 878.4C264.9 871.8 267.3 861.0 269.6 850.9C271.9 840.8 274.2 826.4 276.5 818.0C278.8 809.6 280.7 805.3 283.3 800.5C285.9 795.7 288.9 792.1 291.9 789.2C294.9 786.3 298.6 783.3 301.2 783.0C303.8 782.7 305.1 784.2 307.3 787.5C309.5 790.8 311.9 796.3 314.2 802.9C316.5 809.5 318.8 819.5 321.1 826.9C323.4 834.3 325.6 841.2 327.9 847.5C330.2 853.8 332.5 859.6 334.8 864.7C337.1 869.9 339.3 875.1 341.6 878.4C343.9 881.7 346.5 883.5 348.5 884.6C350.5 885.7 352.2 885.0 353.6 884.8C355.0 884.6 356.1 883.0 357.1 883.2C358.1 883.4 358.8 884.8 359.5 886.0C360.2 887.2 361.2 889.7 361.5 890.4" fill="none" stroke="#3a3a9a" stroke-width="1.5" />
<path d="M256.6 890.4C258.2 888.4 262.9 883.8 266.2 878.4C269.5 873.0 273.1 864.1 276.5 857.8C279.9 851.5 283.8 845.0 286.7 840.7C289.6 836.4 291.2 834.4 293.6 832.1C296.0 829.8 298.6 827.3 301.2 826.9C303.8 826.5 306.3 827.4 309.0 829.7C311.7 832.0 314.5 836.0 317.6 840.7C320.8 845.4 324.5 852.7 327.9 857.8C331.3 862.9 334.8 867.8 338.2 871.5C341.6 875.2 345.1 878.1 348.5 880.1C351.9 882.1 355.4 882.4 358.8 883.5C362.2 884.6 365.4 885.9 369.1 887.0C372.8 888.1 379.1 889.8 381.1 890.4" fill="none" stroke="#109050" stroke-width="1.5" />
<path d="M256.6 890.4C258.2 889.0 262.9 884.7 266.2 881.8C269.5 878.9 273.4 875.4 276.5 873.2C279.6 871.0 282.7 869.6 285.0 868.8C287.3 867.9 288.2 867.9 290.2 868.1C292.2 868.3 294.1 868.4 297.0 869.8C299.9 871.2 303.9 874.4 307.3 876.7C310.7 879.0 314.2 881.7 317.6 883.5C321.0 885.3 323.9 886.6 327.9 887.6C331.9 888.6 335.9 889.0 341.6 889.4C347.3 889.8 357.1 889.8 362.2 890.0C367.3 890.2 370.8 890.3 372.5 890.4" fill="none" stroke="#9a1a9a" stroke-width="1.5" />
<path d="M490.1 765.2V891.1H680.9" fill="none" stroke="#1a1a1a" stroke-width="1.5" />
<path d="M490.1 891.1V894.5M538.2 891.1V894.5M585.8 891.1V894.5M633.2 891.1V894.5M680.9 891.1V894.5" fill="none" stroke="#1a1a1a" stroke-width="1.1" />
<text x="490.1" y="905.3" font-size="8.4" font-weight="bold" fill="#222" text-anchor="middle" >0</text>
<text x="538.2" y="905.3" font-size="8.4" font-weight="bold" fill="#222" text-anchor="middle" >2</text>
<text x="585.8" y="905.3" font-size="8.4" font-weight="bold" fill="#222" text-anchor="middle" >4</text>
<text x="633.2" y="905.3" font-size="8.4" font-weight="bold" fill="#222" text-anchor="middle" >6</text>
<text x="680.9" y="905.3" font-size="8.4" font-weight="bold" fill="#222" text-anchor="middle" >8</text>
<text x="588" y="925" font-size="10.5" font-weight="bold" font-style="italic" text-anchor="middle" fill="#222">q x Rg</text>
<text transform="translate(480.2,839) rotate(-90)" font-size="9.4" font-weight="bold" font-style="italic" text-anchor="middle" fill="#222" textLength="103" lengthAdjust="spacingAndGlyphs">I(q) / I(0) x (q x Rg<tspan font-size="6" dy="-3.5">2</tspan><tspan dy="3.5">)</tspan></text>
<circle cx="562.2" cy="752.1" r="1.7" fill="#109050"/>
<text x="567.6" y="755.9" font-size="10.8" font-weight="normal" fill="#222" text-anchor="start" >CM49i-IgG1(Fc)</text>
<polygon points="560.4,763.7 564.0,763.7 562.2,767.0" fill="#9a1a9a" />
<text x="567.6" y="769.0" font-size="10.8" font-weight="normal" fill="#222" text-anchor="start" >CM49i</text>
<polygon points="560.4,781.5 564.0,781.5 562.2,778.2" fill="#3a3a9a" />
<text x="567.6" y="783.8" font-size="10.8" font-weight="normal" fill="#222" text-anchor="start" >IgG1(Fc)</text>
<path d="M490.1 891.1L490.8 889.6L491.5 888.1L492.2 886.7L493.0 885.4L493.7 884.0L494.4 882.7L495.1 881.4L495.8 880.0L496.5 878.6L497.3 877.2L498.0 875.7L498.7 874.1L499.4 872.4L500.1 870.7L500.8 868.8L501.5 866.8L502.3 864.7L503.0 862.3L503.7 859.8L504.4 857.2L505.1 854.4L505.8 851.5L506.6 848.5L507.3 845.5L508.0 842.4L508.7 839.4L509.4 836.3L510.1 833.3L510.8 830.4L511.6 827.6L512.3 824.9L513.0 822.3L513.7 819.9L514.4 817.7L515.1 815.7L515.9 814.0L516.6 812.4L517.3 811.1L518.0 809.8L518.7 808.7L519.4 807.7L520.2 806.7L520.9 805.7L521.6 804.8L522.3 803.8L523.0 802.8L523.7 801.9L524.4 801.0L525.2 800.2" fill="none" stroke="#9a1a9a" stroke-width="1.6" />
<polygon points="521.1,803.4 525.1,798.0 529.1,794.5 533.1,794.5 537.1,796.7 541.1,800.1 545.1,803.6 549.1,807.5 553.1,812.0 557.1,817.3 561.1,824.3 565.0,833.0 569.0,841.6 573.0,848.1 577.0,850.1 581.0,849.4 585.0,848.2 589.0,846.2 593.0,844.1 597.0,842.3 601.0,841.3 605.0,841.7 609.0,843.4 613.0,845.7 617.0,848.0 621.0,850.4 625.0,853.2 629.0,855.6 633.0,857.1 637.0,858.4 641.0,859.4 644.9,860.3 648.9,861.1 652.9,861.9 656.9,862.6 660.9,863.3 664.9,863.8 668.9,864.1 672.9,864.4 676.9,864.7 680.9,865.0 680.9,888.1 676.9,887.5 672.9,887.0 668.9,886.5 664.9,885.9 660.9,885.0 656.9,883.9 652.9,882.7 648.9,881.5 644.9,880.2 641.0,878.7 637.0,877.1 633.0,875.2 629.0,873.0 625.0,869.8 621.0,866.2 617.0,862.9 613.0,859.8 609.0,856.7 605.0,854.3 601.0,853.5 597.0,854.3 593.0,855.9 589.0,857.9 585.0,859.8 581.0,861.0 577.0,861.7 573.0,859.7 569.0,853.1 565.0,844.3 561.1,835.3 557.1,828.0 553.1,822.1 549.1,816.9 545.1,812.2 541.1,807.8 537.1,803.5 533.1,800.4 529.1,799.7 525.1,802.5 521.1,807.4" fill="#5a3a9a" opacity="0.3"/>
<path d="M592.5 847.6h.8M517.4 810.1h.8M664.2 856.0h.8M523.1 801.3h.8M632.1 872.7h.8M534.6 796.6h.8M668.4 888.2h.8M639.1 868.6h.8M627.3 870.5h.8M550.9 819.9h.8M649.6 858.9h.8M525.4 795.0h.8M597.3 836.1h.8M534.8 797.8h.8M536.3 806.3h.8M517.7 812.4h.8M605.2 840.0h.8M667.9 869.5h.8M581.9 856.9h.8M544.7 809.2h.8M674.0 855.6h.8M540.9 801.9h.8M680.1 864.8h.8M672.8 844.0h.8M523.4 804.7h.8M643.8 864.3h.8M658.5 879.8h.8M678.6 878.2h.8M519.4 807.2h.8M551.5 819.7h.8M569.8 830.6h.8M520.5 804.6h.8M649.2 834.2h.8M586.3 816.7h.8M582.3 863.8h.8M626.2 826.1h.8M558.9 810.1h.8M672.1 859.9h.8M616.2 861.1h.8M617.0 850.0h.8M574.7 884.4h.8M607.8 837.0h.8M527.1 802.2h.8M579.4 852.6h.8M544.2 808.7h.8M597.7 887.4h.8M603.4 830.9h.8M552.9 809.9h.8M545.3 814.0h.8M544.8 806.0h.8M672.1 814.5h.8M662.6 875.7h.8M602.5 841.5h.8M605.6 846.7h.8M635.6 863.0h.8M591.0 848.9h.8M621.1 842.0h.8M660.9 827.6h.8M636.4 845.1h.8M617.3 862.5h.8M583.3 850.8h.8M546.2 807.7h.8M574.7 831.3h.8M571.3 849.9h.8M517.7 807.7h.8M678.6 876.0h.8M533.8 799.2h.8M548.0 808.0h.8M534.5 792.2h.8M577.6 845.5h.8M593.3 851.0h.8M555.2 820.7h.8M601.6 839.9h.8M520.0 804.7h.8M648.0 857.9h.8M615.9 886.6h.8M561.6 834.4h.8M645.7 846.4h.8M669.5 850.3h.8M531.9 802.0h.8M557.0 828.1h.8M654.1 875.7h.8M550.7 815.1h.8M609.9 837.3h.8M547.0 813.6h.8M605.8 836.2h.8M624.7 847.8h.8M589.9 839.5h.8M641.7 849.3h.8M571.5 848.5h.8M593.8 840.6h.8M600.9 835.8h.8M563.2 836.7h.8M667.9 879.6h.8M543.2 799.1h.8M623.2 845.4h.8M662.5 875.8h.8M575.4 855.8h.8M569.1 850.4h.8M659.2 863.6h.8M517.9 810.2h.8M658.8 870.7h.8M665.8 856.3h.8M628.2 865.6h.8M639.4 871.7h.8M669.2 876.7h.8M644.5 874.8h.8M605.7 845.9h.8M552.0 813.2h.8M655.7 850.7h.8M670.4 828.8h.8M581.9 862.4h.8M620.4 841.9h.8M675.0 863.7h.8M662.6 850.1h.8M669.9 891.1h.8M626.7 825.2h.8M612.0 826.9h.8M563.0 830.4h.8M583.1 850.7h.8M591.1 880.0h.8M610.9 839.6h.8M602.4 853.9h.8M668.1 861.8h.8M674.4 879.0h.8M546.1 806.6h.8M621.0 834.4h.8M558.1 815.6h.8M672.6 886.6h.8M603.3 841.5h.8M656.5 867.4h.8M536.6 799.1h.8M553.4 814.0h.8M577.2 847.7h.8M569.5 833.9h.8M550.9 817.8h.8M519.5 805.8h.8M608.1 854.0h.8M528.8 798.4h.8M526.1 803.1h.8M600.0 838.7h.8M664.0 879.1h.8M601.2 840.9h.8M567.8 845.9h.8M563.7 833.2h.8M533.4 801.5h.8M651.4 870.3h.8M590.7 817.6h.8M583.4 850.6h.8M647.8 867.9h.8M586.0 841.6h.8M671.8 868.9h.8M673.8 868.6h.8M517.6 810.6h.8M611.3 843.3h.8M561.4 822.5h.8M547.0 805.4h.8M540.0 806.3h.8M662.7 864.9h.8M594.5 837.1h.8M622.4 859.6h.8M592.6 836.0h.8M620.8 856.8h.8M644.4 864.3h.8M528.5 801.0h.8M541.0 803.0h.8M631.1 883.1h.8M518.4 810.3h.8M631.9 838.0h.8M642.2 890.6h.8M660.0 881.8h.8M642.8 865.3h.8M643.5 848.6h.8M568.8 831.6h.8M661.4 877.7h.8M674.4 853.3h.8M647.1 859.2h.8M590.6 853.5h.8M590.7 841.7h.8M661.6 867.0h.8M529.5 796.1h.8M595.6 856.8h.8M525.1 800.4h.8M666.0 832.5h.8M650.5 836.5h.8M676.6 858.7h.8M597.5 849.6h.8M560.7 830.5h.8M630.9 861.1h.8M546.6 794.7h.8M614.8 842.6h.8M649.4 856.3h.8M606.2 841.9h.8M649.4 871.9h.8M669.4 865.7h.8M592.7 843.6h.8M552.6 827.7h.8M619.4 846.1h.8M612.2 845.5h.8M560.3 826.4h.8M651.2 822.3h.8M628.5 885.6h.8M665.6 856.3h.8M613.1 838.8h.8M584.7 854.3h.8M559.2 817.5h.8M662.9 885.4h.8M516.6 813.6h.8M660.3 869.2h.8M671.7 885.7h.8M543.3 806.6h.8M529.9 796.4h.8M582.1 847.6h.8M633.7 835.0h.8M547.6 808.1h.8M588.1 856.1h.8M550.9 811.4h.8M551.8 817.7h.8M653.0 861.2h.8M575.3 847.9h.8M606.7 888.0h.8M630.7 843.9h.8M642.3 872.5h.8M609.7 846.4h.8M586.6 876.2h.8M539.8 806.3h.8M629.6 867.9h.8M590.0 847.6h.8M548.7 806.2h.8M550.5 814.0h.8M593.8 854.1h.8M618.8 845.2h.8M538.6 800.8h.8M653.1 869.8h.8M584.3 841.7h.8M652.9 877.3h.8M568.1 844.0h.8M524.2 800.5h.8M613.6 831.2h.8M584.6 847.9h.8M660.4 834.9h.8M589.1 887.4h.8M559.8 826.9h.8M581.7 883.0h.8M525.5 802.0h.8M601.3 838.3h.8M519.5 808.8h.8M640.1 862.6h.8M575.1 865.4h.8M672.6 877.4h.8M572.5 881.7h.8M579.1 856.0h.8M580.4 859.4h.8M627.8 865.0h.8M673.9 879.1h.8M654.5 859.1h.8M535.2 799.5h.8M592.6 838.4h.8M580.1 861.1h.8M606.1 886.5h.8M640.1 883.3h.8M618.9 858.3h.8M670.3 877.5h.8M666.0 884.3h.8M543.9 805.0h.8M656.4 863.7h.8M598.7 842.0h.8M581.0 864.7h.8M566.9 841.2h.8M644.7 862.9h.8M647.9 864.3h.8M658.6 867.6h.8M623.8 878.1h.8M552.4 816.5h.8M521.4 803.8h.8M575.9 862.2h.8M533.4 795.9h.8M608.9 849.0h.8M605.6 843.5h.8M598.7 844.8h.8M533.9 798.2h.8M524.9 801.5h.8M543.0 806.4h.8M552.1 817.6h.8M637.9 868.7h.8M516.7 814.4h.8M555.3 829.6h.8M550.2 810.8h.8M569.8 890.0h.8M654.6 862.8h.8M634.1 861.1h.8M519.2 804.6h.8M665.8 869.1h.8M640.6 840.4h.8M618.9 846.7h.8M528.6 792.3h.8M613.2 838.3h.8M571.1 850.7h.8M670.6 814.0h.8M570.9 862.0h.8M546.8 807.4h.8M597.9 851.2h.8M612.2 839.9h.8M519.7 804.5h.8M532.5 795.4h.8M616.6 874.4h.8M661.7 869.2h.8M522.1 807.9h.8M674.2 816.9h.8M633.2 837.1h.8M627.6 869.9h.8M628.6 853.9h.8M675.7 885.0h.8M640.9 878.0h.8M598.5 847.0h.8M636.0 860.7h.8M527.3 799.2h.8M541.4 810.3h.8M636.2 860.5h.8M604.1 816.0h.8M545.0 802.9h.8M610.9 835.2h.8M549.8 805.1h.8M649.3 865.3h.8M590.8 832.8h.8M675.8 865.5h.8M654.1 872.4h.8M517.7 807.7h.8M678.7 847.7h.8M556.5 814.9h.8M661.5 872.9h.8M573.4 856.9h.8M598.9 837.1h.8M679.4 883.6h.8M606.4 853.1h.8M561.0 830.8h.8M585.6 840.2h.8M668.0 870.4h.8M522.0 806.8h.8M574.5 859.3h.8M531.6 800.6h.8M655.4 864.1h.8M640.4 863.4h.8M554.9 826.4h.8M659.0 847.4h.8M612.4 849.7h.8M677.9 873.4h.8M614.3 851.2h.8M583.2 860.5h.8M661.4 881.1h.8M627.2 854.2h.8M630.0 861.3h.8M522.7 804.7h.8M599.4 842.3h.8M669.7 884.8h.8M520.5 808.9h.8M535.8 801.5h.8M571.8 873.6h.8M669.9 887.8h.8M592.3 842.2h.8M665.4 884.4h.8M561.8 839.5h.8M604.2 837.5h.8M577.7 858.7h.8M667.5 886.9h.8M621.7 858.7h.8M630.8 855.2h.8M606.8 852.8h.8M624.1 847.7h.8M540.2 800.6h.8M566.3 850.6h.8M609.9 872.7h.8M585.4 862.3h.8M600.1 853.0h.8M651.6 855.3h.8M620.1 865.2h.8M610.4 853.7h.8M566.1 833.8h.8M533.1 795.6h.8M587.8 845.4h.8M665.4 867.9h.8M593.3 840.3h.8M610.2 878.6h.8M562.7 831.6h.8M636.3 859.8h.8M554.1 818.1h.8M650.2 838.8h.8M555.8 830.4h.8M537.7 806.4h.8M677.9 876.5h.8M586.1 860.6h.8M643.8 828.2h.8M663.6 873.2h.8M541.7 806.3h.8M557.5 817.1h.8M658.3 881.9h.8M577.8 863.4h.8M581.9 852.1h.8M537.9 809.0h.8M622.0 814.1h.8M575.6 859.1h.8M646.4 869.9h.8M579.9 855.8h.8M557.3 815.2h.8M525.4 796.2h.8M648.4 855.8h.8M589.9 847.7h.8M653.0 854.1h.8M582.6 856.5h.8M675.9 850.6h.8M647.1 859.6h.8M551.6 820.7h.8M555.0 818.7h.8M577.1 867.2h.8M519.1 806.3h.8M572.4 858.9h.8M594.5 845.9h.8M640.6 855.9h.8M589.6 858.0h.8M630.1 832.3h.8M587.7 848.9h.8M636.0 843.7h.8M560.7 827.1h.8M557.1 822.6h.8M570.5 848.5h.8M665.0 822.2h.8M627.8 860.1h.8M604.9 858.4h.8M678.6 870.3h.8M646.9 856.8h.8M525.1 803.5h.8M610.7 845.9h.8M644.8 836.6h.8M588.7 854.9h.8M605.4 842.2h.8M539.6 804.9h.8M655.4 853.3h.8M568.3 844.1h.8M671.3 863.1h.8M671.7 831.1h.8M529.0 796.7h.8M554.0 810.5h.8M533.7 793.9h.8M576.3 844.6h.8M626.2 857.7h.8M577.7 884.0h.8M630.6 863.0h.8M662.2 842.7h.8M644.5 865.6h.8M530.3 799.2h.8M611.7 841.2h.8M670.5 877.4h.8M551.7 821.6h.8M597.4 829.5h.8M545.4 812.2h.8M652.3 870.8h.8M662.3 847.3h.8M599.1 842.2h.8M602.4 824.1h.8M567.2 850.2h.8M600.1 844.1h.8M626.0 859.7h.8M646.1 878.5h.8M574.8 856.0h.8M669.8 820.3h.8M521.5 806.1h.8M648.8 861.4h.8M596.4 846.6h.8M560.7 834.0h.8M675.5 854.5h.8M661.9 878.3h.8M538.7 807.2h.8M620.3 845.8h.8M560.0 830.9h.8M664.3 872.5h.8M589.3 854.0h.8M650.8 869.5h.8M579.8 865.0h.8M628.1 854.0h.8M564.4 840.3h.8M549.8 809.3h.8M544.3 811.0h.8M609.4 837.9h.8M527.8 798.8h.8M643.5 851.7h.8M574.6 862.4h.8M613.3 855.1h.8M581.3 854.1h.8M650.3 856.8h.8M625.6 863.4h.8M579.1 858.0h.8M560.9 836.2h.8M568.8 822.7h.8M646.0 875.9h.8M594.9 852.7h.8M662.6 822.4h.8M648.7 859.2h.8M655.9 874.9h.8M584.3 878.2h.8M567.3 841.3h.8M614.9 848.3h.8M554.0 825.4h.8M543.6 808.8h.8M640.2 878.8h.8M570.1 845.9h.8M519.8 802.7h.8M624.4 848.8h.8M545.5 810.7h.8M633.4 850.4h.8M554.5 822.2h.8M676.0 884.1h.8M585.5 856.2h.8M630.9 850.1h.8M677.3 887.8h.8M537.0 799.4h.8M676.4 845.2h.8M598.4 850.4h.8M644.3 862.1h.8M651.3 881.6h.8M630.3 842.7h.8M630.9 874.8h.8M518.3 808.5h.8M569.4 846.2h.8M522.3 803.5h.8M525.9 798.0h.8M632.6 851.5h.8M600.0 843.8h.8M595.9 851.2h.8M599.5 843.4h.8M622.4 858.8h.8M521.3 803.6h.8M676.8 886.9h.8M618.7 866.2h.8M608.2 819.8h.8M525.1 804.7h.8M563.0 832.2h.8M530.6 805.7h.8M636.0 862.4h.8M585.1 846.6h.8M574.7 866.7h.8M662.6 882.2h.8M522.4 803.1h.8M666.6 859.2h.8M636.6 862.7h.8M525.4 796.7h.8M659.9 850.0h.8M566.4 847.1h.8M558.8 822.2h.8M557.3 828.2h.8M525.7 796.6h.8M668.8 849.0h.8M546.2 812.0h.8M574.8 857.6h.8M633.1 851.6h.8M568.5 847.4h.8M649.3 873.9h.8M612.4 842.6h.8M618.1 864.6h.8M567.6 835.4h.8M566.4 848.5h.8M536.0 799.1h.8M625.5 830.1h.8M638.2 862.8h.8M673.9 832.0h.8M563.4 833.6h.8M545.3 815.9h.8M627.8 862.9h.8M579.4 847.1h.8M659.6 864.9h.8M633.1 859.1h.8M595.4 831.3h.8M575.5 850.6h.8M620.7 863.4h.8M663.6 875.1h.8M521.9 800.0h.8M675.5 850.0h.8M517.2 812.5h.8M574.5 890.3h.8M524.9 798.0h.8M532.9 798.3h.8M644.3 858.3h.8M638.0 867.7h.8M537.1 800.0h.8M617.0 844.5h.8M597.0 841.3h.8M602.2 856.1h.8M628.2 846.8h.8M610.0 851.1h.8M652.7 847.4h.8M622.5 840.6h.8M526.8 801.3h.8M602.1 849.5h.8M587.9 859.8h.8M620.8 855.7h.8M625.8 857.8h.8M640.9 878.4h.8M600.1 835.9h.8M654.4 864.2h.8M629.3 854.8h.8M522.0 806.7h.8M644.0 858.7h.8M554.7 813.1h.8M556.8 823.0h.8M523.7 803.8h.8M652.2 831.6h.8M604.0 822.6h.8M566.3 835.7h.8M543.1 799.1h.8M614.1 818.5h.8M567.4 853.6h.8M632.0 871.3h.8M630.0 865.8h.8M581.1 865.5h.8M531.4 795.5h.8M524.5 803.1h.8M626.3 864.8h.8M551.4 817.0h.8M661.1 873.2h.8M671.5 835.7h.8M659.6 858.1h.8M653.1 866.0h.8M660.4 879.5h.8M566.7 849.6h.8M523.1 802.1h.8M601.8 837.2h.8M677.5 866.8h.8M674.8 871.9h.8M672.1 847.1h.8M672.9 869.0h.8M662.0 885.6h.8M543.7 804.6h.8M557.3 827.5h.8M674.9 884.3h.8M517.3 809.0h.8M547.6 810.1h.8M520.7 806.9h.8M626.3 856.5h.8M516.5 815.2h.8M554.4 819.9h.8M580.1 855.5h.8M522.5 802.8h.8M613.6 849.5h.8M552.6 821.6h.8M630.8 879.4h.8M620.4 836.2h.8M532.1 792.5h.8M606.7 837.6h.8M562.7 828.1h.8M566.9 836.4h.8M583.4 851.6h.8M665.5 889.4h.8M576.5 856.9h.8M530.8 796.6h.8M527.8 795.6h.8M609.7 842.5h.8M626.0 865.7h.8M587.0 868.6h.8M583.5 847.5h.8M527.9 798.2h.8M649.2 857.8h.8M656.1 844.1h.8M542.8 809.8h.8M585.4 854.3h.8M679.4 861.3h.8M545.1 809.9h.8M636.6 855.9h.8M604.5 839.3h.8M646.3 856.0h.8M634.1 850.2h.8M520.8 806.9h.8M656.6 845.8h.8M532.4 802.4h.8M613.3 861.6h.8M662.9 879.3h.8M638.6 866.3h.8M645.4 856.9h.8M665.2 868.7h.8M571.7 860.4h.8M640.4 873.7h.8M576.8 861.8h.8M675.5 859.7h.8M632.9 820.7h.8M614.6 841.2h.8M680.8 836.6h.8M650.8 878.0h.8M604.3 846.4h.8M616.1 837.9h.8M573.8 846.2h.8M546.9 812.7h.8M576.7 855.7h.8M632.6 855.2h.8M577.8 848.6h.8M672.4 886.9h.8M666.1 861.3h.8M572.9 843.9h.8M607.4 845.0h.8M619.3 849.9h.8M673.5 831.7h.8M612.0 853.1h.8M561.1 834.7h.8M547.6 808.4h.8M525.9 799.2h.8M646.9 861.4h.8M527.4 794.1h.8M606.6 856.9h.8M642.4 889.4h.8M568.6 844.2h.8M534.3 795.9h.8M548.9 812.1h.8M615.5 852.4h.8M609.2 854.6h.8M545.1 807.5h.8M577.6 854.0h.8M604.8 821.7h.8M537.1 798.7h.8M643.0 856.9h.8M584.1 843.7h.8M634.3 861.0h.8M591.3 847.1h.8M605.6 845.3h.8M570.4 847.0h.8M634.9 862.7h.8M528.4 800.1h.8M535.4 790.4h.8M679.0 848.4h.8M540.7 795.5h.8M614.1 844.1h.8M551.4 811.9h.8M669.1 866.3h.8M575.3 856.8h.8M519.9 808.2h.8M624.6 856.8h.8M616.8 843.3h.8M587.9 834.6h.8M558.6 826.3h.8M610.5 844.2h.8M660.8 858.5h.8M669.3 868.4h.8M519.0 808.9h.8M602.0 836.5h.8M644.3 863.1h.8M588.9 856.6h.8M517.4 813.2h.8M661.2 876.2h.8M522.1 802.5h.8M591.9 848.1h.8M565.8 839.1h.8M567.7 839.2h.8M657.9 866.6h.8M647.0 878.9h.8M613.5 857.3h.8M663.7 849.8h.8M624.4 844.0h.8M584.5 853.2h.8M642.3 869.6h.8M600.3 836.1h.8M610.2 837.0h.8M551.5 814.0h.8M605.9 852.4h.8M536.7 805.4h.8M603.7 836.2h.8M572.3 856.4h.8M519.8 808.3h.8M590.1 846.9h.8M678.9 888.5h.8M639.8 864.7h.8M623.3 872.9h.8M607.5 879.1h.8M577.6 843.1h.8M615.7 850.2h.8M536.7 795.1h.8M523.5 800.5h.8M582.8 890.0h.8M597.5 855.8h.8M660.1 871.7h.8M538.7 799.6h.8M651.4 860.8h.8M648.0 842.3h.8M535.4 790.1h.8M678.6 867.2h.8M569.5 849.3h.8M666.9 888.4h.8M567.4 851.6h.8M579.5 847.7h.8M517.0 811.4h.8M661.5 868.4h.8M671.9 852.1h.8M669.9 845.4h.8M523.6 804.5h.8M546.8 810.3h.8M633.6 858.3h.8M579.7 854.5h.8M576.7 857.3h.8M680.0 873.0h.8M670.0 858.4h.8M521.7 805.5h.8M659.3 838.3h.8M531.2 797.3h.8M628.3 869.5h.8M607.0 850.4h.8M662.0 863.6h.8M519.0 806.6h.8M568.6 841.3h.8M654.5 845.5h.8M521.1 802.0h.8M524.8 797.3h.8M664.0 851.4h.8M548.6 805.2h.8M638.8 890.7h.8M599.5 846.9h.8M534.1 797.8h.8M523.9 799.1h.8M635.5 862.9h.8M576.2 858.5h.8M546.1 811.6h.8M578.1 858.7h.8M641.9 860.7h.8M655.1 872.3h.8M663.5 853.8h.8M600.6 830.7h.8M610.3 839.7h.8M643.4 823.0h.8M639.8 857.2h.8M628.0 845.7h.8M624.3 859.4h.8M625.7 852.1h.8M646.5 870.1h.8M542.9 815.9h.8M541.8 804.4h.8M620.3 866.0h.8M563.4 833.7h.8M557.2 827.2h.8M579.1 858.5h.8M674.6 851.0h.8M559.5 820.4h.8M557.7 831.4h.8M531.4 803.2h.8M605.0 852.9h.8M627.9 861.8h.8M668.5 830.9h.8M529.3 798.1h.8M568.2 845.1h.8M669.8 881.8h.8M526.4 797.9h.8M635.4 863.7h.8M542.3 805.1h.8M590.5 868.5h.8M577.5 831.4h.8M557.0 824.5h.8M560.3 828.0h.8M662.3 874.5h.8M621.6 848.0h.8M527.4 796.1h.8M517.7 807.5h.8M522.5 806.2h.8M620.7 881.9h.8M634.0 819.0h.8M613.3 856.2h.8M650.3 824.3h.8M525.0 796.9h.8M521.7 808.5h.8M552.4 807.8h.8M615.7 856.1h.8M569.8 846.1h.8M553.8 818.0h.8M668.1 850.2h.8M585.3 869.9h.8M599.5 829.7h.8M559.2 827.2h.8M545.7 813.0h.8M652.3 884.7h.8M566.0 835.2h.8M648.7 863.2h.8M654.5 870.9h.8M583.4 851.6h.8M572.3 855.2h.8M615.4 875.7h.8M578.3 864.4h.8M553.9 822.3h.8M640.9 843.5h.8M577.8 827.2h.8M669.1 834.9h.8M554.6 816.8h.8M570.3 842.5h.8M647.9 851.0h.8M653.1 873.5h.8M659.2 870.7h.8M680.4 874.6h.8M528.7 793.5h.8M648.4 856.4h.8M524.5 801.6h.8M607.6 854.0h.8M523.9 802.3h.8M675.1 851.7h.8M564.0 832.8h.8M526.8 794.0h.8M646.0 859.5h.8M565.5 833.6h.8M641.6 861.4h.8M622.4 856.9h.8M584.1 854.3h.8M533.6 801.5h.8M613.1 841.4h.8M644.5 873.7h.8M597.2 827.3h.8M618.3 864.2h.8M537.4 800.7h.8M617.1 835.1h.8M664.2 855.1h.8M560.1 829.6h.8M534.8 806.5h.8M540.2 798.2h.8M610.0 843.0h.8M635.5 819.7h.8M654.1 839.2h.8M554.2 817.3h.8M627.0 856.7h.8M680.3 856.8h.8M566.8 837.8h.8M523.4 803.2h.8M570.3 864.0h.8M555.4 809.2h.8M602.0 836.0h.8M516.6 811.7h.8M641.3 857.0h.8M535.4 797.2h.8M627.6 879.2h.8M525.0 794.5h.8M544.6 806.5h.8M661.4 879.7h.8M547.6 807.0h.8M521.6 804.8h.8M526.9 798.6h.8M606.6 843.3h.8M603.2 842.2h.8M621.7 846.5h.8M605.8 831.0h.8M667.0 858.2h.8M640.6 851.6h.8M557.3 822.7h.8M677.1 883.9h.8M572.4 853.3h.8M610.4 841.8h.8M616.9 837.0h.8M571.0 846.7h.8M619.7 870.5h.8M659.5 857.5h.8M632.7 866.5h.8M551.3 818.4h.8M548.6 810.0h.8M543.4 813.3h.8M622.5 853.6h.8M634.4 844.8h.8M566.4 846.4h.8M563.9 829.4h.8M599.3 838.7h.8M627.0 851.7h.8M646.2 854.6h.8M666.8 874.5h.8M653.4 831.4h.8M564.3 840.3h.8M675.7 891.1h.8M669.1 878.8h.8M630.4 849.9h.8M516.9 812.9h.8M622.0 860.3h.8M634.6 875.0h.8M583.9 846.7h.8M631.8 861.6h.8M662.9 876.8h.8M663.9 849.9h.8M571.6 847.2h.8M660.2 874.6h.8M537.5 804.9h.8M556.6 815.6h.8M644.5 862.7h.8M534.4 803.1h.8M552.1 815.9h.8M535.6 804.8h.8M564.4 827.9h.8M537.0 799.6h.8M569.2 847.3h.8M590.7 887.0h.8M558.7 820.3h.8M564.4 831.2h.8M548.8 814.3h.8M550.3 811.3h.8M656.0 861.4h.8M589.0 845.9h.8M554.1 815.9h.8M612.3 847.8h.8M639.5 840.2h.8M562.4 839.0h.8M666.9 890.9h.8M535.5 801.1h.8M602.1 845.1h.8M566.1 833.4h.8M581.3 850.6h.8M621.5 827.6h.8M638.3 821.6h.8" fill="none" stroke="#109050" stroke-width="0.9" />
<path d="M555.8 815.8h.8M535.3 797.6h.8M584.9 860.3h.8M611.2 854.8h.8M559.1 826.7h.8M645.9 862.7h.8M649.2 867.6h.8M541.6 808.7h.8M583.0 852.9h.8M567.5 843.6h.8M634.5 856.5h.8M517.6 810.8h.8M536.6 807.7h.8M580.8 853.6h.8M610.5 858.4h.8M540.7 803.1h.8M629.1 863.1h.8M530.4 795.9h.8M636.0 845.3h.8M629.3 854.3h.8M601.5 838.1h.8M627.0 861.2h.8M603.4 805.8h.8M629.5 858.4h.8M602.1 840.2h.8M522.9 801.2h.8M593.5 846.9h.8M638.3 852.2h.8M671.5 856.9h.8M576.2 847.8h.8M633.6 887.5h.8M631.2 875.8h.8M561.3 824.7h.8M597.9 854.5h.8M640.4 872.0h.8M571.6 841.3h.8M556.9 822.0h.8M624.8 867.6h.8M635.4 865.9h.8M671.4 809.1h.8M633.8 855.1h.8M535.8 803.1h.8M662.8 881.8h.8M522.5 804.3h.8M619.3 803.9h.8M517.3 808.8h.8M620.8 871.2h.8M672.4 846.8h.8M537.6 808.5h.8M548.2 808.4h.8M585.6 848.6h.8M539.2 805.4h.8M658.1 854.0h.8M598.0 849.8h.8M676.8 846.1h.8M554.5 816.6h.8M620.2 851.9h.8M660.4 876.1h.8M584.0 856.7h.8M585.3 865.7h.8M573.3 858.4h.8M550.6 817.8h.8M610.7 852.8h.8M615.4 862.1h.8M635.0 877.2h.8M649.9 858.0h.8M548.4 817.0h.8M553.8 813.8h.8M536.4 799.4h.8M638.9 858.9h.8M660.8 815.5h.8M648.4 855.7h.8M569.7 855.5h.8M679.3 880.8h.8M561.8 830.2h.8M598.2 883.2h.8M523.2 797.4h.8M522.9 800.4h.8M522.2 803.3h.8M574.8 865.6h.8M590.4 850.4h.8M658.6 875.5h.8M676.9 863.8h.8M567.9 840.6h.8M647.8 840.1h.8M626.2 864.4h.8M545.8 808.2h.8M601.8 847.0h.8M524.3 806.1h.8M623.0 851.4h.8M664.3 864.7h.8M614.0 852.2h.8M638.5 869.0h.8M651.4 885.4h.8M665.6 860.8h.8M662.0 876.5h.8M551.8 803.4h.8M662.7 883.5h.8M671.9 786.2h.8M604.9 883.9h.8M581.4 836.0h.8M551.7 813.6h.8M567.8 840.7h.8M575.7 848.0h.8M624.4 801.3h.8M558.3 826.0h.8M662.7 880.5h.8M615.8 867.8h.8M642.7 882.2h.8M528.9 799.0h.8M552.2 817.1h.8M553.2 814.6h.8M608.3 829.1h.8M673.3 875.5h.8M552.9 812.7h.8M617.1 849.6h.8M680.5 876.3h.8M656.5 888.4h.8M658.5 882.7h.8M644.4 889.4h.8M544.6 805.0h.8M608.2 844.4h.8M576.4 859.8h.8M585.2 814.0h.8M575.8 849.2h.8M544.6 812.1h.8M611.7 875.3h.8M624.9 872.8h.8M571.9 858.1h.8M591.6 844.2h.8M668.2 870.4h.8M584.6 848.9h.8M545.5 813.1h.8M669.7 865.2h.8M523.4 805.2h.8M613.6 844.0h.8M677.8 862.5h.8M632.8 855.5h.8M623.8 870.1h.8M568.6 844.2h.8M668.9 891.1h.8M638.7 843.8h.8M651.1 874.7h.8M665.9 884.2h.8M534.4 800.5h.8M596.9 854.1h.8M600.1 852.5h.8M543.5 804.7h.8M615.4 859.5h.8M592.4 842.5h.8M576.6 846.5h.8M637.7 865.3h.8M596.9 844.6h.8M549.3 813.5h.8M660.4 856.0h.8M630.9 805.9h.8M572.6 864.2h.8M658.5 880.9h.8M629.5 832.9h.8M611.5 859.1h.8M599.1 848.3h.8M638.8 812.8h.8M527.7 796.8h.8M540.2 802.2h.8M616.8 854.7h.8M662.2 870.6h.8M662.5 880.6h.8M564.3 838.8h.8M629.3 856.2h.8M623.5 878.9h.8M543.4 805.6h.8M519.0 805.4h.8M556.7 828.8h.8M584.2 846.4h.8M526.1 796.1h.8M628.4 875.0h.8M628.5 861.5h.8M675.6 878.6h.8M647.0 870.7h.8M680.0 831.0h.8M575.2 817.7h.8M534.2 801.6h.8M640.8 865.2h.8M633.9 875.3h.8M642.0 801.0h.8M631.4 867.8h.8M650.8 827.2h.8M656.8 872.5h.8M534.5 790.7h.8M561.4 829.0h.8M673.7 880.0h.8M667.2 852.2h.8M578.6 854.6h.8M679.3 782.4h.8M579.1 819.2h.8M517.3 810.3h.8M678.8 829.7h.8M564.3 844.2h.8M608.0 792.7h.8M519.7 804.1h.8M518.1 808.8h.8M658.1 865.0h.8M573.6 847.9h.8M672.2 869.0h.8M617.9 815.5h.8M572.9 859.3h.8M540.4 797.7h.8M522.5 804.5h.8M520.2 808.3h.8M571.6 870.8h.8M531.5 797.8h.8M520.9 810.0h.8M542.6 800.4h.8M578.6 843.3h.8M560.1 827.1h.8M667.7 871.8h.8M560.4 831.2h.8M549.3 810.2h.8M639.8 882.9h.8M539.4 795.7h.8M610.0 857.2h.8M650.5 835.4h.8M540.8 801.1h.8M659.7 786.3h.8M568.9 837.6h.8M557.0 825.5h.8M602.6 855.4h.8M664.2 870.2h.8M606.6 837.1h.8M586.1 844.6h.8M631.9 860.4h.8M674.9 869.6h.8M604.9 845.8h.8M526.4 799.7h.8M667.0 784.0h.8M656.2 780.5h.8M634.3 887.3h.8M520.1 805.3h.8M633.5 827.0h.8M673.8 890.2h.8M533.4 793.9h.8M629.2 840.8h.8M622.5 837.1h.8M558.1 819.8h.8M642.6 856.9h.8M659.9 878.9h.8M545.2 807.6h.8M580.9 825.4h.8M580.9 856.7h.8M570.2 863.3h.8M521.7 807.6h.8M566.7 846.6h.8M570.7 854.6h.8M589.1 848.6h.8M646.4 882.8h.8M664.0 880.8h.8M590.8 848.7h.8M530.2 799.8h.8M557.7 814.5h.8M631.8 879.8h.8M571.9 816.3h.8M595.8 847.4h.8M631.3 874.8h.8M570.9 845.3h.8M666.3 862.2h.8M520.3 807.3h.8M570.3 842.9h.8M659.5 866.9h.8M624.9 843.4h.8M621.0 838.7h.8M564.3 833.6h.8M654.5 851.1h.8M632.2 786.3h.8M624.6 883.2h.8M629.1 842.0h.8M644.9 878.3h.8M660.8 828.2h.8M563.8 828.2h.8M569.6 844.2h.8M642.4 862.0h.8M586.6 804.8h.8M577.2 848.1h.8M598.0 852.2h.8M605.0 784.0h.8M628.3 871.8h.8M663.9 855.6h.8M602.5 849.6h.8M631.5 856.7h.8M661.3 793.6h.8M603.7 862.3h.8M625.9 864.4h.8M589.1 843.6h.8M678.6 807.9h.8M518.0 813.9h.8M677.8 883.5h.8M614.6 861.0h.8M668.5 839.5h.8M679.4 881.2h.8M640.8 860.2h.8M677.7 869.5h.8M616.8 856.5h.8M522.9 805.4h.8M593.9 857.0h.8M554.3 814.7h.8M534.0 792.7h.8M527.4 797.4h.8M670.3 889.7h.8M539.2 802.2h.8M609.7 786.5h.8M664.1 872.9h.8M602.6 820.5h.8M603.6 847.1h.8M680.7 865.6h.8M616.9 855.9h.8M535.6 800.8h.8M645.5 865.5h.8M670.7 876.7h.8M620.1 835.1h.8M542.8 807.3h.8M607.8 845.8h.8M554.5 821.8h.8M666.0 845.6h.8M567.2 837.9h.8M624.5 869.8h.8M673.2 891.1h.8M666.5 870.0h.8M616.6 853.5h.8M606.5 847.0h.8M624.5 858.7h.8M677.3 804.2h.8M642.5 877.4h.8M531.6 793.7h.8M615.9 799.1h.8M678.2 865.5h.8M597.1 841.8h.8M605.5 845.8h.8M642.6 881.0h.8M591.1 851.2h.8M548.0 808.4h.8M629.4 865.4h.8M541.3 799.7h.8M520.6 806.5h.8M670.4 891.1h.8M526.1 797.6h.8M620.9 859.6h.8M533.2 797.4h.8M628.9 869.8h.8M534.8 798.8h.8M578.9 791.4h.8M659.0 878.2h.8M586.1 813.4h.8M621.5 780.6h.8M644.7 891.1h.8M541.6 802.4h.8M664.5 791.4h.8M637.9 862.3h.8M626.3 848.9h.8M646.9 863.0h.8M669.3 867.5h.8M526.6 804.4h.8M608.7 854.8h.8M625.2 869.4h.8M549.6 810.2h.8M531.6 799.8h.8M647.0 876.2h.8M615.9 890.8h.8M540.6 804.2h.8M635.0 873.3h.8M581.9 857.4h.8M654.0 827.7h.8M566.5 842.7h.8M654.2 873.7h.8M538.3 808.8h.8M644.2 847.2h.8M672.7 858.0h.8M679.3 872.0h.8M549.1 815.6h.8M555.5 823.0h.8M544.5 808.3h.8M575.7 852.4h.8M543.3 802.0h.8M595.3 834.6h.8M529.9 803.5h.8M662.5 856.4h.8M604.5 847.7h.8M531.4 799.1h.8M613.0 849.1h.8M535.5 801.1h.8M544.8 802.1h.8M539.3 795.0h.8M550.6 816.7h.8M614.6 875.9h.8M670.5 874.5h.8M579.0 852.2h.8M659.0 867.9h.8M658.7 857.7h.8M535.1 798.9h.8M608.0 856.8h.8M624.8 785.1h.8M660.3 865.2h.8M638.6 863.5h.8M657.4 881.8h.8M596.4 868.3h.8M633.8 891.1h.8M678.4 820.9h.8M623.0 855.3h.8M640.1 861.8h.8M666.4 791.8h.8M554.7 815.9h.8M525.8 795.8h.8M653.9 869.4h.8M608.6 862.4h.8M520.5 802.5h.8M597.0 853.2h.8M610.9 857.7h.8M606.3 852.2h.8M571.4 861.0h.8M526.9 799.9h.8M522.1 802.6h.8M542.7 808.5h.8M652.6 806.4h.8M621.2 804.0h.8M650.0 877.2h.8M517.0 811.2h.8M599.3 819.4h.8M613.2 851.7h.8M593.3 812.1h.8M578.6 823.7h.8M609.1 845.9h.8M640.6 872.7h.8M573.5 859.5h.8M606.5 845.6h.8M599.6 849.1h.8M534.6 794.6h.8M648.1 891.0h.8M537.7 799.9h.8M602.8 819.9h.8M660.5 877.0h.8M522.2 807.7h.8M568.0 846.3h.8M624.6 859.8h.8M680.9 887.0h.8M616.0 856.4h.8M665.8 853.0h.8M535.6 802.3h.8M676.0 874.2h.8M635.3 840.4h.8M582.1 864.3h.8M559.8 834.2h.8M616.9 875.7h.8M670.0 883.3h.8M675.6 871.5h.8M557.8 821.2h.8M623.9 852.8h.8M665.2 872.2h.8M662.8 891.1h.8M637.2 857.8h.8M641.7 880.5h.8M630.0 845.1h.8M662.9 868.9h.8M596.6 844.4h.8M641.6 885.3h.8M537.0 797.0h.8M672.1 869.8h.8M632.5 877.3h.8M559.5 823.5h.8M663.9 822.2h.8M657.8 885.7h.8M599.5 850.4h.8M528.4 796.6h.8M547.9 807.9h.8M585.6 847.6h.8M605.5 850.7h.8M636.3 810.4h.8M662.3 860.1h.8M676.5 891.1h.8M675.8 852.0h.8M667.4 786.6h.8M539.3 806.6h.8M551.4 806.6h.8M548.2 808.2h.8M534.2 795.4h.8M651.4 808.5h.8M578.2 805.9h.8M522.0 809.1h.8M608.3 845.8h.8M529.5 796.9h.8M586.0 871.9h.8M669.2 864.9h.8M542.4 807.3h.8M631.3 853.9h.8M589.2 849.3h.8M560.0 824.3h.8M660.6 887.1h.8M565.5 850.7h.8M660.8 882.0h.8M527.8 796.5h.8M643.3 884.4h.8M573.7 860.7h.8M678.5 891.1h.8M678.6 833.1h.8M577.1 861.5h.8M546.1 805.6h.8M595.7 846.4h.8M572.8 856.6h.8M621.0 853.2h.8M636.0 879.4h.8M518.4 810.2h.8M650.8 866.5h.8M648.3 869.5h.8M613.5 852.2h.8M630.8 871.0h.8M659.7 887.0h.8M579.2 851.5h.8M614.4 871.5h.8M551.3 817.1h.8M575.4 865.2h.8M651.0 878.3h.8M545.9 815.0h.8M668.6 858.7h.8M561.8 835.8h.8M572.2 843.2h.8M559.6 825.2h.8M564.0 837.6h.8M573.6 862.9h.8M675.6 891.1h.8M541.6 809.3h.8M633.3 848.0h.8M576.5 860.5h.8M645.0 787.7h.8M524.2 797.4h.8M596.1 846.1h.8M641.8 882.3h.8M635.8 858.8h.8M614.7 872.2h.8M640.2 866.0h.8M534.8 797.9h.8M639.0 868.0h.8M583.8 849.5h.8M542.8 808.7h.8M541.7 807.3h.8M579.2 848.6h.8M544.1 816.6h.8M613.8 859.7h.8M568.4 850.4h.8M581.5 861.5h.8M635.9 826.6h.8M669.9 873.3h.8M539.2 800.8h.8M604.8 847.5h.8M532.5 794.1h.8M536.2 802.6h.8M679.4 859.1h.8M524.3 802.7h.8M635.0 851.0h.8M656.0 798.9h.8M623.7 858.4h.8M617.6 832.9h.8M598.6 839.0h.8M537.6 797.7h.8M579.5 847.7h.8M642.6 856.6h.8M546.1 803.6h.8M516.9 809.8h.8M593.7 841.2h.8M532.8 799.4h.8M577.4 873.1h.8M631.7 870.3h.8M603.1 885.6h.8M565.1 837.3h.8M622.4 784.2h.8M541.8 806.9h.8M527.2 793.7h.8M549.0 815.9h.8M572.5 853.0h.8M528.9 794.7h.8M669.4 801.0h.8M553.1 820.7h.8M561.2 832.6h.8M561.7 821.1h.8M654.5 783.3h.8M517.6 805.1h.8M536.2 808.2h.8M632.3 859.5h.8M570.7 849.7h.8M591.6 863.9h.8M618.9 850.0h.8M564.4 845.5h.8M598.8 863.1h.8M666.1 864.6h.8M522.6 804.7h.8M635.2 872.7h.8M639.9 870.1h.8M655.0 866.5h.8M633.3 859.8h.8M579.6 787.8h.8M631.0 857.8h.8M599.9 844.5h.8M583.5 853.3h.8M552.0 815.4h.8M525.7 798.0h.8M573.9 856.1h.8M590.3 854.2h.8M661.1 883.8h.8M642.1 855.3h.8M595.9 847.0h.8M559.1 820.0h.8M559.8 830.8h.8M581.6 847.5h.8M595.6 850.6h.8M520.0 808.2h.8M637.7 872.4h.8M592.5 852.1h.8M677.7 880.1h.8M655.1 859.9h.8M620.1 858.7h.8M586.4 849.8h.8M574.5 860.3h.8M607.9 816.4h.8M585.6 853.8h.8M546.1 807.6h.8M572.7 851.5h.8M575.7 851.6h.8M579.7 858.8h.8M568.9 849.3h.8M669.2 889.4h.8M528.1 795.7h.8M555.5 827.7h.8M579.4 864.0h.8M652.4 869.2h.8M621.9 855.3h.8M536.6 799.1h.8M648.6 877.6h.8M591.9 857.8h.8M523.4 804.1h.8M619.7 851.6h.8M570.4 884.5h.8M583.0 861.8h.8M546.5 806.5h.8M643.4 808.3h.8M533.1 795.6h.8M572.0 848.1h.8M547.3 808.3h.8M554.0 810.7h.8M636.2 851.6h.8M564.7 830.6h.8M604.2 846.6h.8M569.2 858.3h.8M629.1 887.0h.8M603.4 849.6h.8M656.9 865.1h.8M650.0 881.6h.8M559.6 820.4h.8M564.5 837.2h.8M517.9 807.1h.8M602.4 787.0h.8M646.4 863.5h.8M549.0 809.0h.8M575.0 783.6h.8M627.7 869.0h.8M535.6 801.0h.8M654.5 844.0h.8M627.3 824.6h.8M531.9 792.8h.8M613.8 842.2h.8M561.1 827.0h.8M678.9 890.8h.8M573.4 849.2h.8M666.3 815.0h.8M645.1 890.4h.8M670.1 891.1h.8M661.3 855.2h.8M594.2 841.5h.8M646.7 836.3h.8M585.5 860.7h.8M530.0 792.1h.8M666.2 866.7h.8M537.8 800.1h.8M594.2 848.8h.8M605.0 854.3h.8M563.2 837.9h.8M630.0 850.8h.8M665.9 885.6h.8M592.4 855.0h.8M583.8 841.6h.8M599.6 839.7h.8M618.8 874.8h.8M522.6 806.0h.8M542.1 809.6h.8M670.7 860.2h.8M671.0 856.2h.8M606.8 789.6h.8M560.8 831.6h.8M583.3 820.0h.8M609.7 801.9h.8M574.0 849.6h.8M583.6 848.5h.8M664.0 826.8h.8M608.5 852.9h.8M677.2 891.1h.8M650.4 889.8h.8M592.9 854.2h.8M609.2 856.1h.8M574.5 820.9h.8M560.3 833.1h.8M628.9 781.5h.8M668.1 886.8h.8M606.2 867.5h.8M660.5 863.9h.8M597.3 853.7h.8M575.7 849.0h.8M609.3 841.1h.8M541.5 805.6h.8M540.7 797.8h.8M678.6 806.1h.8M582.2 855.9h.8M638.4 868.4h.8M585.0 863.6h.8M601.4 882.8h.8M623.9 815.3h.8M549.6 812.5h.8M591.2 885.8h.8M645.6 864.1h.8M661.7 859.3h.8M561.7 824.9h.8M571.6 846.1h.8M643.0 843.5h.8M677.9 799.5h.8M556.9 823.8h.8M586.8 853.3h.8M593.5 847.3h.8M578.7 863.9h.8M576.0 870.4h.8M665.3 879.5h.8M639.5 841.9h.8M650.7 875.6h.8M621.6 878.2h.8M535.0 799.4h.8M663.4 858.2h.8M517.3 811.6h.8M645.2 886.4h.8M602.6 886.0h.8M543.4 802.1h.8M605.9 851.5h.8M550.7 815.5h.8M554.8 822.3h.8M632.9 862.2h.8M623.9 855.5h.8M538.0 798.3h.8M615.4 854.9h.8M652.7 869.5h.8M521.7 802.4h.8M532.6 796.4h.8M666.1 796.2h.8M548.7 802.6h.8M529.0 800.1h.8M615.2 843.3h.8M672.5 850.7h.8M525.0 799.8h.8M586.2 852.9h.8M537.3 801.4h.8M644.3 870.9h.8M550.5 806.6h.8M573.5 890.9h.8M660.0 870.1h.8M621.4 845.7h.8M542.4 801.9h.8M570.5 838.5h.8M602.3 842.2h.8M638.5 836.2h.8M606.5 862.0h.8M578.8 853.9h.8M641.6 873.0h.8M602.9 844.1h.8M534.4 802.5h.8M591.4 841.1h.8M602.2 848.0h.8M630.7 854.5h.8M669.9 878.1h.8M603.3 837.6h.8M609.5 852.1h.8M606.6 879.8h.8M659.7 885.3h.8M558.0 827.6h.8M668.5 875.0h.8M642.5 870.3h.8M579.7 855.8h.8M644.9 869.5h.8M581.5 873.9h.8M593.6 852.3h.8M674.3 885.3h.8M609.9 845.3h.8M584.2 852.2h.8M570.6 849.4h.8M523.2 803.4h.8M576.9 844.2h.8M666.2 841.8h.8M520.0 808.3h.8M642.3 882.0h.8M559.5 815.1h.8M660.4 882.4h.8M613.8 861.2h.8M559.0 820.2h.8M577.2 821.7h.8M585.3 852.4h.8M560.7 826.4h.8M633.0 864.6h.8M622.3 850.6h.8M642.3 890.8h.8M567.3 855.0h.8M640.9 888.1h.8M611.7 835.4h.8M539.2 802.7h.8M525.6 798.1h.8M602.9 850.0h.8M533.4 792.6h.8M564.5 833.4h.8M561.5 825.6h.8M544.0 803.8h.8M664.4 847.5h.8M517.7 813.7h.8M543.3 809.7h.8M608.0 862.4h.8M522.2 803.1h.8M529.9 798.9h.8M605.2 838.9h.8M540.0 809.2h.8M542.1 809.5h.8M547.0 802.6h.8M595.1 849.3h.8M641.2 868.2h.8M534.1 802.0h.8M536.8 798.5h.8M652.6 877.3h.8M540.3 800.4h.8M537.4 799.4h.8M565.3 841.2h.8M530.9 793.1h.8M572.4 873.2h.8M588.2 867.8h.8M562.2 836.7h.8M641.7 861.8h.8M549.7 810.4h.8M596.9 850.0h.8M555.3 825.8h.8M602.9 851.3h.8M524.1 799.9h.8M638.7 865.4h.8M657.1 873.2h.8M545.5 810.0h.8M660.0 787.2h.8M676.9 877.0h.8M532.8 799.5h.8M618.2 863.9h.8M527.0 795.1h.8M573.3 863.3h.8M554.9 813.5h.8M575.5 857.8h.8M583.6 867.5h.8M644.8 846.1h.8M633.5 873.0h.8M543.4 798.9h.8M641.7 820.5h.8M591.4 858.9h.8M629.5 880.6h.8M592.1 851.6h.8M530.1 797.6h.8M580.8 857.1h.8M601.5 789.5h.8M632.6 860.7h.8M677.5 891.1h.8M654.2 871.5h.8M587.5 847.4h.8M529.6 802.5h.8M523.5 801.3h.8M646.7 868.3h.8M674.2 879.9h.8M560.7 830.0h.8M559.0 825.4h.8M680.0 863.2h.8M567.0 846.6h.8M609.9 846.7h.8M614.7 858.1h.8M672.1 870.1h.8M520.4 806.0h.8M648.9 847.0h.8M658.8 872.5h.8M582.2 857.4h.8M615.2 785.4h.8M573.8 871.5h.8M536.8 799.9h.8M568.6 858.7h.8M641.4 859.0h.8M586.5 858.0h.8M578.3 864.7h.8M541.2 813.0h.8M652.3 818.6h.8M652.7 805.8h.8M555.2 815.4h.8M570.0 861.5h.8M673.7 867.8h.8M664.4 802.2h.8M541.0 800.0h.8M569.3 856.3h.8M675.4 871.1h.8M587.1 813.2h.8M610.8 850.2h.8M629.7 885.9h.8M630.5 859.7h.8M673.7 797.3h.8M523.4 801.1h.8M569.5 880.4h.8M579.0 853.9h.8M596.5 847.3h.8M559.3 828.9h.8M596.1 841.5h.8M549.8 834.0h.8M566.3 843.2h.8M573.5 862.2h.8M672.8 862.4h.8M601.0 829.6h.8M594.4 817.8h.8M623.6 852.3h.8M633.5 889.4h.8M592.0 841.2h.8M563.8 834.5h.8M565.2 832.3h.8M597.3 837.2h.8M522.6 802.6h.8M670.0 858.1h.8M641.3 873.3h.8M656.4 888.1h.8M574.9 854.0h.8M518.0 813.6h.8M642.2 861.1h.8M620.2 859.8h.8M641.8 781.0h.8M569.6 847.3h.8M580.4 859.9h.8M533.4 802.2h.8M640.5 887.6h.8M609.9 853.9h.8M602.0 806.0h.8M657.3 835.7h.8M614.3 793.6h.8M519.3 808.4h.8M659.5 827.5h.8M580.9 810.8h.8M516.4 813.3h.8M584.2 848.5h.8M537.7 805.5h.8M559.7 827.9h.8M531.3 798.3h.8M548.8 812.6h.8M633.7 871.4h.8M560.8 816.9h.8M677.1 802.2h.8M634.6 862.7h.8M544.7 809.1h.8M547.3 808.3h.8M675.3 863.4h.8M624.1 859.9h.8M521.8 801.0h.8M534.6 794.8h.8M534.0 800.6h.8M587.1 866.6h.8M555.5 815.6h.8M607.5 840.5h.8M580.1 817.0h.8M616.7 861.9h.8M519.8 807.2h.8M521.8 805.4h.8M544.4 805.2h.8M623.6 858.2h.8M675.9 884.0h.8M555.9 827.9h.8M647.6 888.9h.8M548.1 815.1h.8M651.6 829.6h.8M619.0 812.7h.8M580.1 845.0h.8M617.1 822.7h.8M598.3 873.3h.8M585.7 844.7h.8M522.6 802.7h.8M533.1 799.0h.8M613.1 849.2h.8M524.0 801.3h.8M609.3 839.1h.8M658.1 862.1h.8M537.5 800.8h.8M522.1 802.3h.8M554.3 826.8h.8M539.5 803.9h.8M624.1 874.8h.8M671.2 883.8h.8M556.7 826.9h.8M582.8 848.8h.8M656.3 865.5h.8M637.3 874.5h.8M542.9 812.2h.8M544.4 815.8h.8M643.6 868.7h.8M567.5 841.5h.8M533.6 798.8h.8M674.0 852.4h.8M597.6 863.9h.8M539.7 799.3h.8M587.0 849.4h.8M529.1 795.3h.8M593.8 840.2h.8M572.5 844.1h.8M538.5 804.9h.8M562.3 823.2h.8M645.9 868.1h.8M557.6 831.5h.8M632.4 886.5h.8M595.8 852.0h.8M521.0 808.3h.8M640.9 864.5h.8M670.9 885.4h.8M616.2 842.9h.8M584.3 851.5h.8M529.1 796.0h.8M521.4 804.6h.8M523.2 799.5h.8M642.8 886.0h.8M542.5 804.2h.8M550.1 814.7h.8M536.9 796.0h.8M542.7 812.4h.8M527.4 800.3h.8M674.7 876.9h.8M607.9 844.5h.8M641.3 866.6h.8M596.1 801.0h.8M520.7 804.7h.8M602.8 810.8h.8M576.0 854.3h.8M627.4 866.5h.8M657.5 871.4h.8M614.0 845.6h.8M567.1 844.5h.8M604.9 853.6h.8M611.0 851.7h.8M585.9 865.5h.8M575.1 862.2h.8M670.6 877.7h.8M552.4 820.7h.8M614.7 858.4h.8M639.7 843.8h.8M587.5 782.3h.8M571.8 850.1h.8M550.7 817.5h.8M675.1 865.2h.8M629.8 856.9h.8M560.2 832.9h.8M606.2 850.1h.8M597.6 840.7h.8M633.7 788.7h.8M570.6 865.5h.8M669.2 858.7h.8M674.8 793.1h.8M518.9 807.2h.8M535.7 793.1h.8M619.3 862.9h.8M666.8 872.9h.8M674.9 887.3h.8M622.3 864.6h.8M616.3 848.5h.8M563.7 833.4h.8M523.5 797.2h.8M530.7 795.8h.8M517.0 813.9h.8M554.7 823.4h.8M661.8 871.3h.8M565.5 844.6h.8M594.2 849.3h.8M549.2 812.2h.8M624.1 794.1h.8M596.1 853.5h.8M590.7 864.3h.8M657.7 850.2h.8M640.4 864.2h.8M653.2 872.8h.8M639.2 875.0h.8M607.3 843.8h.8M594.4 848.5h.8M520.9 807.8h.8M598.8 860.6h.8M541.4 797.7h.8M552.5 810.2h.8M676.4 883.2h.8M608.9 825.4h.8M675.6 860.0h.8M678.6 876.5h.8M593.5 857.6h.8M593.7 848.7h.8M587.6 853.8h.8M602.6 833.9h.8" fill="none" stroke="#9a1a9a" stroke-width="0.9" />
<path d="M568.2 847.0h.8M534.9 789.2h.8M650.9 877.4h.8M520.1 807.9h.8M561.0 836.6h.8M564.4 843.6h.8M546.1 802.4h.8M594.0 852.1h.8M603.4 833.8h.8M550.5 825.7h.8M647.8 866.2h.8M528.3 796.9h.8M629.1 861.1h.8M569.2 822.6h.8M517.0 809.3h.8M537.1 802.4h.8M643.3 890.2h.8M525.0 800.3h.8M581.1 847.3h.8M529.2 797.8h.8M564.9 823.2h.8M585.1 856.5h.8M606.9 842.9h.8M534.6 794.3h.8M623.4 874.9h.8M591.1 853.1h.8M627.4 867.5h.8M571.3 848.7h.8M641.7 874.2h.8M629.5 859.0h.8M609.7 855.8h.8M540.2 803.7h.8M638.1 869.1h.8M560.4 829.2h.8M669.8 861.4h.8M595.5 847.3h.8M533.5 799.3h.8M613.8 848.8h.8M586.9 845.9h.8M544.9 803.2h.8M532.7 795.4h.8M621.5 852.8h.8M586.6 854.8h.8M668.9 868.0h.8M596.3 841.3h.8M669.2 856.0h.8M641.6 875.0h.8M679.3 882.2h.8M602.0 851.8h.8M526.6 803.0h.8M529.7 795.3h.8M641.0 866.6h.8M636.5 828.8h.8M581.2 863.8h.8M527.1 801.3h.8M546.8 798.3h.8M565.0 844.5h.8M517.8 811.8h.8M546.0 804.3h.8M587.3 858.4h.8M663.4 875.4h.8M583.3 858.6h.8M666.1 877.5h.8M576.8 847.3h.8M583.0 863.6h.8M604.2 846.0h.8M603.9 843.1h.8M607.0 881.0h.8M618.6 848.6h.8M555.2 810.9h.8M534.0 800.4h.8M529.7 799.9h.8M620.3 860.7h.8M550.6 815.1h.8M633.7 878.2h.8M637.6 863.3h.8M670.1 880.2h.8M537.3 793.8h.8M661.7 868.3h.8M562.8 837.8h.8M556.9 821.2h.8M570.4 852.2h.8M584.9 860.4h.8M569.8 849.8h.8M551.6 819.5h.8M536.8 799.1h.8M597.5 853.0h.8M541.0 805.0h.8M527.4 798.9h.8M539.7 804.2h.8M553.7 816.8h.8M649.5 869.0h.8M582.1 856.0h.8M545.9 801.5h.8M538.9 802.7h.8M591.1 840.6h.8M631.2 884.5h.8M602.2 826.7h.8M606.9 850.7h.8M516.7 811.0h.8M604.2 852.8h.8M595.4 852.2h.8M604.0 842.9h.8M676.1 851.1h.8M624.7 851.9h.8M535.7 798.0h.8M594.0 843.5h.8M528.5 794.9h.8M642.9 880.9h.8M609.4 849.6h.8M617.5 862.1h.8M595.1 862.9h.8M567.5 845.0h.8M546.2 817.3h.8M585.2 870.6h.8M673.0 885.6h.8M590.2 850.7h.8M608.0 847.5h.8M670.0 886.9h.8M659.1 869.5h.8M633.9 860.4h.8M548.9 818.1h.8M603.0 849.8h.8M585.4 852.4h.8M601.5 848.2h.8M601.9 847.8h.8M625.9 870.5h.8M563.5 843.4h.8M592.1 852.0h.8M582.0 864.0h.8M659.5 873.4h.8M614.9 850.8h.8M603.0 844.3h.8M547.6 811.4h.8M665.5 879.6h.8M641.4 858.9h.8M602.2 855.5h.8M520.4 808.9h.8M631.3 871.2h.8M569.3 854.3h.8M595.5 844.8h.8M642.6 859.2h.8M547.5 816.4h.8M600.2 846.9h.8M666.9 871.6h.8M516.5 813.0h.8M526.2 800.2h.8M636.4 891.1h.8M591.3 856.5h.8M585.0 857.6h.8M549.4 811.5h.8M581.6 837.6h.8M622.4 842.6h.8M551.2 815.4h.8M594.7 849.7h.8M527.3 800.5h.8M664.5 879.4h.8M585.4 851.9h.8M632.6 874.0h.8M647.7 872.4h.8M672.5 872.0h.8M620.1 859.4h.8M638.2 852.7h.8M570.2 847.4h.8M672.7 871.3h.8M532.4 796.7h.8M672.0 883.7h.8M603.6 850.2h.8M532.1 797.0h.8M656.8 878.2h.8M608.3 880.5h.8M661.3 875.3h.8M598.8 847.8h.8M546.4 809.5h.8M645.8 853.0h.8M632.3 868.8h.8M518.0 809.6h.8M633.6 866.5h.8M632.2 867.1h.8M624.2 858.2h.8M629.1 873.9h.8M678.6 864.7h.8M574.8 846.0h.8M632.3 876.7h.8M532.4 802.3h.8M603.0 842.6h.8M652.0 890.4h.8M543.4 807.0h.8M574.6 877.7h.8M640.4 891.1h.8M621.2 876.2h.8M647.2 889.9h.8M599.3 858.8h.8M559.8 826.7h.8M611.9 849.8h.8M573.0 853.0h.8M530.0 798.0h.8M559.3 820.4h.8M678.9 873.2h.8M622.0 843.3h.8M525.1 800.4h.8M531.2 793.4h.8M590.6 850.7h.8M550.4 812.5h.8M594.3 849.7h.8M517.3 811.0h.8M531.2 798.9h.8M671.7 873.1h.8M622.5 857.0h.8M624.5 864.6h.8M580.4 861.4h.8M665.1 883.5h.8M571.4 838.7h.8M565.1 844.5h.8M620.6 867.1h.8M620.1 869.9h.8M544.3 815.6h.8M569.5 845.8h.8M658.3 877.1h.8M657.2 861.7h.8M576.2 855.8h.8M625.5 870.6h.8M556.2 831.1h.8M522.6 805.5h.8M660.0 858.8h.8M618.6 860.9h.8M520.5 803.6h.8M563.9 829.2h.8M620.1 841.7h.8M523.1 801.8h.8M612.3 855.2h.8M633.4 858.4h.8M557.6 822.5h.8M583.0 863.9h.8M522.7 799.8h.8M614.0 850.2h.8M635.8 881.7h.8M606.7 849.9h.8M533.9 798.8h.8M541.9 799.8h.8M634.0 864.4h.8M557.2 820.8h.8M679.1 891.1h.8M532.3 797.3h.8M545.5 811.7h.8M674.2 878.6h.8M634.0 855.8h.8M602.6 834.8h.8M649.4 859.1h.8M636.1 864.8h.8M580.9 880.1h.8M542.8 802.2h.8M663.4 886.9h.8M560.9 826.1h.8M647.4 872.4h.8M569.3 855.1h.8M622.2 857.9h.8M622.9 853.4h.8M641.9 880.4h.8M517.0 811.8h.8M680.8 883.9h.8M586.0 859.3h.8M657.9 876.2h.8M534.2 797.6h.8M542.6 800.5h.8M568.4 854.0h.8M516.4 815.0h.8M609.7 843.5h.8M603.8 854.8h.8M600.3 842.6h.8M666.0 857.7h.8M522.8 804.4h.8M604.2 851.2h.8M658.4 884.0h.8M549.0 802.2h.8M582.7 847.0h.8M548.1 818.0h.8M632.3 862.5h.8M657.8 867.4h.8M661.1 863.2h.8M594.7 842.6h.8M579.2 856.9h.8M593.3 853.3h.8M579.5 858.5h.8M624.8 875.1h.8M627.0 868.1h.8M632.6 848.5h.8M595.0 841.4h.8M611.8 847.4h.8M532.8 797.0h.8M580.0 854.6h.8M641.0 862.3h.8M621.7 858.6h.8M637.9 880.3h.8M558.0 830.3h.8M680.0 875.2h.8M563.1 833.3h.8M531.2 796.7h.8M578.4 852.4h.8M579.4 868.0h.8M608.5 854.3h.8M585.6 849.0h.8M655.9 879.4h.8M567.3 838.7h.8M560.4 829.9h.8M559.6 825.2h.8M600.1 842.8h.8M516.8 813.2h.8M536.7 807.5h.8M528.4 798.5h.8M526.2 795.6h.8M563.0 825.9h.8M573.4 852.7h.8M637.8 876.5h.8M644.3 848.2h.8M569.2 849.7h.8M542.1 805.9h.8M589.9 860.2h.8M665.2 891.1h.8M627.2 887.4h.8M599.7 842.7h.8M626.3 868.0h.8M522.5 805.4h.8M612.5 856.5h.8M575.0 873.5h.8M531.9 805.0h.8M526.3 801.7h.8M672.8 886.6h.8M569.8 851.4h.8M644.3 862.1h.8M643.3 869.8h.8M667.7 878.9h.8M641.4 858.9h.8M646.4 889.6h.8M581.5 855.4h.8M611.8 859.7h.8M666.3 862.7h.8M583.9 855.6h.8M636.6 886.9h.8M668.2 891.1h.8M547.3 806.5h.8M527.1 793.9h.8M585.0 850.5h.8M596.3 851.0h.8M597.4 845.0h.8M635.6 876.8h.8M644.6 877.1h.8M605.9 841.4h.8M653.0 867.8h.8M607.2 847.6h.8M657.8 865.0h.8M516.6 809.2h.8M592.6 848.4h.8M534.6 795.1h.8M524.4 794.9h.8M597.5 849.0h.8M625.7 855.7h.8M550.7 813.6h.8M673.3 882.9h.8M652.5 863.1h.8M561.7 827.1h.8M589.1 854.8h.8M576.6 867.3h.8M571.0 849.3h.8M651.1 858.4h.8M599.6 847.6h.8M611.8 850.7h.8M588.8 855.2h.8M558.8 833.0h.8M592.1 853.8h.8M672.3 870.6h.8M602.7 857.6h.8M645.5 876.1h.8M648.0 875.1h.8M527.7 796.4h.8M522.5 802.3h.8M624.2 864.1h.8M602.6 847.7h.8M579.3 856.6h.8M653.2 870.1h.8M528.3 796.9h.8M528.1 796.3h.8M536.9 801.7h.8M535.7 792.9h.8M628.6 864.2h.8M646.6 881.8h.8M633.4 871.4h.8M560.3 826.2h.8M591.0 858.4h.8M566.2 833.1h.8M637.7 879.6h.8M577.9 859.7h.8M612.6 849.4h.8M551.3 804.4h.8M534.9 797.5h.8M655.6 860.1h.8M652.4 859.1h.8M638.7 858.9h.8M545.4 811.5h.8M673.3 883.7h.8M584.5 853.7h.8M574.7 847.3h.8M659.9 859.2h.8M521.9 802.0h.8M654.2 868.4h.8M675.7 863.3h.8M607.4 852.0h.8M614.3 861.7h.8M530.0 797.2h.8M608.4 849.9h.8M518.4 809.7h.8M592.2 859.2h.8M616.7 849.3h.8M535.7 797.2h.8M608.5 859.6h.8M563.6 846.6h.8M600.8 832.2h.8M561.4 838.4h.8M541.0 804.9h.8M644.5 858.2h.8M534.4 795.2h.8M649.5 881.8h.8M587.6 852.5h.8M626.1 860.9h.8M607.3 844.7h.8M673.4 889.1h.8M671.8 854.5h.8M570.5 889.5h.8M525.8 798.2h.8M573.9 873.6h.8M663.5 860.7h.8M654.6 871.3h.8M630.4 856.5h.8M614.6 856.9h.8M564.8 839.7h.8M601.2 853.3h.8M618.8 860.5h.8M575.0 850.9h.8M667.4 859.5h.8M612.4 837.5h.8M576.7 855.5h.8M662.1 865.4h.8M605.5 831.3h.8M663.3 846.7h.8M559.4 824.9h.8M584.3 852.0h.8M633.8 858.0h.8M680.5 891.1h.8M566.4 847.4h.8M676.6 882.6h.8M634.7 871.2h.8M660.0 890.6h.8M598.6 834.2h.8M561.9 826.7h.8M544.0 804.9h.8M581.5 839.8h.8M655.2 878.2h.8M647.1 851.0h.8M524.9 797.8h.8M556.0 820.6h.8M675.7 880.2h.8M532.6 802.8h.8M668.1 867.0h.8M612.4 848.6h.8M517.4 810.7h.8M669.1 852.1h.8M520.1 806.5h.8M539.5 804.4h.8M535.0 803.0h.8M666.7 881.3h.8M628.6 855.9h.8M604.9 849.1h.8M563.8 840.5h.8M659.4 882.6h.8M532.7 800.5h.8M531.8 799.1h.8M610.3 845.3h.8M651.7 891.1h.8M657.9 861.7h.8M648.7 877.9h.8M633.7 884.9h.8M526.5 795.3h.8M531.0 793.0h.8M586.4 848.8h.8M666.2 884.9h.8M617.7 842.8h.8M616.4 847.3h.8M637.2 869.0h.8M660.5 869.9h.8M670.2 870.2h.8M645.4 871.7h.8M525.8 802.0h.8M601.5 839.0h.8M657.6 867.0h.8M631.0 864.2h.8M679.5 891.1h.8M668.8 887.8h.8M573.6 844.0h.8M664.7 883.8h.8M676.3 891.1h.8M619.5 858.7h.8M676.7 869.0h.8M575.6 859.0h.8M601.5 852.5h.8M656.2 867.6h.8M600.9 849.8h.8M551.7 810.1h.8M617.8 845.7h.8M646.8 891.1h.8M535.8 802.6h.8M575.5 849.3h.8M582.8 854.5h.8M544.0 813.1h.8M612.5 850.3h.8M660.8 884.8h.8M646.7 858.6h.8M626.2 887.7h.8M534.8 804.3h.8M647.8 870.8h.8M520.8 805.9h.8M526.0 797.9h.8M624.4 869.7h.8M561.4 821.4h.8M559.9 822.4h.8M616.4 849.2h.8M560.9 840.3h.8M518.3 810.3h.8M554.4 821.9h.8M655.6 868.6h.8M587.1 859.2h.8M677.1 881.0h.8M632.3 874.3h.8M672.8 888.3h.8M531.2 795.7h.8M556.1 825.0h.8M582.7 839.6h.8M602.6 849.5h.8M571.5 849.4h.8M518.4 813.5h.8M580.3 856.5h.8M680.0 885.0h.8M525.7 801.8h.8M599.9 851.8h.8M536.9 803.5h.8M563.8 832.8h.8M619.5 857.0h.8M614.1 851.9h.8M655.7 868.3h.8M632.0 859.2h.8M597.7 850.1h.8M547.7 811.2h.8M542.1 808.4h.8M663.1 879.2h.8M585.5 850.8h.8M540.2 805.0h.8M629.8 873.6h.8M606.3 838.9h.8M657.5 882.6h.8M595.3 846.9h.8M554.9 820.7h.8M674.4 880.6h.8M671.0 881.4h.8M571.5 855.0h.8M662.0 884.6h.8M651.2 879.4h.8M644.0 889.2h.8M606.1 880.1h.8M602.0 856.3h.8M548.3 812.4h.8M569.2 857.0h.8M669.8 866.0h.8M625.8 858.5h.8M662.8 871.3h.8M568.0 837.5h.8M630.6 860.2h.8M602.3 851.2h.8M550.0 805.1h.8M576.8 863.2h.8M526.0 802.5h.8M560.7 832.6h.8M646.0 865.9h.8M578.9 847.0h.8M539.8 798.5h.8M631.7 863.8h.8M661.9 891.1h.8M616.5 847.8h.8M621.0 854.3h.8M561.0 837.0h.8M659.3 881.1h.8M619.8 842.2h.8M653.7 880.2h.8M550.0 801.8h.8M544.0 804.1h.8M672.5 864.3h.8M640.2 891.1h.8M620.3 868.4h.8M606.0 843.3h.8M612.7 860.5h.8M640.3 864.8h.8M538.9 797.3h.8M584.6 853.3h.8M577.5 850.0h.8M642.5 886.2h.8M558.2 826.1h.8M566.0 830.0h.8M642.3 824.8h.8M546.7 799.2h.8M533.7 798.3h.8M552.0 820.7h.8M677.4 865.6h.8M589.5 835.3h.8M597.9 846.0h.8M649.6 880.9h.8M653.9 878.3h.8M553.3 814.8h.8M520.8 804.7h.8M664.2 890.8h.8M600.4 835.0h.8M555.0 820.6h.8M581.8 855.4h.8M590.6 847.0h.8M602.6 841.9h.8M654.6 855.7h.8M666.2 876.6h.8M600.0 848.6h.8M530.2 800.2h.8M661.4 850.7h.8M579.8 850.4h.8M667.2 851.2h.8M638.2 880.5h.8M563.2 841.3h.8M660.6 879.2h.8M679.2 874.0h.8M626.8 857.4h.8M551.8 818.9h.8M674.9 879.8h.8M648.3 863.1h.8M532.7 798.2h.8M627.8 854.2h.8M614.8 851.1h.8M558.0 819.2h.8M656.1 877.4h.8M576.7 860.2h.8M620.6 861.7h.8M627.1 865.3h.8M573.2 822.5h.8M678.1 874.2h.8M545.5 806.8h.8M665.1 855.8h.8M539.2 806.4h.8M624.0 872.9h.8M575.1 844.2h.8M560.8 842.8h.8M557.7 834.3h.8M602.8 860.6h.8M676.6 885.2h.8M543.6 806.4h.8M581.2 857.9h.8M585.2 843.2h.8M528.9 794.6h.8M661.1 881.5h.8M647.5 856.7h.8M593.5 855.1h.8M516.6 811.4h.8M546.7 804.5h.8M566.4 837.5h.8M593.0 848.4h.8M517.3 813.0h.8M669.5 863.9h.8M541.6 804.4h.8M553.8 809.0h.8M674.6 865.8h.8M576.4 857.8h.8M517.3 813.9h.8M516.5 813.4h.8M617.3 858.8h.8M674.1 891.1h.8M561.0 834.5h.8M521.1 808.9h.8M585.3 851.6h.8M553.7 824.8h.8M531.6 795.6h.8M526.3 799.8h.8M561.0 829.8h.8M569.5 853.1h.8M553.1 819.4h.8M582.6 843.6h.8M554.0 811.7h.8M612.7 816.7h.8M608.5 845.9h.8M546.3 805.5h.8M574.2 850.5h.8M544.3 807.3h.8M673.1 871.1h.8M660.9 874.1h.8M576.5 854.8h.8M643.6 864.5h.8M649.6 867.1h.8M621.1 844.4h.8M620.7 851.9h.8M595.1 851.7h.8M640.1 886.5h.8M523.1 798.5h.8M671.8 872.0h.8M633.7 881.8h.8M658.7 885.4h.8M635.1 859.0h.8M599.3 857.6h.8M656.6 881.0h.8M638.1 853.4h.8M680.0 881.3h.8M564.2 838.5h.8M620.9 844.3h.8M664.7 874.4h.8M574.5 857.7h.8M627.8 864.2h.8M528.3 799.5h.8M651.5 861.9h.8M559.9 836.3h.8M629.2 862.7h.8M585.9 858.5h.8M657.4 860.7h.8M535.6 799.9h.8M632.1 849.8h.8M638.6 870.8h.8M545.3 811.2h.8M675.0 867.0h.8M553.8 809.2h.8M645.5 888.4h.8M533.3 798.6h.8M579.8 847.1h.8M670.8 849.4h.8M607.0 843.8h.8M650.7 876.3h.8M603.2 846.0h.8M609.3 860.3h.8M558.9 822.9h.8M529.8 795.2h.8M636.5 866.2h.8M539.0 799.0h.8M656.1 854.0h.8M630.4 878.1h.8M548.0 813.2h.8M561.8 839.4h.8M628.9 854.0h.8M672.2 877.6h.8M547.9 807.5h.8M524.1 801.5h.8M520.9 806.5h.8M636.9 857.5h.8M549.2 818.3h.8M612.1 841.0h.8M627.0 867.1h.8M654.5 868.4h.8M604.9 860.0h.8M582.7 860.8h.8M635.3 858.0h.8M535.5 807.3h.8M652.8 875.1h.8M562.4 837.2h.8M581.0 857.3h.8M548.0 798.0h.8M638.7 883.9h.8M621.8 862.8h.8M581.0 868.6h.8M625.6 854.8h.8M543.7 803.0h.8M560.1 833.8h.8M537.4 800.6h.8M654.0 881.9h.8M570.8 834.0h.8M594.6 858.0h.8M594.6 843.2h.8M609.3 841.7h.8M590.7 858.9h.8M678.9 844.4h.8M589.5 855.7h.8M563.3 832.7h.8M678.0 891.1h.8M531.0 798.7h.8M645.3 874.4h.8M527.7 797.8h.8M679.2 851.6h.8M649.2 876.5h.8M640.5 874.9h.8M639.5 865.7h.8M662.4 882.9h.8M590.1 847.1h.8M603.8 857.9h.8M549.6 802.7h.8M598.9 853.3h.8M607.0 838.5h.8M639.9 886.9h.8M680.2 885.6h.8M556.4 814.4h.8M629.0 870.8h.8M673.5 867.4h.8M564.8 837.1h.8M624.0 855.9h.8M630.0 853.4h.8M567.6 840.3h.8M522.4 801.1h.8M649.7 869.9h.8M566.3 843.0h.8M597.3 845.8h.8M657.2 838.7h.8M571.4 853.2h.8M599.8 852.5h.8M570.9 855.6h.8M544.4 815.5h.8M603.0 832.3h.8M680.2 886.1h.8M552.5 816.5h.8M578.4 864.4h.8M628.1 863.5h.8M525.4 797.8h.8M537.9 802.1h.8M624.0 844.6h.8M530.0 800.3h.8M581.2 845.1h.8M650.4 876.7h.8M638.3 866.8h.8M616.5 866.6h.8M680.8 866.7h.8M622.4 856.5h.8M617.3 847.6h.8M664.0 880.5h.8M609.1 863.7h.8M521.8 807.0h.8M608.4 859.1h.8M639.9 860.9h.8M649.8 883.1h.8M589.1 853.9h.8M605.7 848.3h.8M532.1 794.2h.8M559.6 836.2h.8M570.2 842.6h.8M663.2 885.6h.8M560.3 838.4h.8M594.7 843.7h.8M612.2 851.8h.8M596.2 842.9h.8M659.7 880.0h.8M661.5 845.5h.8M579.8 855.0h.8M661.1 888.7h.8M550.1 812.2h.8M573.4 850.2h.8M627.7 869.6h.8M637.0 882.4h.8M520.7 804.6h.8M639.4 851.1h.8M678.6 873.9h.8M606.4 856.6h.8M589.0 854.0h.8M604.7 853.3h.8M558.0 821.1h.8M613.9 832.4h.8M618.4 865.3h.8M612.0 860.8h.8M542.9 799.6h.8M623.0 845.1h.8M574.9 861.8h.8M588.1 862.5h.8M606.0 848.6h.8M669.6 874.8h.8M659.0 863.2h.8M634.4 853.7h.8M581.4 860.3h.8M662.5 880.8h.8M560.3 823.5h.8M645.3 850.7h.8M567.3 851.7h.8M574.6 855.9h.8M619.4 865.0h.8M608.0 855.9h.8M594.9 849.5h.8M551.0 817.2h.8M659.2 863.6h.8M550.1 809.4h.8M613.6 852.3h.8M612.6 850.9h.8M608.7 859.6h.8M613.3 851.4h.8M632.3 871.5h.8M660.4 869.8h.8M621.6 860.1h.8M667.8 891.1h.8M606.6 862.2h.8M669.9 886.9h.8M617.5 859.1h.8M541.4 801.9h.8M548.8 817.2h.8M671.0 876.8h.8M581.0 844.3h.8M650.2 849.7h.8M561.8 832.0h.8M634.9 870.3h.8M640.8 863.9h.8M529.0 797.1h.8M542.3 801.9h.8M623.7 849.3h.8M627.8 857.6h.8M534.1 795.5h.8M653.3 861.9h.8M676.9 859.3h.8M520.9 806.1h.8M591.0 839.7h.8M667.3 889.1h.8M623.5 855.7h.8M670.4 878.8h.8M564.3 833.9h.8M637.9 874.6h.8M574.9 843.3h.8M525.8 800.8h.8M574.9 849.7h.8M560.5 826.9h.8M547.8 807.3h.8M518.7 808.8h.8M677.6 880.1h.8M531.8 795.5h.8M576.6 856.6h.8M547.2 822.7h.8M670.4 891.1h.8M590.5 858.4h.8M590.5 851.2h.8M612.6 830.1h.8M577.9 859.3h.8M572.9 841.4h.8M575.2 846.5h.8M539.9 808.3h.8M649.9 872.5h.8M667.9 874.0h.8M673.3 858.0h.8M554.3 824.4h.8M651.4 880.3h.8M601.9 844.4h.8M577.3 865.3h.8M607.0 854.5h.8M573.3 855.2h.8M648.1 868.3h.8M657.8 883.2h.8M621.0 848.4h.8M521.0 802.7h.8M662.8 880.3h.8M648.6 862.8h.8M666.1 868.2h.8M622.5 870.2h.8M529.9 798.1h.8M606.4 838.3h.8M543.4 807.0h.8M625.7 863.5h.8M613.4 846.1h.8M550.3 820.0h.8M599.5 867.3h.8M634.3 862.7h.8M673.4 883.7h.8M544.7 801.4h.8M600.1 839.7h.8M618.1 852.6h.8M561.7 835.9h.8M564.9 839.8h.8M660.9 869.9h.8M618.7 859.5h.8M580.6 852.9h.8M577.9 870.9h.8M634.7 857.8h.8M613.0 859.9h.8M554.9 818.3h.8M593.3 844.6h.8M659.9 873.5h.8M655.0 877.5h.8M529.2 797.3h.8M523.6 803.2h.8M542.0 801.9h.8M536.3 795.1h.8M646.8 872.7h.8M621.6 867.9h.8M614.7 881.7h.8M564.4 833.5h.8M534.0 799.2h.8M564.5 835.1h.8M516.4 812.2h.8M537.7 798.9h.8M601.7 852.4h.8M537.1 803.6h.8M518.7 805.4h.8M631.8 884.3h.8M591.6 847.8h.8M530.6 795.3h.8M652.3 864.0h.8M586.1 862.2h.8M640.1 887.6h.8M644.0 883.8h.8M644.0 867.6h.8M610.3 856.0h.8M614.3 855.4h.8M575.0 866.4h.8M561.3 825.6h.8M608.8 851.7h.8" fill="none" stroke="#3a3a9a" stroke-width="0.9" />
<radialGradient id="envI" cx="0.45" cy="0.45" r="0.62"><stop offset="0" stop-color="#e2e2e2"/><stop offset="0.7" stop-color="#d6d6d6"/><stop offset="0.86" stop-color="#c4c4c4"/><stop offset="1" stop-color="#a4a4a4"/></radialGradient>
<path d="M17.5 1053.1C17.5 1046.1 17.5 1033.8 21.0 1025.1C24.5 1016.3 34.4 1006.5 38.5 1000.6C42.6 994.8 40.2 992.9 45.5 990.0C50.8 987.1 60.1 984.5 70.0 983.0C79.9 981.5 94.5 980.1 105.0 981.3C115.5 982.5 126.1 990.9 133.1 990.0C140.1 989.1 141.9 979.5 147.2 976.0C152.5 972.5 158.9 969.6 164.7 969.0C170.5 968.4 178.1 970.3 182.2 972.6C186.3 974.9 188.6 979.5 189.2 983.0C189.8 986.5 189.8 990.7 185.7 993.6C181.6 996.5 169.9 996.5 164.7 1000.6C159.4 1004.7 155.7 1011.1 154.2 1018.1C152.7 1025.1 155.9 1034.4 155.9 1042.6C155.9 1050.8 156.8 1059.6 154.2 1067.2C151.6 1074.8 146.6 1082.4 140.2 1088.2C133.8 1094.0 124.9 1098.7 115.6 1102.2C106.2 1105.7 94.6 1109.2 84.1 1109.2C73.6 1109.2 61.4 1106.3 52.6 1102.2C43.8 1098.1 36.8 1090.5 31.5 1084.7C26.2 1078.9 23.3 1072.5 21.0 1067.2C18.7 1061.9 17.5 1060.1 17.5 1053.1Z" fill="url(#envI)" stroke="#6a6a6a" stroke-width="0.7"/>
<path d="M70.0 1010.6 73.5 1011.7 76.6 1009.7 77.2 1007.8M77.2 1007.8 75.5 1004.2 74.8 1000.5 78.6 999.6 79.8 1001.1M79.8 1001.1 82.5 1004.1 82.3 1006.1M82.0 1018.1 84.6 1021.0 84.6 1023.0M84.6 1023.0 82.7 1026.1 82.7 1028.1M82.7 1028.1 82.1 1032.0 85.0 1034.7 86.4 1036.2M76.5 1006.3 80.2 1005.3 83.2 1004.8 86.4 1003.0M86.4 1003.0 89.7 1000.9 93.7 1001.4 96.0 1004.0M101.6 1035.5 104.7 1037.9 103.6 1041.7 102.9 1045.7M77.6 1070.3 76.3 1066.9 77.2 1063.7 78.9 1060.2 77.5 1058.8M72.0 1053.0 70.1 1049.6 68.2 1049.0M68.2 1049.0 64.3 1048.5 62.3 1048.3M35.5 1055.0 36.5 1051.1 36.3 1047.2 37.9 1043.8M37.9 1043.8 41.1 1041.6 42.7 1038.0 43.3 1034.1 45.3 1034.4M45.3 1034.4 41.9 1033.0 40.2 1029.6 39.4 1026.0M131.2 1015.6 128.1 1016.4 126.6 1020.0M124.2 1029.7 125.2 1033.5 127.7 1036.6 131.6 1037.6M124.1 1034.7 121.0 1032.2 119.1 1031.9M119.1 1031.9 116.1 1029.3 112.4 1027.8 110.6 1026.9M103.5 1023.1 100.3 1022.3 96.7 1020.7 93.6 1019.9M124.1 1074.3 126.8 1072.4 129.0 1073.9 126.9 1075.6 125.0 1076.0M117.1 1077.5 114.6 1080.7 114.7 1084.7 110.9 1085.5 108.9 1085.1M86.1 1077.9 88.0 1074.8 88.5 1078.7 85.5 1080.7 83.5 1081.0M38.6 1046.7 37.6 1049.9 36.5 1052.9 32.6 1052.8M32.6 1052.8 36.1 1054.1 38.4 1057.3 36.3 1060.6M49.2 1001.5 51.3 1003.7 54.9 1004.7M71.8 1018.8 75.1 1020.5 78.8 1022.0 81.4 1019.9M84.2 1012.5 81.3 1009.9 80.3 1008.2M64.4 1058.8 61.2 1056.6 59.3 1058.5 55.7 1060.4M97.1 1035.2 96.5 1031.3 97.0 1027.9 93.9 1029.8M89.2 1036.3 86.3 1037.6 83.8 1040.2M83.8 1040.2 80.2 1041.5 76.5 1040.1 72.5 1040.1 71.5 1041.9M71.5 1041.9 67.7 1042.4 66.7 1045.3 67.4 1047.2M67.4 1047.2 71.3 1047.8 74.8 1047.9 77.3 1050.8 77.9 1052.7M102.3 1066.6 102.2 1070.4 99.4 1073.3 96.2 1073.6 94.8 1072.1M94.8 1072.1 93.0 1075.2 89.9 1077.8 90.4 1081.6M90.4 1081.6 87.1 1081.9 85.2 1085.2 87.2 1087.7 89.1 1088.3M102.8 1091.0 106.5 1090.3 110.0 1091.7 108.0 1091.9M116.6 1037.1 112.7 1037.2 110.3 1034.2M110.3 1034.2 110.7 1030.2 111.8 1026.4 115.5 1027.5M120.9 1042.8 117.2 1044.0 113.6 1044.2 111.6 1044.0M96.1 1021.9 98.4 1024.1 100.0 1025.3M60.4 1087.5 62.9 1084.6 64.3 1083.2M64.3 1083.2 67.2 1082.1 70.5 1080.0 72.3 1079.2M72.3 1079.2 71.9 1075.4 73.1 1071.6 71.4 1070.7M129.1 1008.3 125.7 1006.9 121.8 1006.0M121.8 1006.0 121.7 1002.8 125.3 1003.0 125.8 1006.6 124.7 1008.3M106.4 1034.6 105.6 1038.2 104.3 1039.7M99.5 1046.1 96.1 1044.5 95.1 1040.6 94.9 1038.7M75.1 1036.8 79.0 1036.6 81.5 1039.6 79.9 1042.9 77.9 1042.7M86.5 1043.5 82.6 1042.7 80.8 1043.4M69.8 1048.2 67.3 1051.2 67.2 1055.0 69.3 1057.8 69.5 1059.8M69.5 1059.8 71.0 1063.5 69.9 1067.3M69.9 1067.3 66.1 1068.1 64.5 1071.5 62.2 1074.7 60.4 1075.4M74.8 1075.1 78.7 1075.4 75.6 1077.9M49.7 1078.9 48.8 1075.0 48.0 1073.2M44.3 1063.9 42.2 1060.5 38.4 1060.2 38.4 1060.3M108.0 1045.6 104.2 1046.0 100.6 1044.5M61.3 1037.6 58.0 1039.7 54.5 1037.8 50.9 1039.4M53.6 1087.9 53.1 1084.5 51.3 1080.9 52.3 1079.2M52.3 1079.2 51.4 1075.7 47.5 1075.5 45.4 1078.4 46.0 1076.4M46.0 1076.4 45.6 1073.1 45.3 1071.1M45.3 1071.1 42.6 1068.2 41.5 1066.5M37.0 1059.9 40.2 1057.7 43.5 1055.7M43.5 1055.7 45.7 1052.6 45.2 1050.6M52.0 1015.4 52.1 1011.6 50.6 1007.9 49.8 1004.5M49.8 1004.5 46.6 1004.2 46.8 1006.2M46.8 1006.2 48.7 1009.7 47.6 1013.5 46.4 1017.3M46.4 1017.3 47.8 1017.7 49.7 1017.2M86.5 1049.2 83.0 1047.4 80.1 1048.1 79.4 1050.0M65.8 1091.8 62.6 1089.5 64.6 1089.4" fill="none" stroke="#9a5406" stroke-width="1.1" stroke-linejoin="round"/>
<path d="M91.9 1089.5 88.3 1084.7 85.9 1081.5M84.7 1080.0 81.1 1075.2 78.8 1071.9M62.3 1048.3 56.4 1047.9 56.4 1047.9M126.6 1020.0 125.3 1025.9 124.8 1027.8M110.6 1026.9 105.4 1023.9 105.4 1023.9M108.9 1085.1 103.1 1083.8 99.2 1082.8M36.3 1060.6 35.5 1054.7 35.2 1052.7M33.0 1030.8 33.5 1028.7 36.6 1033.8 36.6 1033.8M54.1 996.0 49.9 999.6 49.9 999.6M54.9 1004.7 59.7 1008.3 64.2 1012.3 64.2 1012.3M65.7 1013.6 70.2 1017.6 70.2 1017.6M72.2 1074.9 70.4 1069.2 70.4 1069.2M69.6 1067.4 66.5 1062.2 65.5 1060.5M124.4 1032.1 129.4 1035.4 129.3 1037.5M70.6 988.7 74.8 993.0 76.2 994.5M85.0 1005.3 88.4 1010.3 89.4 1012.0M42.3 1053.2 36.8 1050.7 35.0 1049.9M116.5 1019.6 113.2 1024.7 113.2 1024.7M104.3 1039.7 100.8 1044.5 100.8 1044.5M53.8 1031.3 59.6 1033.0 65.4 1034.6 65.4 1034.6M77.9 1042.7 71.9 1042.0 69.9 1041.9M67.9 1041.6 62.0 1040.6 60.0 1040.3M78.4 1061.8 80.8 1056.3 80.8 1056.3M67.1 1086.4 63.1 1090.8 61.6 1089.6M88.7 1043.3 82.8 1042.4 78.9 1041.6M76.9 1041.1 71.1 1039.8 71.1 1039.8M58.1 1081.2 54.7 1086.2 54.7 1086.2M48.1 1024.7 50.5 1019.1 51.1 1017.3M91.4 1038.3 89.1 1043.8 87.5 1047.5M79.4 1050.0 77.3 1055.6 76.6 1057.5M76.0 1059.4 74.3 1065.2 74.3 1065.2M74.0 1067.1 72.6 1073.0 70.6 1078.6 70.6 1078.6" fill="none" stroke="#9a5406" stroke-width="3.8"/>
<path d="M91.9 1089.5 88.3 1084.7 85.9 1081.5M84.7 1080.0 81.1 1075.2 78.8 1071.9M62.3 1048.3 56.4 1047.9 56.4 1047.9M126.6 1020.0 125.3 1025.9 124.8 1027.8M110.6 1026.9 105.4 1023.9 105.4 1023.9M108.9 1085.1 103.1 1083.8 99.2 1082.8M36.3 1060.6 35.5 1054.7 35.2 1052.7M33.0 1030.8 33.5 1028.7 36.6 1033.8 36.6 1033.8M54.1 996.0 49.9 999.6 49.9 999.6M54.9 1004.7 59.7 1008.3 64.2 1012.3 64.2 1012.3M65.7 1013.6 70.2 1017.6 70.2 1017.6M72.2 1074.9 70.4 1069.2 70.4 1069.2M69.6 1067.4 66.5 1062.2 65.5 1060.5M124.4 1032.1 129.4 1035.4 129.3 1037.5M70.6 988.7 74.8 993.0 76.2 994.5M85.0 1005.3 88.4 1010.3 89.4 1012.0M42.3 1053.2 36.8 1050.7 35.0 1049.9M116.5 1019.6 113.2 1024.7 113.2 1024.7M104.3 1039.7 100.8 1044.5 100.8 1044.5M53.8 1031.3 59.6 1033.0 65.4 1034.6 65.4 1034.6M77.9 1042.7 71.9 1042.0 69.9 1041.9M67.9 1041.6 62.0 1040.6 60.0 1040.3M78.4 1061.8 80.8 1056.3 80.8 1056.3M67.1 1086.4 63.1 1090.8 61.6 1089.6M88.7 1043.3 82.8 1042.4 78.9 1041.6M76.9 1041.1 71.1 1039.8 71.1 1039.8M58.1 1081.2 54.7 1086.2 54.7 1086.2M48.1 1024.7 50.5 1019.1 51.1 1017.3M91.4 1038.3 89.1 1043.8 87.5 1047.5M79.4 1050.0 77.3 1055.6 76.6 1057.5M76.0 1059.4 74.3 1065.2 74.3 1065.2M74.0 1067.1 72.6 1073.0 70.6 1078.6 70.6 1078.6" fill="none" stroke="#e08a1c" stroke-width="3.0"/>
<path d="M88.1 1079.7L83.7 1083.3L83.1 1078.1ZM81.0 1070.2L76.5 1073.6L76.1 1068.4ZM56.6 1045.1L56.1 1050.8L52.0 1047.5ZM122.0 1027.0L127.5 1028.6L123.6 1032.0ZM106.5 1021.3L104.2 1026.5L101.3 1022.2ZM99.9 1080.0L98.5 1085.5L94.9 1081.7ZM38.0 1052.4L32.4 1053.0L34.7 1048.3ZM34.3 1035.4L38.9 1032.2L39.1 1037.4ZM47.2 998.7L52.6 1000.5L48.5 1003.8ZM62.4 1014.5L66.0 1010.1L67.6 1015.1ZM68.4 1019.8L72.0 1015.4L73.6 1020.3ZM73.0 1068.0L67.8 1070.4L68.6 1065.2ZM67.9 1059.0L63.1 1062.1L63.1 1056.8ZM127.8 1035.1L130.9 1039.9L125.6 1039.8ZM74.0 996.4L78.3 992.6L79.1 997.8ZM87.0 1013.4L91.9 1010.5L91.6 1015.8ZM36.1 1047.3L33.9 1052.6L30.9 1048.2ZM110.8 1023.2L115.6 1026.3L110.9 1028.4ZM98.5 1042.8L103.0 1046.3L98.1 1048.0ZM64.6 1037.3L66.2 1031.9L69.6 1035.9ZM70.3 1039.0L69.5 1044.7L65.6 1041.2ZM60.3 1037.5L59.7 1043.2L55.7 1039.9ZM83.4 1057.5L78.3 1055.1L82.7 1052.3ZM63.4 1087.4L59.7 1091.7L58.2 1086.7ZM79.5 1038.8L78.2 1044.3L74.6 1040.5ZM71.6 1037.0L70.5 1042.6L66.7 1038.9ZM52.3 1084.7L57.1 1087.8L52.3 1089.9ZM53.7 1018.4L48.5 1016.1L52.9 1013.2ZM85.0 1046.1L90.0 1048.9L85.4 1051.4ZM73.9 1056.6L79.3 1058.4L75.2 1061.7ZM71.5 1064.6L77.1 1065.7L73.5 1069.5ZM67.9 1077.8L73.3 1079.5L69.3 1082.8Z" fill="#e08a1c"/>
<defs><path id="h128" d="M82.3 1006.1 82.1 1012.1 82.0 1018.1" fill="none"/></defs>
<use href="#h128" stroke="#9a5406" stroke-width="5.8" stroke-linecap="round"/>
<use href="#h128" stroke="#e08a1c" stroke-width="4.6" stroke-linecap="round"/>
<use href="#h128" stroke="#f4f4f4" stroke-width="4.6" stroke-dasharray="1.1 2.2" stroke-linecap="butt" opacity="0.7"/>
<defs><path id="h129" d="M86.4 1036.2 90.7 1040.3 93.6 1043.0" fill="none"/></defs>
<use href="#h129" stroke="#9a5406" stroke-width="5.8" stroke-linecap="round"/>
<use href="#h129" stroke="#e08a1c" stroke-width="4.6" stroke-linecap="round"/>
<use href="#h129" stroke="#f4f4f4" stroke-width="4.6" stroke-dasharray="1.1 2.2" stroke-linecap="butt" opacity="0.7"/>
<defs><path id="h130" d="M63.8 1000.4 69.3 1002.7 74.7 1005.3 76.5 1006.3" fill="none"/></defs>
<use href="#h130" stroke="#9a5406" stroke-width="5.8" stroke-linecap="round"/>
<use href="#h130" stroke="#e08a1c" stroke-width="4.6" stroke-linecap="round"/>
<use href="#h130" stroke="#f4f4f4" stroke-width="4.6" stroke-dasharray="1.1 2.2" stroke-linecap="butt" opacity="0.7"/>
<defs><path id="h131" d="M96.0 1004.0 97.3 1009.9 98.4 1015.8 98.9 1017.7" fill="none"/></defs>
<use href="#h131" stroke="#9a5406" stroke-width="5.8" stroke-linecap="round"/>
<use href="#h131" stroke="#e08a1c" stroke-width="4.6" stroke-linecap="round"/>
<use href="#h131" stroke="#f4f4f4" stroke-width="4.6" stroke-dasharray="1.1 2.2" stroke-linecap="butt" opacity="0.7"/>
<defs><path id="h132" d="M98.9 1017.7 100.2 1023.6 100.6 1025.5" fill="none"/></defs>
<use href="#h132" stroke="#9a5406" stroke-width="5.8" stroke-linecap="round"/>
<use href="#h132" stroke="#e08a1c" stroke-width="4.6" stroke-linecap="round"/>
<use href="#h132" stroke="#f4f4f4" stroke-width="4.6" stroke-dasharray="1.1 2.2" stroke-linecap="butt" opacity="0.7"/>
<defs><path id="h133" d="M100.6 1025.5 101.6 1031.5 101.6 1035.5" fill="none"/></defs>
<use href="#h133" stroke="#9a5406" stroke-width="5.8" stroke-linecap="round"/>
<use href="#h133" stroke="#e08a1c" stroke-width="4.6" stroke-linecap="round"/>
<use href="#h133" stroke="#f4f4f4" stroke-width="4.6" stroke-dasharray="1.1 2.2" stroke-linecap="butt" opacity="0.7"/>
<defs><path id="h134" d="M77.5 1058.8 73.5 1054.3 72.0 1053.0" fill="none"/></defs>
<use href="#h134" stroke="#9a5406" stroke-width="5.8" stroke-linecap="round"/>
<use href="#h134" stroke="#e08a1c" stroke-width="4.6" stroke-linecap="round"/>
<use href="#h134" stroke="#f4f4f4" stroke-width="4.6" stroke-dasharray="1.1 2.2" stroke-linecap="butt" opacity="0.7"/>
<defs><path id="h135" d="M45.6 1057.7 39.7 1056.7 33.7 1055.9 35.5 1055.0" fill="none"/></defs>
<use href="#h135" stroke="#9a5406" stroke-width="5.8" stroke-linecap="round"/>
<use href="#h135" stroke="#e08a1c" stroke-width="4.6" stroke-linecap="round"/>
<use href="#h135" stroke="#f4f4f4" stroke-width="4.6" stroke-dasharray="1.1 2.2" stroke-linecap="butt" opacity="0.7"/>
<defs><path id="h136" d="M39.4 1026.0 36.3 1020.9 35.2 1019.2" fill="none"/></defs>
<use href="#h136" stroke="#9a5406" stroke-width="5.8" stroke-linecap="round"/>
<use href="#h136" stroke="#e08a1c" stroke-width="4.6" stroke-linecap="round"/>
<use href="#h136" stroke="#f4f4f4" stroke-width="4.6" stroke-dasharray="1.1 2.2" stroke-linecap="butt" opacity="0.7"/>
<defs><path id="h137" d="M35.2 1019.2 34.8 1021.4 35.2 1027.4 35.3 1029.4" fill="none"/></defs>
<use href="#h137" stroke="#9a5406" stroke-width="5.8" stroke-linecap="round"/>
<use href="#h137" stroke="#e08a1c" stroke-width="4.6" stroke-linecap="round"/>
<use href="#h137" stroke="#f4f4f4" stroke-width="4.6" stroke-dasharray="1.1 2.2" stroke-linecap="butt" opacity="0.7"/>
<defs><path id="h138" d="M131.6 1037.6 126.0 1035.4 124.1 1034.7" fill="none"/></defs>
<use href="#h138" stroke="#9a5406" stroke-width="5.8" stroke-linecap="round"/>
<use href="#h138" stroke="#e08a1c" stroke-width="4.6" stroke-linecap="round"/>
<use href="#h138" stroke="#f4f4f4" stroke-width="4.6" stroke-dasharray="1.1 2.2" stroke-linecap="butt" opacity="0.7"/>
<defs><path id="h139" d="M125.0 1076.0 119.1 1077.2 117.1 1077.5" fill="none"/></defs>
<use href="#h139" stroke="#9a5406" stroke-width="5.8" stroke-linecap="round"/>
<use href="#h139" stroke="#e08a1c" stroke-width="4.6" stroke-linecap="round"/>
<use href="#h139" stroke="#f4f4f4" stroke-width="4.6" stroke-dasharray="1.1 2.2" stroke-linecap="butt" opacity="0.7"/>
<defs><path id="h140" d="M97.3 1082.3 91.6 1080.4 86.1 1077.9" fill="none"/></defs>
<use href="#h140" stroke="#9a5406" stroke-width="5.8" stroke-linecap="round"/>
<use href="#h140" stroke="#e08a1c" stroke-width="4.6" stroke-linecap="round"/>
<use href="#h140" stroke="#f4f4f4" stroke-width="4.6" stroke-dasharray="1.1 2.2" stroke-linecap="butt" opacity="0.7"/>
<defs><path id="h141" d="M35.0 1050.7 34.5 1044.7 34.1 1040.8" fill="none"/></defs>
<use href="#h141" stroke="#9a5406" stroke-width="5.8" stroke-linecap="round"/>
<use href="#h141" stroke="#e08a1c" stroke-width="4.6" stroke-linecap="round"/>
<use href="#h141" stroke="#f4f4f4" stroke-width="4.6" stroke-dasharray="1.1 2.2" stroke-linecap="butt" opacity="0.7"/>
<defs><path id="h142" d="M34.1 1040.8 33.4 1034.8 33.0 1030.8" fill="none"/></defs>
<use href="#h142" stroke="#9a5406" stroke-width="5.8" stroke-linecap="round"/>
<use href="#h142" stroke="#e08a1c" stroke-width="4.6" stroke-linecap="round"/>
<use href="#h142" stroke="#f4f4f4" stroke-width="4.6" stroke-dasharray="1.1 2.2" stroke-linecap="butt" opacity="0.7"/>
<defs><path id="h143" d="M81.4 1019.9 83.5 1014.3 84.2 1012.5" fill="none"/></defs>
<use href="#h143" stroke="#9a5406" stroke-width="5.8" stroke-linecap="round"/>
<use href="#h143" stroke="#e08a1c" stroke-width="4.6" stroke-linecap="round"/>
<use href="#h143" stroke="#f4f4f4" stroke-width="4.6" stroke-dasharray="1.1 2.2" stroke-linecap="butt" opacity="0.7"/>
<defs><path id="h144" d="M80.3 1008.2 77.4 1002.9 75.6 999.3" fill="none"/></defs>
<use href="#h144" stroke="#9a5406" stroke-width="5.8" stroke-linecap="round"/>
<use href="#h144" stroke="#e08a1c" stroke-width="4.6" stroke-linecap="round"/>
<use href="#h144" stroke="#f4f4f4" stroke-width="4.6" stroke-dasharray="1.1 2.2" stroke-linecap="butt" opacity="0.7"/>
<defs><path id="h145" d="M55.7 1060.4 50.3 1062.9 44.8 1065.4 42.9 1066.0" fill="none"/></defs>
<use href="#h145" stroke="#9a5406" stroke-width="5.8" stroke-linecap="round"/>
<use href="#h145" stroke="#e08a1c" stroke-width="4.6" stroke-linecap="round"/>
<use href="#h145" stroke="#f4f4f4" stroke-width="4.6" stroke-dasharray="1.1 2.2" stroke-linecap="butt" opacity="0.7"/>
<defs><path id="h146" d="M42.9 1066.0 37.4 1068.2 40.5 1063.1 41.6 1061.5" fill="none"/></defs>
<use href="#h146" stroke="#9a5406" stroke-width="5.8" stroke-linecap="round"/>
<use href="#h146" stroke="#e08a1c" stroke-width="4.6" stroke-linecap="round"/>
<use href="#h146" stroke="#f4f4f4" stroke-width="4.6" stroke-dasharray="1.1 2.2" stroke-linecap="butt" opacity="0.7"/>
<defs><path id="h147" d="M41.6 1061.5 44.9 1056.4 46.0 1054.8" fill="none"/></defs>
<use href="#h147" stroke="#9a5406" stroke-width="5.8" stroke-linecap="round"/>
<use href="#h147" stroke="#e08a1c" stroke-width="4.6" stroke-linecap="round"/>
<use href="#h147" stroke="#f4f4f4" stroke-width="4.6" stroke-dasharray="1.1 2.2" stroke-linecap="butt" opacity="0.7"/>
<defs><path id="h148" d="M46.0 1054.8 49.8 1050.1 52.2 1046.9" fill="none"/></defs>
<use href="#h148" stroke="#9a5406" stroke-width="5.8" stroke-linecap="round"/>
<use href="#h148" stroke="#e08a1c" stroke-width="4.6" stroke-linecap="round"/>
<use href="#h148" stroke="#f4f4f4" stroke-width="4.6" stroke-dasharray="1.1 2.2" stroke-linecap="butt" opacity="0.7"/>
<defs><path id="h149" d="M93.9 1029.8 90.4 1034.7 89.2 1036.3" fill="none"/></defs>
<use href="#h149" stroke="#9a5406" stroke-width="5.8" stroke-linecap="round"/>
<use href="#h149" stroke="#e08a1c" stroke-width="4.6" stroke-linecap="round"/>
<use href="#h149" stroke="#f4f4f4" stroke-width="4.6" stroke-dasharray="1.1 2.2" stroke-linecap="butt" opacity="0.7"/>
<defs><path id="h150" d="M89.1 1088.3 95.0 1089.7 100.9 1090.6 102.8 1091.0" fill="none"/></defs>
<use href="#h150" stroke="#9a5406" stroke-width="5.8" stroke-linecap="round"/>
<use href="#h150" stroke="#e08a1c" stroke-width="4.6" stroke-linecap="round"/>
<use href="#h150" stroke="#f4f4f4" stroke-width="4.6" stroke-dasharray="1.1 2.2" stroke-linecap="butt" opacity="0.7"/>
<defs><path id="h151" d="M108.0 1091.9 102.0 1092.4 100.0 1092.7" fill="none"/></defs>
<use href="#h151" stroke="#9a5406" stroke-width="5.8" stroke-linecap="round"/>
<use href="#h151" stroke="#e08a1c" stroke-width="4.6" stroke-linecap="round"/>
<use href="#h151" stroke="#f4f4f4" stroke-width="4.6" stroke-dasharray="1.1 2.2" stroke-linecap="butt" opacity="0.7"/>
<defs><path id="h152" d="M100.0 1092.7 94.1 1093.8 90.7 1092.7" fill="none"/></defs>
<use href="#h152" stroke="#9a5406" stroke-width="5.8" stroke-linecap="round"/>
<use href="#h152" stroke="#e08a1c" stroke-width="4.6" stroke-linecap="round"/>
<use href="#h152" stroke="#f4f4f4" stroke-width="4.6" stroke-dasharray="1.1 2.2" stroke-linecap="butt" opacity="0.7"/>
<defs><path id="h153" d="M124.2 1039.8 118.5 1037.7 116.6 1037.1" fill="none"/></defs>
<use href="#h153" stroke="#9a5406" stroke-width="5.8" stroke-linecap="round"/>
<use href="#h153" stroke="#e08a1c" stroke-width="4.6" stroke-linecap="round"/>
<use href="#h153" stroke="#f4f4f4" stroke-width="4.6" stroke-dasharray="1.1 2.2" stroke-linecap="butt" opacity="0.7"/>
<defs><path id="h154" d="M115.5 1027.5 120.9 1030.2 124.4 1032.1" fill="none"/></defs>
<use href="#h154" stroke="#9a5406" stroke-width="5.8" stroke-linecap="round"/>
<use href="#h154" stroke="#e08a1c" stroke-width="4.6" stroke-linecap="round"/>
<use href="#h154" stroke="#f4f4f4" stroke-width="4.6" stroke-dasharray="1.1 2.2" stroke-linecap="butt" opacity="0.7"/>
<defs><path id="h155" d="M127.7 1038.5 122.5 1041.7 120.9 1042.8" fill="none"/></defs>
<use href="#h155" stroke="#9a5406" stroke-width="5.8" stroke-linecap="round"/>
<use href="#h155" stroke="#e08a1c" stroke-width="4.6" stroke-linecap="round"/>
<use href="#h155" stroke="#f4f4f4" stroke-width="4.6" stroke-dasharray="1.1 2.2" stroke-linecap="butt" opacity="0.7"/>
<defs><path id="h156" d="M66.3 1002.1 68.2 996.4 69.9 990.6 70.6 988.7" fill="none"/></defs>
<use href="#h156" stroke="#9a5406" stroke-width="5.8" stroke-linecap="round"/>
<use href="#h156" stroke="#e08a1c" stroke-width="4.6" stroke-linecap="round"/>
<use href="#h156" stroke="#f4f4f4" stroke-width="4.6" stroke-dasharray="1.1 2.2" stroke-linecap="butt" opacity="0.7"/>
<defs><path id="h157" d="M77.5 996.0 81.3 1000.6 85.0 1005.3" fill="none"/></defs>
<use href="#h157" stroke="#9a5406" stroke-width="5.8" stroke-linecap="round"/>
<use href="#h157" stroke="#e08a1c" stroke-width="4.6" stroke-linecap="round"/>
<use href="#h157" stroke="#f4f4f4" stroke-width="4.6" stroke-dasharray="1.1 2.2" stroke-linecap="butt" opacity="0.7"/>
<defs><path id="h158" d="M90.4 1013.7 93.7 1018.7 96.1 1021.9" fill="none"/></defs>
<use href="#h158" stroke="#9a5406" stroke-width="5.8" stroke-linecap="round"/>
<use href="#h158" stroke="#e08a1c" stroke-width="4.6" stroke-linecap="round"/>
<use href="#h158" stroke="#f4f4f4" stroke-width="4.6" stroke-dasharray="1.1 2.2" stroke-linecap="butt" opacity="0.7"/>
<defs><path id="h159" d="M100.0 1025.3 104.8 1028.9 108.1 1031.2" fill="none"/></defs>
<use href="#h159" stroke="#9a5406" stroke-width="5.8" stroke-linecap="round"/>
<use href="#h159" stroke="#e08a1c" stroke-width="4.6" stroke-linecap="round"/>
<use href="#h159" stroke="#f4f4f4" stroke-width="4.6" stroke-dasharray="1.1 2.2" stroke-linecap="butt" opacity="0.7"/>
<defs><path id="h160" d="M71.4 1070.7 66.3 1067.6 62.9 1065.4" fill="none"/></defs>
<use href="#h160" stroke="#9a5406" stroke-width="5.8" stroke-linecap="round"/>
<use href="#h160" stroke="#e08a1c" stroke-width="4.6" stroke-linecap="round"/>
<use href="#h160" stroke="#f4f4f4" stroke-width="4.6" stroke-dasharray="1.1 2.2" stroke-linecap="butt" opacity="0.7"/>
<defs><path id="h161" d="M62.9 1065.4 57.9 1062.1 56.2 1061.0" fill="none"/></defs>
<use href="#h161" stroke="#9a5406" stroke-width="5.8" stroke-linecap="round"/>
<use href="#h161" stroke="#e08a1c" stroke-width="4.6" stroke-linecap="round"/>
<use href="#h161" stroke="#f4f4f4" stroke-width="4.6" stroke-dasharray="1.1 2.2" stroke-linecap="butt" opacity="0.7"/>
<defs><path id="h162" d="M56.2 1061.0 51.1 1057.9 49.4 1056.9" fill="none"/></defs>
<use href="#h162" stroke="#9a5406" stroke-width="5.8" stroke-linecap="round"/>
<use href="#h162" stroke="#e08a1c" stroke-width="4.6" stroke-linecap="round"/>
<use href="#h162" stroke="#f4f4f4" stroke-width="4.6" stroke-dasharray="1.1 2.2" stroke-linecap="butt" opacity="0.7"/>
<defs><path id="h163" d="M49.4 1056.9 44.0 1054.1 42.3 1053.2" fill="none"/></defs>
<use href="#h163" stroke="#9a5406" stroke-width="5.8" stroke-linecap="round"/>
<use href="#h163" stroke="#e08a1c" stroke-width="4.6" stroke-linecap="round"/>
<use href="#h163" stroke="#f4f4f4" stroke-width="4.6" stroke-dasharray="1.1 2.2" stroke-linecap="butt" opacity="0.7"/>
<defs><path id="h164" d="M124.7 1008.3 121.2 1013.2 117.6 1018.0 116.5 1019.6" fill="none"/></defs>
<use href="#h164" stroke="#9a5406" stroke-width="5.8" stroke-linecap="round"/>
<use href="#h164" stroke="#e08a1c" stroke-width="4.6" stroke-linecap="round"/>
<use href="#h164" stroke="#f4f4f4" stroke-width="4.6" stroke-dasharray="1.1 2.2" stroke-linecap="butt" opacity="0.7"/>
<defs><path id="h165" d="M112.2 1026.4 108.8 1031.3 106.4 1034.6" fill="none"/></defs>
<use href="#h165" stroke="#9a5406" stroke-width="5.8" stroke-linecap="round"/>
<use href="#h165" stroke="#e08a1c" stroke-width="4.6" stroke-linecap="round"/>
<use href="#h165" stroke="#f4f4f4" stroke-width="4.6" stroke-dasharray="1.1 2.2" stroke-linecap="butt" opacity="0.7"/>
<defs><path id="h166" d="M40.2 1028.2 46.1 1029.4 51.9 1030.7 53.8 1031.3" fill="none"/></defs>
<use href="#h166" stroke="#9a5406" stroke-width="5.8" stroke-linecap="round"/>
<use href="#h166" stroke="#e08a1c" stroke-width="4.6" stroke-linecap="round"/>
<use href="#h166" stroke="#f4f4f4" stroke-width="4.6" stroke-dasharray="1.1 2.2" stroke-linecap="butt" opacity="0.7"/>
<defs><path id="h167" d="M67.3 1035.2 73.1 1036.5 75.1 1036.8" fill="none"/></defs>
<use href="#h167" stroke="#9a5406" stroke-width="5.8" stroke-linecap="round"/>
<use href="#h167" stroke="#e08a1c" stroke-width="4.6" stroke-linecap="round"/>
<use href="#h167" stroke="#f4f4f4" stroke-width="4.6" stroke-dasharray="1.1 2.2" stroke-linecap="butt" opacity="0.7"/>
<defs><path id="h168" d="M81.7 1054.5 84.3 1049.1 86.5 1043.5" fill="none"/></defs>
<use href="#h168" stroke="#9a5406" stroke-width="5.8" stroke-linecap="round"/>
<use href="#h168" stroke="#e08a1c" stroke-width="4.6" stroke-linecap="round"/>
<use href="#h168" stroke="#f4f4f4" stroke-width="4.6" stroke-dasharray="1.1 2.2" stroke-linecap="butt" opacity="0.7"/>
<defs><path id="h169" d="M80.8 1043.4 75.3 1045.8 69.8 1048.2" fill="none"/></defs>
<use href="#h169" stroke="#9a5406" stroke-width="5.8" stroke-linecap="round"/>
<use href="#h169" stroke="#e08a1c" stroke-width="4.6" stroke-linecap="round"/>
<use href="#h169" stroke="#f4f4f4" stroke-width="4.6" stroke-dasharray="1.1 2.2" stroke-linecap="butt" opacity="0.7"/>
<defs><path id="h170" d="M75.6 1077.9 71.3 1082.1 67.1 1086.4" fill="none"/></defs>
<use href="#h170" stroke="#9a5406" stroke-width="5.8" stroke-linecap="round"/>
<use href="#h170" stroke="#e08a1c" stroke-width="4.6" stroke-linecap="round"/>
<use href="#h170" stroke="#f4f4f4" stroke-width="4.6" stroke-dasharray="1.1 2.2" stroke-linecap="butt" opacity="0.7"/>
<defs><path id="h171" d="M60.0 1088.3 55.5 1084.3 51.2 1080.2 49.7 1078.9" fill="none"/></defs>
<use href="#h171" stroke="#9a5406" stroke-width="5.8" stroke-linecap="round"/>
<use href="#h171" stroke="#e08a1c" stroke-width="4.6" stroke-linecap="round"/>
<use href="#h171" stroke="#f4f4f4" stroke-width="4.6" stroke-dasharray="1.1 2.2" stroke-linecap="butt" opacity="0.7"/>
<defs><path id="h172" d="M48.0 1073.2 45.7 1067.6 44.3 1063.9" fill="none"/></defs>
<use href="#h172" stroke="#9a5406" stroke-width="5.8" stroke-linecap="round"/>
<use href="#h172" stroke="#e08a1c" stroke-width="4.6" stroke-linecap="round"/>
<use href="#h172" stroke="#f4f4f4" stroke-width="4.6" stroke-dasharray="1.1 2.2" stroke-linecap="butt" opacity="0.7"/>
<defs><path id="h173" d="M115.5 1036.2 111.6 1040.8 108.0 1045.6" fill="none"/></defs>
<use href="#h173" stroke="#9a5406" stroke-width="5.8" stroke-linecap="round"/>
<use href="#h173" stroke="#e08a1c" stroke-width="4.6" stroke-linecap="round"/>
<use href="#h173" stroke="#f4f4f4" stroke-width="4.6" stroke-dasharray="1.1 2.2" stroke-linecap="butt" opacity="0.7"/>
<defs><path id="h174" d="M100.6 1044.5 94.6 1044.0 88.7 1043.3" fill="none"/></defs>
<use href="#h174" stroke="#9a5406" stroke-width="5.8" stroke-linecap="round"/>
<use href="#h174" stroke="#e08a1c" stroke-width="4.6" stroke-linecap="round"/>
<use href="#h174" stroke="#f4f4f4" stroke-width="4.6" stroke-dasharray="1.1 2.2" stroke-linecap="butt" opacity="0.7"/>
<defs><path id="h175" d="M69.1 1039.4 63.2 1038.1 61.3 1037.6" fill="none"/></defs>
<use href="#h175" stroke="#9a5406" stroke-width="5.8" stroke-linecap="round"/>
<use href="#h175" stroke="#e08a1c" stroke-width="4.6" stroke-linecap="round"/>
<use href="#h175" stroke="#f4f4f4" stroke-width="4.6" stroke-dasharray="1.1 2.2" stroke-linecap="butt" opacity="0.7"/>
<defs><path id="h176" d="M41.5 1066.5 38.0 1061.6 37.0 1059.9" fill="none"/></defs>
<use href="#h176" stroke="#9a5406" stroke-width="5.8" stroke-linecap="round"/>
<use href="#h176" stroke="#e08a1c" stroke-width="4.6" stroke-linecap="round"/>
<use href="#h176" stroke="#f4f4f4" stroke-width="4.6" stroke-dasharray="1.1 2.2" stroke-linecap="butt" opacity="0.7"/>
<defs><path id="h177" d="M45.2 1050.6 43.5 1044.9 41.5 1039.2 40.9 1037.3" fill="none"/></defs>
<use href="#h177" stroke="#9a5406" stroke-width="5.8" stroke-linecap="round"/>
<use href="#h177" stroke="#e08a1c" stroke-width="4.6" stroke-linecap="round"/>
<use href="#h177" stroke="#f4f4f4" stroke-width="4.6" stroke-dasharray="1.1 2.2" stroke-linecap="butt" opacity="0.7"/>
<defs><path id="h178" d="M41.4 1036.9 44.6 1031.9 47.4 1026.5 48.1 1024.7" fill="none"/></defs>
<use href="#h178" stroke="#9a5406" stroke-width="5.8" stroke-linecap="round"/>
<use href="#h178" stroke="#e08a1c" stroke-width="4.6" stroke-linecap="round"/>
<use href="#h178" stroke="#f4f4f4" stroke-width="4.6" stroke-dasharray="1.1 2.2" stroke-linecap="butt" opacity="0.7"/>
<defs><path id="h179" d="M70.0 1080.5 68.0 1086.2 65.8 1091.8" fill="none"/></defs>
<use href="#h179" stroke="#9a5406" stroke-width="5.8" stroke-linecap="round"/>
<use href="#h179" stroke="#e08a1c" stroke-width="4.6" stroke-linecap="round"/>
<use href="#h179" stroke="#f4f4f4" stroke-width="4.6" stroke-dasharray="1.1 2.2" stroke-linecap="butt" opacity="0.7"/>
<line x1="110" y1="1050" x2="160" y2="998" stroke="#9a5406" stroke-width="6.5" stroke-linecap="round"/>
<line x1="110" y1="1050" x2="160" y2="998" stroke="#e08a1c" stroke-width="5.2" stroke-linecap="round"/>
<line x1="110" y1="1050" x2="160" y2="998" stroke="#f2f2f2" stroke-width="4.8" stroke-dasharray="1.1 2.2" opacity="0.75"/>
<line x1="102" y1="1040" x2="150" y2="992" stroke="#9a5406" stroke-width="6.5" stroke-linecap="round"/>
<line x1="102" y1="1040" x2="150" y2="992" stroke="#e08a1c" stroke-width="5.2" stroke-linecap="round"/>
<line x1="102" y1="1040" x2="150" y2="992" stroke="#f2f2f2" stroke-width="4.8" stroke-dasharray="1.1 2.2" opacity="0.75"/>
<line x1="120" y1="1054" x2="166" y2="1006" stroke="#9a5406" stroke-width="6.5" stroke-linecap="round"/>
<line x1="120" y1="1054" x2="166" y2="1006" stroke="#e08a1c" stroke-width="5.2" stroke-linecap="round"/>
<line x1="120" y1="1054" x2="166" y2="1006" stroke="#f2f2f2" stroke-width="4.8" stroke-dasharray="1.1 2.2" opacity="0.75"/>
<path d="M150 992C160 982 168 976 180 962" fill="none" stroke="#e08a1c" stroke-width="1.3" />
<path d="M105 1081L135 1094.5" fill="none" stroke="#444" stroke-width="0.8" />
<text x="47" y="956.8" font-size="21" font-weight="bold" fill="#c0600c">AF CM49</text>
<text x="161.0" y="1021.2" font-size="10" font-weight="bold" fill="#111" text-anchor="start" >3HB</text>
<text x="158.4" y="1076.2" font-size="10" font-weight="bold" fill="#111" text-anchor="start" >TIM barrel domain</text>
<text x="115.6" y="1105.4" font-size="8.6" font-weight="bold" fill="#111" text-anchor="start" >active site D171-E173</text>
<radialGradient id="envJ1" cx="0.45" cy="0.45" r="0.62"><stop offset="0" stop-color="#e2e2e2"/><stop offset="0.7" stop-color="#d6d6d6"/><stop offset="0.86" stop-color="#c4c4c4"/><stop offset="1" stop-color="#a4a4a4"/></radialGradient>
<path d="M236.1 1007.3C235.8 999.7 236.1 991.5 238.0 984.5C239.9 977.5 243.6 970.2 247.4 965.5C251.2 960.8 255.3 958.3 260.7 956.1C266.1 953.9 273.4 952.6 279.7 952.3C286.0 952.0 293.0 953.2 298.7 954.2C304.4 955.2 309.5 958.0 313.9 958.0C318.3 958.0 320.1 955.5 325.2 954.2C330.2 952.9 337.9 951.0 344.2 950.4C350.5 949.8 357.5 949.8 363.2 950.4C368.9 951.0 374.0 952.3 378.4 954.2C382.8 956.1 387.0 957.9 389.8 961.7C392.6 965.5 394.1 971.2 395.4 976.9C396.6 982.6 396.7 991.1 397.3 995.9C397.9 1000.6 396.7 1003.5 399.2 1005.4C401.7 1007.3 407.8 1005.1 412.5 1007.3C417.2 1009.5 423.9 1014.3 427.7 1018.7C431.5 1023.1 434.4 1027.6 435.3 1033.9C436.2 1040.2 435.3 1049.6 433.4 1056.6C431.5 1063.5 428.0 1069.9 423.9 1075.6C419.8 1081.3 414.4 1087.3 408.7 1090.8C403.0 1094.3 395.5 1095.2 389.8 1096.5C384.1 1097.8 379.7 1097.5 374.6 1098.4C369.5 1099.4 363.2 1099.7 359.4 1102.2C355.6 1104.7 355.6 1110.3 351.8 1113.5C348.0 1116.7 341.7 1119.2 336.6 1121.1C331.5 1123.0 325.8 1124.9 321.4 1124.9C317.0 1124.9 313.9 1123.6 310.1 1121.1C306.3 1118.6 302.5 1113.6 298.7 1109.8C294.9 1106.0 291.1 1102.8 287.3 1098.4C283.5 1094.0 279.7 1088.3 275.9 1083.2C272.1 1078.1 268.9 1073.7 264.5 1068.0C260.1 1062.3 253.4 1055.3 249.3 1049.0C245.2 1042.7 242.0 1037.0 239.8 1030.0C237.6 1023.0 236.4 1014.9 236.1 1007.3Z" fill="url(#envJ1)" stroke="#6a6a6a" stroke-width="0.7"/>
<radialGradient id="envJ2" cx="0.45" cy="0.45" r="0.62"><stop offset="0" stop-color="#e2e2e2"/><stop offset="0.7" stop-color="#d6d6d6"/><stop offset="0.86" stop-color="#c4c4c4"/><stop offset="1" stop-color="#a4a4a4"/></radialGradient>
<path d="M485.8 1042.9C484.6 1034.8 486.5 1030.4 489.6 1024.2C492.7 1018.0 499.5 1010.6 504.5 1005.6C509.5 1000.6 515.7 999.5 519.4 994.5C523.1 989.5 523.7 981.4 526.8 975.8C529.9 970.2 533.0 964.7 538.0 961.0C543.0 957.3 548.5 955.1 556.6 953.5C564.7 951.9 578.3 951.3 586.4 951.6C594.5 951.9 598.8 955.4 605.0 955.4C611.2 955.4 616.8 952.2 623.6 951.6C630.4 951.0 639.1 950.0 645.9 951.6C652.7 953.2 659.0 957.0 664.6 961.0C670.2 965.0 675.5 970.2 679.4 975.8C683.3 981.4 686.6 984.6 688.0 994.5C689.4 1004.4 691.3 1027.3 688.0 1035.4C684.7 1043.5 674.7 1039.2 668.3 1042.9C661.9 1046.6 654.7 1051.6 649.7 1057.8C644.7 1064.0 641.6 1072.7 638.5 1080.1C635.4 1087.5 634.7 1096.8 631.0 1102.4C627.3 1108.0 622.4 1111.7 616.2 1113.6C610.0 1115.5 601.2 1114.5 593.8 1113.6C586.3 1112.7 578.3 1111.1 571.5 1108.0C564.7 1104.9 559.1 1097.8 552.9 1095.0C546.7 1092.2 540.4 1092.5 534.2 1091.3C528.0 1090.0 521.8 1090.6 515.6 1087.5C509.4 1084.4 502.0 1080.0 497.0 1072.6C492.0 1065.2 487.0 1051.0 485.8 1042.9Z" fill="url(#envJ2)" stroke="#6a6a6a" stroke-width="0.7"/>
<path d="M308.6 1106.4 308.6 1105.7 312.6 1105.3 311.7 1107.1 309.7 1107.3M309.7 1107.3 308.8 1103.5 308.3 1101.6M301.5 1087.1 297.7 1086.7 295.6 1089.9M298.5 1083.7 302.0 1082.3 304.9 1084.8M278.5 994.4 281.0 991.5 284.7 992.4M288.2 1006.0 286.4 1008.6 283.5 1011.3 281.5 1011.5M284.4 1038.3 286.8 1035.8 284.9 1032.5M281.3 1014.9 277.8 1013.4 274.8 1015.7M280.1 1028.7 283.9 1029.1 285.9 1025.8M282.6 1016.4 285.1 1013.5 288.8 1014.4M326.6 1119.6 325.6 1115.8 321.9 1115.3 318.4 1114.7 318.1 1112.7M318.1 1112.7 316.5 1111.2 316.5 1113.2M321.4 1100.2 319.5 1096.8 315.7 1097.0M322.1 1113.8 325.9 1114.1 327.9 1110.9M282.0 1063.7 278.1 1063.4 276.2 1066.7M289.4 1080.6 293.1 1081.6 293.8 1085.4M278.9 1001.9 275.7 999.9 272.6 997.5 270.7 996.9M288.6 1011.4 289.4 1015.3 286.3 1017.4 282.6 1016.1M276.0 989.0 272.3 988.5 270.1 991.6M313.4 1037.7 311.2 1034.3 311.0 1032.4M311.0 1032.4 307.6 1031.1 303.6 1031.0M304.4 1031.9 300.8 1030.7 298.1 1033.5M310.0 1065.2 313.6 1066.3 316.2 1063.4M266.6 1031.0 268.5 1034.5 270.1 1038.0 269.8 1040.0M269.8 1040.0 270.9 1043.7 270.8 1045.7M260.5 1017.7 260.5 1013.9 261.4 1012.7 263.3 1012.4M263.3 1012.4 261.8 1009.4 260.2 1008.1M260.2 1008.1 263.7 1008.7 267.0 1010.7M269.5 1020.3 266.7 1022.9 263.1 1021.5M281.0 1042.7 282.4 1044.5 279.3 1043.7 275.4 1043.8 273.4 1043.4M273.4 1043.4 271.6 1039.9 272.0 1036.6 269.9 1033.2M269.9 1033.2 266.2 1031.7 262.9 1033.0 261.0 1032.6M261.0 1032.6 259.2 1029.7 260.7 1026.6M306.1 1074.9 305.2 1071.1 307.6 1067.9 311.6 1068.1 312.9 1069.6M315.9 1079.1 319.6 1080.0 322.0 1077.0M316.2 1060.0 312.5 1059.3 310.1 1062.3M311.2 1073.7 313.6 1070.9 316.0 1068.4 314.8 1064.6M306.3 1046.5 304.3 1043.9 300.6 1042.6M325.6 1090.2 323.3 1087.0 320.5 1084.5M320.5 1084.5 316.6 1085.6 315.3 1087.0M268.7 1032.1 272.2 1033.3 275.0 1030.6 276.7 1029.5M272.8 1020.3 269.0 1019.7 266.8 1022.9M321.6 1052.7 321.6 1049.0 323.4 1045.7 320.5 1048.5M320.5 1048.5 316.5 1048.5 312.9 1050.1 309.5 1052.2 308.6 1054.0M314.4 1070.9 312.3 1074.1 308.5 1073.7M305.1 1027.0 301.5 1025.7 298.7 1028.3M298.5 1044.3 295.2 1046.3 292.0 1044.2M283.3 1014.2 285.5 1011.1 289.3 1011.7M305.3 1066.1 308.7 1067.9 311.8 1065.7M295.9 1029.1 298.0 1025.9 301.8 1026.3M314.4 1100.5 316.6 1103.7 316.9 1107.7 320.4 1108.8 321.3 1106.9M315.2 1090.0 317.8 1087.2 321.5 1088.3M276.9 1048.3 273.5 1046.7 273.8 1043.2 274.1 1039.6M274.1 1039.6 270.9 1037.4 267.7 1035.0 267.1 1033.1M267.1 1033.1 264.2 1030.8 260.3 1030.7 258.3 1028.6 259.7 1030.1M259.7 1030.1 261.7 1033.5 264.2 1036.5 263.2 1038.3M263.2 1038.3 263.0 1041.6 265.1 1044.9M302.5 1086.2 305.2 1083.5 308.8 1084.7M310.7 1096.5 314.3 1097.8 317.0 1095.1M313.4 1083.6 315.8 1080.7 319.5 1081.4M322.2 1097.2 325.8 1098.7 328.7 1096.2M298.0 1045.4 294.3 1044.4 291.8 1047.3M294.1 1059.1 291.3 1061.7 287.7 1060.3M283.5 1047.0 286.0 1044.1 289.7 1045.0M298.1 1086.5 295.2 1083.8 292.9 1081.2M291.8 1061.2 288.6 1059.2 285.3 1061.2M291.3 1078.1 289.1 1081.3 285.3 1080.7M271.1 1036.8 273.9 1035.7 275.1 1032.6 271.3 1031.6M308.6 1081.0 309.3 1077.8 306.9 1074.7 304.1 1072.5M304.1 1072.5 301.0 1074.7 302.0 1078.2 302.3 1080.2M306.3 1093.6 310.0 1094.5 312.5 1091.6M308.3 1082.5 304.5 1082.0 302.3 1085.1M311.8 1046.5 311.9 1043.0 311.6 1039.1 312.1 1037.2M312.1 1037.2 308.5 1036.0 305.1 1034.0M305.1 1034.0 301.4 1033.6 298.0 1032.4 294.5 1030.7M294.5 1030.7 291.5 1031.2 289.1 1033.5M289.1 1033.5 289.4 1036.4 286.9 1039.3M316.3 1108.0 318.1 1111.6 317.1 1110.9M317.1 1110.9 318.1 1107.8 316.6 1104.4 316.3 1100.4M316.3 1100.4 318.8 1097.3 322.4 1098.0 326.3 1097.3M288.4 1047.9 285.7 1050.6 282.1 1049.3M281.5 1029.4 284.8 1027.3 288.0 1029.3M293.0 1038.0 291.1 1041.3 287.3 1041.1M280.7 1028.8 276.9 1028.5 274.9 1031.8M269.8 1054.2 273.3 1055.6 276.1 1053.1M273.0 1039.4 269.4 1038.4 266.8 1041.2M271.9 1049.7 275.7 1049.7 277.3 1046.2" fill="none" stroke="#4a4a4a" stroke-width="0.9" stroke-linejoin="round"/>
<path d="M308.3 1101.6 305.8 1096.2 303.1 1090.8 302.3 1089.0M295.6 1089.9 297.1 1095.7 297.5 1089.7 298.1 1085.7M284.9 1013.4 283.3 1007.6 281.2 1002.0 279.2 996.3 279.2 996.3M284.7 992.4 286.1 998.3 287.7 1004.0 287.7 1004.0M284.9 1032.5 283.5 1026.7 282.3 1020.9 281.5 1016.9M274.8 1015.7 276.8 1021.4 279.2 1026.9 279.2 1026.9M285.9 1025.8 283.8 1020.2 283.2 1018.3M316.5 1113.2 316.7 1109.0 319.5 1103.7 320.4 1101.9M315.7 1097.0 317.5 1102.7 319.6 1108.3 321.2 1112.0M288.4 1078.3 286.4 1072.7 283.9 1067.2 282.9 1065.5M276.2 1066.7 279.8 1071.5 283.7 1076.1 283.7 1076.1M285.1 1077.5 286.3 1083.3 286.4 1083.2 287.9 1082.0M270.7 996.9 268.4 991.4 267.8 989.5M267.1 987.6 265.5 981.8 271.3 983.5 271.3 983.5M273.2 984.0 274.6 989.8 276.1 995.6 277.6 1001.4 277.6 1001.4M282.6 1016.1 281.1 1010.3 280.6 1008.3M280.1 1006.4 279.5 1000.4 278.2 994.6 276.9 990.8M303.6 1031.0 302.1 1025.1 300.9 1019.3 300.5 1017.3M300.1 1015.4 297.8 1009.8 295.6 1004.2 295.6 1004.2M306.9 1041.6 305.4 1035.8 304.9 1033.9M298.1 1033.5 300.4 1039.0 302.9 1044.5 303.8 1046.3M304.5 1048.1 306.7 1053.7 308.3 1059.5 309.4 1063.3M316.2 1063.4 315.3 1057.5 314.8 1051.5 314.7 1045.5 314.7 1045.5M270.8 1045.7 272.9 1051.4 275.2 1056.9 277.8 1062.3 277.8 1062.3M267.0 1010.7 268.7 1016.4 269.1 1018.4M263.1 1021.5 262.6 1015.6 262.4 1009.6 262.4 1009.6M310.1 1086.3 308.0 1080.6 306.7 1076.9M312.9 1069.6 314.6 1075.3 315.2 1077.2M322.0 1077.0 320.2 1071.3 318.1 1065.7 316.9 1061.9M314.8 1064.6 312.6 1059.0 310.0 1053.6 307.3 1048.3 307.3 1048.3M315.3 1087.0 317.4 1092.6 319.9 1098.1 322.1 1103.7 322.1 1103.7M323.0 1105.4 323.8 1111.4 324.2 1117.4 323.2 1119.9 323.2 1119.9M260.8 1011.6 260.7 1009.6 261.9 1015.5 262.3 1017.5M262.7 1019.4 265.1 1024.9 267.7 1030.3 267.7 1030.3M276.7 1029.5 274.5 1023.9 273.6 1022.1M308.6 1054.0 309.9 1059.8 311.9 1065.5 313.5 1069.1M307.4 1036.7 305.9 1030.9 305.4 1029.0M298.7 1028.3 298.6 1034.3 298.6 1040.3 298.5 1042.3M292.0 1044.2 291.3 1038.3 291.0 1032.3 291.0 1030.3M290.9 1028.3 287.8 1023.2 285.0 1017.8 284.1 1016.1M304.4 1056.2 304.9 1062.2 305.2 1064.1M311.8 1065.7 310.0 1060.0 307.9 1054.4 305.6 1048.8 305.6 1048.8M304.8 1047.0 301.9 1041.7 299.3 1036.3 296.8 1030.9 296.8 1030.9M321.3 1106.9 319.1 1101.3 317.1 1095.7 315.7 1091.9M305.5 1097.8 303.9 1092.0 302.9 1088.1M308.8 1084.7 309.5 1090.6 310.2 1094.6M317.0 1095.1 315.4 1089.3 314.1 1085.5M319.5 1081.4 320.5 1087.4 321.6 1093.2 321.9 1095.2M301.7 1056.8 299.9 1051.1 298.6 1047.3M291.8 1047.3 292.8 1053.2 293.7 1057.1M287.7 1060.3 286.0 1054.6 284.1 1048.9 284.1 1048.9M292.9 1081.2 292.2 1075.2 292.0 1069.2 291.8 1063.2 291.8 1063.2M285.3 1061.2 287.0 1066.9 289.1 1072.5 290.5 1076.3M285.3 1080.7 283.5 1075.0 282.9 1073.1M263.7 1029.9 261.5 1024.3 259.1 1018.8 264.8 1020.7 264.8 1020.7M266.7 1021.4 268.6 1027.1 270.2 1032.9 270.6 1034.8M302.3 1080.2 303.9 1086.0 305.7 1091.7 305.7 1091.7M312.5 1091.6 309.9 1086.2 309.1 1084.4M286.4 1038.1 287.6 1044.0 288.0 1045.9M282.1 1049.3 281.7 1043.4 281.5 1037.4 281.5 1031.4 281.5 1031.4M288.0 1029.3 291.0 1034.5 292.1 1036.3M287.3 1041.1 284.5 1035.9 281.6 1030.6 281.6 1030.6M265.8 1036.7 267.4 1042.5 268.5 1048.4 269.4 1052.3M276.1 1053.1 274.7 1047.2 273.6 1041.3 273.6 1041.3M266.8 1041.2 269.7 1046.4 270.8 1048.1" fill="none" stroke="#4a4a4a" stroke-width="3.8"/>
<path d="M308.3 1101.6 305.8 1096.2 303.1 1090.8 302.3 1089.0M295.6 1089.9 297.1 1095.7 297.5 1089.7 298.1 1085.7M284.9 1013.4 283.3 1007.6 281.2 1002.0 279.2 996.3 279.2 996.3M284.7 992.4 286.1 998.3 287.7 1004.0 287.7 1004.0M284.9 1032.5 283.5 1026.7 282.3 1020.9 281.5 1016.9M274.8 1015.7 276.8 1021.4 279.2 1026.9 279.2 1026.9M285.9 1025.8 283.8 1020.2 283.2 1018.3M316.5 1113.2 316.7 1109.0 319.5 1103.7 320.4 1101.9M315.7 1097.0 317.5 1102.7 319.6 1108.3 321.2 1112.0M288.4 1078.3 286.4 1072.7 283.9 1067.2 282.9 1065.5M276.2 1066.7 279.8 1071.5 283.7 1076.1 283.7 1076.1M285.1 1077.5 286.3 1083.3 286.4 1083.2 287.9 1082.0M270.7 996.9 268.4 991.4 267.8 989.5M267.1 987.6 265.5 981.8 271.3 983.5 271.3 983.5M273.2 984.0 274.6 989.8 276.1 995.6 277.6 1001.4 277.6 1001.4M282.6 1016.1 281.1 1010.3 280.6 1008.3M280.1 1006.4 279.5 1000.4 278.2 994.6 276.9 990.8M303.6 1031.0 302.1 1025.1 300.9 1019.3 300.5 1017.3M300.1 1015.4 297.8 1009.8 295.6 1004.2 295.6 1004.2M306.9 1041.6 305.4 1035.8 304.9 1033.9M298.1 1033.5 300.4 1039.0 302.9 1044.5 303.8 1046.3M304.5 1048.1 306.7 1053.7 308.3 1059.5 309.4 1063.3M316.2 1063.4 315.3 1057.5 314.8 1051.5 314.7 1045.5 314.7 1045.5M270.8 1045.7 272.9 1051.4 275.2 1056.9 277.8 1062.3 277.8 1062.3M267.0 1010.7 268.7 1016.4 269.1 1018.4M263.1 1021.5 262.6 1015.6 262.4 1009.6 262.4 1009.6M310.1 1086.3 308.0 1080.6 306.7 1076.9M312.9 1069.6 314.6 1075.3 315.2 1077.2M322.0 1077.0 320.2 1071.3 318.1 1065.7 316.9 1061.9M314.8 1064.6 312.6 1059.0 310.0 1053.6 307.3 1048.3 307.3 1048.3M315.3 1087.0 317.4 1092.6 319.9 1098.1 322.1 1103.7 322.1 1103.7M323.0 1105.4 323.8 1111.4 324.2 1117.4 323.2 1119.9 323.2 1119.9M260.8 1011.6 260.7 1009.6 261.9 1015.5 262.3 1017.5M262.7 1019.4 265.1 1024.9 267.7 1030.3 267.7 1030.3M276.7 1029.5 274.5 1023.9 273.6 1022.1M308.6 1054.0 309.9 1059.8 311.9 1065.5 313.5 1069.1M307.4 1036.7 305.9 1030.9 305.4 1029.0M298.7 1028.3 298.6 1034.3 298.6 1040.3 298.5 1042.3M292.0 1044.2 291.3 1038.3 291.0 1032.3 291.0 1030.3M290.9 1028.3 287.8 1023.2 285.0 1017.8 284.1 1016.1M304.4 1056.2 304.9 1062.2 305.2 1064.1M311.8 1065.7 310.0 1060.0 307.9 1054.4 305.6 1048.8 305.6 1048.8M304.8 1047.0 301.9 1041.7 299.3 1036.3 296.8 1030.9 296.8 1030.9M321.3 1106.9 319.1 1101.3 317.1 1095.7 315.7 1091.9M305.5 1097.8 303.9 1092.0 302.9 1088.1M308.8 1084.7 309.5 1090.6 310.2 1094.6M317.0 1095.1 315.4 1089.3 314.1 1085.5M319.5 1081.4 320.5 1087.4 321.6 1093.2 321.9 1095.2M301.7 1056.8 299.9 1051.1 298.6 1047.3M291.8 1047.3 292.8 1053.2 293.7 1057.1M287.7 1060.3 286.0 1054.6 284.1 1048.9 284.1 1048.9M292.9 1081.2 292.2 1075.2 292.0 1069.2 291.8 1063.2 291.8 1063.2M285.3 1061.2 287.0 1066.9 289.1 1072.5 290.5 1076.3M285.3 1080.7 283.5 1075.0 282.9 1073.1M263.7 1029.9 261.5 1024.3 259.1 1018.8 264.8 1020.7 264.8 1020.7M266.7 1021.4 268.6 1027.1 270.2 1032.9 270.6 1034.8M302.3 1080.2 303.9 1086.0 305.7 1091.7 305.7 1091.7M312.5 1091.6 309.9 1086.2 309.1 1084.4M286.4 1038.1 287.6 1044.0 288.0 1045.9M282.1 1049.3 281.7 1043.4 281.5 1037.4 281.5 1031.4 281.5 1031.4M288.0 1029.3 291.0 1034.5 292.1 1036.3M287.3 1041.1 284.5 1035.9 281.6 1030.6 281.6 1030.6M265.8 1036.7 267.4 1042.5 268.5 1048.4 269.4 1052.3M276.1 1053.1 274.7 1047.2 273.6 1041.3 273.6 1041.3M266.8 1041.2 269.7 1046.4 270.8 1048.1" fill="none" stroke="#6a6a6a" stroke-width="3.0"/>
<path d="M304.9 1087.8L299.7 1090.1L300.5 1085.0ZM301.0 1086.2L295.3 1085.2L298.9 1081.4ZM281.9 995.4L276.4 997.2L277.8 992.1ZM284.9 1004.8L290.4 1003.3L288.8 1008.3ZM284.4 1016.6L278.7 1017.3L281.0 1012.6ZM276.6 1028.2L281.8 1025.6L281.2 1030.8ZM285.9 1017.4L280.5 1019.2L281.9 1014.1ZM322.9 1103.3L317.9 1100.5L322.6 1098.1ZM318.6 1113.3L323.7 1110.7L323.2 1115.9ZM285.4 1064.2L280.4 1066.8L280.8 1061.6ZM281.7 1078.1L285.7 1074.0L286.8 1079.2ZM289.9 1084.1L286.0 1079.9L291.2 1079.0ZM270.5 988.5L265.1 990.4L266.3 985.3ZM270.6 986.2L272.0 980.7L275.5 984.5ZM274.9 1002.0L280.4 1000.7L278.6 1005.7ZM283.4 1007.6L277.8 1009.0L279.5 1004.1ZM279.5 989.6L274.3 992.0L275.1 986.8ZM303.3 1016.6L297.8 1018.0L299.5 1013.0ZM298.3 1003.2L293.0 1005.2L294.1 1000.1ZM307.7 1033.2L302.1 1034.5L303.9 1029.6ZM301.1 1047.3L306.4 1045.2L305.4 1050.3ZM306.7 1064.1L312.1 1062.5L310.6 1067.6ZM317.6 1045.4L311.9 1045.6L314.6 1041.1ZM275.2 1063.6L280.3 1061.0L279.8 1066.2ZM266.3 1018.9L271.9 1017.9L270.0 1022.7ZM265.3 1009.6L259.6 1009.6L262.4 1005.2ZM309.4 1076.0L303.9 1077.7L305.4 1072.6ZM312.5 1078.1L317.9 1076.3L316.7 1081.4ZM319.6 1060.8L314.3 1062.9L315.3 1057.8ZM309.8 1046.9L304.7 1049.6L305.2 1044.4ZM319.6 1104.9L324.7 1102.4L324.1 1107.6ZM325.2 1117.9L321.2 1121.9L320.1 1116.8ZM259.5 1018.1L265.1 1016.9L263.2 1021.8ZM265.2 1031.7L270.2 1028.9L269.8 1034.2ZM276.2 1020.9L271.0 1023.2L271.8 1018.1ZM310.9 1070.3L316.1 1067.9L315.4 1073.1ZM308.2 1028.4L302.6 1029.5L304.6 1024.7ZM295.6 1042.3L301.3 1042.3L298.5 1046.7ZM293.8 1030.2L288.1 1030.5L290.8 1025.9ZM286.7 1014.9L281.5 1017.2L282.4 1012.0ZM302.3 1064.3L308.0 1063.9L305.5 1068.5ZM308.2 1047.7L303.0 1049.9L303.9 1044.7ZM299.4 1029.7L294.2 1032.1L294.9 1026.9ZM318.5 1091.2L313.0 1092.7L314.6 1087.7ZM305.7 1087.5L300.2 1088.8L301.9 1083.8ZM307.5 1095.2L313.0 1093.9L311.2 1098.9ZM316.7 1084.6L311.4 1086.5L312.6 1081.4ZM319.1 1095.6L324.8 1094.8L322.6 1099.6ZM301.3 1046.4L295.9 1048.1L297.3 1043.1ZM290.9 1057.7L296.5 1056.6L294.6 1061.4ZM286.8 1048.0L281.4 1049.7L282.8 1044.7ZM294.6 1063.2L288.9 1063.2L291.8 1058.8ZM287.8 1077.4L293.1 1075.2L292.2 1080.3ZM285.7 1072.3L280.2 1073.9L281.7 1068.9ZM263.8 1023.4L265.7 1018.0L268.9 1022.2ZM267.8 1035.5L273.3 1034.1L271.6 1039.1ZM303.0 1092.6L308.4 1090.8L307.0 1095.9ZM311.7 1083.3L306.4 1085.5L307.4 1080.3ZM285.2 1046.6L290.8 1045.3L289.0 1050.2ZM284.4 1031.4L278.7 1031.4L281.5 1027.0ZM289.6 1037.6L294.5 1034.9L294.2 1040.1ZM284.2 1029.3L279.1 1031.9L279.6 1026.7ZM266.6 1052.8L272.2 1051.8L270.2 1056.6ZM276.3 1040.6L270.8 1042.1L272.4 1037.1ZM268.4 1049.6L273.2 1046.5L273.2 1051.8Z" fill="#6a6a6a"/>
<defs><path id="h180" d="M326.3 1097.3 332.0 1095.5 337.7 1093.7 331.7 1093.8" fill="none"/></defs>
<use href="#h180" stroke="#4a4a4a" stroke-width="6.7" stroke-linecap="round"/>
<use href="#h180" stroke="#6a6a6a" stroke-width="5.5" stroke-linecap="round"/>
<use href="#h180" stroke="#000" stroke-width="5.5" stroke-dasharray="0.9 2.3" stroke-linecap="butt" opacity="0.45"/>
<path d="M340.5 1061.1 341.9 1064.5 338.6 1066.7M338.6 1066.7 337.7 1070.4 337.9 1074.4M337.9 1074.4 339.7 1070.8 336.5 1068.6 334.0 1065.5M375.0 990.3 377.5 987.5 381.2 988.4M387.0 1007.5 390.8 1008.2 393.1 1005.2M395.2 1032.6 393.9 1029.0 396.5 1026.2M360.4 968.3 361.1 972.1 362.5 975.7 362.5 977.9M362.5 977.9 365.9 977.6 368.3 974.4 368.2 972.4M376.0 993.1 379.5 994.5 382.4 992.0M384.6 998.1 381.3 998.6 380.5 1000.5M380.7 1041.7 378.9 1044.5 376.9 1044.5M376.9 1044.5 373.3 1046.4 370.1 1044.0 370.0 1040.0M370.0 1040.0 368.9 1036.2 367.3 1032.8M367.3 1032.8 365.5 1029.3 363.1 1026.9 360.2 1026.1 358.3 1026.6M358.3 1026.6 357.5 1030.4 356.6 1032.2M342.8 976.4 343.5 972.8 347.5 972.5 351.2 973.8M352.7 983.7 356.2 985.2 359.2 982.7M384.7 1011.3 388.3 1012.5 391.0 1009.8M361.7 1027.3 361.8 1031.3 361.1 1033.2M361.1 1033.2 363.2 1035.8 365.1 1036.4M374.7 1049.2 373.5 1052.8 369.7 1053.4M369.1 1041.4 365.6 1039.7 362.6 1042.1M364.7 1057.9 368.1 1059.6 371.2 1057.3M352.4 1032.6 348.7 1031.5 346.1 1034.3M349.2 1045.9 346.5 1048.6 342.9 1047.5M340.3 1031.7 342.9 1029.0 346.5 1030.0M342.7 972.9 346.5 973.8 348.9 970.8M361.5 969.8 358.1 971.5 355.0 969.2M357.1 972.2 354.5 974.9 350.8 973.8M348.3 978.3 345.6 978.8 344.3 980.3M345.5 990.2 342.2 990.6 338.9 988.5 342.9 988.6M346.1 1008.4 349.6 1010.0 352.6 1007.7M340.1 988.8 340.1 989.0 338.5 992.4 339.5 996.3M339.5 996.3 343.1 997.9 346.9 997.2 350.5 995.5M396.4 1039.6 393.9 1041.1 392.1 1038.7 392.5 1035.7M392.5 1035.7 391.3 1032.0 387.5 1033.1 385.4 1036.4M385.4 1036.4 381.9 1038.1 379.2 1039.0 377.6 1037.8M377.6 1037.8 377.0 1034.0 380.4 1032.1M376.7 1018.6 379.4 1015.9 383.0 1017.2M352.6 994.5 355.6 997.0 359.1 995.5M358.3 983.5 354.9 981.7 351.8 983.9M335.3 1019.3 338.6 1020.9 342.2 1021.7 345.7 1019.7M350.3 1077.3 349.5 1073.6 345.8 1072.6M363.9 1002.3 365.2 1005.8 363.0 1008.9M363.0 1008.9 359.9 1011.4 358.3 1015.1 355.2 1017.1M352.7 1036.9 355.7 1039.2 359.2 1037.5M393.9 1050.5 391.0 1048.1 387.5 1049.6M388.3 1063.6 385.4 1066.0 381.9 1064.5M368.4 1021.7 372.0 1022.9 374.8 1020.3M375.5 1000.3 372.4 998.1 369.0 999.8M371.8 1015.5 375.4 1016.9 378.2 1014.4M372.3 1074.8 371.1 1071.0 372.4 1067.6 372.2 1063.6M368.8 1052.1 371.3 1049.3 375.0 1050.3M374.6 1060.3 371.3 1062.1 368.2 1059.9M345.8 1070.5 349.0 1072.6 352.3 1070.6M351.3 1052.7 347.9 1050.8 344.8 1053.0M348.1 1068.6 345.4 1071.2 341.8 1070.0M364.7 1091.4 361.4 1093.2 358.2 1091.1M362.5 1075.7 366.2 1075.0 368.6 1078.0M384.0 1067.6 380.9 1069.8 377.5 1068.1M373.9 1054.5 376.3 1051.6 380.0 1052.4M383.4 1072.1 380.6 1074.8 377.0 1073.5M347.9 1076.2 345.3 1079.0 341.6 1078.0M337.6 1066.7 335.7 1063.9 335.9 1060.2 337.9 1060.1M384.3 1004.6 382.8 1000.9 382.6 998.9M382.6 998.9 383.5 995.0 383.1 993.0M383.1 993.0 385.4 989.8 385.2 987.8M394.4 1046.7 392.8 1049.7 391.1 1053.3 391.1 1057.3 390.5 1059.2M389.5 1062.0 390.8 1058.4 394.6 1058.0M385.4 1061.8 382.2 1059.7 382.6 1055.9M349.5 979.1 350.4 975.7 350.1 973.8M356.3 988.6 359.8 990.0 362.6 987.4" fill="none" stroke="#8c8c8c" stroke-width="0.9" stroke-linejoin="round"/>
<path d="M334.0 1065.5 333.7 1059.5 333.5 1053.5 333.3 1049.5M333.2 1047.5 334.0 1044.8 339.0 1048.0 340.6 1049.2M378.9 1003.8 377.3 998.0 375.6 992.2 375.6 992.2M381.2 988.4 382.7 994.2 384.3 1000.0 386.3 1005.6 386.3 1005.6M396.4 1017.7 397.4 1023.6 398.6 1029.5 397.2 1033.0 397.2 1033.0M396.5 1026.2 397.5 1032.1 398.3 1036.0M396.9 1034.7 395.5 1028.8 394.0 1023.0 394.0 1023.0M372.1 973.5 373.6 979.3 374.5 985.2 375.6 991.1 375.6 991.1M380.5 1000.5 381.6 1006.4 382.2 1010.3M382.5 1012.3 382.9 1018.3 383.8 1024.2 384.5 1028.2M344.4 996.3 343.6 990.3 342.7 984.4 342.6 978.4 342.6 978.4M351.2 973.8 352.1 979.7 352.4 981.7M359.2 982.7 359.2 976.7 358.9 970.7 358.6 966.7M382.0 995.5 382.6 1001.5 383.9 1007.3 384.2 1009.3M391.0 1009.8 390.0 1003.9 388.9 998.0 387.7 992.1 387.7 992.1M365.1 1036.4 368.5 1041.4 372.1 1046.1 373.4 1047.7M369.7 1053.4 369.5 1047.4 369.3 1043.4M362.6 1042.1 363.9 1047.9 364.5 1053.9 364.6 1055.9M356.0 1044.1 353.9 1038.4 352.9 1034.6M346.1 1034.3 347.7 1040.0 348.7 1043.9M342.9 1047.5 342.1 1041.6 341.3 1035.6 340.8 1033.7M342.3 977.1 341.7 971.1 342.1 971.1M348.9 970.8 352.1 968.2 358.0 966.8 361.7 967.9 361.7 967.9M355.0 969.2 356.2 968.3 356.6 970.2M344.3 980.3 345.2 986.3 345.3 988.3M342.9 988.6 343.8 994.6 344.9 1000.5 345.9 1006.4 345.9 1006.4M380.4 1032.1 378.6 1026.4 377.1 1020.5 377.1 1020.5M356.2 974.9 355.5 980.8 354.2 986.7 352.9 992.6 352.9 992.6M359.1 995.5 358.6 989.5 358.4 985.5M351.8 983.9 352.6 989.8 353.5 995.8 354.1 999.7M334.1 1033.2 334.7 1027.3 335.1 1021.3 335.1 1021.3M345.7 1019.7 343.9 1014.0 342.3 1010.4M338.0 1062.6 339.7 1068.3 341.6 1074.0 342.2 1078.0M342.5 1079.9 344.3 1082.7 348.8 1078.7 348.8 1078.7M345.8 1072.6 346.4 1078.5 346.5 1084.5 346.7 1088.5M355.7 988.6 358.3 994.0 361.7 999.0 362.7 1000.6M355.2 1017.1 354.6 1023.0 353.8 1029.0 352.9 1034.9 352.9 1034.9M392.8 1056.5 393.6 1062.4 393.4 1056.4 393.7 1052.4M387.5 1049.6 387.8 1055.6 388.1 1061.6 388.1 1061.6M365.0 1008.1 366.7 1013.9 368.0 1019.7 368.0 1019.7M374.8 1020.3 374.8 1014.3 375.0 1008.3 375.3 1002.3 375.3 1002.3M369.0 999.8 370.1 1005.7 371.1 1011.6 371.5 1013.6M373.4 1084.8 372.7 1078.8 372.5 1076.8M372.2 1063.6 370.4 1057.9 369.3 1054.1M375.0 1050.3 374.9 1056.3 374.8 1058.3M346.4 1060.5 345.9 1066.5 345.9 1068.5M352.3 1070.6 351.9 1064.7 351.5 1058.7 351.4 1054.7M344.8 1053.0 346.0 1058.8 347.2 1064.7 347.7 1066.6M364.5 1081.4 364.8 1087.4 364.8 1089.4M358.2 1091.1 359.3 1085.2 361.1 1079.5 361.8 1077.6M368.6 1078.0 369.4 1083.9 370.2 1089.8 370.6 1091.8M370.9 1093.8 367.5 1088.9 363.9 1084.0 363.9 1084.0M382.4 1047.7 383.3 1053.6 383.4 1059.6 383.8 1065.6 383.8 1065.6M377.5 1068.1 376.2 1062.2 374.5 1056.4 374.5 1056.4M380.0 1052.4 380.9 1058.4 381.8 1064.3 383.0 1070.2 383.0 1070.2M344.4 1062.7 345.8 1068.5 347.4 1074.3 347.4 1074.3M341.6 1078.0 339.8 1072.3 338.4 1068.5M388.1 1024.2 387.1 1018.3 386.0 1012.4 384.8 1006.5 384.8 1006.5M391.7 1033.0 393.0 1038.8 394.0 1044.7 394.0 1044.7M390.5 1059.2 392.4 1064.9 390.8 1063.6 390.8 1063.6M394.6 1058.0 389.0 1060.1 387.2 1060.9M350.1 973.8 350.0 967.8 352.7 973.1 352.7 973.1M353.7 974.8 354.6 980.8 355.9 986.6 355.9 986.6M362.6 987.4 361.7 981.5 360.5 975.6 360.0 973.6" fill="none" stroke="#8c8c8c" stroke-width="3.8"/>
<path d="M334.0 1065.5 333.7 1059.5 333.5 1053.5 333.3 1049.5M333.2 1047.5 334.0 1044.8 339.0 1048.0 340.6 1049.2M378.9 1003.8 377.3 998.0 375.6 992.2 375.6 992.2M381.2 988.4 382.7 994.2 384.3 1000.0 386.3 1005.6 386.3 1005.6M396.4 1017.7 397.4 1023.6 398.6 1029.5 397.2 1033.0 397.2 1033.0M396.5 1026.2 397.5 1032.1 398.3 1036.0M396.9 1034.7 395.5 1028.8 394.0 1023.0 394.0 1023.0M372.1 973.5 373.6 979.3 374.5 985.2 375.6 991.1 375.6 991.1M380.5 1000.5 381.6 1006.4 382.2 1010.3M382.5 1012.3 382.9 1018.3 383.8 1024.2 384.5 1028.2M344.4 996.3 343.6 990.3 342.7 984.4 342.6 978.4 342.6 978.4M351.2 973.8 352.1 979.7 352.4 981.7M359.2 982.7 359.2 976.7 358.9 970.7 358.6 966.7M382.0 995.5 382.6 1001.5 383.9 1007.3 384.2 1009.3M391.0 1009.8 390.0 1003.9 388.9 998.0 387.7 992.1 387.7 992.1M365.1 1036.4 368.5 1041.4 372.1 1046.1 373.4 1047.7M369.7 1053.4 369.5 1047.4 369.3 1043.4M362.6 1042.1 363.9 1047.9 364.5 1053.9 364.6 1055.9M356.0 1044.1 353.9 1038.4 352.9 1034.6M346.1 1034.3 347.7 1040.0 348.7 1043.9M342.9 1047.5 342.1 1041.6 341.3 1035.6 340.8 1033.7M342.3 977.1 341.7 971.1 342.1 971.1M348.9 970.8 352.1 968.2 358.0 966.8 361.7 967.9 361.7 967.9M355.0 969.2 356.2 968.3 356.6 970.2M344.3 980.3 345.2 986.3 345.3 988.3M342.9 988.6 343.8 994.6 344.9 1000.5 345.9 1006.4 345.9 1006.4M380.4 1032.1 378.6 1026.4 377.1 1020.5 377.1 1020.5M356.2 974.9 355.5 980.8 354.2 986.7 352.9 992.6 352.9 992.6M359.1 995.5 358.6 989.5 358.4 985.5M351.8 983.9 352.6 989.8 353.5 995.8 354.1 999.7M334.1 1033.2 334.7 1027.3 335.1 1021.3 335.1 1021.3M345.7 1019.7 343.9 1014.0 342.3 1010.4M338.0 1062.6 339.7 1068.3 341.6 1074.0 342.2 1078.0M342.5 1079.9 344.3 1082.7 348.8 1078.7 348.8 1078.7M345.8 1072.6 346.4 1078.5 346.5 1084.5 346.7 1088.5M355.7 988.6 358.3 994.0 361.7 999.0 362.7 1000.6M355.2 1017.1 354.6 1023.0 353.8 1029.0 352.9 1034.9 352.9 1034.9M392.8 1056.5 393.6 1062.4 393.4 1056.4 393.7 1052.4M387.5 1049.6 387.8 1055.6 388.1 1061.6 388.1 1061.6M365.0 1008.1 366.7 1013.9 368.0 1019.7 368.0 1019.7M374.8 1020.3 374.8 1014.3 375.0 1008.3 375.3 1002.3 375.3 1002.3M369.0 999.8 370.1 1005.7 371.1 1011.6 371.5 1013.6M373.4 1084.8 372.7 1078.8 372.5 1076.8M372.2 1063.6 370.4 1057.9 369.3 1054.1M375.0 1050.3 374.9 1056.3 374.8 1058.3M346.4 1060.5 345.9 1066.5 345.9 1068.5M352.3 1070.6 351.9 1064.7 351.5 1058.7 351.4 1054.7M344.8 1053.0 346.0 1058.8 347.2 1064.7 347.7 1066.6M364.5 1081.4 364.8 1087.4 364.8 1089.4M358.2 1091.1 359.3 1085.2 361.1 1079.5 361.8 1077.6M368.6 1078.0 369.4 1083.9 370.2 1089.8 370.6 1091.8M370.9 1093.8 367.5 1088.9 363.9 1084.0 363.9 1084.0M382.4 1047.7 383.3 1053.6 383.4 1059.6 383.8 1065.6 383.8 1065.6M377.5 1068.1 376.2 1062.2 374.5 1056.4 374.5 1056.4M380.0 1052.4 380.9 1058.4 381.8 1064.3 383.0 1070.2 383.0 1070.2M344.4 1062.7 345.8 1068.5 347.4 1074.3 347.4 1074.3M341.6 1078.0 339.8 1072.3 338.4 1068.5M388.1 1024.2 387.1 1018.3 386.0 1012.4 384.8 1006.5 384.8 1006.5M391.7 1033.0 393.0 1038.8 394.0 1044.7 394.0 1044.7M390.5 1059.2 392.4 1064.9 390.8 1063.6 390.8 1063.6M394.6 1058.0 389.0 1060.1 387.2 1060.9M350.1 973.8 350.0 967.8 352.7 973.1 352.7 973.1M353.7 974.8 354.6 980.8 355.9 986.6 355.9 986.6M362.6 987.4 361.7 981.5 360.5 975.6 360.0 973.6" fill="none" stroke="#b8b8b8" stroke-width="3.0"/>
<path d="M336.1 1049.4L330.4 1049.6L333.1 1045.1ZM338.8 1051.4L342.4 1047.0L344.0 1052.0ZM378.3 991.4L372.9 993.1L374.3 988.1ZM383.6 1006.6L388.9 1004.6L387.9 1009.7ZM397.8 1030.2L396.6 1035.8L392.9 1032.1ZM400.3 1033.9L396.4 1038.1L395.1 1033.0ZM396.7 1022.4L391.2 1023.7L392.9 1018.7ZM372.8 991.6L378.4 990.6L376.4 995.4ZM379.4 1010.8L385.0 1009.8L382.9 1014.7ZM381.7 1028.7L387.3 1027.6L385.4 1032.5ZM345.5 978.6L339.8 978.2L343.0 974.0ZM349.6 982.2L355.2 981.3L353.1 986.1ZM356.1 968.2L361.0 965.2L360.9 970.4ZM381.5 1010.0L387.0 1008.7L385.2 1013.6ZM390.5 991.6L384.9 992.6L386.9 987.8ZM371.2 1049.5L375.6 1045.8L376.3 1051.0ZM372.1 1043.1L366.5 1043.7L368.8 1039.0ZM361.7 1056.1L367.4 1055.7L364.9 1060.3ZM355.6 1033.9L350.1 1035.3L351.8 1030.3ZM345.9 1044.6L351.4 1043.2L349.8 1048.2ZM343.6 1032.9L338.1 1034.4L339.6 1029.4ZM339.4 972.0L344.8 970.1L343.5 975.2ZM358.9 967.6L364.5 968.1L361.3 972.2ZM353.9 970.9L359.4 969.5L357.7 974.5ZM342.5 988.5L348.1 988.0L345.7 992.6ZM343.1 1006.7L348.8 1006.1L346.4 1010.8ZM379.9 1019.9L374.3 1021.1L376.2 1016.2ZM350.1 992.1L355.7 993.0L352.3 996.9ZM361.2 985.3L355.5 985.7L358.1 981.1ZM351.2 1000.1L356.9 999.4L354.7 1004.1ZM338.0 1021.5L332.3 1021.0L335.5 1016.9ZM344.9 1009.3L339.7 1011.5L340.6 1006.3ZM339.4 1078.4L345.1 1077.6L342.9 1082.3ZM350.7 1080.8L346.9 1076.6L352.0 1075.7ZM346.6 1085.7L346.7 1091.4L342.3 1088.6ZM360.4 1002.2L365.1 999.0L365.2 1004.3ZM350.0 1034.6L355.7 1035.2L352.5 1039.3ZM396.5 1052.8L390.9 1052.1L394.2 1048.1ZM385.2 1062.0L390.9 1061.3L388.6 1066.0ZM365.2 1020.3L370.8 1019.1L369.0 1024.0ZM378.2 1002.6L372.5 1002.1L375.7 997.9ZM368.7 1014.1L374.3 1013.1L372.2 1017.9ZM375.3 1076.6L369.7 1077.1L372.1 1072.4ZM372.1 1053.3L366.6 1054.9L368.1 1049.8ZM371.9 1058.2L377.6 1058.5L374.5 1062.7ZM343.0 1068.4L348.7 1068.5L345.8 1072.9ZM354.2 1054.5L348.5 1054.8L351.2 1050.3ZM344.9 1067.3L350.5 1066.0L348.6 1070.9ZM361.9 1089.3L367.6 1089.5L364.6 1093.8ZM364.5 1078.6L359.1 1076.6L363.3 1073.5ZM367.8 1092.4L373.4 1091.3L371.4 1096.1ZM366.2 1082.3L361.7 1085.8L361.2 1080.6ZM381.0 1065.8L386.7 1065.4L384.1 1070.0ZM377.2 1055.5L371.8 1057.4L373.1 1052.3ZM380.2 1070.8L385.8 1069.6L383.9 1074.5ZM344.6 1075.1L350.1 1073.5L348.6 1078.6ZM341.0 1067.4L335.8 1069.7L336.7 1064.5ZM387.6 1005.7L382.1 1007.3L383.7 1002.3ZM391.2 1045.4L396.7 1044.1L394.9 1049.0ZM393.0 1061.8L388.5 1065.4L388.0 1060.1ZM386.0 1058.3L388.4 1063.5L383.2 1062.8ZM350.3 974.6L355.1 971.6L355.0 976.9ZM353.1 987.2L358.7 986.1L356.7 991.0ZM362.8 973.0L357.3 974.3L359.0 969.4Z" fill="#b8b8b8"/>
<defs><path id="h181" d="M368.2 972.4 368.4 966.4 371.1 971.7 372.1 973.5" fill="none"/></defs>
<use href="#h181" stroke="#8c8c8c" stroke-width="6.7" stroke-linecap="round"/>
<use href="#h181" stroke="#b8b8b8" stroke-width="5.5" stroke-linecap="round"/>
<use href="#h181" stroke="#000" stroke-width="5.5" stroke-dasharray="0.9 2.3" stroke-linecap="butt" opacity="0.45"/>
<defs><path id="h182" d="M343.6 1006.5 342.6 1000.6 341.3 994.7 340.1 988.8" fill="none"/></defs>
<use href="#h182" stroke="#8c8c8c" stroke-width="6.7" stroke-linecap="round"/>
<use href="#h182" stroke="#b8b8b8" stroke-width="5.5" stroke-linecap="round"/>
<use href="#h182" stroke="#000" stroke-width="5.5" stroke-dasharray="0.9 2.3" stroke-linecap="butt" opacity="0.45"/>
<path d="M307.3 1006.2 310.1 1003.5 308.9 1000.4M308.9 1000.4 306.2 997.7 303.8 998.0 302.6 999.6M302.6 999.6 298.7 998.7 297.6 997.0M297.6 997.0 293.8 995.9 292.0 995.1M292.0 995.1 290.3 998.7 290.8 1000.6M290.8 1000.6 289.4 999.0 290.5 995.8 289.4 994.2M340.0 976.0 343.4 975.5 345.8 978.7 349.6 978.7 349.5 976.7M349.5 976.7 348.9 972.8 347.3 969.1 344.7 966.5 342.7 966.7M342.8 1037.5 340.6 1038.3 340.2 1034.3 338.7 1033.1M338.7 1033.1 335.7 1030.6 332.0 1029.3 330.0 1028.9M320.1 1027.5 321.1 1025.1 318.7 1021.9 319.0 1018.1M327.6 976.2 329.0 979.9 331.8 982.5 335.5 984.0M360.8 1042.5 363.6 1039.7 365.5 1039.0M365.5 1039.0 365.9 1035.0 366.1 1033.1M313.6 969.3 309.8 968.2 306.6 967.6M294.1 973.9 290.4 975.3 288.7 976.4M344.7 1029.2 340.8 1030.0 337.9 1032.6 334.3 1031.6 332.3 1031.5M332.3 1031.5 330.5 1031.2 332.8 1027.9 334.6 1024.5M334.6 1024.5 338.5 1025.5 340.2 1022.0M367.8 1035.9 371.5 1035.1 373.5 1034.6M373.5 1034.6 377.2 1033.2 381.1 1032.8M385.0 1034.3 381.3 1033.8 379.8 1030.7 382.2 1028.4 383.2 1026.7M377.7 1043.3 375.1 1045.1 371.3 1044.1M371.3 1044.1 368.0 1042.4 365.0 1039.8 361.6 1037.8 359.7 1037.4M349.8 1035.6 350.6 1032.7 350.6 1028.8M292.2 1005.2 290.7 1001.5 292.7 998.7 294.8 998.6 295.8 996.9M303.6 1008.0 307.0 1006.4 310.9 1006.9 313.8 1009.5 314.5 1011.4M314.5 1011.4 317.9 1013.3 319.0 1009.6 317.3 1006.1M295.0 984.5 296.2 981.8 295.9 978.0 294.9 974.2 293.2 975.3M335.0 1016.2 331.1 1015.1 330.8 1012.3 334.6 1011.8 335.3 1009.9M338.7 1000.5 342.4 999.1 344.0 998.0M332.3 991.5 335.7 992.6 337.6 992.3M337.6 992.3 340.2 990.6 342.3 987.2 344.4 984.0M312.8 1012.3 310.1 1015.0 306.6 1013.3 305.4 1011.7M305.4 1011.7 302.6 1010.3 305.6 1008.0M359.7 1042.1 355.7 1041.8 352.9 1040.4 354.0 1037.0 355.3 1035.5M355.3 1035.5 358.0 1032.5 361.0 1030.3 362.9 1030.7M362.9 1030.7 366.7 1031.2 368.4 1030.1M359.3 1014.6 359.3 1018.4 360.0 1020.5 364.0 1020.1M327.2 1029.2 329.5 1025.9 327.1 1022.9 326.4 1019.0M364.5 985.4 363.2 981.6 361.6 980.5M352.2 973.0 349.0 970.8 345.4 969.5 343.7 968.4M336.8 1002.5 338.8 1000.4 342.8 1000.9" fill="none" stroke="#9a5406" stroke-width="1.1" stroke-linejoin="round"/>
<path d="M330.0 1028.9 324.1 1028.0 322.1 1027.8M342.9 984.5 345.2 979.0 347.5 973.5 347.5 973.5M371.9 1040.1 366.2 1042.0 360.8 1044.5 360.8 1044.5M288.7 976.4 283.6 979.6 281.8 980.5M295.8 996.9 299.1 991.8 301.0 988.3M325.9 986.7 330.7 990.3 330.7 990.3M344.4 984.0 346.4 978.3 347.0 976.4M347.7 974.5 349.6 968.8 351.2 967.1 351.2 967.1M361.9 1042.6 362.9 1044.4 361.3 1043.2M364.0 1020.1 370.0 1019.9 374.0 1019.9M326.4 1019.0 326.2 1013.0 326.0 1011.0M376.8 1035.4 371.3 1037.8 366.0 1040.5 366.0 1040.5M335.2 1012.3 336.1 1006.4 336.5 1004.4" fill="none" stroke="#9a5406" stroke-width="3.8"/>
<path d="M330.0 1028.9 324.1 1028.0 322.1 1027.8M342.9 984.5 345.2 979.0 347.5 973.5 347.5 973.5M371.9 1040.1 366.2 1042.0 360.8 1044.5 360.8 1044.5M288.7 976.4 283.6 979.6 281.8 980.5M295.8 996.9 299.1 991.8 301.0 988.3M325.9 986.7 330.7 990.3 330.7 990.3M344.4 984.0 346.4 978.3 347.0 976.4M347.7 974.5 349.6 968.8 351.2 967.1 351.2 967.1M361.9 1042.6 362.9 1044.4 361.3 1043.2M364.0 1020.1 370.0 1019.9 374.0 1019.9M326.4 1019.0 326.2 1013.0 326.0 1011.0M376.8 1035.4 371.3 1037.8 366.0 1040.5 366.0 1040.5M335.2 1012.3 336.1 1006.4 336.5 1004.4" fill="none" stroke="#e08a1c" stroke-width="3.0"/>
<path d="M322.5 1025.0L321.6 1030.6L317.7 1027.1ZM350.1 974.6L344.9 972.3L349.3 969.4ZM363.6 1044.5L357.9 1044.4L360.8 1040.1ZM284.5 979.4L279.2 981.6L280.1 976.5ZM303.6 989.6L298.5 987.1L303.0 984.4ZM329.0 992.5L332.5 988.0L334.2 992.9ZM349.7 977.3L344.3 975.5L348.4 972.2ZM348.3 967.4L354.0 966.7L351.7 971.4ZM362.9 1040.9L359.6 1045.6L357.7 1040.7ZM373.8 1022.7L374.1 1017.1L378.4 1020.1ZM328.9 1010.8L323.2 1011.2L325.7 1006.6ZM364.5 1038.0L367.4 1043.0L362.2 1042.7ZM339.3 1004.9L333.6 1004.0L337.1 1000.1Z" fill="#e08a1c"/>
<defs><path id="h183" d="M326.5 979.7 332.3 978.1 338.0 976.4 340.0 976.0" fill="none"/></defs>
<use href="#h183" stroke="#9a5406" stroke-width="5.6" stroke-linecap="round"/>
<use href="#h183" stroke="#e08a1c" stroke-width="4.4" stroke-linecap="round"/>
<use href="#h183" stroke="#f4f4f4" stroke-width="4.4" stroke-dasharray="1.1 2.2" stroke-linecap="butt" opacity="0.7"/>
<defs><path id="h184" d="M333.5 963.5 330.9 968.9 328.5 974.4 327.6 976.2" fill="none"/></defs>
<use href="#h184" stroke="#9a5406" stroke-width="5.6" stroke-linecap="round"/>
<use href="#h184" stroke="#e08a1c" stroke-width="4.4" stroke-linecap="round"/>
<use href="#h184" stroke="#f4f4f4" stroke-width="4.4" stroke-dasharray="1.1 2.2" stroke-linecap="butt" opacity="0.7"/>
<defs><path id="h185" d="M335.5 984.0 341.1 986.3 346.5 988.9 348.3 989.7" fill="none"/></defs>
<use href="#h185" stroke="#9a5406" stroke-width="5.6" stroke-linecap="round"/>
<use href="#h185" stroke="#e08a1c" stroke-width="4.4" stroke-linecap="round"/>
<use href="#h185" stroke="#f4f4f4" stroke-width="4.4" stroke-dasharray="1.1 2.2" stroke-linecap="butt" opacity="0.7"/>
<defs><path id="h186" d="M334.2 1009.0 335.9 1003.3 338.0 997.7 338.8 995.8" fill="none"/></defs>
<use href="#h186" stroke="#9a5406" stroke-width="5.6" stroke-linecap="round"/>
<use href="#h186" stroke="#e08a1c" stroke-width="4.4" stroke-linecap="round"/>
<use href="#h186" stroke="#f4f4f4" stroke-width="4.4" stroke-dasharray="1.1 2.2" stroke-linecap="butt" opacity="0.7"/>
<defs><path id="h187" d="M338.8 995.8 340.9 990.2 342.9 984.5" fill="none"/></defs>
<use href="#h187" stroke="#9a5406" stroke-width="5.6" stroke-linecap="round"/>
<use href="#h187" stroke="#e08a1c" stroke-width="4.4" stroke-linecap="round"/>
<use href="#h187" stroke="#f4f4f4" stroke-width="4.4" stroke-dasharray="1.1 2.2" stroke-linecap="butt" opacity="0.7"/>
<defs><path id="h188" d="M385.4 1036.5 379.6 1037.8 373.8 1039.4 371.9 1040.1" fill="none"/></defs>
<use href="#h188" stroke="#9a5406" stroke-width="5.6" stroke-linecap="round"/>
<use href="#h188" stroke="#e08a1c" stroke-width="4.4" stroke-linecap="round"/>
<use href="#h188" stroke="#f4f4f4" stroke-width="4.4" stroke-dasharray="1.1 2.2" stroke-linecap="butt" opacity="0.7"/>
<defs><path id="h189" d="M306.6 967.6 301.2 970.1 295.8 972.9 294.1 973.9" fill="none"/></defs>
<use href="#h189" stroke="#9a5406" stroke-width="5.6" stroke-linecap="round"/>
<use href="#h189" stroke="#e08a1c" stroke-width="4.4" stroke-linecap="round"/>
<use href="#h189" stroke="#f4f4f4" stroke-width="4.4" stroke-dasharray="1.1 2.2" stroke-linecap="butt" opacity="0.7"/>
<defs><path id="h190" d="M340.2 1022.0 341.1 1016.0 341.4 1014.1" fill="none"/></defs>
<use href="#h190" stroke="#9a5406" stroke-width="5.6" stroke-linecap="round"/>
<use href="#h190" stroke="#e08a1c" stroke-width="4.4" stroke-linecap="round"/>
<use href="#h190" stroke="#f4f4f4" stroke-width="4.4" stroke-dasharray="1.1 2.2" stroke-linecap="butt" opacity="0.7"/>
<defs><path id="h191" d="M381.1 1032.8 387.0 1033.6 385.0 1034.3" fill="none"/></defs>
<use href="#h191" stroke="#9a5406" stroke-width="5.6" stroke-linecap="round"/>
<use href="#h191" stroke="#e08a1c" stroke-width="4.4" stroke-linecap="round"/>
<use href="#h191" stroke="#f4f4f4" stroke-width="4.4" stroke-dasharray="1.1 2.2" stroke-linecap="butt" opacity="0.7"/>
<defs><path id="h192" d="M359.7 1037.4 353.8 1036.4 349.8 1035.6" fill="none"/></defs>
<use href="#h192" stroke="#9a5406" stroke-width="5.6" stroke-linecap="round"/>
<use href="#h192" stroke="#e08a1c" stroke-width="4.4" stroke-linecap="round"/>
<use href="#h192" stroke="#f4f4f4" stroke-width="4.4" stroke-dasharray="1.1 2.2" stroke-linecap="butt" opacity="0.7"/>
<defs><path id="h193" d="M301.9 986.5 304.4 981.1 305.2 979.3" fill="none"/></defs>
<use href="#h193" stroke="#9a5406" stroke-width="5.6" stroke-linecap="round"/>
<use href="#h193" stroke="#e08a1c" stroke-width="4.4" stroke-linecap="round"/>
<use href="#h193" stroke="#f4f4f4" stroke-width="4.4" stroke-dasharray="1.1 2.2" stroke-linecap="butt" opacity="0.7"/>
<defs><path id="h194" d="M305.2 979.3 307.3 973.7 309.4 968.0" fill="none"/></defs>
<use href="#h194" stroke="#9a5406" stroke-width="5.6" stroke-linecap="round"/>
<use href="#h194" stroke="#e08a1c" stroke-width="4.4" stroke-linecap="round"/>
<use href="#h194" stroke="#f4f4f4" stroke-width="4.4" stroke-dasharray="1.1 2.2" stroke-linecap="butt" opacity="0.7"/>
<defs><path id="h195" d="M317.3 1006.1 313.2 1001.7 309.1 997.4" fill="none"/></defs>
<use href="#h195" stroke="#9a5406" stroke-width="5.6" stroke-linecap="round"/>
<use href="#h195" stroke="#e08a1c" stroke-width="4.4" stroke-linecap="round"/>
<use href="#h195" stroke="#f4f4f4" stroke-width="4.4" stroke-dasharray="1.1 2.2" stroke-linecap="butt" opacity="0.7"/>
<defs><path id="h196" d="M306.0 993.1 301.3 989.4 296.5 985.8 295.0 984.5" fill="none"/></defs>
<use href="#h196" stroke="#9a5406" stroke-width="5.6" stroke-linecap="round"/>
<use href="#h196" stroke="#e08a1c" stroke-width="4.4" stroke-linecap="round"/>
<use href="#h196" stroke="#f4f4f4" stroke-width="4.4" stroke-dasharray="1.1 2.2" stroke-linecap="butt" opacity="0.7"/>
<defs><path id="h197" d="M293.2 975.3 288.0 978.3 282.9 981.4 281.2 982.4" fill="none"/></defs>
<use href="#h197" stroke="#9a5406" stroke-width="5.6" stroke-linecap="round"/>
<use href="#h197" stroke="#e08a1c" stroke-width="4.4" stroke-linecap="round"/>
<use href="#h197" stroke="#f4f4f4" stroke-width="4.4" stroke-dasharray="1.1 2.2" stroke-linecap="butt" opacity="0.7"/>
<defs><path id="h198" d="M335.3 1009.9 337.3 1004.3 338.7 1000.5" fill="none"/></defs>
<use href="#h198" stroke="#9a5406" stroke-width="5.6" stroke-linecap="round"/>
<use href="#h198" stroke="#e08a1c" stroke-width="4.4" stroke-linecap="round"/>
<use href="#h198" stroke="#f4f4f4" stroke-width="4.4" stroke-dasharray="1.1 2.2" stroke-linecap="butt" opacity="0.7"/>
<defs><path id="h199" d="M344.0 998.0 348.9 994.5 350.5 993.3" fill="none"/></defs>
<use href="#h199" stroke="#9a5406" stroke-width="5.6" stroke-linecap="round"/>
<use href="#h199" stroke="#e08a1c" stroke-width="4.4" stroke-linecap="round"/>
<use href="#h199" stroke="#f4f4f4" stroke-width="4.4" stroke-dasharray="1.1 2.2" stroke-linecap="butt" opacity="0.7"/>
<defs><path id="h200" d="M324.8 1005.2 319.7 1008.3 314.5 1011.3 312.8 1012.3" fill="none"/></defs>
<use href="#h200" stroke="#9a5406" stroke-width="5.6" stroke-linecap="round"/>
<use href="#h200" stroke="#e08a1c" stroke-width="4.4" stroke-linecap="round"/>
<use href="#h200" stroke="#f4f4f4" stroke-width="4.4" stroke-dasharray="1.1 2.2" stroke-linecap="butt" opacity="0.7"/>
<defs><path id="h201" d="M376.0 1020.0 382.0 1020.4 387.9 1020.8 389.9 1020.9" fill="none"/></defs>
<use href="#h201" stroke="#9a5406" stroke-width="5.6" stroke-linecap="round"/>
<use href="#h201" stroke="#e08a1c" stroke-width="4.4" stroke-linecap="round"/>
<use href="#h201" stroke="#f4f4f4" stroke-width="4.4" stroke-dasharray="1.1 2.2" stroke-linecap="butt" opacity="0.7"/>
<defs><path id="h202" d="M389.9 1020.9 385.9 1025.2 381.8 1029.7 380.5 1031.2" fill="none"/></defs>
<use href="#h202" stroke="#9a5406" stroke-width="5.6" stroke-linecap="round"/>
<use href="#h202" stroke="#e08a1c" stroke-width="4.4" stroke-linecap="round"/>
<use href="#h202" stroke="#f4f4f4" stroke-width="4.4" stroke-dasharray="1.1 2.2" stroke-linecap="butt" opacity="0.7"/>
<defs><path id="h203" d="M325.9 1009.0 325.7 1003.0 325.8 997.0" fill="none"/></defs>
<use href="#h203" stroke="#9a5406" stroke-width="5.6" stroke-linecap="round"/>
<use href="#h203" stroke="#e08a1c" stroke-width="4.4" stroke-linecap="round"/>
<use href="#h203" stroke="#f4f4f4" stroke-width="4.4" stroke-dasharray="1.1 2.2" stroke-linecap="butt" opacity="0.7"/>
<defs><path id="h204" d="M361.6 980.5 356.7 977.0 352.2 973.0" fill="none"/></defs>
<use href="#h204" stroke="#9a5406" stroke-width="5.6" stroke-linecap="round"/>
<use href="#h204" stroke="#e08a1c" stroke-width="4.4" stroke-linecap="round"/>
<use href="#h204" stroke="#f4f4f4" stroke-width="4.4" stroke-dasharray="1.1 2.2" stroke-linecap="butt" opacity="0.7"/>
<defs><path id="h205" d="M343.7 968.4 338.8 964.9 335.4 962.8" fill="none"/></defs>
<use href="#h205" stroke="#9a5406" stroke-width="5.6" stroke-linecap="round"/>
<use href="#h205" stroke="#e08a1c" stroke-width="4.4" stroke-linecap="round"/>
<use href="#h205" stroke="#f4f4f4" stroke-width="4.4" stroke-dasharray="1.1 2.2" stroke-linecap="butt" opacity="0.7"/>
<defs><path id="h206" d="M366.5 1029.7 372.5 1029.7 378.5 1030.1" fill="none"/></defs>
<use href="#h206" stroke="#9a5406" stroke-width="5.6" stroke-linecap="round"/>
<use href="#h206" stroke="#e08a1c" stroke-width="4.4" stroke-linecap="round"/>
<use href="#h206" stroke="#f4f4f4" stroke-width="4.4" stroke-dasharray="1.1 2.2" stroke-linecap="butt" opacity="0.7"/>
<defs><path id="h207" d="M378.5 1030.1 384.4 1030.8 386.4 1031.1" fill="none"/></defs>
<use href="#h207" stroke="#9a5406" stroke-width="5.6" stroke-linecap="round"/>
<use href="#h207" stroke="#e08a1c" stroke-width="4.4" stroke-linecap="round"/>
<use href="#h207" stroke="#f4f4f4" stroke-width="4.4" stroke-dasharray="1.1 2.2" stroke-linecap="butt" opacity="0.7"/>
<defs><path id="h208" d="M386.4 1031.1 388.4 1032.3 386.5 1032.8" fill="none"/></defs>
<use href="#h208" stroke="#9a5406" stroke-width="5.6" stroke-linecap="round"/>
<use href="#h208" stroke="#e08a1c" stroke-width="4.4" stroke-linecap="round"/>
<use href="#h208" stroke="#f4f4f4" stroke-width="4.4" stroke-dasharray="1.1 2.2" stroke-linecap="butt" opacity="0.7"/>
<defs><path id="h209" d="M386.5 1032.8 380.6 1034.3 376.8 1035.4" fill="none"/></defs>
<use href="#h209" stroke="#9a5406" stroke-width="5.6" stroke-linecap="round"/>
<use href="#h209" stroke="#e08a1c" stroke-width="4.4" stroke-linecap="round"/>
<use href="#h209" stroke="#f4f4f4" stroke-width="4.4" stroke-dasharray="1.1 2.2" stroke-linecap="butt" opacity="0.7"/>
<defs><path id="h210" d="M334.5 1020.3 335.0 1014.3 335.2 1012.3" fill="none"/></defs>
<use href="#h210" stroke="#9a5406" stroke-width="5.6" stroke-linecap="round"/>
<use href="#h210" stroke="#e08a1c" stroke-width="4.4" stroke-linecap="round"/>
<use href="#h210" stroke="#f4f4f4" stroke-width="4.4" stroke-dasharray="1.1 2.2" stroke-linecap="butt" opacity="0.7"/>
<defs><path id="h211" d="M342.8 1000.9 348.8 1001.0 352.8 1001.1" fill="none"/></defs>
<use href="#h211" stroke="#9a5406" stroke-width="5.6" stroke-linecap="round"/>
<use href="#h211" stroke="#e08a1c" stroke-width="4.4" stroke-linecap="round"/>
<use href="#h211" stroke="#f4f4f4" stroke-width="4.4" stroke-dasharray="1.1 2.2" stroke-linecap="butt" opacity="0.7"/>
<path d="M602.9 1060.6 600.9 1063.9 597.1 1063.6M592.8 1044.1 595.6 1041.6 599.2 1042.9M602.5 1062.6 599.4 1064.8 596.0 1063.1M592.6 1056.3 589.3 1054.7 585.7 1053.1 586.7 1049.2M583.4 1039.8 581.0 1042.8 577.3 1042.0M585.9 1041.3 586.7 1045.0 583.7 1047.4M584.8 1038.6 585.3 1042.4 582.2 1044.6M620.3 1050.4 618.5 1053.8 614.6 1053.7M608.5 1039.0 611.1 1036.1 614.8 1037.0M605.8 1085.0 603.7 1088.2 599.9 1087.8M595.0 1072.5 597.4 1069.5 601.1 1070.3M605.0 1079.5 602.9 1082.7 599.1 1082.2M591.2 1073.2 587.5 1073.9 586.5 1077.6M586.5 1058.2 583.3 1056.5 579.8 1054.5M571.4 1040.9 575.3 1041.5 577.8 1039.8 577.5 1037.8M580.5 1053.5 577.6 1056.0 574.1 1054.5M614.0 1069.9 616.8 1072.8 620.6 1073.7 624.6 1073.7 626.4 1074.6M630.6 1092.0 633.0 1089.0 636.7 1089.8M605.4 1068.1 607.4 1064.8 611.2 1065.2M620.3 1080.7 624.1 1080.8 625.9 1077.4M621.8 1057.9 618.3 1056.4 615.4 1058.9M586.2 1048.7 589.8 1047.0 593.6 1046.7 595.8 1043.3M590.9 1032.4 593.2 1029.4 596.9 1030.1M605.3 1043.7 609.1 1043.8 610.9 1040.4M623.9 1043.9 623.3 1047.4 622.2 1051.0 624.2 1051.1M632.9 1069.1 636.7 1069.3 638.6 1066.0M633.9 1093.1 631.6 1096.1 628.8 1093.2 626.2 1090.3M580.4 1054.4 579.3 1058.1 578.0 1061.9M578.0 1061.9 576.4 1065.6 576.8 1069.5 573.7 1070.9 571.8 1070.2M566.2 1059.6 568.2 1056.3 572.0 1056.6M574.7 1076.0 576.2 1079.5 576.9 1083.2 575.4 1086.4M575.4 1086.4 571.7 1086.4 575.2 1084.9 576.9 1083.7M591.7 1069.9 595.5 1070.7 597.9 1067.8M593.9 1058.6 596.3 1055.6 600.0 1056.3M603.7 1065.7 607.4 1066.4 609.8 1063.5M603.1 1049.0 599.3 1048.3 597.0 1051.3M606.8 1028.9 602.9 1029.4 599.2 1030.4 597.9 1032.0 599.1 1033.6M599.1 1033.6 602.8 1033.4 606.4 1034.8 607.3 1036.6M614.2 1053.2 618.0 1053.7 620.2 1050.6M607.3 1105.6 609.5 1108.7 611.6 1112.1 611.9 1110.1M607.3 1099.1 603.5 1098.8 601.5 1102.1M602.9 1109.4 602.4 1105.6 605.6 1103.5M625.0 1091.5 628.6 1093.2 630.3 1094.3M630.3 1094.3 633.4 1096.8 632.3 1100.5 629.1 1101.1M620.6 1090.0 622.1 1086.4 625.9 1086.2M604.2 1102.7 603.6 1098.9 600.3 1097.1 598.0 1094.7M598.0 1094.7 597.2 1090.7 593.5 1089.4 589.7 1089.0M589.7 1089.0 585.9 1088.6 582.3 1086.9 580.5 1090.2M630.0 1102.6 632.0 1099.2 632.7 1095.3 631.4 1092.4 631.9 1090.5M631.9 1090.5 634.9 1088.1 638.8 1088.9M637.7 1072.9 634.4 1071.0 631.2 1073.0M637.7 1068.7 641.0 1070.7 638.3 1072.8 634.5 1072.8 633.2 1071.4M633.2 1071.4 630.0 1069.3 628.0 1069.1M628.0 1069.1 628.7 1065.6 629.6 1061.8 631.6 1061.5M607.9 1053.4 611.6 1054.1 614.0 1051.1M610.4 1041.7 612.7 1038.7 616.4 1039.4M626.9 1093.3 623.7 1095.1 620.2 1096.8M623.6 1106.2 627.3 1107.2 629.9 1104.4M625.3 1095.5 621.5 1095.3 619.6 1098.5M613.9 1090.7 610.3 1089.5 607.6 1092.3M583.3 1085.4 585.5 1088.4 587.1 1089.5M594.6 1108.0 596.6 1111.4 599.0 1110.8 600.3 1109.3M642.8 1081.0 642.3 1084.9 638.3 1085.3 637.0 1086.8M569.9 1077.0 566.7 1075.6 566.8 1071.6 567.0 1068.1 565.5 1066.7M571.1 1069.7 574.6 1068.2 574.9 1064.4M573.5 1048.5 575.6 1046.6 579.6 1046.5 581.5 1043.0 583.2 1041.9M596.6 1034.2 593.1 1035.4 589.2 1035.1 585.5 1035.5M592.4 1052.1 596.2 1052.5 598.3 1049.3M597.1 1038.0 596.7 1041.8 593.2 1043.2M619.2 1048.6 616.2 1046.2 617.1 1042.5M618.5 1052.4 615.5 1054.7 612.0 1053.1M604.8 1034.5 606.6 1031.1 610.5 1031.2M592.9 1039.1 590.5 1042.1 586.8 1041.3M593.0 1042.0 596.7 1040.8 597.3 1037.1" fill="none" stroke="#4a4a4a" stroke-width="0.9" stroke-linejoin="round"/>
<path d="M598.9 1051.5 601.2 1057.0 602.0 1058.9M597.1 1063.6 595.3 1057.9 594.2 1052.0 593.2 1046.1 593.2 1046.1M599.2 1042.9 600.8 1048.7 601.8 1054.6 602.3 1060.6 602.3 1060.6M586.7 1049.2 584.7 1043.6 582.7 1037.9 582.7 1037.9M577.3 1042.0 578.3 1038.8 584.0 1040.6 584.0 1040.6M583.7 1047.4 581.2 1041.9 579.2 1036.3 582.9 1037.8M611.0 1032.7 613.5 1038.2 616.3 1043.5 619.3 1048.7 619.3 1048.7M614.6 1053.7 612.0 1048.3 609.8 1042.8 609.1 1040.9M599.1 1070.5 601.7 1075.9 604.1 1081.4 604.9 1083.2M599.9 1087.8 598.1 1082.1 596.3 1076.3 595.7 1074.4M601.1 1070.3 603.4 1075.9 604.2 1077.7M599.1 1082.2 595.3 1077.6 592.6 1074.6M579.8 1054.5 576.6 1049.4 573.4 1044.3 572.4 1042.6M577.5 1037.8 578.9 1043.6 579.8 1049.5 580.2 1051.5M626.4 1074.6 628.7 1080.1 630.4 1085.9 631.9 1091.7 631.9 1091.7M632.5 1093.6 633.4 1099.5 631.3 1093.9 631.3 1093.9M610.9 1080.9 608.7 1075.4 606.3 1069.9 606.3 1069.9M611.2 1065.2 614.3 1070.3 617.4 1075.5 619.3 1079.0M625.9 1077.4 624.5 1071.6 623.2 1065.8 622.1 1059.9 622.1 1059.9M595.8 1043.3 593.2 1038.0 591.6 1034.3M596.9 1030.1 600.0 1035.2 603.3 1040.3 604.3 1042.0M624.2 1051.1 627.1 1056.4 629.3 1062.0 631.9 1067.4 631.9 1067.4M638.6 1066.0 636.0 1060.5 633.8 1055.0 631.3 1049.5 631.3 1049.5M630.6 1078.6 633.7 1083.8 636.3 1089.2 635.6 1092.0M620.7 1079.7 619.1 1073.9 617.4 1068.2 616.0 1062.3 616.0 1062.3M571.8 1070.2 569.2 1064.8 567.1 1061.3M576.9 1083.7 575.4 1077.9 573.8 1072.1 572.7 1068.3M572.2 1066.4 569.9 1060.8 567.9 1055.2 567.9 1055.2M586.9 1054.7 588.7 1060.4 590.4 1066.2 591.1 1068.1M597.9 1067.8 595.4 1062.3 594.6 1060.5M600.0 1056.3 602.3 1061.9 603.0 1063.8M609.8 1063.5 607.1 1058.1 604.7 1052.6 603.8 1050.8M608.8 1032.6 606.7 1027.0 608.5 1027.8M607.3 1036.6 609.4 1042.2 611.7 1047.7 613.4 1051.3M611.9 1110.1 609.9 1104.5 608.2 1100.9M601.5 1102.1 604.7 1107.1 608.3 1111.9 604.7 1110.2M585.8 1075.9 582.8 1070.6 580.2 1065.2 577.5 1059.9 577.5 1059.9M576.6 1058.1 574.7 1052.4 572.4 1046.9 572.4 1046.9M571.6 1045.0 572.0 1040.6 577.7 1038.8 579.6 1038.3M629.1 1101.1 625.4 1096.4 621.7 1091.6 621.7 1091.6M625.9 1086.2 628.7 1091.5 630.5 1095.1M580.5 1090.2 581.4 1096.1 581.7 1098.1 581.4 1096.1M626.5 1095.2 628.5 1100.9 630.1 1106.6 630.0 1104.6M638.8 1088.9 639.0 1086.8 638.3 1080.9 637.7 1074.9 637.7 1074.9M631.6 1061.5 634.0 1067.0 635.6 1070.7M599.3 1035.3 602.1 1040.6 604.8 1046.0 607.2 1051.5 607.2 1051.5M614.0 1051.1 611.8 1045.5 611.1 1043.6M616.4 1039.4 618.3 1045.1 618.9 1047.0M620.2 1096.8 622.5 1102.3 623.1 1104.2M629.9 1104.4 627.2 1099.0 626.2 1097.3M619.6 1098.5 620.3 1104.5 618.8 1107.4 618.8 1107.4M617.1 1106.4 615.9 1100.5 614.8 1094.6 614.4 1092.6M587.1 1089.5 589.3 1095.1 591.5 1100.7 593.8 1106.2 593.8 1106.2M600.3 1109.3 598.7 1103.5 596.6 1097.9 594.7 1092.2 594.7 1092.2M565.5 1066.7 567.8 1067.3 569.4 1068.5M574.9 1064.4 574.3 1058.4 574.0 1052.4 573.7 1050.4M585.5 1035.5 587.5 1041.1 589.9 1046.6 591.6 1050.3M598.3 1049.3 596.2 1043.7 594.6 1040.1M593.9 1038.2 590.8 1033.1 595.5 1036.8 595.5 1036.8M634.1 1047.6 630.5 1044.7 624.8 1046.7 621.1 1048.0M617.1 1042.5 618.0 1048.4 618.2 1050.4M612.0 1053.1 610.5 1047.3 608.5 1041.6 605.9 1036.2 605.9 1036.2M591.5 1041.4 590.7 1035.5 591.0 1033.4 592.2 1037.2M586.8 1041.3 585.5 1035.4 590.0 1039.4 591.5 1040.7M597.3 1037.1 596.2 1031.2 595.6 1029.3" fill="none" stroke="#4a4a4a" stroke-width="3.8"/>
<path d="M598.9 1051.5 601.2 1057.0 602.0 1058.9M597.1 1063.6 595.3 1057.9 594.2 1052.0 593.2 1046.1 593.2 1046.1M599.2 1042.9 600.8 1048.7 601.8 1054.6 602.3 1060.6 602.3 1060.6M586.7 1049.2 584.7 1043.6 582.7 1037.9 582.7 1037.9M577.3 1042.0 578.3 1038.8 584.0 1040.6 584.0 1040.6M583.7 1047.4 581.2 1041.9 579.2 1036.3 582.9 1037.8M611.0 1032.7 613.5 1038.2 616.3 1043.5 619.3 1048.7 619.3 1048.7M614.6 1053.7 612.0 1048.3 609.8 1042.8 609.1 1040.9M599.1 1070.5 601.7 1075.9 604.1 1081.4 604.9 1083.2M599.9 1087.8 598.1 1082.1 596.3 1076.3 595.7 1074.4M601.1 1070.3 603.4 1075.9 604.2 1077.7M599.1 1082.2 595.3 1077.6 592.6 1074.6M579.8 1054.5 576.6 1049.4 573.4 1044.3 572.4 1042.6M577.5 1037.8 578.9 1043.6 579.8 1049.5 580.2 1051.5M626.4 1074.6 628.7 1080.1 630.4 1085.9 631.9 1091.7 631.9 1091.7M632.5 1093.6 633.4 1099.5 631.3 1093.9 631.3 1093.9M610.9 1080.9 608.7 1075.4 606.3 1069.9 606.3 1069.9M611.2 1065.2 614.3 1070.3 617.4 1075.5 619.3 1079.0M625.9 1077.4 624.5 1071.6 623.2 1065.8 622.1 1059.9 622.1 1059.9M595.8 1043.3 593.2 1038.0 591.6 1034.3M596.9 1030.1 600.0 1035.2 603.3 1040.3 604.3 1042.0M624.2 1051.1 627.1 1056.4 629.3 1062.0 631.9 1067.4 631.9 1067.4M638.6 1066.0 636.0 1060.5 633.8 1055.0 631.3 1049.5 631.3 1049.5M630.6 1078.6 633.7 1083.8 636.3 1089.2 635.6 1092.0M620.7 1079.7 619.1 1073.9 617.4 1068.2 616.0 1062.3 616.0 1062.3M571.8 1070.2 569.2 1064.8 567.1 1061.3M576.9 1083.7 575.4 1077.9 573.8 1072.1 572.7 1068.3M572.2 1066.4 569.9 1060.8 567.9 1055.2 567.9 1055.2M586.9 1054.7 588.7 1060.4 590.4 1066.2 591.1 1068.1M597.9 1067.8 595.4 1062.3 594.6 1060.5M600.0 1056.3 602.3 1061.9 603.0 1063.8M609.8 1063.5 607.1 1058.1 604.7 1052.6 603.8 1050.8M608.8 1032.6 606.7 1027.0 608.5 1027.8M607.3 1036.6 609.4 1042.2 611.7 1047.7 613.4 1051.3M611.9 1110.1 609.9 1104.5 608.2 1100.9M601.5 1102.1 604.7 1107.1 608.3 1111.9 604.7 1110.2M585.8 1075.9 582.8 1070.6 580.2 1065.2 577.5 1059.9 577.5 1059.9M576.6 1058.1 574.7 1052.4 572.4 1046.9 572.4 1046.9M571.6 1045.0 572.0 1040.6 577.7 1038.8 579.6 1038.3M629.1 1101.1 625.4 1096.4 621.7 1091.6 621.7 1091.6M625.9 1086.2 628.7 1091.5 630.5 1095.1M580.5 1090.2 581.4 1096.1 581.7 1098.1 581.4 1096.1M626.5 1095.2 628.5 1100.9 630.1 1106.6 630.0 1104.6M638.8 1088.9 639.0 1086.8 638.3 1080.9 637.7 1074.9 637.7 1074.9M631.6 1061.5 634.0 1067.0 635.6 1070.7M599.3 1035.3 602.1 1040.6 604.8 1046.0 607.2 1051.5 607.2 1051.5M614.0 1051.1 611.8 1045.5 611.1 1043.6M616.4 1039.4 618.3 1045.1 618.9 1047.0M620.2 1096.8 622.5 1102.3 623.1 1104.2M629.9 1104.4 627.2 1099.0 626.2 1097.3M619.6 1098.5 620.3 1104.5 618.8 1107.4 618.8 1107.4M617.1 1106.4 615.9 1100.5 614.8 1094.6 614.4 1092.6M587.1 1089.5 589.3 1095.1 591.5 1100.7 593.8 1106.2 593.8 1106.2M600.3 1109.3 598.7 1103.5 596.6 1097.9 594.7 1092.2 594.7 1092.2M565.5 1066.7 567.8 1067.3 569.4 1068.5M574.9 1064.4 574.3 1058.4 574.0 1052.4 573.7 1050.4M585.5 1035.5 587.5 1041.1 589.9 1046.6 591.6 1050.3M598.3 1049.3 596.2 1043.7 594.6 1040.1M593.9 1038.2 590.8 1033.1 595.5 1036.8 595.5 1036.8M634.1 1047.6 630.5 1044.7 624.8 1046.7 621.1 1048.0M617.1 1042.5 618.0 1048.4 618.2 1050.4M612.0 1053.1 610.5 1047.3 608.5 1041.6 605.9 1036.2 605.9 1036.2M591.5 1041.4 590.7 1035.5 591.0 1033.4 592.2 1037.2M586.8 1041.3 585.5 1035.4 590.0 1039.4 591.5 1040.7M597.3 1037.1 596.2 1031.2 595.6 1029.3" fill="none" stroke="#6a6a6a" stroke-width="3.0"/>
<path d="M599.4 1060.2L604.5 1057.6L604.0 1062.8ZM596.0 1045.6L590.4 1046.6L592.3 1041.8ZM599.5 1060.8L605.2 1060.3L602.7 1065.0ZM580.0 1038.9L585.4 1037.0L584.2 1042.1ZM583.0 1043.3L584.9 1037.9L588.1 1042.1ZM581.8 1040.4L584.0 1035.2L587.0 1039.5ZM616.8 1050.1L621.7 1047.3L621.5 1052.5ZM611.8 1040.0L606.4 1041.7L607.8 1036.7ZM602.4 1084.4L607.5 1082.0L606.8 1087.2ZM598.4 1073.4L593.1 1075.4L594.2 1070.3ZM601.6 1078.9L606.8 1076.5L606.0 1081.7ZM594.7 1072.7L590.5 1076.6L589.6 1071.4ZM574.8 1041.2L570.0 1044.1L570.1 1038.9ZM577.4 1051.9L583.0 1051.0L580.9 1055.8ZM629.2 1092.4L634.7 1090.9L633.1 1095.9ZM634.0 1092.9L628.6 1094.9L629.8 1089.8ZM608.9 1068.6L603.7 1071.1L604.4 1065.9ZM616.8 1080.5L621.8 1077.6L621.5 1082.8ZM625.0 1059.4L619.3 1060.3L621.5 1055.5ZM594.2 1033.3L588.9 1035.3L590.0 1030.2ZM601.9 1043.4L606.8 1040.5L606.6 1045.8ZM629.4 1068.7L634.4 1066.0L634.0 1071.2ZM633.9 1048.3L628.7 1050.7L629.5 1045.5ZM634.1 1089.6L637.1 1094.4L631.8 1094.3ZM618.8 1061.7L613.3 1062.9L615.1 1058.0ZM569.7 1060.1L564.6 1062.6L565.2 1057.4ZM575.5 1067.5L570.0 1069.1L571.5 1064.1ZM570.5 1054.2L565.2 1056.2L566.3 1051.1ZM588.4 1069.0L593.8 1067.1L592.5 1072.2ZM597.3 1059.5L592.0 1061.4L593.1 1056.3ZM600.3 1064.7L605.7 1062.8L604.5 1067.9ZM606.4 1049.8L601.1 1051.9L602.2 1046.7ZM607.0 1025.4L610.0 1030.2L604.8 1030.1ZM610.8 1052.4L616.1 1050.2L615.2 1055.4ZM610.7 1099.5L605.7 1102.2L606.2 1097.0ZM605.9 1107.6L603.5 1112.8L600.7 1108.4ZM580.1 1058.6L575.0 1061.2L575.5 1056.0ZM575.0 1045.9L569.7 1048.0L570.8 1042.8ZM580.5 1041.0L578.7 1035.6L583.8 1036.9ZM624.0 1089.9L619.4 1093.2L619.2 1088.0ZM627.9 1096.3L633.1 1093.9L632.4 1099.0ZM584.2 1095.7L578.6 1096.6L580.7 1091.8ZM632.9 1104.6L627.2 1104.7L630.0 1100.2ZM640.5 1074.9L634.8 1075.0L637.6 1070.5ZM633.0 1071.9L638.2 1069.5L637.4 1074.7ZM604.5 1052.5L609.9 1050.5L608.7 1055.6ZM613.8 1042.6L608.4 1044.6L609.5 1039.5ZM616.2 1047.7L621.7 1046.3L620.0 1051.3ZM620.3 1105.0L625.8 1103.5L624.3 1108.5ZM628.8 1095.9L623.7 1098.6L624.2 1093.4ZM620.3 1105.0L617.3 1109.9L615.0 1105.2ZM617.2 1091.9L611.7 1093.3L613.4 1088.4ZM591.2 1107.2L596.5 1105.1L595.4 1110.3ZM597.4 1091.4L592.0 1093.0L593.4 1088.0ZM567.8 1070.8L571.1 1066.2L573.0 1071.1ZM576.6 1050.0L570.9 1050.8L573.1 1046.1ZM589.0 1051.4L594.2 1049.1L593.4 1054.2ZM597.3 1039.0L591.9 1041.1L593.0 1035.9ZM593.7 1039.1L597.2 1034.5L599.0 1039.5ZM620.2 1045.3L621.9 1050.7L616.9 1049.4ZM615.4 1050.7L621.1 1050.1L618.7 1054.7ZM608.3 1034.8L603.4 1037.7L603.6 1032.4ZM589.5 1038.2L594.8 1036.2L593.7 1041.3ZM589.6 1042.8L593.4 1038.5L594.8 1043.6ZM592.8 1029.4L598.5 1029.2L595.8 1033.7Z" fill="#6a6a6a"/>
<defs><path id="h212" d="M626.2 1090.3 623.5 1085.0 620.7 1079.7" fill="none"/></defs>
<use href="#h212" stroke="#4a4a4a" stroke-width="6.7" stroke-linecap="round"/>
<use href="#h212" stroke="#6a6a6a" stroke-width="5.5" stroke-linecap="round"/>
<use href="#h212" stroke="#000" stroke-width="5.5" stroke-dasharray="0.9 2.3" stroke-linecap="butt" opacity="0.45"/>
<defs><path id="h213" d="M634.5 1062.8 636.8 1068.4 639.3 1073.9 641.9 1079.3 642.8 1081.0" fill="none"/></defs>
<use href="#h213" stroke="#4a4a4a" stroke-width="6.7" stroke-linecap="round"/>
<use href="#h213" stroke="#6a6a6a" stroke-width="5.5" stroke-linecap="round"/>
<use href="#h213" stroke="#000" stroke-width="5.5" stroke-dasharray="0.9 2.3" stroke-linecap="butt" opacity="0.45"/>
<path d="M630.1 981.3 631.6 977.6 635.0 979.3 639.0 979.2M639.0 979.2 640.6 982.2 643.5 984.9M634.7 1002.7 630.9 1002.3 629.5 998.8M658.7 998.5 655.4 996.5 654.9 994.5M650.9 995.3 647.1 996.1 643.2 995.7 641.3 996.5M619.8 1013.9 617.6 1010.7 613.8 1011.1M617.0 1010.3 615.0 1007.0 611.1 1007.3M633.0 1033.0 634.2 1036.5 632.3 1040.0 628.8 1038.1M628.8 1038.1 627.4 1034.4 630.3 1033.9 632.6 1037.2 633.1 1039.2M622.0 1038.7 621.8 1034.8 621.8 1032.8M621.7 1015.9 623.0 1012.2 623.1 1010.2M623.1 1010.2 624.6 1006.6 623.3 1005.2M631.8 987.1 635.6 986.6 637.8 989.7M630.6 999.3 626.8 999.1 625.3 995.6M634.0 987.3 637.6 988.4 638.3 992.2M618.6 1031.9 615.3 1029.9 612.1 1032.0M621.1 1039.2 624.0 1036.7 623.0 1033.0M615.6 1033.1 612.1 1031.6 609.2 1034.1M634.9 991.6 636.4 995.2 640.2 995.5M635.9 997.4 632.0 997.1 630.5 993.6M642.9 1004.6 644.6 1008.1 648.4 1008.2M618.0 1012.9 621.7 1012.3 624.0 1015.4M612.4 1031.7 608.6 1031.5 607.1 1028.0M609.4 996.9 607.6 1000.5 605.4 1003.8 605.0 1005.8M605.0 1005.8 607.5 1008.5 606.2 1010.0M606.2 1010.0 608.2 1013.1 611.1 1010.8 614.3 1013.2M614.3 1013.2 618.1 1012.2 621.3 1013.8 622.9 1016.4M626.3 1029.5 626.6 1033.1 630.5 1033.7 632.6 1036.7 634.1 1038.0M630.0 1040.4 633.6 1039.0 636.4 1041.6M624.2 1035.4 620.4 1035.7 618.9 1039.2M651.9 1023.3 650.4 1019.7 646.6 1019.5M636.3 1034.2 632.5 1034.2 630.9 1030.7M637.4 1016.1 635.2 1013.0 631.4 1013.5M608.4 1027.7 607.4 1024.2 609.2 1020.8 608.5 1019.0M623.1 1005.4 622.0 1001.7 618.3 1001.0M628.4 981.1 630.6 977.8 634.6 977.6M634.6 977.6 637.9 979.7 638.4 983.5 639.9 987.2M639.9 987.2 640.4 991.0 643.6 992.6M613.7 1037.8 613.0 1037.5 616.4 1035.8M616.4 1035.8 617.5 1032.2 620.6 1031.9 621.9 1033.4M631.7 1031.1 634.8 1030.9 638.1 1033.0 639.7 1036.7M633.6 1041.0 630.3 1039.1 627.1 1041.2M626.7 1035.1 623.4 1033.1 620.2 1035.2M613.6 1031.0 616.1 1028.1 619.8 1029.0M638.7 1030.9 639.0 1027.1 642.5 1025.6M650.8 1021.2 649.7 1017.5 646.0 1016.9M623.9 1040.0 620.2 1039.1 619.4 1035.3M626.4 1020.7 624.3 1017.5 620.5 1018.0M609.0 1031.9 610.3 1035.5 614.1 1035.9M621.3 1026.4 625.1 1026.8 626.4 1030.4" fill="none" stroke="#8c8c8c" stroke-width="0.9" stroke-linejoin="round"/>
<path d="M623.7 996.0 626.0 990.5 628.3 984.9 629.2 983.1M643.5 984.9 641.5 990.5 639.1 996.0 635.9 1001.1 635.9 1001.1M654.9 994.5 658.9 995.8 652.9 995.5 652.9 995.5M641.3 996.5 638.3 1001.7 636.2 1005.1M609.2 1033.1 611.9 1027.8 613.9 1024.3M614.9 1022.6 618.0 1017.5 618.9 1015.7M613.8 1011.1 610.8 1016.3 607.8 1021.5 607.8 1021.5M606.7 1023.2 603.6 1021.5 600.8 1016.3 598.5 1013.0M607.9 1028.1 610.9 1022.9 613.4 1017.4 616.0 1012.0 616.0 1012.0M611.1 1007.3 608.7 1012.8 606.4 1018.3 604.7 1024.1 604.7 1024.1M633.1 1039.2 628.8 1043.3 624.6 1041.8 623.3 1040.3M623.3 1005.2 625.9 999.8 628.3 994.3 631.0 988.9 631.0 988.9M637.8 989.7 634.1 994.5 631.7 997.7M625.3 995.6 629.5 991.3 632.5 988.7M619.1 1040.0 618.5 1037.9 618.7 1033.9M612.1 1032.0 611.7 1035.8 617.3 1037.9 619.2 1038.6M623.0 1033.0 619.3 1037.7 616.7 1039.1 615.9 1035.1M642.4 979.8 639.4 985.0 636.1 990.0 636.1 990.0M640.2 995.5 643.1 990.3 646.1 985.1 646.1 985.1M647.2 983.4 643.3 987.9 639.5 992.6 637.0 995.7M649.5 994.1 652.9 989.2 657.7 992.8 653.8 991.9M651.9 991.4 648.6 996.4 645.1 1001.3 644.0 1003.0M648.4 1008.2 651.9 1003.3 655.4 998.4 656.5 996.8M618.6 1034.4 615.1 1039.3 613.1 1033.6 610.5 1028.2 610.5 1028.2M609.6 1026.4 613.3 1021.7 616.4 1016.6 617.2 1014.8M624.0 1015.4 620.4 1020.2 617.1 1025.1 613.6 1030.0 613.6 1030.0M634.1 1038.0 630.6 1042.8 629.7 1042.4M636.4 1041.6 632.8 1046.4 629.0 1041.8 625.4 1037.0 625.4 1037.0M641.8 1040.5 644.8 1035.3 647.6 1030.0 650.7 1024.9 650.7 1024.9M646.6 1019.5 643.1 1024.4 639.5 1029.2 637.4 1032.6M630.9 1030.7 633.3 1025.3 635.7 1019.8 636.6 1018.0M614.5 1016.9 611.9 1022.3 609.8 1027.9 608.4 1029.7 608.4 1029.7M608.5 1019.0 612.6 1014.7 617.2 1010.8 621.8 1006.9 621.8 1006.9M621.2 993.1 624.3 988.0 627.3 982.8 627.3 982.8M621.7 1019.5 618.9 1024.8 616.7 1030.4 614.5 1036.0 614.5 1036.0M621.9 1033.4 618.6 1038.4 617.7 1040.2M639.7 1036.7 637.0 1042.0 633.6 1047.0 633.7 1043.0M627.1 1041.2 626.8 1039.1 626.7 1037.1M620.2 1035.2 617.2 1040.3 614.9 1034.8 614.2 1032.9M652.0 1029.3 648.6 1034.3 647.8 1036.2 650.9 1033.7M649.0 1033.1 645.3 1035.4 640.3 1032.1 640.3 1032.1M642.5 1025.6 639.0 1030.5 635.3 1035.3 635.3 1035.3M644.2 1028.7 648.1 1024.2 649.5 1022.7M646.0 1016.9 641.9 1021.3 637.8 1025.6 635.0 1028.5M633.7 1030.0 629.6 1034.4 625.4 1038.7 625.4 1038.7M622.8 1030.0 624.8 1024.3 625.6 1022.5M620.5 1018.0 616.5 1022.5 612.6 1027.0 610.3 1030.3M614.1 1035.9 617.7 1031.1 620.1 1027.9M626.4 1030.4 622.8 1035.2 619.5 1040.2 619.5 1040.2" fill="none" stroke="#8c8c8c" stroke-width="3.8"/>
<path d="M623.7 996.0 626.0 990.5 628.3 984.9 629.2 983.1M643.5 984.9 641.5 990.5 639.1 996.0 635.9 1001.1 635.9 1001.1M654.9 994.5 658.9 995.8 652.9 995.5 652.9 995.5M641.3 996.5 638.3 1001.7 636.2 1005.1M609.2 1033.1 611.9 1027.8 613.9 1024.3M614.9 1022.6 618.0 1017.5 618.9 1015.7M613.8 1011.1 610.8 1016.3 607.8 1021.5 607.8 1021.5M606.7 1023.2 603.6 1021.5 600.8 1016.3 598.5 1013.0M607.9 1028.1 610.9 1022.9 613.4 1017.4 616.0 1012.0 616.0 1012.0M611.1 1007.3 608.7 1012.8 606.4 1018.3 604.7 1024.1 604.7 1024.1M633.1 1039.2 628.8 1043.3 624.6 1041.8 623.3 1040.3M623.3 1005.2 625.9 999.8 628.3 994.3 631.0 988.9 631.0 988.9M637.8 989.7 634.1 994.5 631.7 997.7M625.3 995.6 629.5 991.3 632.5 988.7M619.1 1040.0 618.5 1037.9 618.7 1033.9M612.1 1032.0 611.7 1035.8 617.3 1037.9 619.2 1038.6M623.0 1033.0 619.3 1037.7 616.7 1039.1 615.9 1035.1M642.4 979.8 639.4 985.0 636.1 990.0 636.1 990.0M640.2 995.5 643.1 990.3 646.1 985.1 646.1 985.1M647.2 983.4 643.3 987.9 639.5 992.6 637.0 995.7M649.5 994.1 652.9 989.2 657.7 992.8 653.8 991.9M651.9 991.4 648.6 996.4 645.1 1001.3 644.0 1003.0M648.4 1008.2 651.9 1003.3 655.4 998.4 656.5 996.8M618.6 1034.4 615.1 1039.3 613.1 1033.6 610.5 1028.2 610.5 1028.2M609.6 1026.4 613.3 1021.7 616.4 1016.6 617.2 1014.8M624.0 1015.4 620.4 1020.2 617.1 1025.1 613.6 1030.0 613.6 1030.0M634.1 1038.0 630.6 1042.8 629.7 1042.4M636.4 1041.6 632.8 1046.4 629.0 1041.8 625.4 1037.0 625.4 1037.0M641.8 1040.5 644.8 1035.3 647.6 1030.0 650.7 1024.9 650.7 1024.9M646.6 1019.5 643.1 1024.4 639.5 1029.2 637.4 1032.6M630.9 1030.7 633.3 1025.3 635.7 1019.8 636.6 1018.0M614.5 1016.9 611.9 1022.3 609.8 1027.9 608.4 1029.7 608.4 1029.7M608.5 1019.0 612.6 1014.7 617.2 1010.8 621.8 1006.9 621.8 1006.9M621.2 993.1 624.3 988.0 627.3 982.8 627.3 982.8M621.7 1019.5 618.9 1024.8 616.7 1030.4 614.5 1036.0 614.5 1036.0M621.9 1033.4 618.6 1038.4 617.7 1040.2M639.7 1036.7 637.0 1042.0 633.6 1047.0 633.7 1043.0M627.1 1041.2 626.8 1039.1 626.7 1037.1M620.2 1035.2 617.2 1040.3 614.9 1034.8 614.2 1032.9M652.0 1029.3 648.6 1034.3 647.8 1036.2 650.9 1033.7M649.0 1033.1 645.3 1035.4 640.3 1032.1 640.3 1032.1M642.5 1025.6 639.0 1030.5 635.3 1035.3 635.3 1035.3M644.2 1028.7 648.1 1024.2 649.5 1022.7M646.0 1016.9 641.9 1021.3 637.8 1025.6 635.0 1028.5M633.7 1030.0 629.6 1034.4 625.4 1038.7 625.4 1038.7M622.8 1030.0 624.8 1024.3 625.6 1022.5M620.5 1018.0 616.5 1022.5 612.6 1027.0 610.3 1030.3M614.1 1035.9 617.7 1031.1 620.1 1027.9M626.4 1030.4 622.8 1035.2 619.5 1040.2 619.5 1040.2" fill="none" stroke="#b8b8b8" stroke-width="3.0"/>
<path d="M631.8 984.4L626.6 981.9L631.1 979.2ZM633.6 999.4L638.2 1002.8L633.2 1004.6ZM653.1 992.7L652.7 998.3L648.5 995.1ZM633.9 1003.4L638.6 1006.7L633.7 1008.7ZM616.4 1025.8L611.5 1022.9L616.1 1020.5ZM621.5 1016.9L616.3 1014.5L620.8 1011.7ZM605.5 1019.9L610.2 1023.1L605.4 1025.2ZM597.3 1015.5L599.8 1010.4L602.5 1014.9ZM618.6 1013.3L613.5 1010.8L618.0 1008.1ZM603.7 1026.8L605.6 1021.4L608.8 1025.6ZM625.4 1038.4L621.1 1042.1L620.4 1036.9ZM633.6 990.1L628.4 987.8L632.8 984.9ZM629.4 996.0L634.1 999.3L629.2 1001.3ZM634.4 990.8L630.6 986.5L635.8 985.7ZM621.5 1033.8L615.8 1033.9L618.5 1029.5ZM618.3 1041.3L620.0 1035.9L623.4 1039.9ZM618.7 1034.7L613.1 1035.5L615.3 1030.8ZM633.8 988.3L638.4 991.7L633.5 993.6ZM648.5 986.7L643.8 983.5L648.6 981.4ZM634.7 994.1L639.3 997.3L634.5 999.3ZM654.6 989.1L653.1 994.7L649.6 990.8ZM641.6 1001.4L646.4 1004.5L641.6 1006.6ZM658.8 998.5L654.2 995.1L659.1 993.2ZM613.0 1026.8L608.0 1029.6L608.4 1024.3ZM619.9 1015.8L614.6 1013.7L618.9 1010.7ZM611.2 1028.4L615.9 1031.6L611.1 1033.6ZM632.5 1042.9L626.8 1041.9L630.4 1038.1ZM627.7 1035.3L623.1 1038.7L622.8 1033.4ZM653.0 1026.5L648.4 1023.2L653.3 1021.3ZM635.0 1031.0L639.8 1034.1L635.0 1036.3ZM639.2 1019.1L634.0 1016.8L638.4 1013.9ZM611.2 1029.7L605.5 1029.6L608.4 1025.3ZM623.9 1008.8L619.7 1005.0L624.7 1003.6ZM629.8 984.3L624.9 981.3L629.6 979.0ZM611.9 1034.8L617.1 1037.2L612.8 1040.0ZM620.1 1038.6L615.3 1041.7L615.3 1036.5ZM636.5 1042.9L630.8 1043.1L633.5 1038.6ZM629.6 1037.1L623.9 1037.1L626.7 1032.7ZM617.0 1032.0L611.5 1033.8L612.9 1028.7ZM651.7 1030.9L650.1 1036.4L646.7 1032.5ZM642.0 1029.8L638.7 1034.4L636.8 1029.5ZM633.0 1033.6L637.6 1037.0L632.7 1038.8ZM651.6 1024.6L647.3 1020.8L652.4 1019.4ZM632.8 1026.6L637.1 1030.4L632.1 1031.8ZM623.4 1036.6L627.3 1040.7L622.2 1041.7ZM628.2 1023.7L623.0 1021.3L627.4 1018.5ZM608.1 1028.5L612.5 1032.1L607.5 1033.7ZM622.3 1029.7L617.9 1026.2L622.8 1024.5ZM617.1 1038.6L621.8 1041.8L617.0 1043.8Z" fill="#b8b8b8"/>
<path d="M582.8 994.0 584.7 990.6 581.9 987.8 581.9 984.0 583.8 983.4M577.7 1028.9 580.8 1031.0 582.7 1031.6M590.4 1033.7 593.2 1036.5 594.8 1036.1 596.2 1034.7M596.2 1034.7 599.9 1034.1 603.6 1034.2 606.8 1032.0 607.5 1030.1M561.7 964.5 564.0 961.3 564.8 957.5 567.6 960.1 567.5 962.1M618.8 972.4 620.6 975.7 618.7 977.2 616.7 973.9M616.7 973.9 613.5 971.5 612.2 967.8 610.6 966.7M610.6 966.7 606.7 966.8 606.6 969.7 604.6 971.8 602.7 972.5M587.4 960.9 590.3 962.5 593.2 963.2 593.8 967.0 594.2 969.0M594.2 969.0 594.4 973.0 594.6 976.9 595.5 978.6M556.5 1004.8 555.2 1001.3 555.6 999.3M612.9 1010.3 615.9 1007.7 618.7 1005.0 619.5 1001.2 620.6 999.6M552.6 1013.8 556.0 1015.6 559.5 1013.9 563.3 1015.0 565.3 1015.2M550.9 1010.8 553.5 1009.8 557.0 1011.6M557.0 1011.6 558.4 1014.5 559.8 1018.1M571.1 1031.4 570.8 1027.6 571.0 1023.7M546.1 1004.7 542.4 1005.0 540.4 1005.0M589.8 1027.6 589.1 1031.3 587.4 1034.7 584.7 1037.5M584.7 1037.5 583.9 1041.3 581.9 1041.2M581.9 1041.2 578.1 1040.2 576.2 1038.5 576.3 1034.5M579.1 1018.2 579.7 1014.3 581.1 1012.9M609.1 1002.6 612.1 1000.6 615.2 1002.6 618.1 999.9 618.0 997.9M618.0 997.9 614.8 997.4 611.4 995.3M585.2 968.8 581.7 970.3 581.2 973.9 581.7 977.8 579.7 978.0M585.1 1004.4 581.3 1003.4 577.6 1002.0 573.7 1001.8M565.7 1001.8 561.9 1000.6 558.6 998.9M575.2 959.9 578.9 958.7 581.1 961.9 584.1 964.4M554.9 993.4 553.2 997.0 551.5 999.8 550.1 998.4" fill="none" stroke="#9a5406" stroke-width="1.1" stroke-linejoin="round"/>
<path d="M556.4 973.0 559.5 967.9 560.6 966.2M566.6 972.0 566.2 978.0 566.2 978.0M602.7 972.5 597.1 974.6 591.5 976.8 591.5 976.8M580.1 969.8 582.3 964.3 583.2 962.5M620.6 999.6 623.8 994.5 622.3 992.9 622.3 992.9M621.3 991.2 618.2 986.1 617.2 984.4M584.7 1019.8 590.3 1022.0 595.6 1024.8 595.6 1024.8M575.1 1008.3 577.0 1002.6 577.6 1000.7M597.7 975.0 592.6 971.9 587.1 969.4 587.1 969.4M572.9 970.4 577.5 966.5 580.7 964.0M582.3 962.9 587.6 960.1 593.0 957.4 593.0 957.4M573.7 1001.8 567.7 1001.8 567.7 1001.8M584.1 964.4 588.0 968.9 591.7 973.7 591.7 973.7M541.8 989.7 538.0 985.1 542.1 989.4 542.1 989.4" fill="none" stroke="#9a5406" stroke-width="3.8"/>
<path d="M556.4 973.0 559.5 967.9 560.6 966.2M566.6 972.0 566.2 978.0 566.2 978.0M602.7 972.5 597.1 974.6 591.5 976.8 591.5 976.8M580.1 969.8 582.3 964.3 583.2 962.5M620.6 999.6 623.8 994.5 622.3 992.9 622.3 992.9M621.3 991.2 618.2 986.1 617.2 984.4M584.7 1019.8 590.3 1022.0 595.6 1024.8 595.6 1024.8M575.1 1008.3 577.0 1002.6 577.6 1000.7M597.7 975.0 592.6 971.9 587.1 969.4 587.1 969.4M572.9 970.4 577.5 966.5 580.7 964.0M582.3 962.9 587.6 960.1 593.0 957.4 593.0 957.4M573.7 1001.8 567.7 1001.8 567.7 1001.8M584.1 964.4 588.0 968.9 591.7 973.7 591.7 973.7M541.8 989.7 538.0 985.1 542.1 989.4 542.1 989.4" fill="none" stroke="#e08a1c" stroke-width="3.0"/>
<path d="M563.1 967.7L558.2 964.7L562.9 962.5ZM563.3 977.9L569.0 978.1L566.0 982.4ZM590.3 974.3L592.8 979.4L587.6 978.7ZM585.7 963.8L580.7 961.2L585.3 958.6ZM624.8 991.4L619.9 994.5L620.0 989.2ZM619.8 983.1L614.7 985.7L615.2 980.4ZM594.2 1027.3L597.0 1022.3L599.5 1026.9ZM580.3 1001.7L574.9 999.6L579.2 996.6ZM588.1 966.7L586.2 972.1L583.0 967.9ZM582.3 966.4L579.1 961.7L584.3 961.6ZM592.8 954.6L593.2 960.3L588.6 957.7ZM567.6 998.9L567.7 1004.6L563.3 1001.8ZM589.4 975.5L593.9 971.9L594.4 977.2ZM540.1 991.5L544.1 987.4L545.3 992.5Z" fill="#e08a1c"/>
<defs><path id="h214" d="M579.5 1003.4 581.5 997.8 582.8 994.0" fill="none"/></defs>
<use href="#h214" stroke="#9a5406" stroke-width="5.6" stroke-linecap="round"/>
<use href="#h214" stroke="#e08a1c" stroke-width="4.4" stroke-linecap="round"/>
<use href="#h214" stroke="#f4f4f4" stroke-width="4.4" stroke-dasharray="1.1 2.2" stroke-linecap="butt" opacity="0.7"/>
<defs><path id="h215" d="M583.8 983.4 589.5 981.6 593.4 980.6" fill="none"/></defs>
<use href="#h215" stroke="#9a5406" stroke-width="5.6" stroke-linecap="round"/>
<use href="#h215" stroke="#e08a1c" stroke-width="4.4" stroke-linecap="round"/>
<use href="#h215" stroke="#f4f4f4" stroke-width="4.4" stroke-dasharray="1.1 2.2" stroke-linecap="butt" opacity="0.7"/>
<defs><path id="h216" d="M593.4 980.6 599.1 978.8 604.9 977.2" fill="none"/></defs>
<use href="#h216" stroke="#9a5406" stroke-width="5.6" stroke-linecap="round"/>
<use href="#h216" stroke="#e08a1c" stroke-width="4.4" stroke-linecap="round"/>
<use href="#h216" stroke="#f4f4f4" stroke-width="4.4" stroke-dasharray="1.1 2.2" stroke-linecap="butt" opacity="0.7"/>
<defs><path id="h217" d="M569.7 1029.0 575.7 1028.9 577.7 1028.9" fill="none"/></defs>
<use href="#h217" stroke="#9a5406" stroke-width="5.6" stroke-linecap="round"/>
<use href="#h217" stroke="#e08a1c" stroke-width="4.4" stroke-linecap="round"/>
<use href="#h217" stroke="#f4f4f4" stroke-width="4.4" stroke-dasharray="1.1 2.2" stroke-linecap="butt" opacity="0.7"/>
<defs><path id="h218" d="M582.7 1031.6 588.5 1033.2 590.4 1033.7" fill="none"/></defs>
<use href="#h218" stroke="#9a5406" stroke-width="5.6" stroke-linecap="round"/>
<use href="#h218" stroke="#e08a1c" stroke-width="4.4" stroke-linecap="round"/>
<use href="#h218" stroke="#f4f4f4" stroke-width="4.4" stroke-dasharray="1.1 2.2" stroke-linecap="butt" opacity="0.7"/>
<defs><path id="h219" d="M567.5 962.1 567.0 968.0 566.6 972.0" fill="none"/></defs>
<use href="#h219" stroke="#9a5406" stroke-width="5.6" stroke-linecap="round"/>
<use href="#h219" stroke="#e08a1c" stroke-width="4.4" stroke-linecap="round"/>
<use href="#h219" stroke="#f4f4f4" stroke-width="4.4" stroke-dasharray="1.1 2.2" stroke-linecap="butt" opacity="0.7"/>
<defs><path id="h220" d="M590.1 999.1 589.2 1005.0 588.5 1011.0 588.1 1012.9" fill="none"/></defs>
<use href="#h220" stroke="#9a5406" stroke-width="5.6" stroke-linecap="round"/>
<use href="#h220" stroke="#e08a1c" stroke-width="4.4" stroke-linecap="round"/>
<use href="#h220" stroke="#f4f4f4" stroke-width="4.4" stroke-dasharray="1.1 2.2" stroke-linecap="butt" opacity="0.7"/>
<defs><path id="h221" d="M588.1 1012.9 587.0 1018.8 586.1 1024.8 585.9 1026.8" fill="none"/></defs>
<use href="#h221" stroke="#9a5406" stroke-width="5.6" stroke-linecap="round"/>
<use href="#h221" stroke="#e08a1c" stroke-width="4.4" stroke-linecap="round"/>
<use href="#h221" stroke="#f4f4f4" stroke-width="4.4" stroke-dasharray="1.1 2.2" stroke-linecap="butt" opacity="0.7"/>
<defs><path id="h222" d="M585.9 1026.8 585.4 1032.7 585.2 1038.7" fill="none"/></defs>
<use href="#h222" stroke="#9a5406" stroke-width="5.6" stroke-linecap="round"/>
<use href="#h222" stroke="#e08a1c" stroke-width="4.4" stroke-linecap="round"/>
<use href="#h222" stroke="#f4f4f4" stroke-width="4.4" stroke-dasharray="1.1 2.2" stroke-linecap="butt" opacity="0.7"/>
<defs><path id="h223" d="M584.2 960.7 586.7 959.0 587.4 960.9" fill="none"/></defs>
<use href="#h223" stroke="#9a5406" stroke-width="5.6" stroke-linecap="round"/>
<use href="#h223" stroke="#e08a1c" stroke-width="4.4" stroke-linecap="round"/>
<use href="#h223" stroke="#f4f4f4" stroke-width="4.4" stroke-dasharray="1.1 2.2" stroke-linecap="butt" opacity="0.7"/>
<defs><path id="h224" d="M568.1 1024.2 573.1 1020.8 576.3 1018.5" fill="none"/></defs>
<use href="#h224" stroke="#9a5406" stroke-width="5.6" stroke-linecap="round"/>
<use href="#h224" stroke="#e08a1c" stroke-width="4.4" stroke-linecap="round"/>
<use href="#h224" stroke="#f4f4f4" stroke-width="4.4" stroke-dasharray="1.1 2.2" stroke-linecap="butt" opacity="0.7"/>
<defs><path id="h225" d="M576.3 1018.5 581.3 1015.1 586.2 1011.7 587.7 1010.4" fill="none"/></defs>
<use href="#h225" stroke="#9a5406" stroke-width="5.6" stroke-linecap="round"/>
<use href="#h225" stroke="#e08a1c" stroke-width="4.4" stroke-linecap="round"/>
<use href="#h225" stroke="#f4f4f4" stroke-width="4.4" stroke-dasharray="1.1 2.2" stroke-linecap="butt" opacity="0.7"/>
<defs><path id="h226" d="M587.7 1010.4 592.3 1006.5 593.8 1005.2" fill="none"/></defs>
<use href="#h226" stroke="#9a5406" stroke-width="5.6" stroke-linecap="round"/>
<use href="#h226" stroke="#e08a1c" stroke-width="4.4" stroke-linecap="round"/>
<use href="#h226" stroke="#f4f4f4" stroke-width="4.4" stroke-dasharray="1.1 2.2" stroke-linecap="butt" opacity="0.7"/>
<defs><path id="h227" d="M593.8 1005.2 598.5 1001.4 603.1 997.6 604.6 996.3" fill="none"/></defs>
<use href="#h227" stroke="#9a5406" stroke-width="5.6" stroke-linecap="round"/>
<use href="#h227" stroke="#e08a1c" stroke-width="4.4" stroke-linecap="round"/>
<use href="#h227" stroke="#f4f4f4" stroke-width="4.4" stroke-dasharray="1.1 2.2" stroke-linecap="butt" opacity="0.7"/>
<defs><path id="h228" d="M555.6 999.3 556.5 993.4 557.4 987.5 557.7 985.5" fill="none"/></defs>
<use href="#h228" stroke="#9a5406" stroke-width="5.6" stroke-linecap="round"/>
<use href="#h228" stroke="#e08a1c" stroke-width="4.4" stroke-linecap="round"/>
<use href="#h228" stroke="#f4f4f4" stroke-width="4.4" stroke-dasharray="1.1 2.2" stroke-linecap="butt" opacity="0.7"/>
<defs><path id="h229" d="M557.7 985.5 558.6 979.6 558.9 977.6" fill="none"/></defs>
<use href="#h229" stroke="#9a5406" stroke-width="5.6" stroke-linecap="round"/>
<use href="#h229" stroke="#e08a1c" stroke-width="4.4" stroke-linecap="round"/>
<use href="#h229" stroke="#f4f4f4" stroke-width="4.4" stroke-dasharray="1.1 2.2" stroke-linecap="butt" opacity="0.7"/>
<defs><path id="h230" d="M558.9 977.6 559.6 971.6 560.0 967.6" fill="none"/></defs>
<use href="#h230" stroke="#9a5406" stroke-width="5.6" stroke-linecap="round"/>
<use href="#h230" stroke="#e08a1c" stroke-width="4.4" stroke-linecap="round"/>
<use href="#h230" stroke="#f4f4f4" stroke-width="4.4" stroke-dasharray="1.1 2.2" stroke-linecap="butt" opacity="0.7"/>
<defs><path id="h231" d="M565.3 1015.2 571.2 1016.3 577.0 1017.5" fill="none"/></defs>
<use href="#h231" stroke="#9a5406" stroke-width="5.6" stroke-linecap="round"/>
<use href="#h231" stroke="#e08a1c" stroke-width="4.4" stroke-linecap="round"/>
<use href="#h231" stroke="#f4f4f4" stroke-width="4.4" stroke-dasharray="1.1 2.2" stroke-linecap="butt" opacity="0.7"/>
<defs><path id="h232" d="M577.0 1017.5 582.8 1019.1 584.7 1019.8" fill="none"/></defs>
<use href="#h232" stroke="#9a5406" stroke-width="5.6" stroke-linecap="round"/>
<use href="#h232" stroke="#e08a1c" stroke-width="4.4" stroke-linecap="round"/>
<use href="#h232" stroke="#f4f4f4" stroke-width="4.4" stroke-dasharray="1.1 2.2" stroke-linecap="butt" opacity="0.7"/>
<defs><path id="h233" d="M554.6 1024.6 549.0 1026.7 549.4 1020.7" fill="none"/></defs>
<use href="#h233" stroke="#9a5406" stroke-width="5.6" stroke-linecap="round"/>
<use href="#h233" stroke="#e08a1c" stroke-width="4.4" stroke-linecap="round"/>
<use href="#h233" stroke="#f4f4f4" stroke-width="4.4" stroke-dasharray="1.1 2.2" stroke-linecap="butt" opacity="0.7"/>
<defs><path id="h234" d="M549.4 1020.7 550.2 1014.8 550.9 1010.8" fill="none"/></defs>
<use href="#h234" stroke="#9a5406" stroke-width="5.6" stroke-linecap="round"/>
<use href="#h234" stroke="#e08a1c" stroke-width="4.4" stroke-linecap="round"/>
<use href="#h234" stroke="#f4f4f4" stroke-width="4.4" stroke-dasharray="1.1 2.2" stroke-linecap="butt" opacity="0.7"/>
<defs><path id="h235" d="M563.8 1034.8 569.3 1032.3 571.1 1031.4" fill="none"/></defs>
<use href="#h235" stroke="#9a5406" stroke-width="5.6" stroke-linecap="round"/>
<use href="#h235" stroke="#e08a1c" stroke-width="4.4" stroke-linecap="round"/>
<use href="#h235" stroke="#f4f4f4" stroke-width="4.4" stroke-dasharray="1.1 2.2" stroke-linecap="butt" opacity="0.7"/>
<defs><path id="h236" d="M571.0 1023.7 572.4 1017.9 572.9 1016.0" fill="none"/></defs>
<use href="#h236" stroke="#9a5406" stroke-width="5.6" stroke-linecap="round"/>
<use href="#h236" stroke="#e08a1c" stroke-width="4.4" stroke-linecap="round"/>
<use href="#h236" stroke="#f4f4f4" stroke-width="4.4" stroke-dasharray="1.1 2.2" stroke-linecap="butt" opacity="0.7"/>
<defs><path id="h237" d="M572.9 1016.0 574.6 1010.2 575.1 1008.3" fill="none"/></defs>
<use href="#h237" stroke="#9a5406" stroke-width="5.6" stroke-linecap="round"/>
<use href="#h237" stroke="#e08a1c" stroke-width="4.4" stroke-linecap="round"/>
<use href="#h237" stroke="#f4f4f4" stroke-width="4.4" stroke-dasharray="1.1 2.2" stroke-linecap="butt" opacity="0.7"/>
<defs><path id="h238" d="M553.7 998.2 549.1 1002.1 546.1 1004.7" fill="none"/></defs>
<use href="#h238" stroke="#9a5406" stroke-width="5.6" stroke-linecap="round"/>
<use href="#h238" stroke="#e08a1c" stroke-width="4.4" stroke-linecap="round"/>
<use href="#h238" stroke="#f4f4f4" stroke-width="4.4" stroke-dasharray="1.1 2.2" stroke-linecap="butt" opacity="0.7"/>
<defs><path id="h239" d="M540.4 1005.0 542.4 1005.5 546.4 1005.8" fill="none"/></defs>
<use href="#h239" stroke="#9a5406" stroke-width="5.6" stroke-linecap="round"/>
<use href="#h239" stroke="#e08a1c" stroke-width="4.4" stroke-linecap="round"/>
<use href="#h239" stroke="#f4f4f4" stroke-width="4.4" stroke-dasharray="1.1 2.2" stroke-linecap="butt" opacity="0.7"/>
<defs><path id="h240" d="M546.4 1005.8 552.4 1005.9 558.4 1005.9" fill="none"/></defs>
<use href="#h240" stroke="#9a5406" stroke-width="5.6" stroke-linecap="round"/>
<use href="#h240" stroke="#e08a1c" stroke-width="4.4" stroke-linecap="round"/>
<use href="#h240" stroke="#f4f4f4" stroke-width="4.4" stroke-dasharray="1.1 2.2" stroke-linecap="butt" opacity="0.7"/>
<defs><path id="h241" d="M558.4 1005.9 564.3 1006.4 570.3 1006.9 572.3 1007.1" fill="none"/></defs>
<use href="#h241" stroke="#9a5406" stroke-width="5.6" stroke-linecap="round"/>
<use href="#h241" stroke="#e08a1c" stroke-width="4.4" stroke-linecap="round"/>
<use href="#h241" stroke="#f4f4f4" stroke-width="4.4" stroke-dasharray="1.1 2.2" stroke-linecap="butt" opacity="0.7"/>
<defs><path id="h242" d="M576.3 1034.5 576.5 1028.5 576.6 1022.5 576.6 1020.5" fill="none"/></defs>
<use href="#h242" stroke="#9a5406" stroke-width="5.6" stroke-linecap="round"/>
<use href="#h242" stroke="#e08a1c" stroke-width="4.4" stroke-linecap="round"/>
<use href="#h242" stroke="#f4f4f4" stroke-width="4.4" stroke-dasharray="1.1 2.2" stroke-linecap="butt" opacity="0.7"/>
<defs><path id="h243" d="M609.5 995.8 615.5 995.9 621.5 996.2 623.5 996.3" fill="none"/></defs>
<use href="#h243" stroke="#9a5406" stroke-width="5.6" stroke-linecap="round"/>
<use href="#h243" stroke="#e08a1c" stroke-width="4.4" stroke-linecap="round"/>
<use href="#h243" stroke="#f4f4f4" stroke-width="4.4" stroke-dasharray="1.1 2.2" stroke-linecap="butt" opacity="0.7"/>
<defs><path id="h244" d="M623.5 996.3 619.9 1001.1 616.7 1006.2" fill="none"/></defs>
<use href="#h244" stroke="#9a5406" stroke-width="5.6" stroke-linecap="round"/>
<use href="#h244" stroke="#e08a1c" stroke-width="4.4" stroke-linecap="round"/>
<use href="#h244" stroke="#f4f4f4" stroke-width="4.4" stroke-dasharray="1.1 2.2" stroke-linecap="butt" opacity="0.7"/>
<defs><path id="h245" d="M616.7 1006.2 613.3 1011.1 609.9 1016.1 608.9 1017.8" fill="none"/></defs>
<use href="#h245" stroke="#9a5406" stroke-width="5.6" stroke-linecap="round"/>
<use href="#h245" stroke="#e08a1c" stroke-width="4.4" stroke-linecap="round"/>
<use href="#h245" stroke="#f4f4f4" stroke-width="4.4" stroke-dasharray="1.1 2.2" stroke-linecap="butt" opacity="0.7"/>
<defs><path id="h246" d="M579.4 1026.2 579.1 1020.2 579.1 1018.2" fill="none"/></defs>
<use href="#h246" stroke="#9a5406" stroke-width="5.6" stroke-linecap="round"/>
<use href="#h246" stroke="#e08a1c" stroke-width="4.4" stroke-linecap="round"/>
<use href="#h246" stroke="#f4f4f4" stroke-width="4.4" stroke-dasharray="1.1 2.2" stroke-linecap="butt" opacity="0.7"/>
<defs><path id="h247" d="M581.1 1012.9 585.4 1008.7 589.9 1004.8" fill="none"/></defs>
<use href="#h247" stroke="#9a5406" stroke-width="5.6" stroke-linecap="round"/>
<use href="#h247" stroke="#e08a1c" stroke-width="4.4" stroke-linecap="round"/>
<use href="#h247" stroke="#f4f4f4" stroke-width="4.4" stroke-dasharray="1.1 2.2" stroke-linecap="butt" opacity="0.7"/>
<defs><path id="h248" d="M589.9 1004.8 594.7 1001.2 597.8 998.6" fill="none"/></defs>
<use href="#h248" stroke="#9a5406" stroke-width="5.6" stroke-linecap="round"/>
<use href="#h248" stroke="#e08a1c" stroke-width="4.4" stroke-linecap="round"/>
<use href="#h248" stroke="#f4f4f4" stroke-width="4.4" stroke-dasharray="1.1 2.2" stroke-linecap="butt" opacity="0.7"/>
<defs><path id="h249" d="M599.6 1020.2 602.0 1014.7 604.8 1009.4" fill="none"/></defs>
<use href="#h249" stroke="#9a5406" stroke-width="5.6" stroke-linecap="round"/>
<use href="#h249" stroke="#e08a1c" stroke-width="4.4" stroke-linecap="round"/>
<use href="#h249" stroke="#f4f4f4" stroke-width="4.4" stroke-dasharray="1.1 2.2" stroke-linecap="butt" opacity="0.7"/>
<defs><path id="h250" d="M604.8 1009.4 608.0 1004.3 609.1 1002.6" fill="none"/></defs>
<use href="#h250" stroke="#9a5406" stroke-width="5.6" stroke-linecap="round"/>
<use href="#h250" stroke="#e08a1c" stroke-width="4.4" stroke-linecap="round"/>
<use href="#h250" stroke="#f4f4f4" stroke-width="4.4" stroke-dasharray="1.1 2.2" stroke-linecap="butt" opacity="0.7"/>
<defs><path id="h251" d="M609.4 982.7 604.5 979.3 599.5 976.0 597.7 975.0" fill="none"/></defs>
<use href="#h251" stroke="#9a5406" stroke-width="5.6" stroke-linecap="round"/>
<use href="#h251" stroke="#e08a1c" stroke-width="4.4" stroke-linecap="round"/>
<use href="#h251" stroke="#f4f4f4" stroke-width="4.4" stroke-dasharray="1.1 2.2" stroke-linecap="butt" opacity="0.7"/>
<defs><path id="h252" d="M556.8 982.2 561.7 978.8 566.6 975.2" fill="none"/></defs>
<use href="#h252" stroke="#9a5406" stroke-width="5.6" stroke-linecap="round"/>
<use href="#h252" stroke="#e08a1c" stroke-width="4.4" stroke-linecap="round"/>
<use href="#h252" stroke="#f4f4f4" stroke-width="4.4" stroke-dasharray="1.1 2.2" stroke-linecap="butt" opacity="0.7"/>
<defs><path id="h253" d="M566.6 975.2 571.4 971.6 572.9 970.4" fill="none"/></defs>
<use href="#h253" stroke="#9a5406" stroke-width="5.6" stroke-linecap="round"/>
<use href="#h253" stroke="#e08a1c" stroke-width="4.4" stroke-linecap="round"/>
<use href="#h253" stroke="#f4f4f4" stroke-width="4.4" stroke-dasharray="1.1 2.2" stroke-linecap="butt" opacity="0.7"/>
<defs><path id="h254" d="M593.1 998.4 588.2 1001.9 585.1 1004.4" fill="none"/></defs>
<use href="#h254" stroke="#9a5406" stroke-width="5.6" stroke-linecap="round"/>
<use href="#h254" stroke="#e08a1c" stroke-width="4.4" stroke-linecap="round"/>
<use href="#h254" stroke="#f4f4f4" stroke-width="4.4" stroke-dasharray="1.1 2.2" stroke-linecap="butt" opacity="0.7"/>
<defs><path id="h255" d="M574.0 963.1 571.6 957.6 573.7 958.5 575.2 959.9" fill="none"/></defs>
<use href="#h255" stroke="#9a5406" stroke-width="5.6" stroke-linecap="round"/>
<use href="#h255" stroke="#e08a1c" stroke-width="4.4" stroke-linecap="round"/>
<use href="#h255" stroke="#f4f4f4" stroke-width="4.4" stroke-dasharray="1.1 2.2" stroke-linecap="butt" opacity="0.7"/>
<defs><path id="h256" d="M592.9 975.3 596.5 980.1 600.0 984.9 601.2 986.6" fill="none"/></defs>
<use href="#h256" stroke="#9a5406" stroke-width="5.6" stroke-linecap="round"/>
<use href="#h256" stroke="#e08a1c" stroke-width="4.4" stroke-linecap="round"/>
<use href="#h256" stroke="#f4f4f4" stroke-width="4.4" stroke-dasharray="1.1 2.2" stroke-linecap="butt" opacity="0.7"/>
<defs><path id="h257" d="M550.1 998.4 545.8 994.2 541.8 989.7" fill="none"/></defs>
<use href="#h257" stroke="#9a5406" stroke-width="5.6" stroke-linecap="round"/>
<use href="#h257" stroke="#e08a1c" stroke-width="4.4" stroke-linecap="round"/>
<use href="#h257" stroke="#f4f4f4" stroke-width="4.4" stroke-dasharray="1.1 2.2" stroke-linecap="butt" opacity="0.7"/>
<line x1="512" y1="1048" x2="552" y2="1030" stroke="#9a5406" stroke-width="6.1" stroke-linecap="round"/>
<line x1="512" y1="1048" x2="552" y2="1030" stroke="#e08a1c" stroke-width="4.8" stroke-linecap="round"/>
<line x1="512" y1="1048" x2="552" y2="1030" stroke="#f2f2f2" stroke-width="4.3999999999999995" stroke-dasharray="1.1 2.2" opacity="0.75"/>
<line x1="516" y1="1058" x2="556" y2="1040" stroke="#9a5406" stroke-width="6.1" stroke-linecap="round"/>
<line x1="516" y1="1058" x2="556" y2="1040" stroke="#e08a1c" stroke-width="4.8" stroke-linecap="round"/>
<line x1="516" y1="1058" x2="556" y2="1040" stroke="#f2f2f2" stroke-width="4.3999999999999995" stroke-dasharray="1.1 2.2" opacity="0.75"/>
<path d="M475 1062C490 1055 500 1052 512 1048" fill="none" stroke="#e08a1c" stroke-width="1.2" />
<text x="399" y="957.2" font-size="21" font-weight="bold" fill="#c0600c">AF CM49-<tspan fill="#505050">Fc</tspan></text>
<line x1="459.0" y1="977.7" x2="459.0" y2="1022.4" stroke="#111" stroke-width="1.3" />
<path d="M452 993.5C460 993 481 994 480.3 997.5C479 1001 462 1002 444.9 1000" fill="none" stroke="#111" stroke-width="0.9" />
<text x="458.0" y="1035.5" font-size="9" font-weight="bold" fill="#111" text-anchor="middle" >90°</text>
<text x="1.0" y="21.0" font-size="26" font-weight="bold" fill="#000" text-anchor="start" >a</text>
<text x="417.5" y="17.5" font-size="26" font-weight="bold" fill="#000" text-anchor="start" >b</text>
<text x="0.0" y="238.7" font-size="26" font-weight="bold" fill="#000" text-anchor="start" >c</text>
<text x="0.0" y="389.8" font-size="26" font-weight="bold" fill="#000" text-anchor="start" >d</text>
<text x="0.0" y="534.8" font-size="26" font-weight="bold" fill="#000" text-anchor="start" >e</text>
<text x="0.0" y="743.7" font-size="26" font-weight="bold" fill="#000" text-anchor="start" >f</text>
<text x="245.0" y="745.5" font-size="26" font-weight="bold" fill="#000" text-anchor="start" >g</text>
<text x="464.5" y="744.6" font-size="26" font-weight="bold" fill="#000" text-anchor="start" >h</text>
<text x="0.0" y="952.2" font-size="26" font-weight="bold" fill="#000" text-anchor="start" >i</text>
<text x="228.0" y="952.2" font-size="26" font-weight="bold" fill="#000" text-anchor="start" >j</text>
</svg></body></html>
